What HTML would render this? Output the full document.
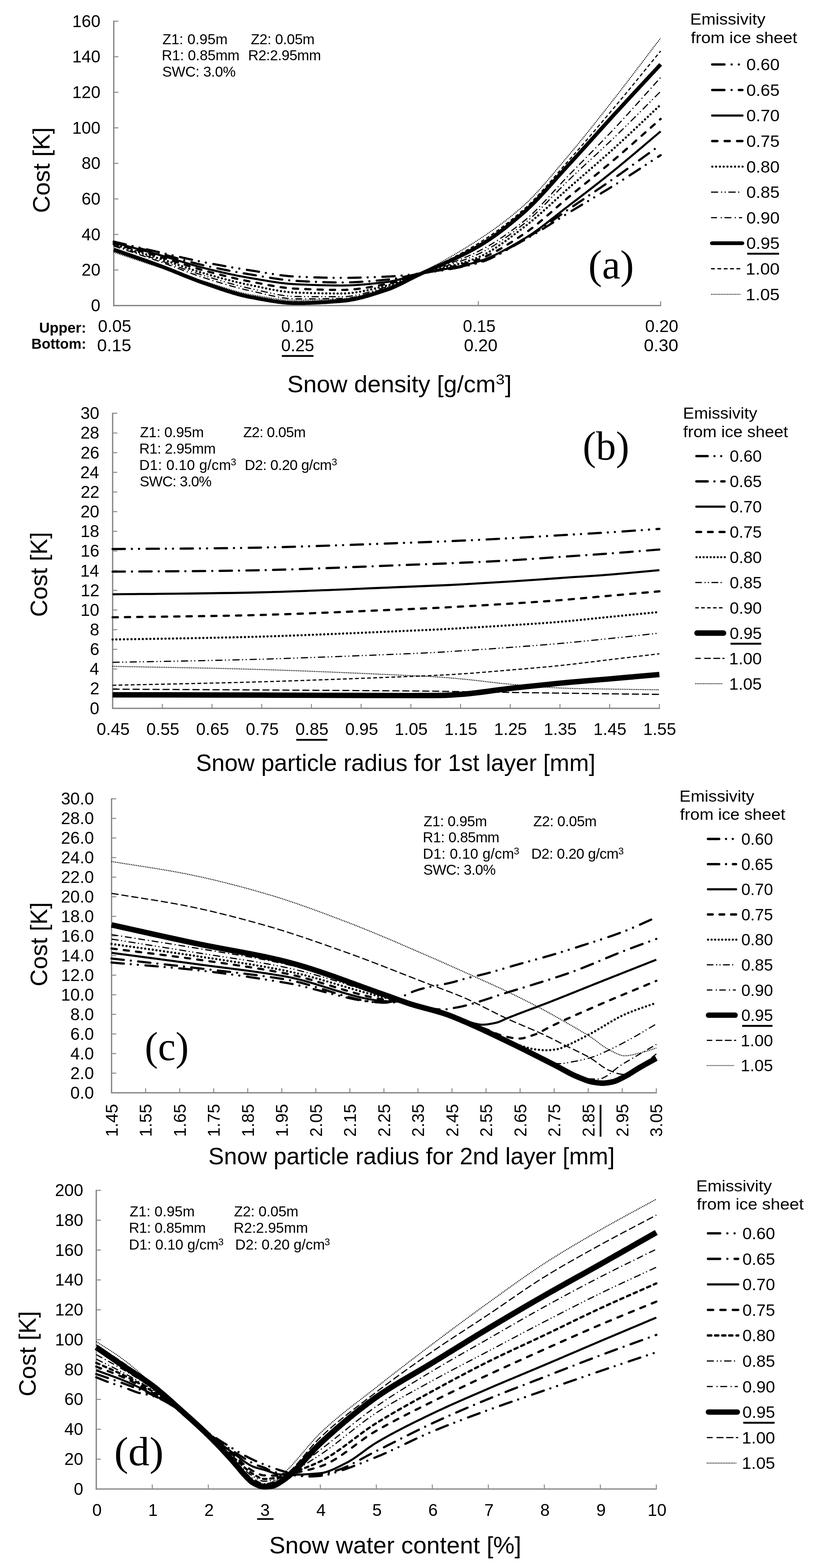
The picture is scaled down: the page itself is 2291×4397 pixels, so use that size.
<!DOCTYPE html>
<html><head><meta charset="utf-8"><title>Cost vs snow parameters</title>
<style>html,body{margin:0;padding:0;background:#fff;}svg{display:block;}</style>
</head><body>
<svg width="2291" height="4397" viewBox="0 0 2291 4397" font-family="'Liberation Sans', Arial, sans-serif" fill="#000">
<rect width="2291" height="4397" fill="#fff"/>
<line x1="319.0" y1="58.0" x2="319.0" y2="858.7" stroke="#878787" stroke-width="3.7" stroke-linecap="butt"/>
<line x1="317.2" y1="856.9" x2="1854.0" y2="856.9" stroke="#878787" stroke-width="3.7" stroke-linecap="butt"/>
<line x1="319.0" y1="856.9" x2="332.0" y2="856.9" stroke="#878787" stroke-width="2.7" stroke-linecap="butt"/>
<line x1="319.0" y1="757.2" x2="332.0" y2="757.2" stroke="#878787" stroke-width="2.7" stroke-linecap="butt"/>
<line x1="319.0" y1="657.5" x2="332.0" y2="657.5" stroke="#878787" stroke-width="2.7" stroke-linecap="butt"/>
<line x1="319.0" y1="557.8" x2="332.0" y2="557.8" stroke="#878787" stroke-width="2.7" stroke-linecap="butt"/>
<line x1="319.0" y1="458.1" x2="332.0" y2="458.1" stroke="#878787" stroke-width="2.7" stroke-linecap="butt"/>
<line x1="319.0" y1="358.5" x2="332.0" y2="358.5" stroke="#878787" stroke-width="2.7" stroke-linecap="butt"/>
<line x1="319.0" y1="258.8" x2="332.0" y2="258.8" stroke="#878787" stroke-width="2.7" stroke-linecap="butt"/>
<line x1="319.0" y1="159.1" x2="332.0" y2="159.1" stroke="#878787" stroke-width="2.7" stroke-linecap="butt"/>
<line x1="319.0" y1="59.4" x2="332.0" y2="59.4" stroke="#878787" stroke-width="2.7" stroke-linecap="butt"/>
<line x1="830.2" y1="856.9" x2="830.2" y2="844.4" stroke="#878787" stroke-width="2.7" stroke-linecap="butt"/>
<line x1="1341.3" y1="856.9" x2="1341.3" y2="844.4" stroke="#878787" stroke-width="2.7" stroke-linecap="butt"/>
<line x1="1852.5" y1="856.9" x2="1852.5" y2="844.4" stroke="#878787" stroke-width="2.7" stroke-linecap="butt"/>
<text x="255.1" y="873.1" font-size="47.5">0</text>
<text x="228.8" y="773.4" font-size="47.5">20</text>
<text x="228.8" y="673.7" font-size="47.5">40</text>
<text x="228.8" y="574.0" font-size="47.5">60</text>
<text x="228.8" y="474.3" font-size="47.5">80</text>
<text x="202.4" y="374.7" font-size="47.5">100</text>
<text x="202.4" y="275.0" font-size="47.5">120</text>
<text x="202.4" y="175.3" font-size="47.5">140</text>
<text x="202.4" y="75.6" font-size="47.5">160</text>
<text x="139.0" y="597.3" font-size="67.5" textLength="240.4" lengthAdjust="spacingAndGlyphs" transform="rotate(-90 139.0 597.3)">Cost [K]</text>
<text x="455.5" y="124.0" font-size="40.5" textLength="182.7" lengthAdjust="spacing">Z1: 0.95m</text>
<text x="703.3" y="124.0" font-size="40.5" textLength="179.0" lengthAdjust="spacing">Z2: 0.05m</text>
<text x="453.6" y="168.8" font-size="40.5" textLength="218.1" lengthAdjust="spacing">R1: 0.85mm</text>
<text x="695.8" y="168.8" font-size="40.5" textLength="204.4" lengthAdjust="spacing">R2:2.95mm</text>
<text x="455.0" y="214.8" font-size="40.5" textLength="206.1" lengthAdjust="spacing">SWC: 3.0%</text>
<text x="109.7" y="933.0" font-size="40" font-weight="bold" textLength="132.0" lengthAdjust="spacingAndGlyphs">Upper:</text>
<text x="88.1" y="978.2" font-size="40" font-weight="bold" textLength="153.6" lengthAdjust="spacingAndGlyphs">Bottom:</text>
<text x="274.8" y="930.5" font-size="47.5" textLength="93.3" lengthAdjust="spacingAndGlyphs">0.05</text>
<text x="788.6" y="930.5" font-size="47.5" textLength="89.9" lengthAdjust="spacingAndGlyphs">0.10</text>
<text x="1298.1" y="930.5" font-size="47.5" textLength="91.5" lengthAdjust="spacingAndGlyphs">0.15</text>
<text x="1809.1" y="930.5" font-size="47.5" textLength="92.9" lengthAdjust="spacingAndGlyphs">0.20</text>
<text x="272.3" y="985.0" font-size="47.5" textLength="95.8" lengthAdjust="spacingAndGlyphs">0.15</text>
<text x="788.5" y="985.0" font-size="47.5" textLength="92.5" lengthAdjust="spacingAndGlyphs">0.25</text>
<text x="1301.1" y="985.0" font-size="47.5" textLength="93.9" lengthAdjust="spacingAndGlyphs">0.20</text>
<text x="1805.5" y="985.0" font-size="47.5" textLength="96.5" lengthAdjust="spacingAndGlyphs">0.30</text>
<rect x="790.4" y="995.7" width="88.6" height="5.0" fill="#000"/>
<text x="805.5" y="1100.0" font-size="67.5" textLength="584.6" lengthAdjust="spacingAndGlyphs">Snow density [g/cm</text>
<text x="1390.2" y="1078.3" font-size="40" textLength="24.9" lengthAdjust="spacingAndGlyphs">3</text>
<text x="1416.3" y="1100.0" font-size="67.5" textLength="18.5" lengthAdjust="spacingAndGlyphs">]</text>
<text x="1649.8" y="780.6" font-size="115" font-family="'Liberation Serif', 'Times New Roman', serif" textLength="127.9" lengthAdjust="spacingAndGlyphs">(a)</text>
<text x="1935.2" y="69.0" font-size="45" textLength="211.3" lengthAdjust="spacingAndGlyphs">Emissivity</text>
<text x="1937.2" y="121.0" font-size="45" textLength="298.3" lengthAdjust="spacingAndGlyphs">from ice sheet</text>
<line x1="1997.2" y1="180.8" x2="2031.3" y2="180.8" stroke="#000" stroke-width="6.6" stroke-linecap="round"/>
<circle cx="2051.6" cy="180.8" r="3.10"/>
<circle cx="2071.8" cy="180.8" r="3.10"/>
<text x="2092.9" y="197.2" font-size="46" textLength="93.2" lengthAdjust="spacingAndGlyphs">0.60</text>
<line x1="1997.2" y1="252.4" x2="2031.3" y2="252.4" stroke="#000" stroke-width="6.6" stroke-linecap="round"/>
<circle cx="2051.6" cy="252.4" r="3.10"/>
<line x1="2072.0" y1="252.4" x2="2081.8" y2="252.4" stroke="#000" stroke-width="6.6" stroke-linecap="round"/>
<text x="2092.9" y="268.8" font-size="46" textLength="93.2" lengthAdjust="spacingAndGlyphs">0.65</text>
<line x1="1997.0" y1="324.0" x2="2082.0" y2="324.0" stroke="#000" stroke-width="6.0" stroke-linecap="round"/>
<text x="2092.9" y="340.4" font-size="46" textLength="93.2" lengthAdjust="spacingAndGlyphs">0.70</text>
<line x1="1997.2" y1="395.6" x2="2011.6" y2="395.6" stroke="#000" stroke-width="6.6" stroke-linecap="round"/>
<line x1="2032.2" y1="395.6" x2="2046.3" y2="395.6" stroke="#000" stroke-width="6.6" stroke-linecap="round"/>
<line x1="2066.9" y1="395.6" x2="2081.8" y2="395.6" stroke="#000" stroke-width="6.6" stroke-linecap="round"/>
<text x="2092.9" y="412.0" font-size="46" textLength="93.2" lengthAdjust="spacingAndGlyphs">0.75</text>
<circle cx="1997.5" cy="467.2" r="3.00"/>
<circle cx="2008.1" cy="467.2" r="3.00"/>
<circle cx="2018.7" cy="467.2" r="3.00"/>
<circle cx="2029.3" cy="467.2" r="3.00"/>
<circle cx="2039.9" cy="467.2" r="3.00"/>
<circle cx="2050.5" cy="467.2" r="3.00"/>
<circle cx="2061.1" cy="467.2" r="3.00"/>
<circle cx="2071.7" cy="467.2" r="3.00"/>
<circle cx="2082.3" cy="467.2" r="3.00"/>
<text x="2092.9" y="483.6" font-size="46" textLength="93.2" lengthAdjust="spacingAndGlyphs">0.80</text>
<line x1="1994.0" y1="538.8" x2="2013.7" y2="538.8" stroke="#000" stroke-width="3.3" stroke-linecap="butt"/>
<line x1="2021.9" y1="538.8" x2="2025.1" y2="538.8" stroke="#000" stroke-width="3.3" stroke-linecap="butt"/>
<line x1="2031.9" y1="538.8" x2="2035.1" y2="538.8" stroke="#000" stroke-width="3.3" stroke-linecap="butt"/>
<line x1="2042.5" y1="538.8" x2="2063.0" y2="538.8" stroke="#000" stroke-width="3.3" stroke-linecap="butt"/>
<line x1="2069.9" y1="538.8" x2="2073.1" y2="538.8" stroke="#000" stroke-width="3.3" stroke-linecap="butt"/>
<text x="2092.9" y="555.2" font-size="46" textLength="93.2" lengthAdjust="spacingAndGlyphs">0.85</text>
<line x1="1994.0" y1="610.4" x2="2010.5" y2="610.4" stroke="#000" stroke-width="3.3" stroke-linecap="butt"/>
<line x1="2031.5" y1="610.4" x2="2051.0" y2="610.4" stroke="#000" stroke-width="3.3" stroke-linecap="butt"/>
<line x1="2072.0" y1="610.4" x2="2081.0" y2="610.4" stroke="#000" stroke-width="3.3" stroke-linecap="butt"/>
<line x1="2020.9" y1="610.4" x2="2024.1" y2="610.4" stroke="#000" stroke-width="3.3" stroke-linecap="butt"/>
<line x1="2060.4" y1="610.4" x2="2063.6" y2="610.4" stroke="#000" stroke-width="3.3" stroke-linecap="butt"/>
<text x="2092.9" y="626.8" font-size="46" textLength="93.2" lengthAdjust="spacingAndGlyphs">0.90</text>
<line x1="1996.3" y1="682.0" x2="2081.7" y2="682.0" stroke="#000" stroke-width="10.7" stroke-linecap="round"/>
<text x="2092.9" y="698.4" font-size="46" textLength="93.2" lengthAdjust="spacingAndGlyphs">0.95</text>
<rect x="2095.3" y="708.8" width="89.3" height="5.4" fill="#000"/>
<line x1="1994.0" y1="753.6" x2="2004.5" y2="753.6" stroke="#000" stroke-width="3.6" stroke-linecap="butt"/>
<line x1="2011.8" y1="753.6" x2="2022.3" y2="753.6" stroke="#000" stroke-width="3.6" stroke-linecap="butt"/>
<line x1="2029.6" y1="753.6" x2="2040.1" y2="753.6" stroke="#000" stroke-width="3.6" stroke-linecap="butt"/>
<line x1="2047.4" y1="753.6" x2="2057.9" y2="753.6" stroke="#000" stroke-width="3.6" stroke-linecap="butt"/>
<line x1="2065.2" y1="753.6" x2="2075.7" y2="753.6" stroke="#000" stroke-width="3.6" stroke-linecap="butt"/>
<text x="2091.1" y="770.0" font-size="46" textLength="95.0" lengthAdjust="spacingAndGlyphs">1.00</text>
<line x1="1994.0" y1="825.2" x2="2076.5" y2="825.2" stroke="#000" stroke-width="2.6" stroke-dasharray="2.3 2.2"/>
<text x="2091.1" y="841.6" font-size="46" textLength="95.0" lengthAdjust="spacingAndGlyphs">1.05</text>
<path d="M319.0,707.4 L322.8,708.6 L326.7,709.9 L330.5,711.2 L334.4,712.5 L338.2,713.8 L342.1,715.0 L345.9,716.3 L349.7,717.6 L353.6,718.9 L357.4,720.2 L361.3,721.5 L365.1,722.8 L369.0,724.1 L372.8,725.3 L376.7,726.6 L380.5,727.9 L384.3,729.2 L388.2,730.5 L392.0,731.8 L395.9,733.0 L399.7,734.3 L403.6,735.6 L407.4,736.9 L411.2,738.1 L415.1,739.4 L418.9,740.7 L422.8,741.9 L426.6,743.2 L430.5,744.4 L434.3,745.7 L438.1,746.9 L442.0,748.2 L445.8,749.4 L449.7,750.7 L453.5,751.9 L457.4,753.1 L461.2,754.4 L465.0,755.6 L468.9,756.8 L472.7,758.0 L476.6,759.3 L480.4,760.5 L484.3,761.7 L488.1,762.9 L492.0,764.2 L495.8,765.4 L499.6,766.6 L503.5,767.8 L507.3,769.0 L511.2,770.2 L515.0,771.4 L518.9,772.6 L522.7,773.8 L526.5,775.0 L530.4,776.2 L534.2,777.4 L538.1,778.6 L541.9,779.7 L545.8,780.9 L549.6,782.1 L553.4,783.3 L557.3,784.4 L561.1,785.6 L565.0,786.7 L568.8,787.9 L572.7,789.0 L576.5,790.2 L580.3,791.3 L584.2,792.5 L588.0,793.7 L591.9,794.9 L595.7,796.1 L599.6,797.4 L603.4,798.6 L607.3,799.8 L611.1,801.1 L614.9,802.3 L618.8,803.6 L622.6,804.8 L626.5,806.0 L630.3,807.2 L634.2,808.4 L638.0,809.6 L641.8,810.8 L645.7,812.0 L649.5,813.1 L653.4,814.3 L657.2,815.4 L661.1,816.5 L664.9,817.5 L668.7,818.5 L672.6,819.5 L676.4,820.5 L680.3,821.4 L684.1,822.3 L688.0,823.2 L691.8,824.0 L695.6,824.8 L699.5,825.5 L703.3,826.2 L707.2,826.8 L711.0,827.5 L714.9,828.2 L718.7,828.9 L722.6,829.5 L726.4,830.2 L730.2,830.9 L734.1,831.6 L737.9,832.2 L741.8,832.9 L745.6,833.5 L749.5,834.2 L753.3,834.8 L757.1,835.4 L761.0,836.0 L764.8,836.5 L768.7,837.1 L772.5,837.6 L776.4,838.1 L780.2,838.6 L784.0,839.1 L787.9,839.5 L791.7,839.9 L795.6,840.3 L799.4,840.6 L803.3,840.9 L807.1,841.2 L810.9,841.4 L814.8,841.6 L818.6,841.7 L822.5,841.9 L826.3,841.9 L830.2,841.9 L834.0,841.9 L837.9,841.9 L841.7,841.9 L845.5,841.9 L849.4,841.8 L853.2,841.8 L857.1,841.7 L860.9,841.7 L864.8,841.6 L868.6,841.5 L872.4,841.4 L876.3,841.4 L880.1,841.3 L884.0,841.1 L887.8,841.0 L891.7,840.9 L895.5,840.8 L899.3,840.7 L903.2,840.5 L907.0,840.4 L910.9,840.2 L914.7,840.1 L918.6,839.9 L922.4,839.7 L926.3,839.6 L930.1,839.4 L933.9,839.2 L937.8,839.0 L941.6,838.8 L945.5,838.6 L949.3,838.4 L953.2,838.2 L957.0,838.0 L960.8,837.8 L964.7,837.5 L968.5,837.1 L972.4,836.7 L976.2,836.2 L980.1,835.6 L983.9,835.0 L987.7,834.3 L991.6,833.6 L995.4,832.8 L999.3,832.0 L1003.1,831.1 L1007.0,830.2 L1010.8,829.2 L1014.6,828.2 L1018.5,827.2 L1022.3,826.1 L1026.2,825.1 L1030.0,823.9 L1033.9,822.8 L1037.7,821.6 L1041.6,820.4 L1045.4,819.2 L1049.2,818.0 L1053.1,816.7 L1056.9,815.5 L1060.8,814.2 L1064.6,813.0 L1068.5,811.7 L1072.3,810.5 L1076.1,809.2 L1080.0,807.9 L1083.8,806.7 L1087.7,805.4 L1091.5,804.1 L1095.4,802.8 L1099.2,801.4 L1103.0,799.9 L1106.9,798.4 L1110.7,796.8 L1114.6,795.3 L1118.4,793.6 L1122.3,792.0 L1126.1,790.3 L1129.9,788.5 L1133.8,786.8 L1137.6,785.0 L1141.5,783.2 L1145.3,781.4 L1149.2,779.5 L1153.0,777.7 L1156.9,775.8 L1160.7,774.0 L1164.5,772.1 L1168.4,770.3 L1172.2,768.4 L1176.1,766.5 L1179.9,764.6 L1183.8,762.7 L1187.6,760.8 L1191.4,758.9 L1195.3,756.9 L1199.1,755.0 L1203.0,753.0 L1206.8,751.0 L1210.7,749.0 L1214.5,747.0 L1218.3,745.0 L1222.2,742.9 L1226.0,740.9 L1229.9,738.8 L1233.7,736.7 L1237.6,734.6 L1241.4,732.5 L1245.2,730.4 L1249.1,728.3 L1252.9,726.1 L1256.8,723.9 L1260.6,721.8 L1264.5,719.6 L1268.3,717.4 L1272.2,715.1 L1276.0,712.9 L1279.8,710.6 L1283.7,708.4 L1287.5,706.1 L1291.4,703.8 L1295.2,701.5 L1299.1,699.1 L1302.9,696.8 L1306.7,694.4 L1310.6,692.0 L1314.4,689.6 L1318.3,687.2 L1322.1,684.8 L1326.0,682.4 L1329.8,679.9 L1333.6,677.5 L1337.5,675.0 L1341.3,672.5 L1345.2,670.0 L1349.0,667.4 L1352.9,664.9 L1356.7,662.3 L1360.6,659.7 L1364.4,657.1 L1368.2,654.5 L1372.1,651.9 L1375.9,649.2 L1379.8,646.5 L1383.6,643.8 L1387.5,641.1 L1391.3,638.3 L1395.1,635.6 L1399.0,632.8 L1402.8,629.9 L1406.7,627.1 L1410.5,624.2 L1414.4,621.2 L1418.2,618.3 L1422.0,615.3 L1425.9,612.3 L1429.7,609.2 L1433.6,606.1 L1437.4,603.0 L1441.3,599.9 L1445.1,596.7 L1448.9,593.4 L1452.8,590.1 L1456.6,586.8 L1460.5,583.5 L1464.3,580.1 L1468.2,576.6 L1472.0,573.2 L1475.9,569.6 L1479.7,565.9 L1483.5,562.2 L1487.4,558.4 L1491.2,554.5 L1495.1,550.6 L1498.9,546.5 L1502.8,542.5 L1506.6,538.3 L1510.4,534.2 L1514.3,529.9 L1518.1,525.6 L1522.0,521.3 L1525.8,516.9 L1529.7,512.5 L1533.5,508.1 L1537.3,503.6 L1541.2,499.1 L1545.0,494.6 L1548.9,490.1 L1552.7,485.5 L1556.6,480.9 L1560.4,476.3 L1564.2,471.7 L1568.1,467.1 L1571.9,462.5 L1575.8,457.9 L1579.6,453.3 L1583.5,448.7 L1587.3,444.1 L1591.2,439.5 L1595.0,435.0 L1598.8,430.5 L1602.7,425.9 L1606.5,421.3 L1610.4,416.7 L1614.2,412.1 L1618.1,407.5 L1621.9,402.8 L1625.7,398.2 L1629.6,393.5 L1633.4,388.8 L1637.3,384.0 L1641.1,379.3 L1645.0,374.5 L1648.8,369.8 L1652.6,365.0 L1656.5,360.2 L1660.3,355.4 L1664.2,350.5 L1668.0,345.7 L1671.9,340.9 L1675.7,336.0 L1679.5,331.2 L1683.4,326.3 L1687.2,321.4 L1691.1,316.6 L1694.9,311.7 L1698.8,306.8 L1702.6,301.9 L1706.5,297.0 L1710.3,292.1 L1714.1,287.2 L1718.0,282.3 L1721.8,277.4 L1725.7,272.5 L1729.5,267.6 L1733.4,262.7 L1737.2,257.7 L1741.0,252.8 L1744.9,247.8 L1748.7,242.8 L1752.6,237.9 L1756.4,232.9 L1760.3,227.9 L1764.1,222.9 L1767.9,217.8 L1771.8,212.8 L1775.6,207.8 L1779.5,202.7 L1783.3,197.7 L1787.2,192.6 L1791.0,187.6 L1794.8,182.5 L1798.7,177.5 L1802.5,172.4 L1806.4,167.4 L1810.2,162.3 L1814.1,157.2 L1817.9,152.2 L1821.8,147.1 L1825.6,142.0 L1829.4,137.0 L1833.3,131.9 L1837.1,126.9 L1841.0,121.8 L1844.8,116.8 L1848.7,111.8 L1852.5,106.8" fill="none" stroke="#000" stroke-width="2.8" stroke-linecap="butt" stroke-linejoin="round" stroke-dasharray="2.6 2.4"/>
<path d="M319.0,702.4 L322.8,703.7 L326.7,705.1 L330.5,706.4 L334.4,707.8 L338.2,709.1 L342.1,710.5 L345.9,711.8 L349.7,713.2 L353.6,714.5 L357.4,715.9 L361.3,717.2 L365.1,718.6 L369.0,719.9 L372.8,721.3 L376.7,722.6 L380.5,724.0 L384.3,725.3 L388.2,726.7 L392.0,728.0 L395.9,729.4 L399.7,730.7 L403.6,732.1 L407.4,733.4 L411.2,734.8 L415.1,736.1 L418.9,737.5 L422.8,738.8 L426.6,740.2 L430.5,741.5 L434.3,742.9 L438.1,744.2 L442.0,745.6 L445.8,746.9 L449.7,748.3 L453.5,749.6 L457.4,751.0 L461.2,752.3 L465.0,753.7 L468.9,755.1 L472.7,756.5 L476.6,757.9 L480.4,759.3 L484.3,760.6 L488.1,762.0 L492.0,763.4 L495.8,764.8 L499.6,766.2 L503.5,767.6 L507.3,769.0 L511.2,770.4 L515.0,771.7 L518.9,773.1 L522.7,774.5 L526.5,775.8 L530.4,777.2 L534.2,778.5 L538.1,779.9 L541.9,781.2 L545.8,782.5 L549.6,783.8 L553.4,785.2 L557.3,786.4 L561.1,787.7 L565.0,789.0 L568.8,790.2 L572.7,791.5 L576.5,792.7 L580.3,794.0 L584.2,795.2 L588.0,796.5 L591.9,797.7 L595.7,799.0 L599.6,800.3 L603.4,801.6 L607.3,802.8 L611.1,804.1 L614.9,805.4 L618.8,806.7 L622.6,807.9 L626.5,809.2 L630.3,810.4 L634.2,811.7 L638.0,812.9 L641.8,814.1 L645.7,815.3 L649.5,816.4 L653.4,817.6 L657.2,818.7 L661.1,819.8 L664.9,820.9 L668.7,821.9 L672.6,822.9 L676.4,823.9 L680.3,824.8 L684.1,825.7 L688.0,826.6 L691.8,827.4 L695.6,828.2 L699.5,829.0 L703.3,829.7 L707.2,830.3 L711.0,831.0 L714.9,831.7 L718.7,832.4 L722.6,833.1 L726.4,833.8 L730.2,834.5 L734.1,835.2 L737.9,835.9 L741.8,836.6 L745.6,837.2 L749.5,837.9 L753.3,838.5 L757.1,839.2 L761.0,839.8 L764.8,840.4 L768.7,840.9 L772.5,841.5 L776.4,842.0 L780.2,842.5 L784.0,843.0 L787.9,843.4 L791.7,843.8 L795.6,844.2 L799.4,844.5 L803.3,844.9 L807.1,845.1 L810.9,845.4 L814.8,845.6 L818.6,845.7 L822.5,845.8 L826.3,845.9 L830.2,845.9 L834.0,845.9 L837.9,845.9 L841.7,845.9 L845.5,845.8 L849.4,845.8 L853.2,845.7 L857.1,845.7 L860.9,845.6 L864.8,845.5 L868.6,845.4 L872.4,845.3 L876.3,845.2 L880.1,845.0 L884.0,844.9 L887.8,844.8 L891.7,844.6 L895.5,844.5 L899.3,844.3 L903.2,844.1 L907.0,843.9 L910.9,843.7 L914.7,843.6 L918.6,843.4 L922.4,843.1 L926.3,842.9 L930.1,842.7 L933.9,842.5 L937.8,842.2 L941.6,842.0 L945.5,841.8 L949.3,841.5 L953.2,841.3 L957.0,841.0 L960.8,840.7 L964.7,840.4 L968.5,840.0 L972.4,839.5 L976.2,839.0 L980.1,838.4 L983.9,837.8 L987.7,837.1 L991.6,836.4 L995.4,835.6 L999.3,834.8 L1003.1,833.9 L1007.0,833.0 L1010.8,832.1 L1014.6,831.1 L1018.5,830.1 L1022.3,829.0 L1026.2,828.0 L1030.0,826.8 L1033.9,825.7 L1037.7,824.6 L1041.6,823.4 L1045.4,822.2 L1049.2,821.0 L1053.1,819.8 L1056.9,818.5 L1060.8,817.3 L1064.6,816.0 L1068.5,814.8 L1072.3,813.5 L1076.1,812.2 L1080.0,810.9 L1083.8,809.7 L1087.7,808.4 L1091.5,807.1 L1095.4,805.7 L1099.2,804.2 L1103.0,802.7 L1106.9,801.1 L1110.7,799.4 L1114.6,797.7 L1118.4,796.0 L1122.3,794.2 L1126.1,792.4 L1129.9,790.6 L1133.8,788.8 L1137.6,786.9 L1141.5,785.0 L1145.3,783.1 L1149.2,781.2 L1153.0,779.3 L1156.9,777.4 L1160.7,775.5 L1164.5,773.6 L1168.4,771.7 L1172.2,769.9 L1176.1,768.1 L1179.9,766.2 L1183.8,764.4 L1187.6,762.6 L1191.4,760.7 L1195.3,758.9 L1199.1,757.1 L1203.0,755.2 L1206.8,753.4 L1210.7,751.6 L1214.5,749.7 L1218.3,747.9 L1222.2,746.1 L1226.0,744.2 L1229.9,742.3 L1233.7,740.5 L1237.6,738.6 L1241.4,736.7 L1245.2,734.8 L1249.1,732.9 L1252.9,731.0 L1256.8,729.1 L1260.6,727.2 L1264.5,725.2 L1268.3,723.3 L1272.2,721.3 L1276.0,719.3 L1279.8,717.3 L1283.7,715.3 L1287.5,713.2 L1291.4,711.2 L1295.2,709.1 L1299.1,707.0 L1302.9,704.9 L1306.7,702.7 L1310.6,700.6 L1314.4,698.4 L1318.3,696.2 L1322.1,694.0 L1326.0,691.7 L1329.8,689.4 L1333.6,687.1 L1337.5,684.8 L1341.3,682.4 L1345.2,680.1 L1349.0,677.6 L1352.9,675.2 L1356.7,672.7 L1360.6,670.2 L1364.4,667.7 L1368.2,665.1 L1372.1,662.5 L1375.9,659.9 L1379.8,657.3 L1383.6,654.6 L1387.5,651.9 L1391.3,649.1 L1395.1,646.3 L1399.0,643.5 L1402.8,640.7 L1406.7,637.8 L1410.5,634.9 L1414.4,632.0 L1418.2,629.0 L1422.0,626.0 L1425.9,623.0 L1429.7,620.0 L1433.6,616.9 L1437.4,613.8 L1441.3,610.6 L1445.1,607.4 L1448.9,604.2 L1452.8,600.9 L1456.6,597.7 L1460.5,594.3 L1464.3,591.0 L1468.2,587.6 L1472.0,584.2 L1475.9,580.7 L1479.7,577.1 L1483.5,573.4 L1487.4,569.7 L1491.2,565.9 L1495.1,562.0 L1498.9,558.1 L1502.8,554.1 L1506.6,550.0 L1510.4,545.9 L1514.3,541.8 L1518.1,537.6 L1522.0,533.4 L1525.8,529.1 L1529.7,524.8 L1533.5,520.5 L1537.3,516.1 L1541.2,511.7 L1545.0,507.3 L1548.9,502.9 L1552.7,498.5 L1556.6,494.1 L1560.4,489.6 L1564.2,485.2 L1568.1,480.7 L1571.9,476.3 L1575.8,471.8 L1579.6,467.4 L1583.5,463.0 L1587.3,458.6 L1591.2,454.2 L1595.0,449.8 L1598.8,445.5 L1602.7,441.2 L1606.5,436.8 L1610.4,432.5 L1614.2,428.1 L1618.1,423.7 L1621.9,419.3 L1625.7,414.9 L1629.6,410.5 L1633.4,406.0 L1637.3,401.6 L1641.1,397.1 L1645.0,392.7 L1648.8,388.2 L1652.6,383.7 L1656.5,379.3 L1660.3,374.8 L1664.2,370.3 L1668.0,365.8 L1671.9,361.2 L1675.7,356.7 L1679.5,352.2 L1683.4,347.7 L1687.2,343.1 L1691.1,338.6 L1694.9,334.0 L1698.8,329.5 L1702.6,324.9 L1706.5,320.4 L1710.3,315.8 L1714.1,311.2 L1718.0,306.7 L1721.8,302.1 L1725.7,297.5 L1729.5,292.9 L1733.4,288.3 L1737.2,283.7 L1741.0,279.1 L1744.9,274.5 L1748.7,269.8 L1752.6,265.2 L1756.4,260.5 L1760.3,255.9 L1764.1,251.2 L1767.9,246.5 L1771.8,241.8 L1775.6,237.2 L1779.5,232.5 L1783.3,227.8 L1787.2,223.1 L1791.0,218.4 L1794.8,213.7 L1798.7,209.0 L1802.5,204.2 L1806.4,199.5 L1810.2,194.8 L1814.1,190.1 L1817.9,185.4 L1821.8,180.7 L1825.6,176.0 L1829.4,171.3 L1833.3,166.6 L1837.1,161.9 L1841.0,157.2 L1844.8,152.5 L1848.7,147.8 L1852.5,143.1" fill="none" stroke="#000" stroke-width="3.3" stroke-linecap="butt" stroke-linejoin="round" stroke-dasharray="10 7"/>
<path d="M319.0,699.9 L322.8,701.2 L326.7,702.6 L330.5,703.9 L334.4,705.3 L338.2,706.6 L342.1,707.9 L345.9,709.3 L349.7,710.6 L353.6,711.9 L357.4,713.2 L361.3,714.6 L365.1,715.9 L369.0,717.2 L372.8,718.5 L376.7,719.9 L380.5,721.2 L384.3,722.5 L388.2,723.9 L392.0,725.2 L395.9,726.5 L399.7,727.9 L403.6,729.2 L407.4,730.6 L411.2,731.9 L415.1,733.3 L418.9,734.7 L422.8,736.0 L426.6,737.4 L430.5,738.8 L434.3,740.2 L438.1,741.6 L442.0,743.0 L445.8,744.4 L449.7,745.8 L453.5,747.3 L457.4,748.7 L461.2,750.2 L465.0,751.7 L468.9,753.2 L472.7,754.7 L476.6,756.3 L480.4,757.8 L484.3,759.4 L488.1,760.9 L492.0,762.5 L495.8,764.1 L499.6,765.6 L503.5,767.2 L507.3,768.8 L511.2,770.4 L515.0,771.9 L518.9,773.5 L522.7,775.0 L526.5,776.6 L530.4,778.1 L534.2,779.6 L538.1,781.1 L541.9,782.6 L545.8,784.1 L549.6,785.6 L553.4,787.0 L557.3,788.5 L561.1,789.9 L565.0,791.3 L568.8,792.6 L572.7,793.9 L576.5,795.2 L580.3,796.6 L584.2,797.9 L588.0,799.2 L591.9,800.5 L595.7,801.9 L599.6,803.2 L603.4,804.5 L607.3,805.8 L611.1,807.2 L614.9,808.5 L618.8,809.8 L622.6,811.1 L626.5,812.3 L630.3,813.6 L634.2,814.9 L638.0,816.1 L641.8,817.3 L645.7,818.5 L649.5,819.7 L653.4,820.9 L657.2,822.0 L661.1,823.1 L664.9,824.2 L668.7,825.3 L672.6,826.3 L676.4,827.3 L680.3,828.2 L684.1,829.1 L688.0,830.0 L691.8,830.9 L695.6,831.7 L699.5,832.4 L703.3,833.2 L707.2,833.9 L711.0,834.6 L714.9,835.3 L718.7,836.0 L722.6,836.7 L726.4,837.5 L730.2,838.2 L734.1,838.9 L737.9,839.6 L741.8,840.3 L745.6,841.0 L749.5,841.6 L753.3,842.3 L757.1,842.9 L761.0,843.6 L764.8,844.2 L768.7,844.8 L772.5,845.3 L776.4,845.9 L780.2,846.4 L784.0,846.9 L787.9,847.3 L791.7,847.7 L795.6,848.1 L799.4,848.5 L803.3,848.8 L807.1,849.1 L810.9,849.3 L814.8,849.5 L818.6,849.7 L822.5,849.8 L826.3,849.9 L830.2,849.9 L834.0,849.9 L837.9,849.9 L841.7,849.9 L845.5,849.8 L849.4,849.8 L853.2,849.7 L857.1,849.6 L860.9,849.5 L864.8,849.4 L868.6,849.3 L872.4,849.1 L876.3,849.0 L880.1,848.8 L884.0,848.7 L887.8,848.5 L891.7,848.3 L895.5,848.1 L899.3,847.9 L903.2,847.7 L907.0,847.5 L910.9,847.3 L914.7,847.0 L918.6,846.8 L922.4,846.5 L926.3,846.3 L930.1,846.0 L933.9,845.7 L937.8,845.5 L941.6,845.2 L945.5,844.9 L949.3,844.6 L953.2,844.3 L957.0,844.0 L960.8,843.7 L964.7,843.3 L968.5,842.9 L972.4,842.4 L976.2,841.9 L980.1,841.3 L983.9,840.6 L987.7,839.9 L991.6,839.2 L995.4,838.4 L999.3,837.6 L1003.1,836.8 L1007.0,835.9 L1010.8,834.9 L1014.6,834.0 L1018.5,833.0 L1022.3,831.9 L1026.2,830.9 L1030.0,829.8 L1033.9,828.7 L1037.7,827.5 L1041.6,826.4 L1045.4,825.2 L1049.2,824.0 L1053.1,822.8 L1056.9,821.5 L1060.8,820.3 L1064.6,819.0 L1068.5,817.8 L1072.3,816.5 L1076.1,815.2 L1080.0,814.0 L1083.8,812.7 L1087.7,811.4 L1091.5,810.0 L1095.4,808.6 L1099.2,807.0 L1103.0,805.4 L1106.9,803.8 L1110.7,802.0 L1114.6,800.2 L1118.4,798.4 L1122.3,796.5 L1126.1,794.6 L1129.9,792.7 L1133.8,790.7 L1137.6,788.8 L1141.5,786.8 L1145.3,784.8 L1149.2,782.8 L1153.0,780.9 L1156.9,778.9 L1160.7,777.0 L1164.5,775.1 L1168.4,773.2 L1172.2,771.4 L1176.1,769.6 L1179.9,767.8 L1183.8,766.0 L1187.6,764.3 L1191.4,762.6 L1195.3,760.8 L1199.1,759.1 L1203.0,757.4 L1206.8,755.7 L1210.7,754.0 L1214.5,752.3 L1218.3,750.6 L1222.2,748.9 L1226.0,747.2 L1229.9,745.6 L1233.7,743.9 L1237.6,742.2 L1241.4,740.5 L1245.2,738.8 L1249.1,737.1 L1252.9,735.4 L1256.8,733.6 L1260.6,731.9 L1264.5,730.2 L1268.3,728.4 L1272.2,726.6 L1276.0,724.9 L1279.8,723.1 L1283.7,721.2 L1287.5,719.4 L1291.4,717.5 L1295.2,715.7 L1299.1,713.8 L1302.9,711.8 L1306.7,709.9 L1310.6,707.9 L1314.4,705.9 L1318.3,703.8 L1322.1,701.8 L1326.0,699.7 L1329.8,697.5 L1333.6,695.4 L1337.5,693.2 L1341.3,690.9 L1345.2,688.6 L1349.0,686.3 L1352.9,683.9 L1356.7,681.5 L1360.6,679.1 L1364.4,676.6 L1368.2,674.0 L1372.1,671.5 L1375.9,668.9 L1379.8,666.2 L1383.6,663.5 L1387.5,660.8 L1391.3,658.0 L1395.1,655.2 L1399.0,652.4 L1402.8,649.5 L1406.7,646.6 L1410.5,643.7 L1414.4,640.7 L1418.2,637.7 L1422.0,634.7 L1425.9,631.6 L1429.7,628.5 L1433.6,625.4 L1437.4,622.2 L1441.3,619.1 L1445.1,615.8 L1448.9,612.6 L1452.8,609.3 L1456.6,606.1 L1460.5,602.8 L1464.3,599.4 L1468.2,596.1 L1472.0,592.7 L1475.9,589.2 L1479.7,585.7 L1483.5,582.0 L1487.4,578.4 L1491.2,574.6 L1495.1,570.8 L1498.9,566.9 L1502.8,563.0 L1506.6,559.1 L1510.4,555.0 L1514.3,551.0 L1518.1,546.9 L1522.0,542.7 L1525.8,538.6 L1529.7,534.4 L1533.5,530.2 L1537.3,525.9 L1541.2,521.6 L1545.0,517.4 L1548.9,513.1 L1552.7,508.8 L1556.6,504.5 L1560.4,500.1 L1564.2,495.8 L1568.1,491.5 L1571.9,487.2 L1575.8,482.9 L1579.6,478.6 L1583.5,474.4 L1587.3,470.1 L1591.2,465.9 L1595.0,461.7 L1598.8,457.6 L1602.7,453.4 L1606.5,449.2 L1610.4,445.0 L1614.2,440.8 L1618.1,436.6 L1621.9,432.4 L1625.7,428.1 L1629.6,423.9 L1633.4,419.7 L1637.3,415.4 L1641.1,411.2 L1645.0,406.9 L1648.8,402.6 L1652.6,398.4 L1656.5,394.1 L1660.3,389.8 L1664.2,385.5 L1668.0,381.3 L1671.9,377.0 L1675.7,372.7 L1679.5,368.4 L1683.4,364.2 L1687.2,359.9 L1691.1,355.6 L1694.9,351.4 L1698.8,347.1 L1702.6,342.9 L1706.5,338.6 L1710.3,334.4 L1714.1,330.2 L1718.0,325.9 L1721.8,321.7 L1725.7,317.5 L1729.5,313.3 L1733.4,309.2 L1737.2,305.0 L1741.0,300.8 L1744.9,296.6 L1748.7,292.5 L1752.6,288.3 L1756.4,284.1 L1760.3,280.0 L1764.1,275.8 L1767.9,271.7 L1771.8,267.5 L1775.6,263.4 L1779.5,259.2 L1783.3,255.1 L1787.2,250.9 L1791.0,246.8 L1794.8,242.6 L1798.7,238.5 L1802.5,234.4 L1806.4,230.2 L1810.2,226.1 L1814.1,222.0 L1817.9,217.8 L1821.8,213.7 L1825.6,209.5 L1829.4,205.4 L1833.3,201.3 L1837.1,197.1 L1841.0,193.0 L1844.8,188.8 L1848.7,184.7 L1852.5,180.5" fill="none" stroke="#000" stroke-width="10.7" stroke-linecap="butt" stroke-linejoin="round"/>
<path d="M319.0,689.9 L322.8,691.2 L326.7,692.5 L330.5,693.8 L334.4,695.1 L338.2,696.4 L342.1,697.7 L345.9,699.0 L349.7,700.3 L353.6,701.6 L357.4,702.9 L361.3,704.2 L365.1,705.5 L369.0,706.7 L372.8,708.0 L376.7,709.3 L380.5,710.6 L384.3,711.9 L388.2,713.2 L392.0,714.5 L395.9,715.8 L399.7,717.1 L403.6,718.4 L407.4,719.7 L411.2,721.0 L415.1,722.3 L418.9,723.6 L422.8,725.0 L426.6,726.3 L430.5,727.6 L434.3,728.9 L438.1,730.3 L442.0,731.6 L445.8,733.0 L449.7,734.3 L453.5,735.7 L457.4,737.1 L461.2,738.4 L465.0,739.9 L468.9,741.3 L472.7,742.7 L476.6,744.1 L480.4,745.6 L484.3,747.0 L488.1,748.5 L492.0,749.9 L495.8,751.4 L499.6,752.8 L503.5,754.3 L507.3,755.7 L511.2,757.2 L515.0,758.6 L518.9,760.1 L522.7,761.5 L526.5,762.9 L530.4,764.4 L534.2,765.8 L538.1,767.2 L541.9,768.6 L545.8,769.9 L549.6,771.3 L553.4,772.6 L557.3,773.9 L561.1,775.2 L565.0,776.5 L568.8,777.8 L572.7,779.0 L576.5,780.3 L580.3,781.5 L584.2,782.7 L588.0,783.9 L591.9,785.1 L595.7,786.3 L599.6,787.5 L603.4,788.7 L607.3,789.9 L611.1,791.0 L614.9,792.2 L618.8,793.4 L622.6,794.5 L626.5,795.7 L630.3,796.8 L634.2,797.9 L638.0,799.1 L641.8,800.2 L645.7,801.2 L649.5,802.3 L653.4,803.4 L657.2,804.4 L661.1,805.5 L664.9,806.5 L668.7,807.5 L672.6,808.5 L676.4,809.5 L680.3,810.4 L684.1,811.4 L688.0,812.3 L691.8,813.2 L695.6,814.0 L699.5,814.9 L703.3,815.7 L707.2,816.6 L711.0,817.4 L714.9,818.3 L718.7,819.2 L722.6,820.1 L726.4,821.0 L730.2,821.9 L734.1,822.9 L737.9,823.8 L741.8,824.7 L745.6,825.6 L749.5,826.5 L753.3,827.4 L757.1,828.2 L761.0,829.1 L764.8,829.9 L768.7,830.7 L772.5,831.5 L776.4,832.2 L780.2,832.9 L784.0,833.6 L787.9,834.2 L791.7,834.8 L795.6,835.4 L799.4,835.9 L803.3,836.4 L807.1,836.8 L810.9,837.1 L814.8,837.4 L818.6,837.6 L822.5,837.8 L826.3,837.9 L830.2,838.0 L834.0,838.0 L837.9,838.0 L841.7,838.0 L845.5,837.9 L849.4,837.9 L853.2,837.9 L857.1,837.9 L860.9,837.9 L864.8,837.9 L868.6,837.9 L872.4,837.8 L876.3,837.8 L880.1,837.8 L884.0,837.8 L887.8,837.7 L891.7,837.7 L895.5,837.7 L899.3,837.7 L903.2,837.6 L907.0,837.6 L910.9,837.6 L914.7,837.5 L918.6,837.5 L922.4,837.4 L926.3,837.4 L930.1,837.3 L933.9,837.3 L937.8,837.2 L941.6,837.2 L945.5,837.1 L949.3,837.1 L953.2,837.0 L957.0,837.0 L960.8,836.9 L964.7,836.7 L968.5,836.5 L972.4,836.2 L976.2,835.8 L980.1,835.3 L983.9,834.8 L987.7,834.2 L991.6,833.5 L995.4,832.8 L999.3,832.1 L1003.1,831.2 L1007.0,830.4 L1010.8,829.5 L1014.6,828.5 L1018.5,827.5 L1022.3,826.5 L1026.2,825.4 L1030.0,824.3 L1033.9,823.2 L1037.7,822.1 L1041.6,820.9 L1045.4,819.7 L1049.2,818.5 L1053.1,817.3 L1056.9,816.1 L1060.8,814.9 L1064.6,813.7 L1068.5,812.5 L1072.3,811.2 L1076.1,810.0 L1080.0,808.8 L1083.8,807.6 L1087.7,806.5 L1091.5,805.2 L1095.4,803.9 L1099.2,802.5 L1103.0,801.1 L1106.9,799.6 L1110.7,798.1 L1114.6,796.5 L1118.4,794.9 L1122.3,793.2 L1126.1,791.6 L1129.9,789.9 L1133.8,788.2 L1137.6,786.5 L1141.5,784.7 L1145.3,783.0 L1149.2,781.3 L1153.0,779.6 L1156.9,777.9 L1160.7,776.3 L1164.5,774.7 L1168.4,773.1 L1172.2,771.5 L1176.1,770.0 L1179.9,768.5 L1183.8,767.0 L1187.6,765.5 L1191.4,764.0 L1195.3,762.6 L1199.1,761.2 L1203.0,759.7 L1206.8,758.3 L1210.7,756.9 L1214.5,755.5 L1218.3,754.1 L1222.2,752.8 L1226.0,751.4 L1229.9,750.0 L1233.7,748.6 L1237.6,747.2 L1241.4,745.9 L1245.2,744.5 L1249.1,743.1 L1252.9,741.7 L1256.8,740.3 L1260.6,738.9 L1264.5,737.5 L1268.3,736.0 L1272.2,734.6 L1276.0,733.1 L1279.8,731.7 L1283.7,730.2 L1287.5,728.7 L1291.4,727.1 L1295.2,725.6 L1299.1,724.0 L1302.9,722.4 L1306.7,720.8 L1310.6,719.2 L1314.4,717.5 L1318.3,715.8 L1322.1,714.0 L1326.0,712.3 L1329.8,710.5 L1333.6,708.6 L1337.5,706.8 L1341.3,704.9 L1345.2,702.9 L1349.0,700.9 L1352.9,698.9 L1356.7,696.8 L1360.6,694.7 L1364.4,692.6 L1368.2,690.4 L1372.1,688.2 L1375.9,685.9 L1379.8,683.6 L1383.6,681.2 L1387.5,678.9 L1391.3,676.4 L1395.1,674.0 L1399.0,671.5 L1402.8,669.0 L1406.7,666.4 L1410.5,663.8 L1414.4,661.2 L1418.2,658.5 L1422.0,655.8 L1425.9,653.1 L1429.7,650.3 L1433.6,647.5 L1437.4,644.7 L1441.3,641.8 L1445.1,638.9 L1448.9,636.0 L1452.8,633.0 L1456.6,630.0 L1460.5,627.0 L1464.3,624.0 L1468.2,620.9 L1472.0,617.8 L1475.9,614.6 L1479.7,611.3 L1483.5,607.9 L1487.4,604.4 L1491.2,600.9 L1495.1,597.2 L1498.9,593.5 L1502.8,589.8 L1506.6,585.9 L1510.4,582.1 L1514.3,578.1 L1518.1,574.1 L1522.0,570.1 L1525.8,566.1 L1529.7,562.0 L1533.5,557.8 L1537.3,553.7 L1541.2,549.5 L1545.0,545.3 L1548.9,541.1 L1552.7,536.9 L1556.6,532.7 L1560.4,528.5 L1564.2,524.3 L1568.1,520.1 L1571.9,516.0 L1575.8,511.8 L1579.6,507.7 L1583.5,503.6 L1587.3,499.5 L1591.2,495.5 L1595.0,491.5 L1598.8,487.6 L1602.7,483.7 L1606.5,479.7 L1610.4,475.8 L1614.2,471.9 L1618.1,468.0 L1621.9,464.1 L1625.7,460.2 L1629.6,456.3 L1633.4,452.4 L1637.3,448.5 L1641.1,444.6 L1645.0,440.7 L1648.8,436.8 L1652.6,432.9 L1656.5,429.0 L1660.3,425.1 L1664.2,421.2 L1668.0,417.3 L1671.9,413.4 L1675.7,409.5 L1679.5,405.5 L1683.4,401.6 L1687.2,397.6 L1691.1,393.7 L1694.9,389.7 L1698.8,385.7 L1702.6,381.7 L1706.5,377.7 L1710.3,373.7 L1714.1,369.6 L1718.0,365.6 L1721.8,361.5 L1725.7,357.4 L1729.5,353.3 L1733.4,349.2 L1737.2,345.1 L1741.0,340.9 L1744.9,336.8 L1748.7,332.6 L1752.6,328.4 L1756.4,324.2 L1760.3,320.0 L1764.1,315.7 L1767.9,311.5 L1771.8,307.3 L1775.6,303.0 L1779.5,298.7 L1783.3,294.5 L1787.2,290.2 L1791.0,285.9 L1794.8,281.6 L1798.7,277.3 L1802.5,273.0 L1806.4,268.7 L1810.2,264.4 L1814.1,260.2 L1817.9,255.9 L1821.8,251.6 L1825.6,247.3 L1829.4,243.0 L1833.3,238.7 L1837.1,234.4 L1841.0,230.2 L1844.8,225.9 L1848.7,221.7 L1852.5,217.4" fill="none" stroke="#000" stroke-width="3.3" stroke-linecap="butt" stroke-linejoin="round" stroke-dasharray="19 8 3 8"/>
<path d="M319.0,687.4 L322.8,688.7 L326.7,690.0 L330.5,691.2 L334.4,692.5 L338.2,693.8 L342.1,695.1 L345.9,696.3 L349.7,697.6 L353.6,698.9 L357.4,700.1 L361.3,701.4 L365.1,702.7 L369.0,703.9 L372.8,705.2 L376.7,706.5 L380.5,707.7 L384.3,709.0 L388.2,710.3 L392.0,711.5 L395.9,712.8 L399.7,714.1 L403.6,715.4 L407.4,716.6 L411.2,717.9 L415.1,719.2 L418.9,720.5 L422.8,721.7 L426.6,723.0 L430.5,724.3 L434.3,725.6 L438.1,726.9 L442.0,728.2 L445.8,729.5 L449.7,730.8 L453.5,732.1 L457.4,733.4 L461.2,734.7 L465.0,736.1 L468.9,737.4 L472.7,738.8 L476.6,740.1 L480.4,741.5 L484.3,742.8 L488.1,744.2 L492.0,745.6 L495.8,746.9 L499.6,748.3 L503.5,749.7 L507.3,751.0 L511.2,752.4 L515.0,753.7 L518.9,755.1 L522.7,756.4 L526.5,757.8 L530.4,759.1 L534.2,760.5 L538.1,761.8 L541.9,763.1 L545.8,764.4 L549.6,765.7 L553.4,766.9 L557.3,768.2 L561.1,769.4 L565.0,770.7 L568.8,771.9 L572.7,773.1 L576.5,774.3 L580.3,775.4 L584.2,776.6 L588.0,777.8 L591.9,779.0 L595.7,780.1 L599.6,781.3 L603.4,782.5 L607.3,783.6 L611.1,784.8 L614.9,785.9 L618.8,787.1 L622.6,788.2 L626.5,789.3 L630.3,790.5 L634.2,791.6 L638.0,792.7 L641.8,793.8 L645.7,794.9 L649.5,795.9 L653.4,797.0 L657.2,798.0 L661.1,799.1 L664.9,800.1 L668.7,801.1 L672.6,802.0 L676.4,803.0 L680.3,804.0 L684.1,804.9 L688.0,805.8 L691.8,806.7 L695.6,807.6 L699.5,808.4 L703.3,809.3 L707.2,810.1 L711.0,811.0 L714.9,811.8 L718.7,812.7 L722.6,813.6 L726.4,814.5 L730.2,815.4 L734.1,816.3 L737.9,817.2 L741.8,818.1 L745.6,819.0 L749.5,819.9 L753.3,820.8 L757.1,821.6 L761.0,822.5 L764.8,823.3 L768.7,824.1 L772.5,824.8 L776.4,825.6 L780.2,826.3 L784.0,827.0 L787.9,827.6 L791.7,828.2 L795.6,828.8 L799.4,829.3 L803.3,829.7 L807.1,830.2 L810.9,830.5 L814.8,830.8 L818.6,831.1 L822.5,831.3 L826.3,831.4 L830.2,831.5 L834.0,831.5 L837.9,831.5 L841.7,831.6 L845.5,831.6 L849.4,831.6 L853.2,831.6 L857.1,831.7 L860.9,831.7 L864.8,831.7 L868.6,831.7 L872.4,831.8 L876.3,831.8 L880.1,831.8 L884.0,831.8 L887.8,831.8 L891.7,831.8 L895.5,831.9 L899.3,831.9 L903.2,831.9 L907.0,831.9 L910.9,831.9 L914.7,831.9 L918.6,831.9 L922.4,831.9 L926.3,831.9 L930.1,832.0 L933.9,832.0 L937.8,832.0 L941.6,832.0 L945.5,832.0 L949.3,832.0 L953.2,832.0 L957.0,832.0 L960.8,832.0 L964.7,831.8 L968.5,831.7 L972.4,831.4 L976.2,831.1 L980.1,830.7 L983.9,830.2 L987.7,829.6 L991.6,829.0 L995.4,828.4 L999.3,827.7 L1003.1,826.9 L1007.0,826.1 L1010.8,825.2 L1014.6,824.3 L1018.5,823.4 L1022.3,822.4 L1026.2,821.4 L1030.0,820.4 L1033.9,819.3 L1037.7,818.2 L1041.6,817.1 L1045.4,816.0 L1049.2,814.9 L1053.1,813.7 L1056.9,812.6 L1060.8,811.4 L1064.6,810.3 L1068.5,809.1 L1072.3,808.0 L1076.1,806.8 L1080.0,805.7 L1083.8,804.6 L1087.7,803.5 L1091.5,802.4 L1095.4,801.1 L1099.2,799.8 L1103.0,798.5 L1106.9,797.1 L1110.7,795.7 L1114.6,794.2 L1118.4,792.7 L1122.3,791.2 L1126.1,789.6 L1129.9,788.0 L1133.8,786.4 L1137.6,784.8 L1141.5,783.2 L1145.3,781.6 L1149.2,780.1 L1153.0,778.5 L1156.9,776.9 L1160.7,775.4 L1164.5,773.9 L1168.4,772.5 L1172.2,771.1 L1176.1,769.7 L1179.9,768.3 L1183.8,767.0 L1187.6,765.7 L1191.4,764.4 L1195.3,763.1 L1199.1,761.9 L1203.0,760.6 L1206.8,759.4 L1210.7,758.2 L1214.5,756.9 L1218.3,755.7 L1222.2,754.5 L1226.0,753.4 L1229.9,752.2 L1233.7,751.0 L1237.6,749.8 L1241.4,748.6 L1245.2,747.4 L1249.1,746.2 L1252.9,745.0 L1256.8,743.8 L1260.6,742.6 L1264.5,741.4 L1268.3,740.2 L1272.2,738.9 L1276.0,737.6 L1279.8,736.4 L1283.7,735.1 L1287.5,733.7 L1291.4,732.4 L1295.2,731.0 L1299.1,729.7 L1302.9,728.2 L1306.7,726.8 L1310.6,725.3 L1314.4,723.8 L1318.3,722.3 L1322.1,720.7 L1326.0,719.1 L1329.8,717.5 L1333.6,715.8 L1337.5,714.1 L1341.3,712.4 L1345.2,710.5 L1349.0,708.7 L1352.9,706.7 L1356.7,704.7 L1360.6,702.7 L1364.4,700.6 L1368.2,698.4 L1372.1,696.2 L1375.9,694.0 L1379.8,691.7 L1383.6,689.3 L1387.5,686.9 L1391.3,684.4 L1395.1,681.9 L1399.0,679.4 L1402.8,676.8 L1406.7,674.2 L1410.5,671.6 L1414.4,668.9 L1418.2,666.2 L1422.0,663.4 L1425.9,660.6 L1429.7,657.8 L1433.6,655.0 L1437.4,652.1 L1441.3,649.2 L1445.1,646.3 L1448.9,643.3 L1452.8,640.4 L1456.6,637.4 L1460.5,634.4 L1464.3,631.4 L1468.2,628.4 L1472.0,625.3 L1475.9,622.2 L1479.7,618.9 L1483.5,615.6 L1487.4,612.3 L1491.2,608.8 L1495.1,605.3 L1498.9,601.7 L1502.8,598.1 L1506.6,594.4 L1510.4,590.7 L1514.3,586.9 L1518.1,583.1 L1522.0,579.2 L1525.8,575.3 L1529.7,571.4 L1533.5,567.5 L1537.3,563.5 L1541.2,559.5 L1545.0,555.6 L1548.9,551.6 L1552.7,547.6 L1556.6,543.6 L1560.4,539.6 L1564.2,535.7 L1568.1,531.7 L1571.9,527.8 L1575.8,523.9 L1579.6,520.0 L1583.5,516.1 L1587.3,512.3 L1591.2,508.6 L1595.0,504.9 L1598.8,501.2 L1602.7,497.5 L1606.5,493.9 L1610.4,490.2 L1614.2,486.6 L1618.1,483.0 L1621.9,479.4 L1625.7,475.8 L1629.6,472.3 L1633.4,468.7 L1637.3,465.1 L1641.1,461.6 L1645.0,458.0 L1648.8,454.4 L1652.6,450.9 L1656.5,447.3 L1660.3,443.8 L1664.2,440.2 L1668.0,436.7 L1671.9,433.1 L1675.7,429.6 L1679.5,426.0 L1683.4,422.4 L1687.2,418.8 L1691.1,415.3 L1694.9,411.7 L1698.8,408.1 L1702.6,404.4 L1706.5,400.8 L1710.3,397.2 L1714.1,393.5 L1718.0,389.8 L1721.8,386.2 L1725.7,382.5 L1729.5,378.7 L1733.4,375.0 L1737.2,371.3 L1741.0,367.5 L1744.9,363.7 L1748.7,360.0 L1752.6,356.2 L1756.4,352.4 L1760.3,348.6 L1764.1,344.8 L1767.9,341.0 L1771.8,337.1 L1775.6,333.3 L1779.5,329.5 L1783.3,325.6 L1787.2,321.8 L1791.0,317.9 L1794.8,314.1 L1798.7,310.2 L1802.5,306.3 L1806.4,302.5 L1810.2,298.6 L1814.1,294.8 L1817.9,290.9 L1821.8,287.0 L1825.6,283.2 L1829.4,279.3 L1833.3,275.5 L1837.1,271.6 L1841.0,267.8 L1844.8,263.9 L1848.7,260.1 L1852.5,256.3" fill="none" stroke="#000" stroke-width="3.3" stroke-linecap="butt" stroke-linejoin="round" stroke-dasharray="20 7 3 7 3 8"/>
<path d="M319.0,684.9 L322.8,686.1 L326.7,687.3 L330.5,688.5 L334.4,689.7 L338.2,690.9 L342.1,692.1 L345.9,693.3 L349.7,694.5 L353.6,695.7 L357.4,696.9 L361.3,698.0 L365.1,699.2 L369.0,700.4 L372.8,701.6 L376.7,702.8 L380.5,704.0 L384.3,705.2 L388.2,706.4 L392.0,707.6 L395.9,708.7 L399.7,709.9 L403.6,711.1 L407.4,712.3 L411.2,713.5 L415.1,714.8 L418.9,716.0 L422.8,717.2 L426.6,718.4 L430.5,719.6 L434.3,720.8 L438.1,722.0 L442.0,723.3 L445.8,724.5 L449.7,725.7 L453.5,727.0 L457.4,728.3 L461.2,729.5 L465.0,730.8 L468.9,732.1 L472.7,733.4 L476.6,734.7 L480.4,736.1 L484.3,737.4 L488.1,738.7 L492.0,740.1 L495.8,741.4 L499.6,742.7 L503.5,744.1 L507.3,745.4 L511.2,746.7 L515.0,748.0 L518.9,749.4 L522.7,750.7 L526.5,752.0 L530.4,753.3 L534.2,754.5 L538.1,755.8 L541.9,757.1 L545.8,758.3 L549.6,759.6 L553.4,760.8 L557.3,762.0 L561.1,763.2 L565.0,764.4 L568.8,765.5 L572.7,766.6 L576.5,767.7 L580.3,768.8 L584.2,769.9 L588.0,771.0 L591.9,772.1 L595.7,773.2 L599.6,774.3 L603.4,775.3 L607.3,776.4 L611.1,777.5 L614.9,778.5 L618.8,779.6 L622.6,780.6 L626.5,781.6 L630.3,782.7 L634.2,783.7 L638.0,784.7 L641.8,785.7 L645.7,786.6 L649.5,787.6 L653.4,788.6 L657.2,789.5 L661.1,790.4 L664.9,791.4 L668.7,792.3 L672.6,793.2 L676.4,794.0 L680.3,794.9 L684.1,795.8 L688.0,796.6 L691.8,797.4 L695.6,798.2 L699.5,799.0 L703.3,799.8 L707.2,800.5 L711.0,801.3 L714.9,802.1 L718.7,802.9 L722.6,803.7 L726.4,804.5 L730.2,805.4 L734.1,806.2 L737.9,807.0 L741.8,807.8 L745.6,808.6 L749.5,809.4 L753.3,810.1 L757.1,810.9 L761.0,811.7 L764.8,812.4 L768.7,813.1 L772.5,813.8 L776.4,814.5 L780.2,815.1 L784.0,815.8 L787.9,816.4 L791.7,816.9 L795.6,817.5 L799.4,818.0 L803.3,818.4 L807.1,818.9 L810.9,819.2 L814.8,819.6 L818.6,819.9 L822.5,820.1 L826.3,820.4 L830.2,820.5 L834.0,820.6 L837.9,820.8 L841.7,820.9 L845.5,821.0 L849.4,821.1 L853.2,821.3 L857.1,821.4 L860.9,821.5 L864.8,821.6 L868.6,821.7 L872.4,821.8 L876.3,821.9 L880.1,822.0 L884.0,822.1 L887.8,822.2 L891.7,822.3 L895.5,822.3 L899.3,822.4 L903.2,822.5 L907.0,822.6 L910.9,822.6 L914.7,822.7 L918.6,822.7 L922.4,822.8 L926.3,822.8 L930.1,822.9 L933.9,822.9 L937.8,822.9 L941.6,823.0 L945.5,823.0 L949.3,823.0 L953.2,823.0 L957.0,823.0 L960.8,823.0 L964.7,822.9 L968.5,822.8 L972.4,822.6 L976.2,822.3 L980.1,822.0 L983.9,821.6 L987.7,821.2 L991.6,820.7 L995.4,820.2 L999.3,819.6 L1003.1,819.0 L1007.0,818.4 L1010.8,817.7 L1014.6,817.0 L1018.5,816.3 L1022.3,815.5 L1026.2,814.7 L1030.0,813.9 L1033.9,813.0 L1037.7,812.2 L1041.6,811.3 L1045.4,810.4 L1049.2,809.5 L1053.1,808.5 L1056.9,807.6 L1060.8,806.7 L1064.6,805.7 L1068.5,804.8 L1072.3,803.8 L1076.1,802.9 L1080.0,802.0 L1083.8,801.0 L1087.7,800.1 L1091.5,799.1 L1095.4,798.0 L1099.2,796.9 L1103.0,795.7 L1106.9,794.4 L1110.7,793.1 L1114.6,791.8 L1118.4,790.4 L1122.3,789.0 L1126.1,787.5 L1129.9,786.1 L1133.8,784.6 L1137.6,783.1 L1141.5,781.6 L1145.3,780.2 L1149.2,778.7 L1153.0,777.3 L1156.9,775.9 L1160.7,774.5 L1164.5,773.2 L1168.4,771.9 L1172.2,770.7 L1176.1,769.4 L1179.9,768.3 L1183.8,767.1 L1187.6,766.0 L1191.4,764.9 L1195.3,763.8 L1199.1,762.8 L1203.0,761.7 L1206.8,760.7 L1210.7,759.7 L1214.5,758.7 L1218.3,757.7 L1222.2,756.7 L1226.0,755.7 L1229.9,754.8 L1233.7,753.8 L1237.6,752.8 L1241.4,751.9 L1245.2,750.9 L1249.1,750.0 L1252.9,749.0 L1256.8,748.0 L1260.6,747.0 L1264.5,746.0 L1268.3,745.0 L1272.2,744.0 L1276.0,743.0 L1279.8,741.9 L1283.7,740.8 L1287.5,739.7 L1291.4,738.6 L1295.2,737.5 L1299.1,736.3 L1302.9,735.1 L1306.7,733.9 L1310.6,732.7 L1314.4,731.4 L1318.3,730.1 L1322.1,728.7 L1326.0,727.3 L1329.8,725.9 L1333.6,724.4 L1337.5,722.9 L1341.3,721.3 L1345.2,719.7 L1349.0,718.0 L1352.9,716.2 L1356.7,714.3 L1360.6,712.3 L1364.4,710.3 L1368.2,708.1 L1372.1,706.0 L1375.9,703.7 L1379.8,701.4 L1383.6,699.0 L1387.5,696.6 L1391.3,694.1 L1395.1,691.5 L1399.0,688.9 L1402.8,686.3 L1406.7,683.6 L1410.5,680.9 L1414.4,678.2 L1418.2,675.4 L1422.0,672.6 L1425.9,669.7 L1429.7,666.9 L1433.6,664.0 L1437.4,661.1 L1441.3,658.2 L1445.1,655.3 L1448.9,652.4 L1452.8,649.5 L1456.6,646.5 L1460.5,643.6 L1464.3,640.7 L1468.2,637.8 L1472.0,634.9 L1475.9,632.0 L1479.7,628.9 L1483.5,625.9 L1487.4,622.8 L1491.2,619.6 L1495.1,616.4 L1498.9,613.2 L1502.8,610.0 L1506.6,606.7 L1510.4,603.3 L1514.3,600.0 L1518.1,596.6 L1522.0,593.2 L1525.8,589.7 L1529.7,586.3 L1533.5,582.8 L1537.3,579.3 L1541.2,575.8 L1545.0,572.3 L1548.9,568.8 L1552.7,565.3 L1556.6,561.8 L1560.4,558.3 L1564.2,554.8 L1568.1,551.3 L1571.9,547.8 L1575.8,544.3 L1579.6,540.8 L1583.5,537.4 L1587.3,533.9 L1591.2,530.5 L1595.0,527.1 L1598.8,523.8 L1602.7,520.4 L1606.5,517.0 L1610.4,513.7 L1614.2,510.3 L1618.1,507.0 L1621.9,503.7 L1625.7,500.3 L1629.6,497.0 L1633.4,493.6 L1637.3,490.3 L1641.1,487.0 L1645.0,483.6 L1648.8,480.3 L1652.6,477.0 L1656.5,473.6 L1660.3,470.3 L1664.2,466.9 L1668.0,463.6 L1671.9,460.2 L1675.7,456.8 L1679.5,453.5 L1683.4,450.1 L1687.2,446.7 L1691.1,443.3 L1694.9,439.9 L1698.8,436.5 L1702.6,433.1 L1706.5,429.7 L1710.3,426.3 L1714.1,422.8 L1718.0,419.4 L1721.8,415.9 L1725.7,412.4 L1729.5,408.9 L1733.4,405.4 L1737.2,401.9 L1741.0,398.4 L1744.9,394.8 L1748.7,391.3 L1752.6,387.7 L1756.4,384.2 L1760.3,380.6 L1764.1,377.0 L1767.9,373.4 L1771.8,369.8 L1775.6,366.2 L1779.5,362.6 L1783.3,358.9 L1787.2,355.3 L1791.0,351.7 L1794.8,348.1 L1798.7,344.4 L1802.5,340.8 L1806.4,337.2 L1810.2,333.5 L1814.1,329.9 L1817.9,326.3 L1821.8,322.6 L1825.6,319.0 L1829.4,315.4 L1833.3,311.7 L1837.1,308.1 L1841.0,304.5 L1844.8,300.9 L1848.7,297.3 L1852.5,293.7" fill="none" stroke="#000" stroke-width="6.2" stroke-linecap="round" stroke-linejoin="round" stroke-dasharray="0 10.6"/>
<path d="M319.0,682.4 L322.8,683.6 L326.7,684.7 L330.5,685.8 L334.4,686.9 L338.2,688.0 L342.1,689.2 L345.9,690.3 L349.7,691.4 L353.6,692.5 L357.4,693.6 L361.3,694.7 L365.1,695.9 L369.0,697.0 L372.8,698.1 L376.7,699.2 L380.5,700.3 L384.3,701.4 L388.2,702.6 L392.0,703.7 L395.9,704.8 L399.7,705.9 L403.6,707.0 L407.4,708.2 L411.2,709.3 L415.1,710.4 L418.9,711.5 L422.8,712.7 L426.6,713.8 L430.5,715.0 L434.3,716.1 L438.1,717.2 L442.0,718.4 L445.8,719.5 L449.7,720.7 L453.5,721.9 L457.4,723.0 L461.2,724.2 L465.0,725.4 L468.9,726.6 L472.7,727.9 L476.6,729.1 L480.4,730.3 L484.3,731.5 L488.1,732.8 L492.0,734.0 L495.8,735.2 L499.6,736.5 L503.5,737.7 L507.3,738.9 L511.2,740.2 L515.0,741.4 L518.9,742.6 L522.7,743.8 L526.5,745.1 L530.4,746.3 L534.2,747.5 L538.1,748.6 L541.9,749.8 L545.8,751.0 L549.6,752.1 L553.4,753.3 L557.3,754.4 L561.1,755.5 L565.0,756.6 L568.8,757.6 L572.7,758.7 L576.5,759.7 L580.3,760.8 L584.2,761.8 L588.0,762.8 L591.9,763.8 L595.7,764.8 L599.6,765.8 L603.4,766.8 L607.3,767.8 L611.1,768.8 L614.9,769.8 L618.8,770.8 L622.6,771.8 L626.5,772.7 L630.3,773.7 L634.2,774.6 L638.0,775.6 L641.8,776.5 L645.7,777.4 L649.5,778.3 L653.4,779.2 L657.2,780.1 L661.1,781.0 L664.9,781.9 L668.7,782.7 L672.6,783.6 L676.4,784.4 L680.3,785.2 L684.1,786.0 L688.0,786.8 L691.8,787.6 L695.6,788.3 L699.5,789.1 L703.3,789.8 L707.2,790.5 L711.0,791.3 L714.9,792.0 L718.7,792.8 L722.6,793.5 L726.4,794.3 L730.2,795.0 L734.1,795.8 L737.9,796.5 L741.8,797.3 L745.6,798.0 L749.5,798.8 L753.3,799.5 L757.1,800.2 L761.0,800.9 L764.8,801.6 L768.7,802.3 L772.5,802.9 L776.4,803.6 L780.2,804.2 L784.0,804.8 L787.9,805.3 L791.7,805.9 L795.6,806.4 L799.4,806.9 L803.3,807.3 L807.1,807.8 L810.9,808.1 L814.8,808.5 L818.6,808.8 L822.5,809.1 L826.3,809.3 L830.2,809.5 L834.0,809.7 L837.9,809.9 L841.7,810.1 L845.5,810.2 L849.4,810.4 L853.2,810.6 L857.1,810.7 L860.9,810.9 L864.8,811.0 L868.6,811.2 L872.4,811.3 L876.3,811.5 L880.1,811.6 L884.0,811.7 L887.8,811.8 L891.7,812.0 L895.5,812.1 L899.3,812.2 L903.2,812.3 L907.0,812.4 L910.9,812.5 L914.7,812.6 L918.6,812.6 L922.4,812.7 L926.3,812.8 L930.1,812.8 L933.9,812.9 L937.8,812.9 L941.6,813.0 L945.5,813.0 L949.3,813.0 L953.2,813.0 L957.0,813.0 L960.8,813.0 L964.7,813.0 L968.5,812.9 L972.4,812.7 L976.2,812.5 L980.1,812.3 L983.9,812.0 L987.7,811.7 L991.6,811.4 L995.4,811.0 L999.3,810.6 L1003.1,810.1 L1007.0,809.7 L1010.8,809.2 L1014.6,808.6 L1018.5,808.1 L1022.3,807.5 L1026.2,806.9 L1030.0,806.3 L1033.9,805.7 L1037.7,805.0 L1041.6,804.3 L1045.4,803.7 L1049.2,803.0 L1053.1,802.3 L1056.9,801.6 L1060.8,800.8 L1064.6,800.1 L1068.5,799.4 L1072.3,798.6 L1076.1,797.9 L1080.0,797.2 L1083.8,796.5 L1087.7,795.7 L1091.5,794.9 L1095.4,794.0 L1099.2,793.1 L1103.0,792.1 L1106.9,791.0 L1110.7,789.9 L1114.6,788.7 L1118.4,787.5 L1122.3,786.3 L1126.1,785.0 L1129.9,783.7 L1133.8,782.4 L1137.6,781.1 L1141.5,779.8 L1145.3,778.6 L1149.2,777.3 L1153.0,776.0 L1156.9,774.8 L1160.7,773.6 L1164.5,772.4 L1168.4,771.3 L1172.2,770.2 L1176.1,769.2 L1179.9,768.2 L1183.8,767.2 L1187.6,766.2 L1191.4,765.2 L1195.3,764.3 L1199.1,763.4 L1203.0,762.5 L1206.8,761.6 L1210.7,760.7 L1214.5,759.8 L1218.3,758.9 L1222.2,758.1 L1226.0,757.2 L1229.9,756.4 L1233.7,755.5 L1237.6,754.7 L1241.4,753.9 L1245.2,753.0 L1249.1,752.2 L1252.9,751.3 L1256.8,750.5 L1260.6,749.6 L1264.5,748.7 L1268.3,747.9 L1272.2,747.0 L1276.0,746.1 L1279.8,745.1 L1283.7,744.2 L1287.5,743.3 L1291.4,742.3 L1295.2,741.3 L1299.1,740.3 L1302.9,739.3 L1306.7,738.2 L1310.6,737.1 L1314.4,736.0 L1318.3,734.8 L1322.1,733.7 L1326.0,732.5 L1329.8,731.2 L1333.6,730.0 L1337.5,728.7 L1341.3,727.3 L1345.2,725.9 L1349.0,724.4 L1352.9,722.9 L1356.7,721.3 L1360.6,719.7 L1364.4,717.9 L1368.2,716.2 L1372.1,714.3 L1375.9,712.5 L1379.8,710.5 L1383.6,708.6 L1387.5,706.5 L1391.3,704.5 L1395.1,702.3 L1399.0,700.2 L1402.8,698.0 L1406.7,695.8 L1410.5,693.5 L1414.4,691.2 L1418.2,688.9 L1422.0,686.5 L1425.9,684.1 L1429.7,681.7 L1433.6,679.3 L1437.4,676.8 L1441.3,674.4 L1445.1,671.9 L1448.9,669.4 L1452.8,666.8 L1456.6,664.3 L1460.5,661.8 L1464.3,659.2 L1468.2,656.7 L1472.0,654.1 L1475.9,651.4 L1479.7,648.7 L1483.5,646.0 L1487.4,643.1 L1491.2,640.2 L1495.1,637.3 L1498.9,634.3 L1502.8,631.2 L1506.6,628.1 L1510.4,625.0 L1514.3,621.8 L1518.1,618.6 L1522.0,615.4 L1525.8,612.1 L1529.7,608.9 L1533.5,605.6 L1537.3,602.2 L1541.2,598.9 L1545.0,595.5 L1548.9,592.2 L1552.7,588.8 L1556.6,585.4 L1560.4,582.1 L1564.2,578.7 L1568.1,575.4 L1571.9,572.0 L1575.8,568.7 L1579.6,565.4 L1583.5,562.1 L1587.3,558.9 L1591.2,555.6 L1595.0,552.4 L1598.8,549.3 L1602.7,546.1 L1606.5,543.0 L1610.4,539.8 L1614.2,536.7 L1618.1,533.5 L1621.9,530.4 L1625.7,527.3 L1629.6,524.1 L1633.4,521.0 L1637.3,517.9 L1641.1,514.7 L1645.0,511.6 L1648.8,508.5 L1652.6,505.4 L1656.5,502.2 L1660.3,499.1 L1664.2,495.9 L1668.0,492.8 L1671.9,489.7 L1675.7,486.5 L1679.5,483.4 L1683.4,480.2 L1687.2,477.0 L1691.1,473.8 L1694.9,470.7 L1698.8,467.5 L1702.6,464.3 L1706.5,461.1 L1710.3,457.9 L1714.1,454.6 L1718.0,451.4 L1721.8,448.1 L1725.7,444.9 L1729.5,441.6 L1733.4,438.3 L1737.2,435.0 L1741.0,431.7 L1744.9,428.4 L1748.7,425.1 L1752.6,421.7 L1756.4,418.4 L1760.3,415.0 L1764.1,411.6 L1767.9,408.3 L1771.8,404.9 L1775.6,401.5 L1779.5,398.1 L1783.3,394.7 L1787.2,391.3 L1791.0,387.9 L1794.8,384.5 L1798.7,381.1 L1802.5,377.7 L1806.4,374.3 L1810.2,370.9 L1814.1,367.5 L1817.9,364.1 L1821.8,360.7 L1825.6,357.3 L1829.4,353.9 L1833.3,350.5 L1837.1,347.1 L1841.0,343.7 L1844.8,340.3 L1848.7,336.9 L1852.5,333.5" fill="none" stroke="#000" stroke-width="6.2" stroke-linecap="round" stroke-linejoin="round" stroke-dasharray="14.5 20.1"/>
<path d="M319.0,680.0 L322.8,681.0 L326.7,682.0 L330.5,683.1 L334.4,684.1 L338.2,685.2 L342.1,686.2 L345.9,687.3 L349.7,688.3 L353.6,689.3 L357.4,690.4 L361.3,691.4 L365.1,692.4 L369.0,693.5 L372.8,694.5 L376.7,695.6 L380.5,696.6 L384.3,697.6 L388.2,698.7 L392.0,699.7 L395.9,700.8 L399.7,701.8 L403.6,702.9 L407.4,703.9 L411.2,705.0 L415.1,706.0 L418.9,707.1 L422.8,708.1 L426.6,709.2 L430.5,710.3 L434.3,711.3 L438.1,712.4 L442.0,713.5 L445.8,714.6 L449.7,715.7 L453.5,716.8 L457.4,717.9 L461.2,719.0 L465.0,720.2 L468.9,721.3 L472.7,722.5 L476.6,723.6 L480.4,724.8 L484.3,726.0 L488.1,727.1 L492.0,728.3 L495.8,729.5 L499.6,730.7 L503.5,731.9 L507.3,733.1 L511.2,734.2 L515.0,735.4 L518.9,736.6 L522.7,737.7 L526.5,738.9 L530.4,740.0 L534.2,741.2 L538.1,742.3 L541.9,743.4 L545.8,744.5 L549.6,745.6 L553.4,746.7 L557.3,747.7 L561.1,748.8 L565.0,749.8 L568.8,750.8 L572.7,751.7 L576.5,752.7 L580.3,753.7 L584.2,754.6 L588.0,755.5 L591.9,756.5 L595.7,757.4 L599.6,758.3 L603.4,759.2 L607.3,760.1 L611.1,761.0 L614.9,761.9 L618.8,762.8 L622.6,763.7 L626.5,764.6 L630.3,765.4 L634.2,766.3 L638.0,767.1 L641.8,768.0 L645.7,768.8 L649.5,769.6 L653.4,770.4 L657.2,771.2 L661.1,772.0 L664.9,772.8 L668.7,773.5 L672.6,774.3 L676.4,775.0 L680.3,775.7 L684.1,776.4 L688.0,777.1 L691.8,777.8 L695.6,778.5 L699.5,779.2 L703.3,779.8 L707.2,780.4 L711.0,781.1 L714.9,781.8 L718.7,782.4 L722.6,783.1 L726.4,783.7 L730.2,784.4 L734.1,785.1 L737.9,785.7 L741.8,786.4 L745.6,787.0 L749.5,787.6 L753.3,788.3 L757.1,788.9 L761.0,789.5 L764.8,790.1 L768.7,790.7 L772.5,791.2 L776.4,791.8 L780.2,792.3 L784.0,792.8 L787.9,793.3 L791.7,793.8 L795.6,794.2 L799.4,794.7 L803.3,795.1 L807.1,795.5 L810.9,795.8 L814.8,796.1 L818.6,796.4 L822.5,796.7 L826.3,796.9 L830.2,797.1 L834.0,797.3 L837.9,797.4 L841.7,797.6 L845.5,797.8 L849.4,797.9 L853.2,798.1 L857.1,798.2 L860.9,798.4 L864.8,798.6 L868.6,798.7 L872.4,798.8 L876.3,799.0 L880.1,799.1 L884.0,799.2 L887.8,799.4 L891.7,799.5 L895.5,799.6 L899.3,799.7 L903.2,799.8 L907.0,799.9 L910.9,800.0 L914.7,800.1 L918.6,800.2 L922.4,800.2 L926.3,800.3 L930.1,800.4 L933.9,800.4 L937.8,800.5 L941.6,800.5 L945.5,800.5 L949.3,800.6 L953.2,800.6 L957.0,800.6 L960.8,800.6 L964.7,800.5 L968.5,800.5 L972.4,800.4 L976.2,800.3 L980.1,800.2 L983.9,800.0 L987.7,799.9 L991.6,799.7 L995.4,799.5 L999.3,799.2 L1003.1,799.0 L1007.0,798.7 L1010.8,798.4 L1014.6,798.2 L1018.5,797.8 L1022.3,797.5 L1026.2,797.2 L1030.0,796.8 L1033.9,796.5 L1037.7,796.1 L1041.6,795.7 L1045.4,795.3 L1049.2,794.9 L1053.1,794.5 L1056.9,794.0 L1060.8,793.6 L1064.6,793.1 L1068.5,792.7 L1072.3,792.2 L1076.1,791.8 L1080.0,791.3 L1083.8,790.8 L1087.7,790.4 L1091.5,789.8 L1095.4,789.2 L1099.2,788.4 L1103.0,787.7 L1106.9,786.8 L1110.7,785.9 L1114.6,784.9 L1118.4,784.0 L1122.3,782.9 L1126.1,781.9 L1129.9,780.8 L1133.8,779.7 L1137.6,778.6 L1141.5,777.5 L1145.3,776.4 L1149.2,775.3 L1153.0,774.2 L1156.9,773.1 L1160.7,772.1 L1164.5,771.1 L1168.4,770.2 L1172.2,769.3 L1176.1,768.4 L1179.9,767.6 L1183.8,766.8 L1187.6,765.9 L1191.4,765.2 L1195.3,764.4 L1199.1,763.6 L1203.0,762.9 L1206.8,762.1 L1210.7,761.4 L1214.5,760.7 L1218.3,759.9 L1222.2,759.2 L1226.0,758.5 L1229.9,757.8 L1233.7,757.1 L1237.6,756.4 L1241.4,755.7 L1245.2,755.0 L1249.1,754.3 L1252.9,753.6 L1256.8,752.9 L1260.6,752.2 L1264.5,751.4 L1268.3,750.7 L1272.2,750.0 L1276.0,749.2 L1279.8,748.4 L1283.7,747.6 L1287.5,746.8 L1291.4,746.0 L1295.2,745.2 L1299.1,744.3 L1302.9,743.5 L1306.7,742.6 L1310.6,741.6 L1314.4,740.7 L1318.3,739.7 L1322.1,738.7 L1326.0,737.7 L1329.8,736.6 L1333.6,735.6 L1337.5,734.4 L1341.3,733.3 L1345.2,732.1 L1349.0,730.8 L1352.9,729.5 L1356.7,728.1 L1360.6,726.7 L1364.4,725.2 L1368.2,723.6 L1372.1,722.0 L1375.9,720.3 L1379.8,718.6 L1383.6,716.9 L1387.5,715.1 L1391.3,713.3 L1395.1,711.4 L1399.0,709.5 L1402.8,707.5 L1406.7,705.5 L1410.5,703.5 L1414.4,701.4 L1418.2,699.4 L1422.0,697.3 L1425.9,695.1 L1429.7,693.0 L1433.6,690.8 L1437.4,688.6 L1441.3,686.4 L1445.1,684.1 L1448.9,681.9 L1452.8,679.6 L1456.6,677.4 L1460.5,675.1 L1464.3,672.8 L1468.2,670.6 L1472.0,668.3 L1475.9,665.9 L1479.7,663.5 L1483.5,661.0 L1487.4,658.5 L1491.2,655.9 L1495.1,653.3 L1498.9,650.6 L1502.8,647.9 L1506.6,645.1 L1510.4,642.3 L1514.3,639.5 L1518.1,636.6 L1522.0,633.7 L1525.8,630.8 L1529.7,627.9 L1533.5,624.9 L1537.3,621.9 L1541.2,618.9 L1545.0,615.9 L1548.9,612.9 L1552.7,609.9 L1556.6,606.8 L1560.4,603.8 L1564.2,600.8 L1568.1,597.7 L1571.9,594.7 L1575.8,591.7 L1579.6,588.6 L1583.5,585.6 L1587.3,582.7 L1591.2,579.7 L1595.0,576.7 L1598.8,573.8 L1602.7,570.9 L1606.5,568.0 L1610.4,565.0 L1614.2,562.1 L1618.1,559.2 L1621.9,556.2 L1625.7,553.3 L1629.6,550.3 L1633.4,547.4 L1637.3,544.4 L1641.1,541.5 L1645.0,538.5 L1648.8,535.5 L1652.6,532.6 L1656.5,529.6 L1660.3,526.6 L1664.2,523.6 L1668.0,520.6 L1671.9,517.6 L1675.7,514.6 L1679.5,511.6 L1683.4,508.5 L1687.2,505.5 L1691.1,502.5 L1694.9,499.4 L1698.8,496.4 L1702.6,493.3 L1706.5,490.3 L1710.3,487.2 L1714.1,484.1 L1718.0,481.0 L1721.8,477.9 L1725.7,474.8 L1729.5,471.7 L1733.4,468.6 L1737.2,465.4 L1741.0,462.3 L1744.9,459.1 L1748.7,455.9 L1752.6,452.7 L1756.4,449.5 L1760.3,446.3 L1764.1,443.1 L1767.9,439.9 L1771.8,436.7 L1775.6,433.4 L1779.5,430.2 L1783.3,427.0 L1787.2,423.7 L1791.0,420.5 L1794.8,417.2 L1798.7,414.0 L1802.5,410.7 L1806.4,407.4 L1810.2,404.2 L1814.1,400.9 L1817.9,397.6 L1821.8,394.4 L1825.6,391.1 L1829.4,387.9 L1833.3,384.6 L1837.1,381.4 L1841.0,378.1 L1844.8,374.9 L1848.7,371.7 L1852.5,368.4" fill="none" stroke="#000" stroke-width="5.8" stroke-linecap="butt" stroke-linejoin="round"/>
<path d="M319.0,678.5 L322.8,679.4 L326.7,680.4 L330.5,681.3 L334.4,682.3 L338.2,683.2 L342.1,684.2 L345.9,685.1 L349.7,686.1 L353.6,687.0 L357.4,688.0 L361.3,688.9 L365.1,689.9 L369.0,690.8 L372.8,691.8 L376.7,692.7 L380.5,693.7 L384.3,694.6 L388.2,695.6 L392.0,696.5 L395.9,697.5 L399.7,698.4 L403.6,699.4 L407.4,700.3 L411.2,701.3 L415.1,702.3 L418.9,703.2 L422.8,704.2 L426.6,705.2 L430.5,706.2 L434.3,707.1 L438.1,708.1 L442.0,709.1 L445.8,710.1 L449.7,711.1 L453.5,712.1 L457.4,713.1 L461.2,714.2 L465.0,715.2 L468.9,716.3 L472.7,717.4 L476.6,718.4 L480.4,719.5 L484.3,720.6 L488.1,721.7 L492.0,722.8 L495.8,723.9 L499.6,724.9 L503.5,726.0 L507.3,727.1 L511.2,728.2 L515.0,729.3 L518.9,730.4 L522.7,731.4 L526.5,732.5 L530.4,733.6 L534.2,734.6 L538.1,735.7 L541.9,736.7 L545.8,737.7 L549.6,738.7 L553.4,739.7 L557.3,740.6 L561.1,741.6 L565.0,742.5 L568.8,743.4 L572.7,744.3 L576.5,745.2 L580.3,746.0 L584.2,746.9 L588.0,747.8 L591.9,748.6 L595.7,749.4 L599.6,750.3 L603.4,751.1 L607.3,751.9 L611.1,752.7 L614.9,753.5 L618.8,754.3 L622.6,755.1 L626.5,755.8 L630.3,756.6 L634.2,757.4 L638.0,758.1 L641.8,758.9 L645.7,759.6 L649.5,760.3 L653.4,761.1 L657.2,761.8 L661.1,762.5 L664.9,763.2 L668.7,763.9 L672.6,764.6 L676.4,765.3 L680.3,765.9 L684.1,766.6 L688.0,767.3 L691.8,767.9 L695.6,768.6 L699.5,769.2 L703.3,769.8 L707.2,770.5 L711.0,771.1 L714.9,771.8 L718.7,772.4 L722.6,773.1 L726.4,773.7 L730.2,774.4 L734.1,775.0 L737.9,775.7 L741.8,776.3 L745.6,777.0 L749.5,777.6 L753.3,778.3 L757.1,778.9 L761.0,779.5 L764.8,780.1 L768.7,780.7 L772.5,781.3 L776.4,781.9 L780.2,782.4 L784.0,783.0 L787.9,783.5 L791.7,784.0 L795.6,784.5 L799.4,784.9 L803.3,785.4 L807.1,785.8 L810.9,786.1 L814.8,786.5 L818.6,786.8 L822.5,787.1 L826.3,787.4 L830.2,787.6 L834.0,787.8 L837.9,788.0 L841.7,788.3 L845.5,788.5 L849.4,788.7 L853.2,788.9 L857.1,789.1 L860.9,789.3 L864.8,789.5 L868.6,789.6 L872.4,789.8 L876.3,790.0 L880.1,790.2 L884.0,790.3 L887.8,790.5 L891.7,790.7 L895.5,790.8 L899.3,791.0 L903.2,791.1 L907.0,791.2 L910.9,791.3 L914.7,791.5 L918.6,791.6 L922.4,791.7 L926.3,791.7 L930.1,791.8 L933.9,791.9 L937.8,792.0 L941.6,792.0 L945.5,792.0 L949.3,792.1 L953.2,792.1 L957.0,792.1 L960.8,792.1 L964.7,792.1 L968.5,792.0 L972.4,792.0 L976.2,791.9 L980.1,791.8 L983.9,791.7 L987.7,791.5 L991.6,791.4 L995.4,791.2 L999.3,791.0 L1003.1,790.8 L1007.0,790.6 L1010.8,790.4 L1014.6,790.1 L1018.5,789.9 L1022.3,789.6 L1026.2,789.3 L1030.0,789.1 L1033.9,788.8 L1037.7,788.5 L1041.6,788.1 L1045.4,787.8 L1049.2,787.5 L1053.1,787.2 L1056.9,786.8 L1060.8,786.5 L1064.6,786.1 L1068.5,785.8 L1072.3,785.4 L1076.1,785.0 L1080.0,784.7 L1083.8,784.3 L1087.7,783.9 L1091.5,783.5 L1095.4,783.0 L1099.2,782.5 L1103.0,781.9 L1106.9,781.3 L1110.7,780.7 L1114.6,780.0 L1118.4,779.3 L1122.3,778.5 L1126.1,777.8 L1129.9,777.0 L1133.8,776.2 L1137.6,775.4 L1141.5,774.6 L1145.3,773.8 L1149.2,773.0 L1153.0,772.2 L1156.9,771.4 L1160.7,770.6 L1164.5,769.8 L1168.4,769.1 L1172.2,768.4 L1176.1,767.7 L1179.9,767.0 L1183.8,766.3 L1187.6,765.6 L1191.4,765.0 L1195.3,764.3 L1199.1,763.7 L1203.0,763.0 L1206.8,762.4 L1210.7,761.8 L1214.5,761.1 L1218.3,760.5 L1222.2,759.9 L1226.0,759.3 L1229.9,758.6 L1233.7,758.0 L1237.6,757.4 L1241.4,756.8 L1245.2,756.1 L1249.1,755.5 L1252.9,754.8 L1256.8,754.2 L1260.6,753.5 L1264.5,752.8 L1268.3,752.1 L1272.2,751.4 L1276.0,750.7 L1279.8,750.0 L1283.7,749.3 L1287.5,748.5 L1291.4,747.8 L1295.2,747.0 L1299.1,746.2 L1302.9,745.3 L1306.7,744.5 L1310.6,743.6 L1314.4,742.7 L1318.3,741.8 L1322.1,740.9 L1326.0,739.9 L1329.8,738.9 L1333.6,737.9 L1337.5,736.9 L1341.3,735.8 L1345.2,734.6 L1349.0,733.4 L1352.9,732.1 L1356.7,730.8 L1360.6,729.4 L1364.4,727.9 L1368.2,726.3 L1372.1,724.7 L1375.9,723.0 L1379.8,721.2 L1383.6,719.5 L1387.5,717.6 L1391.3,715.7 L1395.1,713.8 L1399.0,711.8 L1402.8,709.8 L1406.7,707.8 L1410.5,705.7 L1414.4,703.6 L1418.2,701.4 L1422.0,699.3 L1425.9,697.1 L1429.7,694.9 L1433.6,692.7 L1437.4,690.4 L1441.3,688.2 L1445.1,686.0 L1448.9,683.7 L1452.8,681.5 L1456.6,679.2 L1460.5,677.0 L1464.3,674.8 L1468.2,672.5 L1472.0,670.3 L1475.9,668.0 L1479.7,665.7 L1483.5,663.4 L1487.4,661.0 L1491.2,658.6 L1495.1,656.1 L1498.9,653.6 L1502.8,651.1 L1506.6,648.5 L1510.4,645.9 L1514.3,643.3 L1518.1,640.7 L1522.0,638.0 L1525.8,635.3 L1529.7,632.7 L1533.5,630.0 L1537.3,627.2 L1541.2,624.5 L1545.0,621.8 L1548.9,619.1 L1552.7,616.3 L1556.6,613.6 L1560.4,610.8 L1564.2,608.1 L1568.1,605.4 L1571.9,602.6 L1575.8,599.9 L1579.6,597.2 L1583.5,594.5 L1587.3,591.9 L1591.2,589.2 L1595.0,586.6 L1598.8,583.9 L1602.7,581.3 L1606.5,578.7 L1610.4,576.1 L1614.2,573.5 L1618.1,570.9 L1621.9,568.3 L1625.7,565.7 L1629.6,563.1 L1633.4,560.5 L1637.3,557.9 L1641.1,555.3 L1645.0,552.7 L1648.8,550.1 L1652.6,547.5 L1656.5,544.9 L1660.3,542.3 L1664.2,539.7 L1668.0,537.1 L1671.9,534.5 L1675.7,531.8 L1679.5,529.2 L1683.4,526.6 L1687.2,524.0 L1691.1,521.3 L1694.9,518.7 L1698.8,516.1 L1702.6,513.4 L1706.5,510.7 L1710.3,508.1 L1714.1,505.4 L1718.0,502.7 L1721.8,500.0 L1725.7,497.4 L1729.5,494.6 L1733.4,491.9 L1737.2,489.2 L1741.0,486.5 L1744.9,483.8 L1748.7,481.0 L1752.6,478.3 L1756.4,475.5 L1760.3,472.7 L1764.1,470.0 L1767.9,467.2 L1771.8,464.4 L1775.6,461.6 L1779.5,458.9 L1783.3,456.1 L1787.2,453.3 L1791.0,450.5 L1794.8,447.7 L1798.7,444.9 L1802.5,442.1 L1806.4,439.3 L1810.2,436.5 L1814.1,433.7 L1817.9,430.9 L1821.8,428.1 L1825.6,425.3 L1829.4,422.5 L1833.3,419.7 L1837.1,416.9 L1841.0,414.2 L1844.8,411.4 L1848.7,408.6 L1852.5,405.8" fill="none" stroke="#000" stroke-width="6.2" stroke-linecap="round" stroke-linejoin="round" stroke-dasharray="34.5 19.8 0 20.7"/>
<path d="M319.0,677.5 L322.8,678.4 L326.7,679.3 L330.5,680.2 L334.4,681.1 L338.2,682.0 L342.1,682.9 L345.9,683.8 L349.7,684.7 L353.6,685.6 L357.4,686.5 L361.3,687.4 L365.1,688.3 L369.0,689.2 L372.8,690.1 L376.7,691.0 L380.5,691.9 L384.3,692.9 L388.2,693.8 L392.0,694.7 L395.9,695.6 L399.7,696.5 L403.6,697.4 L407.4,698.3 L411.2,699.2 L415.1,700.1 L418.9,701.0 L422.8,701.8 L426.6,702.7 L430.5,703.6 L434.3,704.5 L438.1,705.4 L442.0,706.3 L445.8,707.1 L449.7,708.0 L453.5,708.9 L457.4,709.8 L461.2,710.7 L465.0,711.6 L468.9,712.5 L472.7,713.3 L476.6,714.2 L480.4,715.1 L484.3,716.0 L488.1,716.9 L492.0,717.8 L495.8,718.7 L499.6,719.6 L503.5,720.4 L507.3,721.3 L511.2,722.2 L515.0,723.1 L518.9,723.9 L522.7,724.8 L526.5,725.7 L530.4,726.5 L534.2,727.4 L538.1,728.2 L541.9,729.0 L545.8,729.9 L549.6,730.7 L553.4,731.5 L557.3,732.3 L561.1,733.1 L565.0,733.9 L568.8,734.6 L572.7,735.4 L576.5,736.2 L580.3,736.9 L584.2,737.7 L588.0,738.4 L591.9,739.1 L595.7,739.9 L599.6,740.6 L603.4,741.3 L607.3,742.0 L611.1,742.7 L614.9,743.4 L618.8,744.1 L622.6,744.8 L626.5,745.5 L630.3,746.2 L634.2,746.9 L638.0,747.6 L641.8,748.3 L645.7,748.9 L649.5,749.6 L653.4,750.3 L657.2,750.9 L661.1,751.6 L664.9,752.2 L668.7,752.8 L672.6,753.5 L676.4,754.1 L680.3,754.7 L684.1,755.3 L688.0,756.0 L691.8,756.6 L695.6,757.2 L699.5,757.8 L703.3,758.4 L707.2,759.0 L711.0,759.6 L714.9,760.2 L718.7,760.8 L722.6,761.5 L726.4,762.1 L730.2,762.7 L734.1,763.4 L737.9,764.0 L741.8,764.7 L745.6,765.3 L749.5,766.0 L753.3,766.6 L757.1,767.2 L761.0,767.8 L764.8,768.4 L768.7,769.0 L772.5,769.6 L776.4,770.2 L780.2,770.7 L784.0,771.3 L787.9,771.8 L791.7,772.3 L795.6,772.7 L799.4,773.2 L803.3,773.6 L807.1,774.0 L810.9,774.3 L814.8,774.7 L818.6,775.0 L822.5,775.2 L826.3,775.5 L830.2,775.7 L834.0,775.8 L837.9,776.0 L841.7,776.2 L845.5,776.3 L849.4,776.5 L853.2,776.7 L857.1,776.8 L860.9,777.0 L864.8,777.1 L868.6,777.3 L872.4,777.4 L876.3,777.5 L880.1,777.7 L884.0,777.8 L887.8,777.9 L891.7,778.1 L895.5,778.2 L899.3,778.3 L903.2,778.4 L907.0,778.5 L910.9,778.6 L914.7,778.7 L918.6,778.7 L922.4,778.8 L926.3,778.9 L930.1,778.9 L933.9,779.0 L937.8,779.0 L941.6,779.1 L945.5,779.1 L949.3,779.1 L953.2,779.1 L957.0,779.1 L960.8,779.1 L964.7,779.1 L968.5,779.1 L972.4,779.1 L976.2,779.0 L980.1,779.0 L983.9,779.0 L987.7,778.9 L991.6,778.8 L995.4,778.8 L999.3,778.7 L1003.1,778.6 L1007.0,778.5 L1010.8,778.4 L1014.6,778.3 L1018.5,778.2 L1022.3,778.1 L1026.2,778.0 L1030.0,777.8 L1033.9,777.7 L1037.7,777.6 L1041.6,777.4 L1045.4,777.3 L1049.2,777.2 L1053.1,777.0 L1056.9,776.9 L1060.8,776.7 L1064.6,776.6 L1068.5,776.4 L1072.3,776.2 L1076.1,776.1 L1080.0,775.9 L1083.8,775.7 L1087.7,775.6 L1091.5,775.4 L1095.4,775.2 L1099.2,774.9 L1103.0,774.6 L1106.9,774.4 L1110.7,774.1 L1114.6,773.7 L1118.4,773.4 L1122.3,773.0 L1126.1,772.7 L1129.9,772.3 L1133.8,771.9 L1137.6,771.5 L1141.5,771.1 L1145.3,770.6 L1149.2,770.2 L1153.0,769.8 L1156.9,769.3 L1160.7,768.9 L1164.5,768.4 L1168.4,767.9 L1172.2,767.5 L1176.1,767.0 L1179.9,766.6 L1183.8,766.1 L1187.6,765.6 L1191.4,765.1 L1195.3,764.6 L1199.1,764.1 L1203.0,763.6 L1206.8,763.1 L1210.7,762.6 L1214.5,762.1 L1218.3,761.5 L1222.2,761.0 L1226.0,760.4 L1229.9,759.8 L1233.7,759.3 L1237.6,758.7 L1241.4,758.1 L1245.2,757.4 L1249.1,756.8 L1252.9,756.2 L1256.8,755.5 L1260.6,754.9 L1264.5,754.2 L1268.3,753.5 L1272.2,752.8 L1276.0,752.1 L1279.8,751.3 L1283.7,750.6 L1287.5,749.8 L1291.4,749.0 L1295.2,748.3 L1299.1,747.4 L1302.9,746.6 L1306.7,745.8 L1310.6,744.9 L1314.4,744.0 L1318.3,743.1 L1322.1,742.2 L1326.0,741.2 L1329.8,740.3 L1333.6,739.3 L1337.5,738.3 L1341.3,737.3 L1345.2,736.2 L1349.0,735.0 L1352.9,733.8 L1356.7,732.4 L1360.6,731.0 L1364.4,729.5 L1368.2,727.9 L1372.1,726.3 L1375.9,724.6 L1379.8,722.8 L1383.6,721.0 L1387.5,719.1 L1391.3,717.2 L1395.1,715.2 L1399.0,713.2 L1402.8,711.2 L1406.7,709.1 L1410.5,707.0 L1414.4,704.8 L1418.2,702.7 L1422.0,700.5 L1425.9,698.3 L1429.7,696.0 L1433.6,693.8 L1437.4,691.6 L1441.3,689.3 L1445.1,687.1 L1448.9,684.9 L1452.8,682.7 L1456.6,680.5 L1460.5,678.3 L1464.3,676.1 L1468.2,674.0 L1472.0,671.9 L1475.9,669.7 L1479.7,667.6 L1483.5,665.4 L1487.4,663.1 L1491.2,660.9 L1495.1,658.6 L1498.9,656.3 L1502.8,654.0 L1506.6,651.7 L1510.4,649.3 L1514.3,647.0 L1518.1,644.6 L1522.0,642.2 L1525.8,639.8 L1529.7,637.4 L1533.5,635.0 L1537.3,632.6 L1541.2,630.1 L1545.0,627.7 L1548.9,625.3 L1552.7,622.8 L1556.6,620.4 L1560.4,618.0 L1564.2,615.5 L1568.1,613.1 L1571.9,610.7 L1575.8,608.3 L1579.6,605.9 L1583.5,603.5 L1587.3,601.1 L1591.2,598.7 L1595.0,596.4 L1598.8,594.1 L1602.7,591.7 L1606.5,589.4 L1610.4,587.1 L1614.2,584.8 L1618.1,582.4 L1621.9,580.1 L1625.7,577.8 L1629.6,575.5 L1633.4,573.2 L1637.3,570.9 L1641.1,568.6 L1645.0,566.3 L1648.8,564.0 L1652.6,561.7 L1656.5,559.4 L1660.3,557.1 L1664.2,554.8 L1668.0,552.5 L1671.9,550.2 L1675.7,547.9 L1679.5,545.6 L1683.4,543.3 L1687.2,541.0 L1691.1,538.6 L1694.9,536.3 L1698.8,534.0 L1702.6,531.6 L1706.5,529.3 L1710.3,526.9 L1714.1,524.5 L1718.0,522.2 L1721.8,519.8 L1725.7,517.4 L1729.5,515.0 L1733.4,512.5 L1737.2,510.1 L1741.0,507.7 L1744.9,505.2 L1748.7,502.8 L1752.6,500.3 L1756.4,497.8 L1760.3,495.4 L1764.1,492.9 L1767.9,490.4 L1771.8,487.9 L1775.6,485.4 L1779.5,482.9 L1783.3,480.4 L1787.2,477.9 L1791.0,475.4 L1794.8,472.9 L1798.7,470.4 L1802.5,467.8 L1806.4,465.3 L1810.2,462.8 L1814.1,460.3 L1817.9,457.8 L1821.8,455.3 L1825.6,452.7 L1829.4,450.2 L1833.3,447.7 L1837.1,445.2 L1841.0,442.7 L1844.8,440.2 L1848.7,437.7 L1852.5,435.2" fill="none" stroke="#000" stroke-width="6.2" stroke-linecap="round" stroke-linejoin="round" stroke-dasharray="34.5 19.5 0 20 0 21.4"/>
<line x1="315.8" y1="1157.6" x2="315.8" y2="1988.2" stroke="#878787" stroke-width="3.7" stroke-linecap="butt"/>
<line x1="314.0" y1="1986.4" x2="1850.5" y2="1986.4" stroke="#878787" stroke-width="3.7" stroke-linecap="butt"/>
<line x1="315.8" y1="1986.4" x2="328.8" y2="1986.4" stroke="#878787" stroke-width="2.7" stroke-linecap="butt"/>
<line x1="315.8" y1="1931.2" x2="328.8" y2="1931.2" stroke="#878787" stroke-width="2.7" stroke-linecap="butt"/>
<line x1="315.8" y1="1876.1" x2="328.8" y2="1876.1" stroke="#878787" stroke-width="2.7" stroke-linecap="butt"/>
<line x1="315.8" y1="1820.9" x2="328.8" y2="1820.9" stroke="#878787" stroke-width="2.7" stroke-linecap="butt"/>
<line x1="315.8" y1="1765.8" x2="328.8" y2="1765.8" stroke="#878787" stroke-width="2.7" stroke-linecap="butt"/>
<line x1="315.8" y1="1710.6" x2="328.8" y2="1710.6" stroke="#878787" stroke-width="2.7" stroke-linecap="butt"/>
<line x1="315.8" y1="1655.4" x2="328.8" y2="1655.4" stroke="#878787" stroke-width="2.7" stroke-linecap="butt"/>
<line x1="315.8" y1="1600.3" x2="328.8" y2="1600.3" stroke="#878787" stroke-width="2.7" stroke-linecap="butt"/>
<line x1="315.8" y1="1545.1" x2="328.8" y2="1545.1" stroke="#878787" stroke-width="2.7" stroke-linecap="butt"/>
<line x1="315.8" y1="1490.0" x2="328.8" y2="1490.0" stroke="#878787" stroke-width="2.7" stroke-linecap="butt"/>
<line x1="315.8" y1="1434.8" x2="328.8" y2="1434.8" stroke="#878787" stroke-width="2.7" stroke-linecap="butt"/>
<line x1="315.8" y1="1379.6" x2="328.8" y2="1379.6" stroke="#878787" stroke-width="2.7" stroke-linecap="butt"/>
<line x1="315.8" y1="1324.5" x2="328.8" y2="1324.5" stroke="#878787" stroke-width="2.7" stroke-linecap="butt"/>
<line x1="315.8" y1="1269.3" x2="328.8" y2="1269.3" stroke="#878787" stroke-width="2.7" stroke-linecap="butt"/>
<line x1="315.8" y1="1214.2" x2="328.8" y2="1214.2" stroke="#878787" stroke-width="2.7" stroke-linecap="butt"/>
<line x1="315.8" y1="1159.0" x2="328.8" y2="1159.0" stroke="#878787" stroke-width="2.7" stroke-linecap="butt"/>
<line x1="455.2" y1="1986.4" x2="455.2" y2="1973.9" stroke="#878787" stroke-width="2.7" stroke-linecap="butt"/>
<line x1="594.6" y1="1986.4" x2="594.6" y2="1973.9" stroke="#878787" stroke-width="2.7" stroke-linecap="butt"/>
<line x1="733.9" y1="1986.4" x2="733.9" y2="1973.9" stroke="#878787" stroke-width="2.7" stroke-linecap="butt"/>
<line x1="873.3" y1="1986.4" x2="873.3" y2="1973.9" stroke="#878787" stroke-width="2.7" stroke-linecap="butt"/>
<line x1="1012.7" y1="1986.4" x2="1012.7" y2="1973.9" stroke="#878787" stroke-width="2.7" stroke-linecap="butt"/>
<line x1="1152.1" y1="1986.4" x2="1152.1" y2="1973.9" stroke="#878787" stroke-width="2.7" stroke-linecap="butt"/>
<line x1="1291.5" y1="1986.4" x2="1291.5" y2="1973.9" stroke="#878787" stroke-width="2.7" stroke-linecap="butt"/>
<line x1="1430.9" y1="1986.4" x2="1430.9" y2="1973.9" stroke="#878787" stroke-width="2.7" stroke-linecap="butt"/>
<line x1="1570.2" y1="1986.4" x2="1570.2" y2="1973.9" stroke="#878787" stroke-width="2.7" stroke-linecap="butt"/>
<line x1="1709.6" y1="1986.4" x2="1709.6" y2="1973.9" stroke="#878787" stroke-width="2.7" stroke-linecap="butt"/>
<line x1="1849.0" y1="1986.4" x2="1849.0" y2="1973.9" stroke="#878787" stroke-width="2.7" stroke-linecap="butt"/>
<text x="252.0" y="2002.6" font-size="47.5">0</text>
<text x="252.5" y="1947.4" font-size="47.5">2</text>
<text x="251.6" y="1892.3" font-size="47.5">4</text>
<text x="252.3" y="1837.1" font-size="47.5">6</text>
<text x="252.0" y="1782.0" font-size="47.5">8</text>
<text x="225.7" y="1726.8" font-size="47.5">10</text>
<text x="226.2" y="1671.6" font-size="47.5">12</text>
<text x="225.2" y="1616.5" font-size="47.5">14</text>
<text x="225.9" y="1561.3" font-size="47.5">16</text>
<text x="225.7" y="1506.2" font-size="47.5">18</text>
<text x="225.7" y="1451.0" font-size="47.5">20</text>
<text x="226.2" y="1395.8" font-size="47.5">22</text>
<text x="225.2" y="1340.7" font-size="47.5">24</text>
<text x="225.9" y="1285.5" font-size="47.5">26</text>
<text x="225.7" y="1230.4" font-size="47.5">28</text>
<text x="225.7" y="1175.2" font-size="47.5">30</text>
<text x="132.0" y="1730.0" font-size="67.5" textLength="238.0" lengthAdjust="spacingAndGlyphs" transform="rotate(-90 132.0 1730.0)">Cost [K]</text>
<text x="271.1" y="2060.7" font-size="47.5">0.45</text>
<text x="410.5" y="2060.7" font-size="47.5">0.55</text>
<text x="549.9" y="2060.7" font-size="47.5">0.65</text>
<text x="689.3" y="2060.7" font-size="47.5">0.75</text>
<text x="828.6" y="2060.7" font-size="47.5">0.85</text>
<text x="968.0" y="2060.7" font-size="47.5">0.95</text>
<text x="1106.6" y="2060.7" font-size="47.5">1.05</text>
<text x="1245.9" y="2060.7" font-size="47.5">1.15</text>
<text x="1385.3" y="2060.7" font-size="47.5">1.25</text>
<text x="1524.7" y="2060.7" font-size="47.5">1.35</text>
<text x="1664.1" y="2060.7" font-size="47.5">1.45</text>
<text x="1803.5" y="2060.7" font-size="47.5">1.55</text>
<rect x="830.7" y="2072.2" width="87.3" height="5.0" fill="#000"/>
<text x="549.4" y="2161.5" font-size="67" textLength="1120.3" lengthAdjust="spacingAndGlyphs">Snow particle radius for 1st layer [mm]</text>
<text x="392.4" y="1226.2" font-size="40.5" textLength="179.3" lengthAdjust="spacing">Z1: 0.95m</text>
<text x="681.9" y="1226.2" font-size="40.5" textLength="175.5" lengthAdjust="spacing">Z2: 0.05m</text>
<text x="390.5" y="1271.5" font-size="40.5" textLength="214.4" lengthAdjust="spacing">R1: 2.95mm</text>
<text x="390.4" y="1317.7" font-size="40.5" textLength="257.3" lengthAdjust="spacing">D1:  0.10 g/cm</text>
<text x="646.9" y="1305.0" font-size="27.7">3</text>
<text x="686.3" y="1317.7" font-size="40.5" textLength="244.2" lengthAdjust="spacing">D2: 0.20 g/cm</text>
<text x="929.9" y="1305.0" font-size="27.7">3</text>
<text x="391.8" y="1363.5" font-size="40.5" textLength="201.8" lengthAdjust="spacing">SWC: 3.0%</text>
<text x="1634.0" y="1289.0" font-size="115" font-family="'Liberation Serif', 'Times New Roman', serif" textLength="130.6" lengthAdjust="spacingAndGlyphs">(b)</text>
<text x="1915.3" y="1173.6" font-size="45" textLength="208.0" lengthAdjust="spacingAndGlyphs">Emissivity</text>
<text x="1915.8" y="1225.8" font-size="45" textLength="294.1" lengthAdjust="spacingAndGlyphs">from ice sheet</text>
<line x1="1952.9" y1="1279.0" x2="1984.3" y2="1279.0" stroke="#000" stroke-width="6.6" stroke-linecap="round"/>
<circle cx="2003.5" cy="1279.0" r="3.10"/>
<circle cx="2022.4" cy="1279.0" r="3.10"/>
<text x="2046.2" y="1295.4" font-size="46" textLength="89.9" lengthAdjust="spacingAndGlyphs">0.60</text>
<line x1="1952.9" y1="1349.9" x2="1984.3" y2="1349.9" stroke="#000" stroke-width="6.6" stroke-linecap="round"/>
<circle cx="2003.5" cy="1349.9" r="3.10"/>
<line x1="2022.8" y1="1349.9" x2="2031.5" y2="1349.9" stroke="#000" stroke-width="6.6" stroke-linecap="round"/>
<text x="2046.2" y="1366.3" font-size="46" textLength="89.9" lengthAdjust="spacingAndGlyphs">0.65</text>
<line x1="1952.7" y1="1420.8" x2="2031.7" y2="1420.8" stroke="#000" stroke-width="6.0" stroke-linecap="round"/>
<text x="2046.2" y="1437.2" font-size="46" textLength="89.9" lengthAdjust="spacingAndGlyphs">0.70</text>
<line x1="1952.9" y1="1491.7" x2="1965.9" y2="1491.7" stroke="#000" stroke-width="6.6" stroke-linecap="round"/>
<line x1="1985.6" y1="1491.7" x2="1998.3" y2="1491.7" stroke="#000" stroke-width="6.6" stroke-linecap="round"/>
<line x1="2018.0" y1="1491.7" x2="2031.5" y2="1491.7" stroke="#000" stroke-width="6.6" stroke-linecap="round"/>
<text x="2046.2" y="1508.1" font-size="46" textLength="89.9" lengthAdjust="spacingAndGlyphs">0.75</text>
<circle cx="1953.2" cy="1562.6" r="3.00"/>
<circle cx="1963.1" cy="1562.6" r="3.00"/>
<circle cx="1973.0" cy="1562.6" r="3.00"/>
<circle cx="1982.9" cy="1562.6" r="3.00"/>
<circle cx="1992.8" cy="1562.6" r="3.00"/>
<circle cx="2002.7" cy="1562.6" r="3.00"/>
<circle cx="2012.6" cy="1562.6" r="3.00"/>
<circle cx="2022.5" cy="1562.6" r="3.00"/>
<circle cx="2032.4" cy="1562.6" r="3.00"/>
<text x="2046.2" y="1579.0" font-size="46" textLength="89.9" lengthAdjust="spacingAndGlyphs">0.80</text>
<line x1="1949.7" y1="1633.5" x2="1968.1" y2="1633.5" stroke="#000" stroke-width="3.3" stroke-linecap="butt"/>
<line x1="1975.7" y1="1633.5" x2="1978.9" y2="1633.5" stroke="#000" stroke-width="3.3" stroke-linecap="butt"/>
<line x1="1985.0" y1="1633.5" x2="1988.2" y2="1633.5" stroke="#000" stroke-width="3.3" stroke-linecap="butt"/>
<line x1="1995.0" y1="1633.5" x2="2014.2" y2="1633.5" stroke="#000" stroke-width="3.3" stroke-linecap="butt"/>
<line x1="2020.5" y1="1633.5" x2="2023.7" y2="1633.5" stroke="#000" stroke-width="3.3" stroke-linecap="butt"/>
<text x="2046.2" y="1649.9" font-size="46" textLength="89.9" lengthAdjust="spacingAndGlyphs">0.85</text>
<line x1="1949.7" y1="1704.4" x2="1959.5" y2="1704.4" stroke="#000" stroke-width="3.6" stroke-linecap="butt"/>
<line x1="1966.3" y1="1704.4" x2="1976.1" y2="1704.4" stroke="#000" stroke-width="3.6" stroke-linecap="butt"/>
<line x1="1983.0" y1="1704.4" x2="1992.8" y2="1704.4" stroke="#000" stroke-width="3.6" stroke-linecap="butt"/>
<line x1="1999.6" y1="1704.4" x2="2009.4" y2="1704.4" stroke="#000" stroke-width="3.6" stroke-linecap="butt"/>
<line x1="2016.2" y1="1704.4" x2="2026.0" y2="1704.4" stroke="#000" stroke-width="3.6" stroke-linecap="butt"/>
<text x="2046.2" y="1720.8" font-size="46" textLength="89.9" lengthAdjust="spacingAndGlyphs">0.90</text>
<line x1="1954.7" y1="1775.3" x2="2028.8" y2="1775.3" stroke="#000" stroke-width="15.6" stroke-linecap="round"/>
<text x="2046.2" y="1791.7" font-size="46" textLength="89.9" lengthAdjust="spacingAndGlyphs">0.95</text>
<rect x="2048.5" y="1802.4" width="86.1" height="5.4" fill="#000"/>
<line x1="1949.7" y1="1846.2" x2="1965.0" y2="1846.2" stroke="#000" stroke-width="3.3" stroke-linecap="butt"/>
<line x1="1974.9" y1="1846.2" x2="1993.3" y2="1846.2" stroke="#000" stroke-width="3.3" stroke-linecap="butt"/>
<line x1="2000.2" y1="1846.2" x2="2019.4" y2="1846.2" stroke="#000" stroke-width="3.3" stroke-linecap="butt"/>
<line x1="2025.8" y1="1846.2" x2="2031.9" y2="1846.2" stroke="#000" stroke-width="3.3" stroke-linecap="butt"/>
<text x="2044.5" y="1862.6" font-size="46" textLength="91.6" lengthAdjust="spacingAndGlyphs">1.00</text>
<line x1="1949.7" y1="1917.1" x2="2026.8" y2="1917.1" stroke="#000" stroke-width="2.6" stroke-dasharray="2.3 2.2"/>
<text x="2044.5" y="1933.5" font-size="46" textLength="91.6" lengthAdjust="spacingAndGlyphs">1.05</text>
<path d="M315.8,1868.6 C385.5,1870.1 594.6,1873.1 733.9,1877.5 C873.3,1881.8 1059.2,1890.2 1152.1,1894.6 C1245.0,1898.9 1245.0,1899.6 1291.5,1903.7 C1337.9,1907.7 1384.4,1914.6 1430.9,1918.8 C1477.3,1923.1 1523.8,1927.1 1570.2,1929.3 C1616.7,1931.6 1663.2,1931.5 1709.6,1932.3 C1756.1,1933.2 1825.8,1934.0 1849.0,1934.3" fill="none" stroke="#000" stroke-width="2.8" stroke-linecap="butt" stroke-linejoin="round" stroke-dasharray="2.6 2.4"/>
<path d="M315.8,1932.6 C385.5,1933.0 594.6,1934.0 733.9,1934.8 C873.3,1935.7 1059.2,1936.8 1152.1,1937.6 C1245.0,1938.4 1245.0,1938.8 1291.5,1939.5 C1337.9,1940.2 1384.4,1941.0 1430.9,1941.7 C1477.3,1942.4 1523.8,1943.0 1570.2,1943.7 C1616.7,1944.3 1663.2,1945.0 1709.6,1945.6 C1756.1,1946.2 1825.8,1947.0 1849.0,1947.2" fill="none" stroke="#000" stroke-width="3.3" stroke-linecap="butt" stroke-linejoin="round" stroke-dasharray="20 8"/>
<path d="M315.8,1948.3 C385.5,1948.5 594.6,1948.8 733.9,1949.2 C873.3,1949.5 1059.2,1950.9 1152.1,1950.5 C1245.0,1950.2 1245.0,1950.6 1291.5,1947.2 C1337.9,1943.9 1384.4,1935.7 1430.9,1930.4 C1477.3,1925.2 1523.8,1920.3 1570.2,1915.8 C1616.7,1911.3 1663.2,1907.7 1709.6,1903.7 C1756.1,1899.6 1825.8,1893.5 1849.0,1891.5" fill="none" stroke="#000" stroke-width="15.2" stroke-linecap="butt" stroke-linejoin="round"/>
<path d="M315.8,1921.6 C385.5,1920.0 594.6,1916.1 733.9,1911.9 C873.3,1907.8 1059.2,1900.4 1152.1,1896.8 C1245.0,1893.1 1245.0,1892.9 1291.5,1889.9 C1337.9,1886.9 1384.4,1882.7 1430.9,1878.8 C1477.3,1874.9 1523.8,1871.3 1570.2,1866.4 C1616.7,1861.6 1663.2,1855.4 1709.6,1849.9 C1756.1,1844.4 1825.8,1836.1 1849.0,1833.3" fill="none" stroke="#000" stroke-width="3.3" stroke-linecap="butt" stroke-linejoin="round" stroke-dasharray="10.5 6.5"/>
<path d="M315.8,1857.3 C385.5,1855.9 594.6,1852.6 733.9,1848.5 C873.3,1844.4 1059.2,1836.7 1152.1,1832.8 C1245.0,1828.9 1245.0,1828.0 1291.5,1825.1 C1337.9,1822.2 1384.4,1818.9 1430.9,1815.4 C1477.3,1812.0 1523.8,1808.5 1570.2,1804.4 C1616.7,1800.2 1663.2,1795.4 1709.6,1790.6 C1756.1,1785.8 1825.8,1777.9 1849.0,1775.4" fill="none" stroke="#000" stroke-width="3.3" stroke-linecap="butt" stroke-linejoin="round" stroke-dasharray="20 7 3 7 3 8"/>
<path d="M315.8,1793.3 C385.5,1792.0 594.6,1789.2 733.9,1785.1 C873.3,1780.9 1059.2,1772.4 1152.1,1768.5 C1245.0,1764.6 1245.0,1764.2 1291.5,1761.6 C1337.9,1759.1 1384.4,1756.3 1430.9,1753.3 C1477.3,1750.4 1523.8,1747.6 1570.2,1743.7 C1616.7,1739.8 1663.2,1734.5 1709.6,1729.9 C1756.1,1725.3 1825.8,1718.4 1849.0,1716.1" fill="none" stroke="#000" stroke-width="6.2" stroke-linecap="round" stroke-linejoin="round" stroke-dasharray="0 10.6"/>
<path d="M315.8,1731.0 C385.5,1729.9 594.6,1728.3 733.9,1724.4 C873.3,1720.5 1059.2,1711.7 1152.1,1707.8 C1245.0,1703.9 1245.0,1703.5 1291.5,1700.9 C1337.9,1698.4 1384.4,1695.7 1430.9,1692.7 C1477.3,1689.7 1523.8,1686.7 1570.2,1683.0 C1616.7,1679.3 1663.2,1674.7 1709.6,1670.6 C1756.1,1666.5 1825.8,1660.3 1849.0,1658.2" fill="none" stroke="#000" stroke-width="6.2" stroke-linecap="round" stroke-linejoin="round" stroke-dasharray="14.5 20.1"/>
<path d="M315.8,1666.5 C385.5,1665.6 594.6,1664.5 733.9,1661.0 C873.3,1657.4 1059.2,1648.6 1152.1,1645.0 C1245.0,1641.3 1245.0,1641.3 1291.5,1638.9 C1337.9,1636.5 1384.4,1633.6 1430.9,1630.6 C1477.3,1627.6 1523.8,1624.2 1570.2,1621.0 C1616.7,1617.7 1663.2,1615.0 1709.6,1611.3 C1756.1,1607.6 1825.8,1601.0 1849.0,1598.9" fill="none" stroke="#000" stroke-width="5.8" stroke-linecap="butt" stroke-linejoin="round"/>
<path d="M315.8,1603.0 C385.5,1602.3 594.6,1602.1 733.9,1598.9 C873.3,1595.7 1059.2,1587.2 1152.1,1583.7 C1245.0,1580.3 1245.0,1580.3 1291.5,1578.2 C1337.9,1576.1 1384.4,1574.1 1430.9,1571.3 C1477.3,1568.6 1523.8,1564.9 1570.2,1561.7 C1616.7,1558.5 1663.2,1555.5 1709.6,1552.0 C1756.1,1548.6 1825.8,1542.8 1849.0,1541.0" fill="none" stroke="#000" stroke-width="6.2" stroke-linecap="round" stroke-linejoin="round" stroke-dasharray="34.5 19.8 0 20.7"/>
<path d="M315.8,1539.6 C385.5,1538.9 594.6,1538.5 733.9,1535.5 C873.3,1532.5 1059.2,1524.9 1152.1,1521.7 C1245.0,1518.5 1245.0,1518.2 1291.5,1516.2 C1337.9,1514.1 1384.4,1511.8 1430.9,1509.3 C1477.3,1506.7 1523.8,1503.8 1570.2,1501.0 C1616.7,1498.2 1663.2,1495.7 1709.6,1492.7 C1756.1,1489.7 1825.8,1484.7 1849.0,1483.1" fill="none" stroke="#000" stroke-width="6.2" stroke-linecap="round" stroke-linejoin="round" stroke-dasharray="34.5 19.5 0 20 0 21.4"/>
<line x1="312.8" y1="2238.6" x2="312.8" y2="3066.1" stroke="#878787" stroke-width="3.7" stroke-linecap="butt"/>
<line x1="311.0" y1="3064.3" x2="1841.9" y2="3064.3" stroke="#878787" stroke-width="3.7" stroke-linecap="butt"/>
<line x1="312.8" y1="3064.3" x2="325.8" y2="3064.3" stroke="#878787" stroke-width="2.7" stroke-linecap="butt"/>
<line x1="312.8" y1="3009.3" x2="325.8" y2="3009.3" stroke="#878787" stroke-width="2.7" stroke-linecap="butt"/>
<line x1="312.8" y1="2954.4" x2="325.8" y2="2954.4" stroke="#878787" stroke-width="2.7" stroke-linecap="butt"/>
<line x1="312.8" y1="2899.4" x2="325.8" y2="2899.4" stroke="#878787" stroke-width="2.7" stroke-linecap="butt"/>
<line x1="312.8" y1="2844.5" x2="325.8" y2="2844.5" stroke="#878787" stroke-width="2.7" stroke-linecap="butt"/>
<line x1="312.8" y1="2789.5" x2="325.8" y2="2789.5" stroke="#878787" stroke-width="2.7" stroke-linecap="butt"/>
<line x1="312.8" y1="2734.6" x2="325.8" y2="2734.6" stroke="#878787" stroke-width="2.7" stroke-linecap="butt"/>
<line x1="312.8" y1="2679.6" x2="325.8" y2="2679.6" stroke="#878787" stroke-width="2.7" stroke-linecap="butt"/>
<line x1="312.8" y1="2624.7" x2="325.8" y2="2624.7" stroke="#878787" stroke-width="2.7" stroke-linecap="butt"/>
<line x1="312.8" y1="2569.7" x2="325.8" y2="2569.7" stroke="#878787" stroke-width="2.7" stroke-linecap="butt"/>
<line x1="312.8" y1="2514.8" x2="325.8" y2="2514.8" stroke="#878787" stroke-width="2.7" stroke-linecap="butt"/>
<line x1="312.8" y1="2459.8" x2="325.8" y2="2459.8" stroke="#878787" stroke-width="2.7" stroke-linecap="butt"/>
<line x1="312.8" y1="2404.9" x2="325.8" y2="2404.9" stroke="#878787" stroke-width="2.7" stroke-linecap="butt"/>
<line x1="312.8" y1="2349.9" x2="325.8" y2="2349.9" stroke="#878787" stroke-width="2.7" stroke-linecap="butt"/>
<line x1="312.8" y1="2295.0" x2="325.8" y2="2295.0" stroke="#878787" stroke-width="2.7" stroke-linecap="butt"/>
<line x1="312.8" y1="2240.0" x2="325.8" y2="2240.0" stroke="#878787" stroke-width="2.7" stroke-linecap="butt"/>
<line x1="408.3" y1="3064.3" x2="408.3" y2="3051.8" stroke="#878787" stroke-width="2.7" stroke-linecap="butt"/>
<line x1="503.8" y1="3064.3" x2="503.8" y2="3051.8" stroke="#878787" stroke-width="2.7" stroke-linecap="butt"/>
<line x1="599.2" y1="3064.3" x2="599.2" y2="3051.8" stroke="#878787" stroke-width="2.7" stroke-linecap="butt"/>
<line x1="694.7" y1="3064.3" x2="694.7" y2="3051.8" stroke="#878787" stroke-width="2.7" stroke-linecap="butt"/>
<line x1="790.2" y1="3064.3" x2="790.2" y2="3051.8" stroke="#878787" stroke-width="2.7" stroke-linecap="butt"/>
<line x1="885.6" y1="3064.3" x2="885.6" y2="3051.8" stroke="#878787" stroke-width="2.7" stroke-linecap="butt"/>
<line x1="981.1" y1="3064.3" x2="981.1" y2="3051.8" stroke="#878787" stroke-width="2.7" stroke-linecap="butt"/>
<line x1="1076.6" y1="3064.3" x2="1076.6" y2="3051.8" stroke="#878787" stroke-width="2.7" stroke-linecap="butt"/>
<line x1="1172.1" y1="3064.3" x2="1172.1" y2="3051.8" stroke="#878787" stroke-width="2.7" stroke-linecap="butt"/>
<line x1="1267.6" y1="3064.3" x2="1267.6" y2="3051.8" stroke="#878787" stroke-width="2.7" stroke-linecap="butt"/>
<line x1="1363.0" y1="3064.3" x2="1363.0" y2="3051.8" stroke="#878787" stroke-width="2.7" stroke-linecap="butt"/>
<line x1="1458.5" y1="3064.3" x2="1458.5" y2="3051.8" stroke="#878787" stroke-width="2.7" stroke-linecap="butt"/>
<line x1="1554.0" y1="3064.3" x2="1554.0" y2="3051.8" stroke="#878787" stroke-width="2.7" stroke-linecap="butt"/>
<line x1="1649.5" y1="3064.3" x2="1649.5" y2="3051.8" stroke="#878787" stroke-width="2.7" stroke-linecap="butt"/>
<line x1="1744.9" y1="3064.3" x2="1744.9" y2="3051.8" stroke="#878787" stroke-width="2.7" stroke-linecap="butt"/>
<line x1="1840.4" y1="3064.3" x2="1840.4" y2="3051.8" stroke="#878787" stroke-width="2.7" stroke-linecap="butt"/>
<text x="197.3" y="3080.5" font-size="47.5">0.0</text>
<text x="197.3" y="3025.5" font-size="47.5">2.0</text>
<text x="197.3" y="2970.6" font-size="47.5">4.0</text>
<text x="197.3" y="2915.6" font-size="47.5">6.0</text>
<text x="197.3" y="2860.7" font-size="47.5">8.0</text>
<text x="170.9" y="2805.7" font-size="47.5">10.0</text>
<text x="170.9" y="2750.8" font-size="47.5">12.0</text>
<text x="170.9" y="2695.8" font-size="47.5">14.0</text>
<text x="170.9" y="2640.9" font-size="47.5">16.0</text>
<text x="170.9" y="2585.9" font-size="47.5">18.0</text>
<text x="170.9" y="2531.0" font-size="47.5">20.0</text>
<text x="170.9" y="2476.0" font-size="47.5">22.0</text>
<text x="170.9" y="2421.1" font-size="47.5">24.0</text>
<text x="170.9" y="2366.1" font-size="47.5">26.0</text>
<text x="170.9" y="2311.2" font-size="47.5">28.0</text>
<text x="170.9" y="2256.2" font-size="47.5">30.0</text>
<text x="132.0" y="2766.0" font-size="67.5" textLength="235.8" lengthAdjust="spacingAndGlyphs" transform="rotate(-90 132.0 2766.0)">Cost [K]</text>
<text x="329.8" y="3188.0" font-size="47.5" transform="rotate(-90 329.8 3188.0)">1.45</text>
<text x="425.3" y="3188.0" font-size="47.5" transform="rotate(-90 425.3 3188.0)">1.55</text>
<text x="520.8" y="3188.0" font-size="47.5" transform="rotate(-90 520.8 3188.0)">1.65</text>
<text x="616.2" y="3188.0" font-size="47.5" transform="rotate(-90 616.2 3188.0)">1.75</text>
<text x="711.7" y="3188.0" font-size="47.5" transform="rotate(-90 711.7 3188.0)">1.85</text>
<text x="807.2" y="3188.0" font-size="47.5" transform="rotate(-90 807.2 3188.0)">1.95</text>
<text x="902.7" y="3188.0" font-size="47.5" transform="rotate(-90 902.7 3188.0)">2.05</text>
<text x="998.1" y="3188.0" font-size="47.5" transform="rotate(-90 998.1 3188.0)">2.15</text>
<text x="1093.6" y="3188.0" font-size="47.5" transform="rotate(-90 1093.6 3188.0)">2.25</text>
<text x="1189.1" y="3188.0" font-size="47.5" transform="rotate(-90 1189.1 3188.0)">2.35</text>
<text x="1284.6" y="3188.0" font-size="47.5" transform="rotate(-90 1284.6 3188.0)">2.45</text>
<text x="1380.0" y="3188.0" font-size="47.5" transform="rotate(-90 1380.0 3188.0)">2.55</text>
<text x="1475.5" y="3188.0" font-size="47.5" transform="rotate(-90 1475.5 3188.0)">2.65</text>
<text x="1571.0" y="3188.0" font-size="47.5" transform="rotate(-90 1571.0 3188.0)">2.75</text>
<text x="1666.5" y="3188.0" font-size="47.5" transform="rotate(-90 1666.5 3188.0)">2.85</text>
<text x="1761.9" y="3188.0" font-size="47.5" transform="rotate(-90 1761.9 3188.0)">2.95</text>
<text x="1857.4" y="3188.0" font-size="47.5" transform="rotate(-90 1857.4 3188.0)">3.05</text>
<rect x="1681.5" y="3098.0" width="5.0" height="89.5" fill="#000"/>
<text x="584.3" y="3265.0" font-size="67" textLength="1139.4" lengthAdjust="spacingAndGlyphs">Snow particle radius for 2nd layer [mm]</text>
<text x="1187.7" y="2317.0" font-size="40.5" textLength="178.0" lengthAdjust="spacing">Z1:  0.95m</text>
<text x="1495.2" y="2317.0" font-size="40.5" textLength="178.1" lengthAdjust="spacing">Z2: 0.05m</text>
<text x="1185.6" y="2362.3" font-size="40.5" textLength="215.0" lengthAdjust="spacing">R1: 0.85mm</text>
<text x="1185.7" y="2407.7" font-size="40.5" textLength="255.9" lengthAdjust="spacing">D1:  0.10 g/cm</text>
<text x="1440.8" y="2396.0" font-size="27.7">3</text>
<text x="1489.7" y="2407.7" font-size="40.5" textLength="245.0" lengthAdjust="spacing">D2: 0.20 g/cm</text>
<text x="1733.8" y="2396.0" font-size="27.7">3</text>
<text x="1187.0" y="2453.3" font-size="40.5" textLength="203.3" lengthAdjust="spacing">SWC: 3.0%</text>
<text x="406.0" y="2973.2" font-size="115" font-family="'Liberation Serif', 'Times New Roman', serif" textLength="123.4" lengthAdjust="spacingAndGlyphs">(c)</text>
<text x="1905.2" y="2248.0" font-size="45" textLength="210.0" lengthAdjust="spacingAndGlyphs">Emissivity</text>
<text x="1906.8" y="2299.0" font-size="45" textLength="295.2" lengthAdjust="spacingAndGlyphs">from ice sheet</text>
<line x1="1985.3" y1="2352.6" x2="2016.7" y2="2352.6" stroke="#000" stroke-width="6.6" stroke-linecap="round"/>
<circle cx="2035.9" cy="2352.6" r="3.10"/>
<circle cx="2054.8" cy="2352.6" r="3.10"/>
<text x="2078.7" y="2369.0" font-size="46" textLength="88.9" lengthAdjust="spacingAndGlyphs">0.60</text>
<line x1="1985.3" y1="2423.2" x2="2016.7" y2="2423.2" stroke="#000" stroke-width="6.6" stroke-linecap="round"/>
<circle cx="2035.9" cy="2423.2" r="3.10"/>
<line x1="2055.2" y1="2423.2" x2="2063.9" y2="2423.2" stroke="#000" stroke-width="6.6" stroke-linecap="round"/>
<text x="2078.7" y="2439.6" font-size="46" textLength="88.9" lengthAdjust="spacingAndGlyphs">0.65</text>
<line x1="1985.1" y1="2493.8" x2="2064.1" y2="2493.8" stroke="#000" stroke-width="6.0" stroke-linecap="round"/>
<text x="2078.7" y="2510.2" font-size="46" textLength="88.9" lengthAdjust="spacingAndGlyphs">0.70</text>
<line x1="1985.3" y1="2564.4" x2="1998.3" y2="2564.4" stroke="#000" stroke-width="6.6" stroke-linecap="round"/>
<line x1="2018.0" y1="2564.4" x2="2030.7" y2="2564.4" stroke="#000" stroke-width="6.6" stroke-linecap="round"/>
<line x1="2050.4" y1="2564.4" x2="2063.9" y2="2564.4" stroke="#000" stroke-width="6.6" stroke-linecap="round"/>
<text x="2078.7" y="2580.8" font-size="46" textLength="88.9" lengthAdjust="spacingAndGlyphs">0.75</text>
<circle cx="1985.6" cy="2635.0" r="3.00"/>
<circle cx="1995.5" cy="2635.0" r="3.00"/>
<circle cx="2005.4" cy="2635.0" r="3.00"/>
<circle cx="2015.3" cy="2635.0" r="3.00"/>
<circle cx="2025.2" cy="2635.0" r="3.00"/>
<circle cx="2035.1" cy="2635.0" r="3.00"/>
<circle cx="2045.0" cy="2635.0" r="3.00"/>
<circle cx="2054.9" cy="2635.0" r="3.00"/>
<circle cx="2064.8" cy="2635.0" r="3.00"/>
<text x="2078.7" y="2651.4" font-size="46" textLength="88.9" lengthAdjust="spacingAndGlyphs">0.80</text>
<line x1="1982.1" y1="2705.6" x2="2000.5" y2="2705.6" stroke="#000" stroke-width="3.3" stroke-linecap="butt"/>
<line x1="2008.1" y1="2705.6" x2="2011.3" y2="2705.6" stroke="#000" stroke-width="3.3" stroke-linecap="butt"/>
<line x1="2017.4" y1="2705.6" x2="2020.6" y2="2705.6" stroke="#000" stroke-width="3.3" stroke-linecap="butt"/>
<line x1="2027.4" y1="2705.6" x2="2046.6" y2="2705.6" stroke="#000" stroke-width="3.3" stroke-linecap="butt"/>
<line x1="2052.9" y1="2705.6" x2="2056.1" y2="2705.6" stroke="#000" stroke-width="3.3" stroke-linecap="butt"/>
<text x="2078.7" y="2722.0" font-size="46" textLength="88.9" lengthAdjust="spacingAndGlyphs">0.85</text>
<line x1="1982.1" y1="2776.2" x2="1997.5" y2="2776.2" stroke="#000" stroke-width="3.3" stroke-linecap="butt"/>
<line x1="2017.1" y1="2776.2" x2="2035.3" y2="2776.2" stroke="#000" stroke-width="3.3" stroke-linecap="butt"/>
<line x1="2055.0" y1="2776.2" x2="2063.4" y2="2776.2" stroke="#000" stroke-width="3.3" stroke-linecap="butt"/>
<line x1="2007.1" y1="2776.2" x2="2010.3" y2="2776.2" stroke="#000" stroke-width="3.3" stroke-linecap="butt"/>
<line x1="2044.0" y1="2776.2" x2="2047.2" y2="2776.2" stroke="#000" stroke-width="3.3" stroke-linecap="butt"/>
<text x="2078.7" y="2792.6" font-size="46" textLength="88.9" lengthAdjust="spacingAndGlyphs">0.90</text>
<line x1="1986.8" y1="2846.8" x2="2061.4" y2="2846.8" stroke="#000" stroke-width="15.1" stroke-linecap="round"/>
<text x="2078.7" y="2863.2" font-size="46" textLength="88.9" lengthAdjust="spacingAndGlyphs">0.95</text>
<rect x="2081.0" y="2874.1" width="85.2" height="5.4" fill="#000"/>
<line x1="1982.1" y1="2917.4" x2="1997.4" y2="2917.4" stroke="#000" stroke-width="3.3" stroke-linecap="butt"/>
<line x1="2007.3" y1="2917.4" x2="2025.7" y2="2917.4" stroke="#000" stroke-width="3.3" stroke-linecap="butt"/>
<line x1="2032.6" y1="2917.4" x2="2051.8" y2="2917.4" stroke="#000" stroke-width="3.3" stroke-linecap="butt"/>
<line x1="2058.2" y1="2917.4" x2="2064.3" y2="2917.4" stroke="#000" stroke-width="3.3" stroke-linecap="butt"/>
<text x="2077.0" y="2933.8" font-size="46" textLength="90.6" lengthAdjust="spacingAndGlyphs">1.00</text>
<line x1="1982.1" y1="2988.0" x2="2059.2" y2="2988.0" stroke="#000" stroke-width="2.6" stroke-dasharray="2.3 2.2"/>
<text x="2077.0" y="3004.4" font-size="46" textLength="90.6" lengthAdjust="spacingAndGlyphs">1.05</text>
<path d="M312.8,2415.9 L315.9,2416.4 L318.9,2416.9 L322.0,2417.4 L325.0,2417.9 L328.1,2418.4 L331.2,2418.9 L334.2,2419.3 L337.3,2419.8 L340.4,2420.3 L343.4,2420.8 L346.5,2421.3 L349.5,2421.8 L352.6,2422.3 L355.7,2422.7 L358.7,2423.2 L361.8,2423.7 L364.8,2424.2 L367.9,2424.7 L371.0,2425.1 L374.0,2425.6 L377.1,2426.1 L380.1,2426.6 L383.2,2427.0 L386.3,2427.5 L389.3,2428.0 L392.4,2428.5 L395.5,2428.9 L398.5,2429.4 L401.6,2429.9 L404.6,2430.4 L407.7,2430.8 L410.8,2431.3 L413.8,2431.8 L416.9,2432.3 L419.9,2432.8 L423.0,2433.3 L426.1,2433.7 L429.1,2434.2 L432.2,2434.7 L435.3,2435.2 L438.3,2435.7 L441.4,2436.2 L444.4,2436.7 L447.5,2437.2 L450.6,2437.7 L453.6,2438.2 L456.7,2438.7 L459.7,2439.2 L462.8,2439.8 L465.9,2440.3 L468.9,2440.8 L472.0,2441.3 L475.1,2441.9 L478.1,2442.4 L481.2,2442.9 L484.2,2443.5 L487.3,2444.0 L490.4,2444.6 L493.4,2445.1 L496.5,2445.7 L499.5,2446.3 L502.6,2446.8 L505.7,2447.4 L508.7,2448.0 L511.8,2448.6 L514.8,2449.2 L517.9,2449.8 L521.0,2450.4 L524.0,2451.0 L527.1,2451.6 L530.2,2452.2 L533.2,2452.8 L536.3,2453.5 L539.3,2454.1 L542.4,2454.7 L545.5,2455.4 L548.5,2456.0 L551.6,2456.7 L554.6,2457.3 L557.7,2458.0 L560.8,2458.7 L563.8,2459.3 L566.9,2460.0 L570.0,2460.7 L573.0,2461.4 L576.1,2462.1 L579.1,2462.8 L582.2,2463.5 L585.3,2464.2 L588.3,2464.9 L591.4,2465.6 L594.4,2466.3 L597.5,2467.0 L600.6,2467.7 L603.6,2468.5 L606.7,2469.2 L609.7,2469.9 L612.8,2470.7 L615.9,2471.4 L618.9,2472.2 L622.0,2472.9 L625.1,2473.7 L628.1,2474.5 L631.2,2475.2 L634.2,2476.0 L637.3,2476.8 L640.4,2477.5 L643.4,2478.3 L646.5,2479.1 L649.5,2479.9 L652.6,2480.7 L655.7,2481.5 L658.7,2482.3 L661.8,2483.1 L664.9,2483.9 L667.9,2484.7 L671.0,2485.5 L674.0,2486.3 L677.1,2487.1 L680.2,2488.0 L683.2,2488.8 L686.3,2489.6 L689.3,2490.5 L692.4,2491.3 L695.5,2492.1 L698.5,2493.0 L701.6,2493.8 L704.6,2494.7 L707.7,2495.5 L710.8,2496.4 L713.8,2497.2 L716.9,2498.1 L720.0,2499.0 L723.0,2499.8 L726.1,2500.7 L729.1,2501.6 L732.2,2502.5 L735.3,2503.3 L738.3,2504.2 L741.4,2505.1 L744.4,2506.0 L747.5,2506.9 L750.6,2507.8 L753.6,2508.7 L756.7,2509.6 L759.8,2510.5 L762.8,2511.4 L765.9,2512.4 L768.9,2513.3 L772.0,2514.2 L775.1,2515.2 L778.1,2516.2 L781.2,2517.1 L784.2,2518.1 L787.3,2519.1 L790.4,2520.0 L793.4,2521.0 L796.5,2522.0 L799.6,2523.0 L802.6,2524.0 L805.7,2525.0 L808.7,2526.0 L811.8,2527.1 L814.9,2528.1 L817.9,2529.1 L821.0,2530.1 L824.0,2531.2 L827.1,2532.2 L830.2,2533.3 L833.2,2534.3 L836.3,2535.4 L839.3,2536.4 L842.4,2537.5 L845.5,2538.6 L848.5,2539.7 L851.6,2540.7 L854.7,2541.8 L857.7,2542.9 L860.8,2544.0 L863.8,2545.1 L866.9,2546.2 L870.0,2547.3 L873.0,2548.4 L876.1,2549.5 L879.1,2550.6 L882.2,2551.7 L885.3,2552.8 L888.3,2554.0 L891.4,2555.1 L894.5,2556.2 L897.5,2557.3 L900.6,2558.5 L903.6,2559.6 L906.7,2560.7 L909.8,2561.9 L912.8,2563.0 L915.9,2564.2 L918.9,2565.3 L922.0,2566.5 L925.1,2567.6 L928.1,2568.8 L931.2,2569.9 L934.2,2571.1 L937.3,2572.2 L940.4,2573.4 L943.4,2574.5 L946.5,2575.7 L949.6,2576.8 L952.6,2578.0 L955.7,2579.2 L958.7,2580.3 L961.8,2581.5 L964.9,2582.6 L967.9,2583.8 L971.0,2585.0 L974.0,2586.1 L977.1,2587.3 L980.2,2588.5 L983.2,2589.7 L986.3,2590.9 L989.4,2592.0 L992.4,2593.2 L995.5,2594.4 L998.5,2595.6 L1001.6,2596.8 L1004.7,2598.1 L1007.7,2599.3 L1010.8,2600.5 L1013.8,2601.7 L1016.9,2602.9 L1020.0,2604.2 L1023.0,2605.4 L1026.1,2606.7 L1029.1,2607.9 L1032.2,2609.1 L1035.3,2610.4 L1038.3,2611.6 L1041.4,2612.9 L1044.5,2614.2 L1047.5,2615.4 L1050.6,2616.7 L1053.6,2618.0 L1056.7,2619.2 L1059.8,2620.5 L1062.8,2621.8 L1065.9,2623.1 L1068.9,2624.3 L1072.0,2625.6 L1075.1,2626.9 L1078.1,2628.2 L1081.2,2629.5 L1084.3,2630.8 L1087.3,2632.1 L1090.4,2633.4 L1093.4,2634.7 L1096.5,2636.0 L1099.6,2637.3 L1102.6,2638.6 L1105.7,2639.9 L1108.7,2641.2 L1111.8,2642.5 L1114.9,2643.8 L1117.9,2645.1 L1121.0,2646.5 L1124.1,2647.8 L1127.1,2649.1 L1130.2,2650.4 L1133.2,2651.7 L1136.3,2653.0 L1139.4,2654.4 L1142.4,2655.7 L1145.5,2657.0 L1148.5,2658.3 L1151.6,2659.6 L1154.7,2661.0 L1157.7,2662.3 L1160.8,2663.6 L1163.8,2664.9 L1166.9,2666.3 L1170.0,2667.6 L1173.0,2668.9 L1176.1,2670.2 L1179.2,2671.6 L1182.2,2672.9 L1185.3,2674.2 L1188.3,2675.5 L1191.4,2676.8 L1194.5,2678.2 L1197.5,2679.5 L1200.6,2680.8 L1203.6,2682.1 L1206.7,2683.5 L1209.8,2684.8 L1212.8,2686.1 L1215.9,2687.5 L1219.0,2688.8 L1222.0,2690.2 L1225.1,2691.5 L1228.1,2692.9 L1231.2,2694.2 L1234.3,2695.6 L1237.3,2696.9 L1240.4,2698.3 L1243.4,2699.6 L1246.5,2701.0 L1249.6,2702.4 L1252.6,2703.7 L1255.7,2705.1 L1258.7,2706.5 L1261.8,2707.8 L1264.9,2709.2 L1267.9,2710.6 L1271.0,2711.9 L1274.1,2713.3 L1277.1,2714.7 L1280.2,2716.1 L1283.2,2717.4 L1286.3,2718.8 L1289.4,2720.2 L1292.4,2721.6 L1295.5,2722.9 L1298.5,2724.3 L1301.6,2725.7 L1304.7,2727.1 L1307.7,2728.4 L1310.8,2729.8 L1313.9,2731.2 L1316.9,2732.5 L1320.0,2733.9 L1323.0,2735.3 L1326.1,2736.6 L1329.2,2738.0 L1332.2,2739.4 L1335.3,2740.7 L1338.3,2742.1 L1341.4,2743.5 L1344.5,2744.9 L1347.5,2746.2 L1350.6,2747.6 L1353.6,2749.0 L1356.7,2750.4 L1359.8,2751.7 L1362.8,2753.1 L1365.9,2754.5 L1369.0,2755.9 L1372.0,2757.3 L1375.1,2758.7 L1378.1,2760.0 L1381.2,2761.4 L1384.3,2762.8 L1387.3,2764.3 L1390.4,2765.7 L1393.4,2767.1 L1396.5,2768.5 L1399.6,2769.9 L1402.6,2771.3 L1405.7,2772.8 L1408.8,2774.2 L1411.8,2775.6 L1414.9,2777.1 L1417.9,2778.5 L1421.0,2780.0 L1424.1,2781.4 L1427.1,2782.9 L1430.2,2784.4 L1433.2,2785.8 L1436.3,2787.3 L1439.4,2788.8 L1442.4,2790.3 L1445.5,2791.8 L1448.6,2793.3 L1451.6,2794.8 L1454.7,2796.3 L1457.7,2797.8 L1460.8,2799.3 L1463.9,2800.8 L1466.9,2802.3 L1470.0,2803.8 L1473.0,2805.4 L1476.1,2806.9 L1479.2,2808.4 L1482.2,2810.0 L1485.3,2811.5 L1488.3,2813.1 L1491.4,2814.7 L1494.5,2816.2 L1497.5,2817.8 L1500.6,2819.4 L1503.7,2821.0 L1506.7,2822.6 L1509.8,2824.2 L1512.8,2825.8 L1515.9,2827.4 L1519.0,2829.1 L1522.0,2830.7 L1525.1,2832.3 L1528.1,2834.0 L1531.2,2835.7 L1534.3,2837.3 L1537.3,2839.0 L1540.4,2840.7 L1543.5,2842.4 L1546.5,2844.1 L1549.6,2845.8 L1552.6,2847.5 L1555.7,2849.3 L1558.8,2851.0 L1561.8,2852.7 L1564.9,2854.5 L1567.9,2856.2 L1571.0,2857.9 L1574.1,2859.7 L1577.1,2861.4 L1580.2,2863.2 L1583.2,2864.9 L1586.3,2866.7 L1589.4,2868.4 L1592.4,2870.2 L1595.5,2871.9 L1598.6,2873.7 L1601.6,2875.4 L1604.7,2877.2 L1607.7,2878.9 L1610.8,2880.7 L1613.9,2882.4 L1616.9,2884.2 L1620.0,2886.0 L1623.0,2887.8 L1626.1,2889.5 L1629.2,2891.3 L1632.2,2893.2 L1635.3,2895.0 L1638.4,2896.8 L1641.4,2898.7 L1644.5,2900.6 L1647.5,2902.4 L1650.6,2904.4 L1653.7,2906.3 L1656.7,2908.3 L1659.8,2910.4 L1662.8,2912.5 L1665.9,2914.7 L1669.0,2916.9 L1672.0,2919.2 L1675.1,2921.5 L1678.1,2923.8 L1681.2,2926.1 L1684.3,2928.4 L1687.3,2930.6 L1690.4,2932.8 L1693.5,2934.9 L1696.5,2937.0 L1699.6,2938.9 L1702.6,2940.8 L1705.7,2942.5 L1708.8,2944.2 L1711.8,2945.7 L1714.9,2947.2 L1717.9,2948.8 L1721.0,2950.4 L1724.1,2952.0 L1727.1,2953.5 L1730.2,2954.9 L1733.3,2956.3 L1736.3,2957.5 L1739.4,2958.6 L1742.4,2959.5 L1745.5,2960.1 L1748.6,2960.6 L1751.6,2960.7 L1754.7,2960.6 L1757.7,2960.4 L1760.8,2960.1 L1763.9,2959.7 L1766.9,2959.2 L1770.0,2958.6 L1773.1,2958.0 L1776.1,2957.3 L1779.2,2956.5 L1782.2,2955.8 L1785.3,2955.0 L1788.4,2954.3 L1791.4,2953.6 L1794.5,2952.9 L1797.5,2952.1 L1800.6,2951.3 L1803.7,2950.5 L1806.7,2949.6 L1809.8,2948.7 L1812.8,2947.8 L1815.9,2946.8 L1819.0,2945.8 L1822.0,2944.8 L1825.1,2943.8 L1828.2,2942.8 L1831.2,2941.9 L1834.3,2940.9 L1837.3,2939.9 L1840.4,2939.0" fill="none" stroke="#000" stroke-width="2.8" stroke-linecap="butt" stroke-linejoin="round" stroke-dasharray="2.6 2.4"/>
<path d="M312.8,2505.1 L315.9,2505.7 L318.9,2506.2 L322.0,2506.7 L325.0,2507.2 L328.1,2507.7 L331.2,2508.2 L334.2,2508.7 L337.3,2509.2 L340.4,2509.7 L343.4,2510.2 L346.5,2510.6 L349.5,2511.1 L352.6,2511.6 L355.7,2512.1 L358.7,2512.6 L361.8,2513.1 L364.8,2513.6 L367.9,2514.0 L371.0,2514.5 L374.0,2515.0 L377.1,2515.5 L380.1,2516.0 L383.2,2516.4 L386.3,2516.9 L389.3,2517.4 L392.4,2517.9 L395.5,2518.4 L398.5,2518.8 L401.6,2519.3 L404.6,2519.8 L407.7,2520.3 L410.8,2520.8 L413.8,2521.3 L416.9,2521.7 L419.9,2522.2 L423.0,2522.7 L426.1,2523.2 L429.1,2523.7 L432.2,2524.2 L435.3,2524.7 L438.3,2525.2 L441.4,2525.7 L444.4,2526.2 L447.5,2526.7 L450.6,2527.2 L453.6,2527.7 L456.7,2528.2 L459.7,2528.8 L462.8,2529.3 L465.9,2529.8 L468.9,2530.3 L472.0,2530.9 L475.1,2531.4 L478.1,2531.9 L481.2,2532.5 L484.2,2533.0 L487.3,2533.6 L490.4,2534.1 L493.4,2534.7 L496.5,2535.3 L499.5,2535.8 L502.6,2536.4 L505.7,2537.0 L508.7,2537.6 L511.8,2538.1 L514.8,2538.7 L517.9,2539.3 L521.0,2539.9 L524.0,2540.6 L527.1,2541.2 L530.2,2541.8 L533.2,2542.4 L536.3,2543.1 L539.3,2543.7 L542.4,2544.3 L545.5,2545.0 L548.5,2545.6 L551.6,2546.3 L554.6,2546.9 L557.7,2547.6 L560.8,2548.3 L563.8,2548.9 L566.9,2549.6 L570.0,2550.3 L573.0,2551.0 L576.1,2551.7 L579.1,2552.4 L582.2,2553.1 L585.3,2553.8 L588.3,2554.5 L591.4,2555.2 L594.4,2555.9 L597.5,2556.7 L600.6,2557.4 L603.6,2558.1 L606.7,2558.8 L609.7,2559.6 L612.8,2560.3 L615.9,2561.1 L618.9,2561.8 L622.0,2562.6 L625.1,2563.3 L628.1,2564.1 L631.2,2564.9 L634.2,2565.6 L637.3,2566.4 L640.4,2567.2 L643.4,2567.9 L646.5,2568.7 L649.5,2569.5 L652.6,2570.3 L655.7,2571.1 L658.7,2571.9 L661.8,2572.7 L664.9,2573.5 L667.9,2574.3 L671.0,2575.1 L674.0,2575.9 L677.1,2576.7 L680.2,2577.5 L683.2,2578.4 L686.3,2579.2 L689.3,2580.0 L692.4,2580.8 L695.5,2581.7 L698.5,2582.5 L701.6,2583.3 L704.6,2584.2 L707.7,2585.0 L710.8,2585.9 L713.8,2586.7 L716.9,2587.6 L720.0,2588.4 L723.0,2589.3 L726.1,2590.1 L729.1,2591.0 L732.2,2591.8 L735.3,2592.7 L738.3,2593.6 L741.4,2594.4 L744.4,2595.3 L747.5,2596.2 L750.6,2597.1 L753.6,2597.9 L756.7,2598.8 L759.8,2599.7 L762.8,2600.6 L765.9,2601.5 L768.9,2602.4 L772.0,2603.4 L775.1,2604.3 L778.1,2605.2 L781.2,2606.1 L784.2,2607.1 L787.3,2608.0 L790.4,2609.0 L793.4,2609.9 L796.5,2610.9 L799.6,2611.8 L802.6,2612.8 L805.7,2613.8 L808.7,2614.7 L811.8,2615.7 L814.9,2616.7 L817.9,2617.7 L821.0,2618.7 L824.0,2619.7 L827.1,2620.7 L830.2,2621.7 L833.2,2622.7 L836.3,2623.7 L839.3,2624.7 L842.4,2625.8 L845.5,2626.8 L848.5,2627.8 L851.6,2628.8 L854.7,2629.9 L857.7,2630.9 L860.8,2632.0 L863.8,2633.0 L866.9,2634.0 L870.0,2635.1 L873.0,2636.1 L876.1,2637.2 L879.1,2638.3 L882.2,2639.3 L885.3,2640.4 L888.3,2641.4 L891.4,2642.5 L894.5,2643.6 L897.5,2644.6 L900.6,2645.7 L903.6,2646.8 L906.7,2647.9 L909.8,2648.9 L912.8,2650.0 L915.9,2651.1 L918.9,2652.2 L922.0,2653.3 L925.1,2654.3 L928.1,2655.4 L931.2,2656.5 L934.2,2657.6 L937.3,2658.7 L940.4,2659.8 L943.4,2660.9 L946.5,2662.0 L949.6,2663.0 L952.6,2664.1 L955.7,2665.2 L958.7,2666.3 L961.8,2667.4 L964.9,2668.5 L967.9,2669.6 L971.0,2670.7 L974.0,2671.8 L977.1,2672.9 L980.2,2674.0 L983.2,2675.1 L986.3,2676.2 L989.4,2677.3 L992.4,2678.4 L995.5,2679.6 L998.5,2680.7 L1001.6,2681.8 L1004.7,2683.0 L1007.7,2684.1 L1010.8,2685.2 L1013.8,2686.4 L1016.9,2687.5 L1020.0,2688.7 L1023.0,2689.8 L1026.1,2691.0 L1029.1,2692.1 L1032.2,2693.3 L1035.3,2694.5 L1038.3,2695.6 L1041.4,2696.8 L1044.5,2698.0 L1047.5,2699.1 L1050.6,2700.3 L1053.6,2701.5 L1056.7,2702.7 L1059.8,2703.9 L1062.8,2705.0 L1065.9,2706.2 L1068.9,2707.4 L1072.0,2708.6 L1075.1,2709.8 L1078.1,2711.0 L1081.2,2712.2 L1084.3,2713.4 L1087.3,2714.6 L1090.4,2715.8 L1093.4,2717.0 L1096.5,2718.2 L1099.6,2719.4 L1102.6,2720.6 L1105.7,2721.8 L1108.7,2723.0 L1111.8,2724.2 L1114.9,2725.4 L1117.9,2726.6 L1121.0,2727.8 L1124.1,2729.0 L1127.1,2730.2 L1130.2,2731.4 L1133.2,2732.6 L1136.3,2733.8 L1139.4,2735.0 L1142.4,2736.2 L1145.5,2737.4 L1148.5,2738.6 L1151.6,2739.8 L1154.7,2741.0 L1157.7,2742.2 L1160.8,2743.4 L1163.8,2744.6 L1166.9,2745.8 L1170.0,2747.0 L1173.0,2748.2 L1176.1,2749.3 L1179.2,2750.5 L1182.2,2751.7 L1185.3,2752.9 L1188.3,2754.1 L1191.4,2755.3 L1194.5,2756.5 L1197.5,2757.6 L1200.6,2758.8 L1203.6,2760.0 L1206.7,2761.1 L1209.8,2762.3 L1212.8,2763.4 L1215.9,2764.6 L1219.0,2765.7 L1222.0,2766.8 L1225.1,2768.0 L1228.1,2769.1 L1231.2,2770.3 L1234.3,2771.4 L1237.3,2772.5 L1240.4,2773.7 L1243.4,2774.8 L1246.5,2776.0 L1249.6,2777.1 L1252.6,2778.3 L1255.7,2779.4 L1258.7,2780.6 L1261.8,2781.8 L1264.9,2783.0 L1267.9,2784.2 L1271.0,2785.4 L1274.1,2786.6 L1277.1,2787.8 L1280.2,2789.0 L1283.2,2790.2 L1286.3,2791.5 L1289.4,2792.7 L1292.4,2794.0 L1295.5,2795.3 L1298.5,2796.6 L1301.6,2797.9 L1304.7,2799.3 L1307.7,2800.6 L1310.8,2802.0 L1313.9,2803.4 L1316.9,2804.8 L1320.0,2806.2 L1323.0,2807.7 L1326.1,2809.1 L1329.2,2810.6 L1332.2,2812.1 L1335.3,2813.6 L1338.3,2815.1 L1341.4,2816.6 L1344.5,2818.1 L1347.5,2819.6 L1350.6,2821.2 L1353.6,2822.7 L1356.7,2824.2 L1359.8,2825.8 L1362.8,2827.4 L1365.9,2828.9 L1369.0,2830.5 L1372.0,2832.0 L1375.1,2833.6 L1378.1,2835.1 L1381.2,2836.7 L1384.3,2838.2 L1387.3,2839.8 L1390.4,2841.3 L1393.4,2842.8 L1396.5,2844.4 L1399.6,2845.9 L1402.6,2847.4 L1405.7,2848.9 L1408.8,2850.3 L1411.8,2851.8 L1414.9,2853.3 L1417.9,2854.7 L1421.0,2856.1 L1424.1,2857.5 L1427.1,2858.9 L1430.2,2860.3 L1433.2,2861.7 L1436.3,2863.0 L1439.4,2864.4 L1442.4,2865.7 L1445.5,2867.0 L1448.6,2868.4 L1451.6,2869.7 L1454.7,2871.0 L1457.7,2872.3 L1460.8,2873.6 L1463.9,2874.9 L1466.9,2876.2 L1470.0,2877.5 L1473.0,2878.8 L1476.1,2880.1 L1479.2,2881.4 L1482.2,2882.7 L1485.3,2884.0 L1488.3,2885.3 L1491.4,2886.6 L1494.5,2887.9 L1497.5,2889.2 L1500.6,2890.6 L1503.7,2891.9 L1506.7,2893.3 L1509.8,2894.6 L1512.8,2896.0 L1515.9,2897.4 L1519.0,2898.8 L1522.0,2900.2 L1525.1,2901.7 L1528.1,2903.1 L1531.2,2904.6 L1534.3,2906.1 L1537.3,2907.6 L1540.4,2909.1 L1543.5,2910.6 L1546.5,2912.1 L1549.6,2913.6 L1552.6,2915.2 L1555.7,2916.7 L1558.8,2918.2 L1561.8,2919.8 L1564.9,2921.3 L1567.9,2922.9 L1571.0,2924.4 L1574.1,2926.0 L1577.1,2927.5 L1580.2,2929.1 L1583.2,2930.6 L1586.3,2932.1 L1589.4,2933.7 L1592.4,2935.2 L1595.5,2936.7 L1598.6,2938.2 L1601.6,2939.6 L1604.7,2941.1 L1607.7,2942.6 L1610.8,2944.0 L1613.9,2945.5 L1616.9,2947.0 L1620.0,2948.5 L1623.0,2950.0 L1626.1,2951.5 L1629.2,2953.0 L1632.2,2954.5 L1635.3,2956.0 L1638.4,2957.6 L1641.4,2959.2 L1644.5,2960.8 L1647.5,2962.5 L1650.6,2964.2 L1653.7,2965.9 L1656.7,2967.7 L1659.8,2969.6 L1662.8,2971.6 L1665.9,2973.8 L1669.0,2975.9 L1672.0,2978.1 L1675.1,2980.4 L1678.1,2982.6 L1681.2,2984.9 L1684.3,2987.1 L1687.3,2989.3 L1690.4,2991.4 L1693.5,2993.4 L1696.5,2995.4 L1699.6,2997.2 L1702.6,2998.9 L1705.7,3000.4 L1708.8,3001.8 L1711.8,3003.0 L1714.9,3004.2 L1717.9,3005.3 L1721.0,3006.5 L1724.1,3007.7 L1727.1,3008.8 L1730.2,3009.8 L1733.3,3010.6 L1736.3,3011.4 L1739.4,3012.0 L1742.4,3012.4 L1745.5,3012.6 L1748.6,3012.6 L1751.6,3012.3 L1754.7,3011.7 L1757.7,3010.9 L1760.8,3009.9 L1763.9,3008.7 L1766.9,3007.3 L1770.0,3005.8 L1773.1,3004.2 L1776.1,3002.5 L1779.2,3000.7 L1782.2,2998.9 L1785.3,2997.1 L1788.4,2995.3 L1791.4,2993.6 L1794.5,2991.8 L1797.5,2989.9 L1800.6,2987.9 L1803.7,2985.7 L1806.7,2983.4 L1809.8,2981.0 L1812.8,2978.5 L1815.9,2975.9 L1819.0,2973.3 L1822.0,2970.7 L1825.1,2968.1 L1828.2,2965.4 L1831.2,2962.8 L1834.3,2960.2 L1837.3,2957.7 L1840.4,2955.2" fill="none" stroke="#000" stroke-width="3.3" stroke-linecap="butt" stroke-linejoin="round" stroke-dasharray="20 8"/>
<path d="M312.8,2593.6 L315.9,2594.3 L318.9,2595.0 L322.0,2595.6 L325.0,2596.3 L328.1,2597.0 L331.2,2597.7 L334.2,2598.3 L337.3,2599.0 L340.4,2599.7 L343.4,2600.4 L346.5,2601.1 L349.5,2601.7 L352.6,2602.4 L355.7,2603.1 L358.7,2603.8 L361.8,2604.5 L364.8,2605.1 L367.9,2605.8 L371.0,2606.5 L374.0,2607.2 L377.1,2607.9 L380.1,2608.5 L383.2,2609.2 L386.3,2609.9 L389.3,2610.6 L392.4,2611.3 L395.5,2611.9 L398.5,2612.6 L401.6,2613.3 L404.6,2614.0 L407.7,2614.7 L410.8,2615.4 L413.8,2616.0 L416.9,2616.7 L419.9,2617.4 L423.0,2618.1 L426.1,2618.8 L429.1,2619.4 L432.2,2620.1 L435.3,2620.8 L438.3,2621.5 L441.4,2622.2 L444.4,2622.8 L447.5,2623.5 L450.6,2624.2 L453.6,2624.9 L456.7,2625.5 L459.7,2626.2 L462.8,2626.9 L465.9,2627.6 L468.9,2628.2 L472.0,2628.9 L475.1,2629.6 L478.1,2630.2 L481.2,2630.9 L484.2,2631.6 L487.3,2632.3 L490.4,2632.9 L493.4,2633.6 L496.5,2634.3 L499.5,2634.9 L502.6,2635.6 L505.7,2636.2 L508.7,2636.9 L511.8,2637.6 L514.8,2638.2 L517.9,2638.9 L521.0,2639.5 L524.0,2640.2 L527.1,2640.9 L530.2,2641.5 L533.2,2642.2 L536.3,2642.8 L539.3,2643.5 L542.4,2644.1 L545.5,2644.8 L548.5,2645.4 L551.6,2646.1 L554.6,2646.7 L557.7,2647.3 L560.8,2648.0 L563.8,2648.6 L566.9,2649.2 L570.0,2649.8 L573.0,2650.4 L576.1,2651.0 L579.1,2651.7 L582.2,2652.3 L585.3,2652.9 L588.3,2653.5 L591.4,2654.0 L594.4,2654.6 L597.5,2655.2 L600.6,2655.8 L603.6,2656.4 L606.7,2657.0 L609.7,2657.5 L612.8,2658.1 L615.9,2658.7 L618.9,2659.3 L622.0,2659.8 L625.1,2660.4 L628.1,2661.0 L631.2,2661.6 L634.2,2662.1 L637.3,2662.7 L640.4,2663.3 L643.4,2663.8 L646.5,2664.4 L649.5,2665.0 L652.6,2665.5 L655.7,2666.1 L658.7,2666.7 L661.8,2667.2 L664.9,2667.8 L667.9,2668.4 L671.0,2668.9 L674.0,2669.5 L677.1,2670.1 L680.2,2670.7 L683.2,2671.2 L686.3,2671.8 L689.3,2672.4 L692.4,2673.0 L695.5,2673.6 L698.5,2674.1 L701.6,2674.7 L704.6,2675.3 L707.7,2675.9 L710.8,2676.5 L713.8,2677.1 L716.9,2677.7 L720.0,2678.4 L723.0,2679.0 L726.1,2679.6 L729.1,2680.2 L732.2,2680.8 L735.3,2681.5 L738.3,2682.1 L741.4,2682.7 L744.4,2683.4 L747.5,2684.0 L750.6,2684.7 L753.6,2685.4 L756.7,2686.0 L759.8,2686.7 L762.8,2687.4 L765.9,2688.1 L768.9,2688.8 L772.0,2689.5 L775.1,2690.2 L778.1,2690.9 L781.2,2691.6 L784.2,2692.3 L787.3,2693.1 L790.4,2693.8 L793.4,2694.5 L796.5,2695.3 L799.6,2696.1 L802.6,2696.8 L805.7,2697.6 L808.7,2698.4 L811.8,2699.2 L814.9,2700.0 L817.9,2700.9 L821.0,2701.7 L824.0,2702.5 L827.1,2703.4 L830.2,2704.3 L833.2,2705.1 L836.3,2706.0 L839.3,2706.9 L842.4,2707.8 L845.5,2708.7 L848.5,2709.6 L851.6,2710.5 L854.7,2711.5 L857.7,2712.4 L860.8,2713.3 L863.8,2714.3 L866.9,2715.3 L870.0,2716.2 L873.0,2717.2 L876.1,2718.2 L879.1,2719.2 L882.2,2720.2 L885.3,2721.2 L888.3,2722.2 L891.4,2723.2 L894.5,2724.2 L897.5,2725.2 L900.6,2726.2 L903.6,2727.3 L906.7,2728.3 L909.8,2729.4 L912.8,2730.4 L915.9,2731.5 L918.9,2732.5 L922.0,2733.6 L925.1,2734.6 L928.1,2735.7 L931.2,2736.8 L934.2,2737.9 L937.3,2738.9 L940.4,2740.0 L943.4,2741.1 L946.5,2742.2 L949.6,2743.3 L952.6,2744.4 L955.7,2745.5 L958.7,2746.6 L961.8,2747.7 L964.9,2748.8 L967.9,2749.9 L971.0,2751.0 L974.0,2752.1 L977.1,2753.2 L980.2,2754.4 L983.2,2755.5 L986.3,2756.6 L989.4,2757.7 L992.4,2758.8 L995.5,2759.9 L998.5,2761.1 L1001.6,2762.2 L1004.7,2763.3 L1007.7,2764.4 L1010.8,2765.5 L1013.8,2766.6 L1016.9,2767.7 L1020.0,2768.9 L1023.0,2770.0 L1026.1,2771.1 L1029.1,2772.2 L1032.2,2773.3 L1035.3,2774.4 L1038.3,2775.5 L1041.4,2776.6 L1044.5,2777.7 L1047.5,2778.8 L1050.6,2779.9 L1053.6,2781.0 L1056.7,2782.1 L1059.8,2783.2 L1062.8,2784.3 L1065.9,2785.3 L1068.9,2786.4 L1072.0,2787.5 L1075.1,2788.6 L1078.1,2789.6 L1081.2,2790.7 L1084.3,2791.8 L1087.3,2792.8 L1090.4,2793.9 L1093.4,2795.0 L1096.5,2796.1 L1099.6,2797.3 L1102.6,2798.4 L1105.7,2799.5 L1108.7,2800.6 L1111.8,2801.7 L1114.9,2802.9 L1117.9,2804.0 L1121.0,2805.1 L1124.1,2806.2 L1127.1,2807.3 L1130.2,2808.4 L1133.2,2809.4 L1136.3,2810.5 L1139.4,2811.5 L1142.4,2812.6 L1145.5,2813.6 L1148.5,2814.6 L1151.6,2815.6 L1154.7,2816.5 L1157.7,2817.5 L1160.8,2818.4 L1163.8,2819.3 L1166.9,2820.2 L1170.0,2821.0 L1173.0,2821.9 L1176.1,2822.8 L1179.2,2823.6 L1182.2,2824.4 L1185.3,2825.3 L1188.3,2826.1 L1191.4,2826.9 L1194.5,2827.7 L1197.5,2828.5 L1200.6,2829.3 L1203.6,2830.2 L1206.7,2831.0 L1209.8,2831.8 L1212.8,2832.6 L1215.9,2833.5 L1219.0,2834.3 L1222.0,2835.2 L1225.1,2836.1 L1228.1,2837.0 L1231.2,2837.9 L1234.3,2838.8 L1237.3,2839.7 L1240.4,2840.7 L1243.4,2841.6 L1246.5,2842.6 L1249.6,2843.7 L1252.6,2844.7 L1255.7,2845.8 L1258.7,2846.9 L1261.8,2848.1 L1264.9,2849.2 L1267.9,2850.4 L1271.0,2851.6 L1274.1,2852.9 L1277.1,2854.1 L1280.2,2855.4 L1283.2,2856.6 L1286.3,2857.9 L1289.4,2859.2 L1292.4,2860.5 L1295.5,2861.8 L1298.5,2863.1 L1301.6,2864.4 L1304.7,2865.7 L1307.7,2867.0 L1310.8,2868.3 L1313.9,2869.7 L1316.9,2871.0 L1320.0,2872.4 L1323.0,2873.7 L1326.1,2875.1 L1329.2,2876.4 L1332.2,2877.8 L1335.3,2879.2 L1338.3,2880.6 L1341.4,2882.0 L1344.5,2883.4 L1347.5,2884.8 L1350.6,2886.2 L1353.6,2887.6 L1356.7,2889.0 L1359.8,2890.4 L1362.8,2891.9 L1365.9,2893.3 L1369.0,2894.7 L1372.0,2896.2 L1375.1,2897.6 L1378.1,2899.1 L1381.2,2900.5 L1384.3,2902.0 L1387.3,2903.4 L1390.4,2904.9 L1393.4,2906.3 L1396.5,2907.8 L1399.6,2909.3 L1402.6,2910.7 L1405.7,2912.2 L1408.8,2913.7 L1411.8,2915.1 L1414.9,2916.6 L1417.9,2918.1 L1421.0,2919.6 L1424.1,2921.0 L1427.1,2922.5 L1430.2,2924.0 L1433.2,2925.5 L1436.3,2926.9 L1439.4,2928.4 L1442.4,2929.9 L1445.5,2931.4 L1448.6,2932.9 L1451.6,2934.4 L1454.7,2935.9 L1457.7,2937.5 L1460.8,2939.0 L1463.9,2940.5 L1466.9,2942.0 L1470.0,2943.5 L1473.0,2945.1 L1476.1,2946.6 L1479.2,2948.1 L1482.2,2949.7 L1485.3,2951.2 L1488.3,2952.7 L1491.4,2954.3 L1494.5,2955.8 L1497.5,2957.4 L1500.6,2958.9 L1503.7,2960.5 L1506.7,2962.0 L1509.8,2963.6 L1512.8,2965.1 L1515.9,2966.7 L1519.0,2968.2 L1522.0,2969.8 L1525.1,2971.3 L1528.1,2972.9 L1531.2,2974.4 L1534.3,2976.0 L1537.3,2977.5 L1540.4,2979.1 L1543.5,2980.7 L1546.5,2982.2 L1549.6,2983.8 L1552.6,2985.3 L1555.7,2986.9 L1558.8,2988.5 L1561.8,2990.1 L1564.9,2991.7 L1567.9,2993.4 L1571.0,2995.0 L1574.1,2996.7 L1577.1,2998.4 L1580.2,3000.1 L1583.2,3001.8 L1586.3,3003.4 L1589.4,3005.1 L1592.4,3006.7 L1595.5,3008.3 L1598.6,3009.9 L1601.6,3011.5 L1604.7,3013.0 L1607.7,3014.5 L1610.8,3015.9 L1613.9,3017.3 L1616.9,3018.6 L1620.0,3019.8 L1623.0,3021.1 L1626.1,3022.3 L1629.2,3023.6 L1632.2,3024.8 L1635.3,3026.1 L1638.4,3027.3 L1641.4,3028.4 L1644.5,3029.5 L1647.5,3030.6 L1650.6,3031.6 L1653.7,3032.4 L1656.7,3033.2 L1659.8,3033.9 L1662.8,3034.5 L1665.9,3034.9 L1669.0,3035.4 L1672.0,3035.8 L1675.1,3036.3 L1678.1,3036.6 L1681.2,3036.9 L1684.3,3037.2 L1687.3,3037.3 L1690.4,3037.4 L1693.5,3037.3 L1696.5,3037.1 L1699.6,3036.8 L1702.6,3036.4 L1705.7,3036.0 L1708.8,3035.5 L1711.8,3034.9 L1714.9,3034.3 L1717.9,3033.7 L1721.0,3032.9 L1724.1,3032.0 L1727.1,3030.8 L1730.2,3029.6 L1733.3,3028.2 L1736.3,3026.7 L1739.4,3025.2 L1742.4,3023.7 L1745.5,3022.1 L1748.6,3020.5 L1751.6,3019.0 L1754.7,3017.4 L1757.7,3015.7 L1760.8,3014.0 L1763.9,3012.2 L1766.9,3010.3 L1770.0,3008.4 L1773.1,3006.4 L1776.1,3004.5 L1779.2,3002.5 L1782.2,3000.6 L1785.3,2998.7 L1788.4,2996.8 L1791.4,2995.0 L1794.5,2993.2 L1797.5,2991.4 L1800.6,2989.7 L1803.7,2988.0 L1806.7,2986.2 L1809.8,2984.5 L1812.8,2982.8 L1815.9,2981.1 L1819.0,2979.4 L1822.0,2977.7 L1825.1,2976.1 L1828.2,2974.4 L1831.2,2972.7 L1834.3,2971.0 L1837.3,2969.3 L1840.4,2967.6" fill="none" stroke="#000" stroke-width="15.5" stroke-linecap="butt" stroke-linejoin="round"/>
<path d="M312.8,2620.8 L315.9,2621.3 L318.9,2621.8 L322.0,2622.3 L325.0,2622.8 L328.1,2623.3 L331.2,2623.7 L334.2,2624.2 L337.3,2624.7 L340.4,2625.2 L343.4,2625.7 L346.5,2626.2 L349.5,2626.6 L352.6,2627.1 L355.7,2627.6 L358.7,2628.1 L361.8,2628.6 L364.8,2629.0 L367.9,2629.5 L371.0,2630.0 L374.0,2630.5 L377.1,2631.0 L380.1,2631.4 L383.2,2631.9 L386.3,2632.4 L389.3,2632.9 L392.4,2633.4 L395.5,2633.8 L398.5,2634.3 L401.6,2634.8 L404.6,2635.3 L407.7,2635.7 L410.8,2636.2 L413.8,2636.7 L416.9,2637.2 L419.9,2637.7 L423.0,2638.1 L426.1,2638.6 L429.1,2639.1 L432.2,2639.6 L435.3,2640.1 L438.3,2640.6 L441.4,2641.0 L444.4,2641.5 L447.5,2642.0 L450.6,2642.5 L453.6,2643.0 L456.7,2643.5 L459.7,2643.9 L462.8,2644.4 L465.9,2644.9 L468.9,2645.4 L472.0,2645.9 L475.1,2646.4 L478.1,2646.9 L481.2,2647.4 L484.2,2647.8 L487.3,2648.3 L490.4,2648.8 L493.4,2649.3 L496.5,2649.8 L499.5,2650.3 L502.6,2650.8 L505.7,2651.3 L508.7,2651.8 L511.8,2652.3 L514.8,2652.8 L517.9,2653.3 L521.0,2653.8 L524.0,2654.3 L527.1,2654.8 L530.2,2655.3 L533.2,2655.8 L536.3,2656.4 L539.3,2656.9 L542.4,2657.4 L545.5,2657.9 L548.5,2658.4 L551.6,2658.9 L554.6,2659.4 L557.7,2660.0 L560.8,2660.5 L563.8,2661.0 L566.9,2661.5 L570.0,2662.0 L573.0,2662.5 L576.1,2663.0 L579.1,2663.5 L582.2,2664.0 L585.3,2664.5 L588.3,2665.0 L591.4,2665.5 L594.4,2666.0 L597.5,2666.5 L600.6,2667.0 L603.6,2667.5 L606.7,2668.0 L609.7,2668.5 L612.8,2669.0 L615.9,2669.5 L618.9,2670.0 L622.0,2670.5 L625.1,2671.0 L628.1,2671.5 L631.2,2672.0 L634.2,2672.5 L637.3,2673.0 L640.4,2673.5 L643.4,2674.0 L646.5,2674.5 L649.5,2675.0 L652.6,2675.5 L655.7,2676.0 L658.7,2676.6 L661.8,2677.1 L664.9,2677.6 L667.9,2678.1 L671.0,2678.6 L674.0,2679.1 L677.1,2679.7 L680.2,2680.2 L683.2,2680.7 L686.3,2681.2 L689.3,2681.8 L692.4,2682.3 L695.5,2682.9 L698.5,2683.4 L701.6,2683.9 L704.6,2684.5 L707.7,2685.0 L710.8,2685.6 L713.8,2686.1 L716.9,2686.7 L720.0,2687.3 L723.0,2687.8 L726.1,2688.4 L729.1,2689.0 L732.2,2689.6 L735.3,2690.1 L738.3,2690.7 L741.4,2691.3 L744.4,2691.9 L747.5,2692.5 L750.6,2693.1 L753.6,2693.7 L756.7,2694.3 L759.8,2695.0 L762.8,2695.6 L765.9,2696.2 L768.9,2696.8 L772.0,2697.5 L775.1,2698.1 L778.1,2698.8 L781.2,2699.4 L784.2,2700.1 L787.3,2700.8 L790.4,2701.4 L793.4,2702.1 L796.5,2702.8 L799.6,2703.5 L802.6,2704.2 L805.7,2704.9 L808.7,2705.6 L811.8,2706.3 L814.9,2707.1 L817.9,2707.8 L821.0,2708.6 L824.0,2709.4 L827.1,2710.1 L830.2,2710.9 L833.2,2711.7 L836.3,2712.5 L839.3,2713.3 L842.4,2714.1 L845.5,2715.0 L848.5,2715.8 L851.6,2716.6 L854.7,2717.5 L857.7,2718.4 L860.8,2719.2 L863.8,2720.1 L866.9,2721.0 L870.0,2721.9 L873.0,2722.8 L876.1,2723.7 L879.1,2724.6 L882.2,2725.5 L885.3,2726.4 L888.3,2727.3 L891.4,2728.2 L894.5,2729.2 L897.5,2730.1 L900.6,2731.1 L903.6,2732.0 L906.7,2733.0 L909.8,2733.9 L912.8,2734.9 L915.9,2735.9 L918.9,2736.9 L922.0,2737.8 L925.1,2738.8 L928.1,2739.8 L931.2,2740.8 L934.2,2741.8 L937.3,2742.8 L940.4,2743.8 L943.4,2744.8 L946.5,2745.9 L949.6,2746.9 L952.6,2747.9 L955.7,2748.9 L958.7,2749.9 L961.8,2751.0 L964.9,2752.0 L967.9,2753.0 L971.0,2754.1 L974.0,2755.1 L977.1,2756.1 L980.2,2757.2 L983.2,2758.2 L986.3,2759.3 L989.4,2760.3 L992.4,2761.3 L995.5,2762.4 L998.5,2763.4 L1001.6,2764.5 L1004.7,2765.5 L1007.7,2766.6 L1010.8,2767.6 L1013.8,2768.7 L1016.9,2769.7 L1020.0,2770.8 L1023.0,2771.8 L1026.1,2772.9 L1029.1,2773.9 L1032.2,2775.0 L1035.3,2776.0 L1038.3,2777.1 L1041.4,2778.1 L1044.5,2779.1 L1047.5,2780.2 L1050.6,2781.2 L1053.6,2782.3 L1056.7,2783.3 L1059.8,2784.3 L1062.8,2785.4 L1065.9,2786.4 L1068.9,2787.4 L1072.0,2788.4 L1075.1,2789.4 L1078.1,2790.5 L1081.2,2791.5 L1084.3,2792.5 L1087.3,2793.6 L1090.4,2794.6 L1093.4,2795.7 L1096.5,2796.7 L1099.6,2797.8 L1102.6,2798.9 L1105.7,2800.0 L1108.7,2801.0 L1111.8,2802.1 L1114.9,2803.2 L1117.9,2804.2 L1121.0,2805.3 L1124.1,2806.4 L1127.1,2807.4 L1130.2,2808.4 L1133.2,2809.4 L1136.3,2810.4 L1139.4,2811.4 L1142.4,2812.4 L1145.5,2813.4 L1148.5,2814.4 L1151.6,2815.4 L1154.7,2816.4 L1157.7,2817.3 L1160.8,2818.3 L1163.8,2819.2 L1166.9,2820.1 L1170.0,2821.0 L1173.0,2821.9 L1176.1,2822.8 L1179.2,2823.6 L1182.2,2824.5 L1185.3,2825.3 L1188.3,2826.1 L1191.4,2826.9 L1194.5,2827.7 L1197.5,2828.5 L1200.6,2829.3 L1203.6,2830.1 L1206.7,2830.9 L1209.8,2831.8 L1212.8,2832.7 L1215.9,2833.5 L1219.0,2834.4 L1222.0,2835.3 L1225.1,2836.1 L1228.1,2837.0 L1231.2,2837.9 L1234.3,2838.8 L1237.3,2839.7 L1240.4,2840.7 L1243.4,2841.6 L1246.5,2842.6 L1249.6,2843.7 L1252.6,2844.7 L1255.7,2845.8 L1258.7,2847.0 L1261.8,2848.1 L1264.9,2849.3 L1267.9,2850.5 L1271.0,2851.7 L1274.1,2852.9 L1277.1,2854.2 L1280.2,2855.4 L1283.2,2856.7 L1286.3,2857.9 L1289.4,2859.2 L1292.4,2860.4 L1295.5,2861.7 L1298.5,2863.0 L1301.6,2864.3 L1304.7,2865.6 L1307.7,2867.0 L1310.8,2868.3 L1313.9,2869.7 L1316.9,2871.0 L1320.0,2872.4 L1323.0,2873.7 L1326.1,2875.1 L1329.2,2876.4 L1332.2,2877.8 L1335.3,2879.2 L1338.3,2880.6 L1341.4,2882.0 L1344.5,2883.4 L1347.5,2884.8 L1350.6,2886.2 L1353.6,2887.6 L1356.7,2889.0 L1359.8,2890.4 L1362.8,2891.9 L1365.9,2893.3 L1369.0,2894.7 L1372.0,2896.2 L1375.1,2897.6 L1378.1,2899.1 L1381.2,2900.5 L1384.3,2902.0 L1387.3,2903.4 L1390.4,2904.9 L1393.4,2906.4 L1396.5,2907.8 L1399.6,2909.3 L1402.6,2910.7 L1405.7,2912.2 L1408.8,2913.7 L1411.8,2915.1 L1414.9,2916.6 L1417.9,2918.1 L1421.0,2919.5 L1424.1,2921.0 L1427.1,2922.5 L1430.2,2924.0 L1433.2,2925.5 L1436.3,2926.9 L1439.4,2928.4 L1442.4,2929.9 L1445.5,2931.4 L1448.6,2932.9 L1451.6,2934.4 L1454.7,2935.9 L1457.7,2937.5 L1460.8,2939.0 L1463.9,2940.5 L1466.9,2942.0 L1470.0,2943.5 L1473.0,2945.1 L1476.1,2946.6 L1479.2,2948.1 L1482.2,2949.7 L1485.3,2951.2 L1488.3,2952.7 L1491.4,2954.3 L1494.5,2955.8 L1497.5,2957.4 L1500.6,2958.9 L1503.7,2960.5 L1506.7,2962.0 L1509.8,2963.6 L1512.8,2965.1 L1515.9,2966.7 L1519.0,2968.2 L1522.0,2969.7 L1525.1,2971.3 L1528.1,2972.8 L1531.2,2974.4 L1534.3,2975.9 L1537.3,2977.5 L1540.4,2979.0 L1543.5,2980.6 L1546.5,2982.1 L1549.6,2983.7 L1552.6,2985.3 L1555.7,2986.9 L1558.8,2988.5 L1561.8,2990.2 L1564.9,2991.9 L1567.9,2993.6 L1571.0,2995.3 L1574.1,2997.0 L1577.1,2998.7 L1580.2,3000.3 L1583.2,3002.0 L1586.3,3003.6 L1589.4,3005.2 L1592.4,3006.7 L1595.5,3008.3 L1598.6,3010.0 L1601.6,3011.8 L1604.7,3013.6 L1607.7,3015.4 L1610.8,3017.1 L1613.9,3018.7 L1616.9,3020.2 L1620.0,3021.5 L1623.0,3022.6 L1626.1,3023.4 L1629.2,3024.0 L1632.2,3024.2 L1635.3,3024.4 L1638.4,3024.6 L1641.4,3024.8 L1644.5,3025.0 L1647.5,3025.1 L1650.6,3025.2 L1653.7,3025.4 L1656.7,3025.5 L1659.8,3025.6 L1662.8,3025.7 L1665.9,3025.7 L1669.0,3025.8 L1672.0,3025.8 L1675.1,3025.8 L1678.1,3025.8 L1681.2,3025.5 L1684.3,3025.0 L1687.3,3024.1 L1690.4,3023.0 L1693.5,3021.6 L1696.5,3020.0 L1699.6,3018.2 L1702.6,3016.3 L1705.7,3014.2 L1708.8,3012.0 L1711.8,3009.7 L1714.9,3007.3 L1717.9,3004.8 L1721.0,3002.4 L1724.1,2999.9 L1727.1,2997.4 L1730.2,2995.0 L1733.3,2992.6 L1736.3,2990.4 L1739.4,2988.2 L1742.4,2986.2 L1745.5,2984.3 L1748.6,2982.5 L1751.6,2980.6 L1754.7,2978.8 L1757.7,2977.0 L1760.8,2975.2 L1763.9,2973.4 L1766.9,2971.6 L1770.0,2969.8 L1773.1,2968.0 L1776.1,2966.2 L1779.2,2964.4 L1782.2,2962.7 L1785.3,2960.9 L1788.4,2959.1 L1791.4,2957.3 L1794.5,2955.5 L1797.5,2953.7 L1800.6,2952.0 L1803.7,2950.2 L1806.7,2948.4 L1809.8,2946.6 L1812.8,2944.9 L1815.9,2943.1 L1819.0,2941.3 L1822.0,2939.5 L1825.1,2937.8 L1828.2,2936.0 L1831.2,2934.2 L1834.3,2932.4 L1837.3,2930.6 L1840.4,2928.8" fill="none" stroke="#000" stroke-width="3.3" stroke-linecap="butt" stroke-linejoin="round" stroke-dasharray="19 8 3 8"/>
<path d="M312.8,2633.5 L315.9,2634.0 L318.9,2634.4 L322.0,2634.9 L325.0,2635.4 L328.1,2635.9 L331.2,2636.4 L334.2,2636.9 L337.3,2637.4 L340.4,2637.9 L343.4,2638.3 L346.5,2638.8 L349.5,2639.3 L352.6,2639.8 L355.7,2640.3 L358.7,2640.8 L361.8,2641.3 L364.8,2641.7 L367.9,2642.2 L371.0,2642.7 L374.0,2643.2 L377.1,2643.7 L380.1,2644.2 L383.2,2644.7 L386.3,2645.1 L389.3,2645.6 L392.4,2646.1 L395.5,2646.6 L398.5,2647.1 L401.6,2647.6 L404.6,2648.1 L407.7,2648.5 L410.8,2649.0 L413.8,2649.5 L416.9,2650.0 L419.9,2650.5 L423.0,2651.0 L426.1,2651.5 L429.1,2651.9 L432.2,2652.4 L435.3,2652.9 L438.3,2653.4 L441.4,2653.9 L444.4,2654.4 L447.5,2654.9 L450.6,2655.3 L453.6,2655.8 L456.7,2656.3 L459.7,2656.8 L462.8,2657.3 L465.9,2657.8 L468.9,2658.3 L472.0,2658.8 L475.1,2659.2 L478.1,2659.7 L481.2,2660.2 L484.2,2660.7 L487.3,2661.2 L490.4,2661.7 L493.4,2662.2 L496.5,2662.7 L499.5,2663.2 L502.6,2663.7 L505.7,2664.1 L508.7,2664.6 L511.8,2665.1 L514.8,2665.6 L517.9,2666.1 L521.0,2666.6 L524.0,2667.1 L527.1,2667.6 L530.2,2668.1 L533.2,2668.6 L536.3,2669.1 L539.3,2669.6 L542.4,2670.1 L545.5,2670.6 L548.5,2671.1 L551.6,2671.6 L554.6,2672.0 L557.7,2672.5 L560.8,2673.0 L563.8,2673.5 L566.9,2674.0 L570.0,2674.5 L573.0,2675.0 L576.1,2675.4 L579.1,2675.9 L582.2,2676.4 L585.3,2676.9 L588.3,2677.3 L591.4,2677.8 L594.4,2678.3 L597.5,2678.7 L600.6,2679.2 L603.6,2679.7 L606.7,2680.1 L609.7,2680.6 L612.8,2681.1 L615.9,2681.5 L618.9,2682.0 L622.0,2682.4 L625.1,2682.9 L628.1,2683.4 L631.2,2683.8 L634.2,2684.3 L637.3,2684.8 L640.4,2685.2 L643.4,2685.7 L646.5,2686.1 L649.5,2686.6 L652.6,2687.1 L655.7,2687.5 L658.7,2688.0 L661.8,2688.5 L664.9,2688.9 L667.9,2689.4 L671.0,2689.9 L674.0,2690.4 L677.1,2690.8 L680.2,2691.3 L683.2,2691.8 L686.3,2692.3 L689.3,2692.7 L692.4,2693.2 L695.5,2693.7 L698.5,2694.2 L701.6,2694.7 L704.6,2695.2 L707.7,2695.7 L710.8,2696.2 L713.8,2696.7 L716.9,2697.2 L720.0,2697.7 L723.0,2698.2 L726.1,2698.8 L729.1,2699.3 L732.2,2699.8 L735.3,2700.3 L738.3,2700.9 L741.4,2701.4 L744.4,2702.0 L747.5,2702.5 L750.6,2703.0 L753.6,2703.6 L756.7,2704.2 L759.8,2704.7 L762.8,2705.3 L765.9,2705.9 L768.9,2706.5 L772.0,2707.0 L775.1,2707.6 L778.1,2708.2 L781.2,2708.8 L784.2,2709.4 L787.3,2710.0 L790.4,2710.7 L793.4,2711.3 L796.5,2711.9 L799.6,2712.6 L802.6,2713.2 L805.7,2713.9 L808.7,2714.5 L811.8,2715.2 L814.9,2715.9 L817.9,2716.6 L821.0,2717.3 L824.0,2718.0 L827.1,2718.7 L830.2,2719.5 L833.2,2720.2 L836.3,2721.0 L839.3,2721.7 L842.4,2722.5 L845.5,2723.3 L848.5,2724.1 L851.6,2724.8 L854.7,2725.6 L857.7,2726.5 L860.8,2727.3 L863.8,2728.1 L866.9,2728.9 L870.0,2729.8 L873.0,2730.6 L876.1,2731.4 L879.1,2732.3 L882.2,2733.2 L885.3,2734.0 L888.3,2734.9 L891.4,2735.8 L894.5,2736.7 L897.5,2737.6 L900.6,2738.5 L903.6,2739.3 L906.7,2740.3 L909.8,2741.2 L912.8,2742.1 L915.9,2743.0 L918.9,2743.9 L922.0,2744.8 L925.1,2745.8 L928.1,2746.7 L931.2,2747.6 L934.2,2748.6 L937.3,2749.5 L940.4,2750.5 L943.4,2751.4 L946.5,2752.4 L949.6,2753.3 L952.6,2754.3 L955.7,2755.2 L958.7,2756.2 L961.8,2757.2 L964.9,2758.1 L967.9,2759.1 L971.0,2760.1 L974.0,2761.0 L977.1,2762.0 L980.2,2763.0 L983.2,2763.9 L986.3,2764.9 L989.4,2765.9 L992.4,2766.8 L995.5,2767.8 L998.5,2768.8 L1001.6,2769.7 L1004.7,2770.7 L1007.7,2771.7 L1010.8,2772.6 L1013.8,2773.6 L1016.9,2774.6 L1020.0,2775.5 L1023.0,2776.5 L1026.1,2777.4 L1029.1,2778.4 L1032.2,2779.3 L1035.3,2780.3 L1038.3,2781.2 L1041.4,2782.2 L1044.5,2783.1 L1047.5,2784.1 L1050.6,2785.0 L1053.6,2785.9 L1056.7,2786.9 L1059.8,2787.8 L1062.8,2788.7 L1065.9,2789.6 L1068.9,2790.6 L1072.0,2791.5 L1075.1,2792.4 L1078.1,2793.3 L1081.2,2794.2 L1084.3,2795.1 L1087.3,2795.9 L1090.4,2796.8 L1093.4,2797.7 L1096.5,2798.6 L1099.6,2799.5 L1102.6,2800.4 L1105.7,2801.3 L1108.7,2802.2 L1111.8,2803.1 L1114.9,2804.0 L1117.9,2804.9 L1121.0,2805.8 L1124.1,2806.7 L1127.1,2807.6 L1130.2,2808.5 L1133.2,2809.5 L1136.3,2810.4 L1139.4,2811.3 L1142.4,2812.3 L1145.5,2813.3 L1148.5,2814.3 L1151.6,2815.3 L1154.7,2816.3 L1157.7,2817.2 L1160.8,2818.2 L1163.8,2819.2 L1166.9,2820.1 L1170.0,2821.0 L1173.0,2821.9 L1176.1,2822.8 L1179.2,2823.6 L1182.2,2824.5 L1185.3,2825.3 L1188.3,2826.1 L1191.4,2826.9 L1194.5,2827.7 L1197.5,2828.5 L1200.6,2829.3 L1203.6,2830.1 L1206.7,2830.9 L1209.8,2831.8 L1212.8,2832.7 L1215.9,2833.5 L1219.0,2834.4 L1222.0,2835.3 L1225.1,2836.1 L1228.1,2837.0 L1231.2,2837.9 L1234.3,2838.8 L1237.3,2839.7 L1240.4,2840.7 L1243.4,2841.6 L1246.5,2842.6 L1249.6,2843.7 L1252.6,2844.7 L1255.7,2845.8 L1258.7,2847.0 L1261.8,2848.1 L1264.9,2849.3 L1267.9,2850.5 L1271.0,2851.7 L1274.1,2852.9 L1277.1,2854.2 L1280.2,2855.4 L1283.2,2856.7 L1286.3,2857.9 L1289.4,2859.2 L1292.4,2860.4 L1295.5,2861.7 L1298.5,2863.0 L1301.6,2864.3 L1304.7,2865.6 L1307.7,2867.0 L1310.8,2868.3 L1313.9,2869.7 L1316.9,2871.0 L1320.0,2872.4 L1323.0,2873.7 L1326.1,2875.1 L1329.2,2876.4 L1332.2,2877.8 L1335.3,2879.2 L1338.3,2880.6 L1341.4,2882.0 L1344.5,2883.4 L1347.5,2884.8 L1350.6,2886.2 L1353.6,2887.6 L1356.7,2889.0 L1359.8,2890.4 L1362.8,2891.9 L1365.9,2893.3 L1369.0,2894.7 L1372.0,2896.2 L1375.1,2897.6 L1378.1,2899.1 L1381.2,2900.5 L1384.3,2902.0 L1387.3,2903.4 L1390.4,2904.9 L1393.4,2906.4 L1396.5,2907.8 L1399.6,2909.3 L1402.6,2910.7 L1405.7,2912.2 L1408.8,2913.7 L1411.8,2915.1 L1414.9,2916.6 L1417.9,2918.1 L1421.0,2919.5 L1424.1,2921.0 L1427.1,2922.5 L1430.2,2924.0 L1433.2,2925.5 L1436.3,2926.9 L1439.4,2928.4 L1442.4,2929.9 L1445.5,2931.4 L1448.6,2932.9 L1451.6,2934.4 L1454.7,2935.9 L1457.7,2937.5 L1460.8,2939.0 L1463.9,2940.5 L1466.9,2942.0 L1470.0,2943.5 L1473.0,2945.1 L1476.1,2946.6 L1479.2,2948.1 L1482.2,2949.7 L1485.3,2951.3 L1488.3,2953.0 L1491.4,2954.6 L1494.5,2956.3 L1497.5,2957.9 L1500.6,2959.5 L1503.7,2961.1 L1506.7,2962.6 L1509.8,2964.0 L1512.8,2965.4 L1515.9,2966.6 L1519.0,2967.9 L1522.0,2969.2 L1525.1,2970.5 L1528.1,2971.8 L1531.2,2973.1 L1534.3,2974.4 L1537.3,2975.7 L1540.4,2976.9 L1543.5,2978.0 L1546.5,2979.1 L1549.6,2980.0 L1552.6,2980.8 L1555.7,2981.5 L1558.8,2982.1 L1561.8,2982.5 L1564.9,2982.7 L1567.9,2982.7 L1571.0,2982.6 L1574.1,2982.4 L1577.1,2982.1 L1580.2,2981.8 L1583.2,2981.4 L1586.3,2980.9 L1589.4,2980.4 L1592.4,2979.9 L1595.5,2979.3 L1598.6,2978.8 L1601.6,2978.2 L1604.7,2977.6 L1607.7,2977.0 L1610.8,2976.5 L1613.9,2975.9 L1616.9,2975.3 L1620.0,2974.8 L1623.0,2974.1 L1626.1,2973.5 L1629.2,2972.8 L1632.2,2972.2 L1635.3,2971.5 L1638.4,2970.7 L1641.4,2970.0 L1644.5,2969.2 L1647.5,2968.4 L1650.6,2967.5 L1653.7,2966.7 L1656.7,2965.8 L1659.8,2964.8 L1662.8,2963.8 L1665.9,2962.8 L1669.0,2961.6 L1672.0,2960.4 L1675.1,2959.2 L1678.1,2957.9 L1681.2,2956.6 L1684.3,2955.3 L1687.3,2953.9 L1690.4,2952.5 L1693.5,2951.1 L1696.5,2949.7 L1699.6,2948.3 L1702.6,2946.8 L1705.7,2945.4 L1708.8,2944.0 L1711.8,2942.5 L1714.9,2941.1 L1717.9,2939.6 L1721.0,2938.1 L1724.1,2936.6 L1727.1,2935.1 L1730.2,2933.6 L1733.3,2932.0 L1736.3,2930.4 L1739.4,2928.9 L1742.4,2927.3 L1745.5,2925.6 L1748.6,2924.0 L1751.6,2922.4 L1754.7,2920.7 L1757.7,2919.1 L1760.8,2917.4 L1763.9,2915.7 L1766.9,2914.1 L1770.0,2912.4 L1773.1,2910.7 L1776.1,2909.0 L1779.2,2907.3 L1782.2,2905.6 L1785.3,2903.9 L1788.4,2902.1 L1791.4,2900.3 L1794.5,2898.6 L1797.5,2896.8 L1800.6,2895.0 L1803.7,2893.2 L1806.7,2891.4 L1809.8,2889.5 L1812.8,2887.7 L1815.9,2885.9 L1819.0,2884.1 L1822.0,2882.3 L1825.1,2880.4 L1828.2,2878.6 L1831.2,2876.8 L1834.3,2875.0 L1837.3,2873.2 L1840.4,2871.4" fill="none" stroke="#000" stroke-width="3.3" stroke-linecap="butt" stroke-linejoin="round" stroke-dasharray="20 7 3 7 3 8"/>
<path d="M312.8,2646.9 L315.9,2647.4 L318.9,2647.8 L322.0,2648.2 L325.0,2648.7 L328.1,2649.1 L331.2,2649.5 L334.2,2650.0 L337.3,2650.4 L340.4,2650.9 L343.4,2651.3 L346.5,2651.7 L349.5,2652.1 L352.6,2652.6 L355.7,2653.0 L358.7,2653.4 L361.8,2653.9 L364.8,2654.3 L367.9,2654.7 L371.0,2655.2 L374.0,2655.6 L377.1,2656.0 L380.1,2656.4 L383.2,2656.9 L386.3,2657.3 L389.3,2657.7 L392.4,2658.2 L395.5,2658.6 L398.5,2659.0 L401.6,2659.5 L404.6,2659.9 L407.7,2660.3 L410.8,2660.7 L413.8,2661.2 L416.9,2661.6 L419.9,2662.0 L423.0,2662.5 L426.1,2662.9 L429.1,2663.3 L432.2,2663.8 L435.3,2664.2 L438.3,2664.6 L441.4,2665.0 L444.4,2665.5 L447.5,2665.9 L450.6,2666.3 L453.6,2666.8 L456.7,2667.2 L459.7,2667.7 L462.8,2668.1 L465.9,2668.5 L468.9,2669.0 L472.0,2669.4 L475.1,2669.8 L478.1,2670.3 L481.2,2670.7 L484.2,2671.2 L487.3,2671.6 L490.4,2672.1 L493.4,2672.5 L496.5,2672.9 L499.5,2673.4 L502.6,2673.8 L505.7,2674.3 L508.7,2674.7 L511.8,2675.2 L514.8,2675.6 L517.9,2676.1 L521.0,2676.5 L524.0,2677.0 L527.1,2677.5 L530.2,2677.9 L533.2,2678.4 L536.3,2678.8 L539.3,2679.3 L542.4,2679.8 L545.5,2680.2 L548.5,2680.7 L551.6,2681.2 L554.6,2681.6 L557.7,2682.1 L560.8,2682.6 L563.8,2683.0 L566.9,2683.5 L570.0,2683.9 L573.0,2684.4 L576.1,2684.9 L579.1,2685.3 L582.2,2685.8 L585.3,2686.3 L588.3,2686.7 L591.4,2687.2 L594.4,2687.6 L597.5,2688.1 L600.6,2688.5 L603.6,2689.0 L606.7,2689.5 L609.7,2689.9 L612.8,2690.4 L615.9,2690.8 L618.9,2691.3 L622.0,2691.8 L625.1,2692.2 L628.1,2692.7 L631.2,2693.1 L634.2,2693.6 L637.3,2694.1 L640.4,2694.5 L643.4,2695.0 L646.5,2695.5 L649.5,2695.9 L652.6,2696.4 L655.7,2696.9 L658.7,2697.3 L661.8,2697.8 L664.9,2698.3 L667.9,2698.8 L671.0,2699.2 L674.0,2699.7 L677.1,2700.2 L680.2,2700.7 L683.2,2701.2 L686.3,2701.7 L689.3,2702.2 L692.4,2702.6 L695.5,2703.1 L698.5,2703.6 L701.6,2704.1 L704.6,2704.6 L707.7,2705.1 L710.8,2705.6 L713.8,2706.2 L716.9,2706.7 L720.0,2707.2 L723.0,2707.7 L726.1,2708.2 L729.1,2708.8 L732.2,2709.3 L735.3,2709.8 L738.3,2710.4 L741.4,2710.9 L744.4,2711.4 L747.5,2712.0 L750.6,2712.5 L753.6,2713.1 L756.7,2713.6 L759.8,2714.2 L762.8,2714.8 L765.9,2715.3 L768.9,2715.9 L772.0,2716.5 L775.1,2717.1 L778.1,2717.7 L781.2,2718.3 L784.2,2718.9 L787.3,2719.5 L790.4,2720.1 L793.4,2720.7 L796.5,2721.3 L799.6,2721.9 L802.6,2722.5 L805.7,2723.2 L808.7,2723.8 L811.8,2724.5 L814.9,2725.2 L817.9,2725.8 L821.0,2726.5 L824.0,2727.2 L827.1,2727.9 L830.2,2728.7 L833.2,2729.4 L836.3,2730.1 L839.3,2730.9 L842.4,2731.6 L845.5,2732.4 L848.5,2733.2 L851.6,2734.0 L854.7,2734.7 L857.7,2735.5 L860.8,2736.3 L863.8,2737.1 L866.9,2738.0 L870.0,2738.8 L873.0,2739.6 L876.1,2740.4 L879.1,2741.3 L882.2,2742.1 L885.3,2743.0 L888.3,2743.8 L891.4,2744.7 L894.5,2745.6 L897.5,2746.4 L900.6,2747.3 L903.6,2748.2 L906.7,2749.1 L909.8,2750.0 L912.8,2750.8 L915.9,2751.7 L918.9,2752.6 L922.0,2753.5 L925.1,2754.4 L928.1,2755.3 L931.2,2756.2 L934.2,2757.1 L937.3,2758.0 L940.4,2759.0 L943.4,2759.9 L946.5,2760.8 L949.6,2761.7 L952.6,2762.6 L955.7,2763.5 L958.7,2764.4 L961.8,2765.3 L964.9,2766.2 L967.9,2767.1 L971.0,2768.1 L974.0,2769.0 L977.1,2769.9 L980.2,2770.8 L983.2,2771.7 L986.3,2772.6 L989.4,2773.5 L992.4,2774.4 L995.5,2775.3 L998.5,2776.1 L1001.6,2777.0 L1004.7,2777.9 L1007.7,2778.8 L1010.8,2779.7 L1013.8,2780.5 L1016.9,2781.4 L1020.0,2782.3 L1023.0,2783.1 L1026.1,2784.0 L1029.1,2784.8 L1032.2,2785.7 L1035.3,2786.5 L1038.3,2787.3 L1041.4,2788.1 L1044.5,2789.0 L1047.5,2789.8 L1050.6,2790.6 L1053.6,2791.4 L1056.7,2792.2 L1059.8,2792.9 L1062.8,2793.7 L1065.9,2794.5 L1068.9,2795.2 L1072.0,2796.0 L1075.1,2796.7 L1078.1,2797.5 L1081.2,2798.2 L1084.3,2798.9 L1087.3,2799.6 L1090.4,2800.2 L1093.4,2800.9 L1096.5,2801.5 L1099.6,2802.1 L1102.6,2802.7 L1105.7,2803.4 L1108.7,2804.0 L1111.8,2804.6 L1114.9,2805.2 L1117.9,2805.9 L1121.0,2806.6 L1124.1,2807.3 L1127.1,2808.0 L1130.2,2808.7 L1133.2,2809.5 L1136.3,2810.3 L1139.4,2811.2 L1142.4,2812.1 L1145.5,2813.0 L1148.5,2814.0 L1151.6,2815.0 L1154.7,2816.1 L1157.7,2817.1 L1160.8,2818.1 L1163.8,2819.1 L1166.9,2820.1 L1170.0,2821.0 L1173.0,2821.9 L1176.1,2822.8 L1179.2,2823.6 L1182.2,2824.5 L1185.3,2825.3 L1188.3,2826.1 L1191.4,2826.9 L1194.5,2827.7 L1197.5,2828.5 L1200.6,2829.3 L1203.6,2830.1 L1206.7,2830.9 L1209.8,2831.8 L1212.8,2832.7 L1215.9,2833.5 L1219.0,2834.4 L1222.0,2835.3 L1225.1,2836.1 L1228.1,2837.0 L1231.2,2837.9 L1234.3,2838.8 L1237.3,2839.7 L1240.4,2840.7 L1243.4,2841.6 L1246.5,2842.6 L1249.6,2843.7 L1252.6,2844.7 L1255.7,2845.8 L1258.7,2847.0 L1261.8,2848.1 L1264.9,2849.3 L1267.9,2850.5 L1271.0,2851.7 L1274.1,2852.9 L1277.1,2854.2 L1280.2,2855.4 L1283.2,2856.7 L1286.3,2857.9 L1289.4,2859.2 L1292.4,2860.4 L1295.5,2861.7 L1298.5,2863.0 L1301.6,2864.3 L1304.7,2865.6 L1307.7,2867.0 L1310.8,2868.3 L1313.9,2869.7 L1316.9,2871.0 L1320.0,2872.4 L1323.0,2873.7 L1326.1,2875.1 L1329.2,2876.4 L1332.2,2877.8 L1335.3,2879.2 L1338.3,2880.6 L1341.4,2882.0 L1344.5,2883.4 L1347.5,2884.8 L1350.6,2886.2 L1353.6,2887.6 L1356.7,2889.0 L1359.8,2890.4 L1362.8,2891.9 L1365.9,2893.3 L1369.0,2894.8 L1372.0,2896.3 L1375.1,2897.8 L1378.1,2899.3 L1381.2,2900.8 L1384.3,2902.2 L1387.3,2903.7 L1390.4,2905.2 L1393.4,2906.6 L1396.5,2908.0 L1399.6,2909.4 L1402.6,2910.7 L1405.7,2912.0 L1408.8,2913.2 L1411.8,2914.5 L1414.9,2915.8 L1417.9,2917.0 L1421.0,2918.2 L1424.1,2919.5 L1427.1,2920.6 L1430.2,2921.8 L1433.2,2923.0 L1436.3,2924.1 L1439.4,2925.2 L1442.4,2926.3 L1445.5,2927.4 L1448.6,2928.4 L1451.6,2929.5 L1454.7,2930.5 L1457.7,2931.4 L1460.8,2932.4 L1463.9,2933.4 L1466.9,2934.4 L1470.0,2935.4 L1473.0,2936.4 L1476.1,2937.3 L1479.2,2938.2 L1482.2,2939.1 L1485.3,2939.8 L1488.3,2940.5 L1491.4,2941.2 L1494.5,2941.7 L1497.5,2942.1 L1500.6,2942.6 L1503.7,2943.0 L1506.7,2943.3 L1509.8,2943.7 L1512.8,2944.0 L1515.9,2944.3 L1519.0,2944.6 L1522.0,2944.8 L1525.1,2945.0 L1528.1,2945.0 L1531.2,2945.0 L1534.3,2945.0 L1537.3,2944.9 L1540.4,2944.7 L1543.5,2944.5 L1546.5,2944.2 L1549.6,2943.9 L1552.6,2943.5 L1555.7,2943.1 L1558.8,2942.7 L1561.8,2942.3 L1564.9,2941.8 L1567.9,2941.0 L1571.0,2940.0 L1574.1,2938.8 L1577.1,2937.4 L1580.2,2936.0 L1583.2,2934.6 L1586.3,2933.2 L1589.4,2931.8 L1592.4,2930.5 L1595.5,2929.1 L1598.6,2927.7 L1601.6,2926.3 L1604.7,2924.9 L1607.7,2923.4 L1610.8,2921.9 L1613.9,2920.4 L1616.9,2918.9 L1620.0,2917.4 L1623.0,2915.8 L1626.1,2914.3 L1629.2,2912.7 L1632.2,2911.1 L1635.3,2909.5 L1638.4,2907.9 L1641.4,2906.3 L1644.5,2904.7 L1647.5,2903.1 L1650.6,2901.5 L1653.7,2899.9 L1656.7,2898.3 L1659.8,2896.6 L1662.8,2895.0 L1665.9,2893.3 L1669.0,2891.6 L1672.0,2889.8 L1675.1,2888.0 L1678.1,2886.2 L1681.2,2884.4 L1684.3,2882.6 L1687.3,2880.7 L1690.4,2878.9 L1693.5,2877.0 L1696.5,2875.2 L1699.6,2873.3 L1702.6,2871.5 L1705.7,2869.6 L1708.8,2867.8 L1711.8,2866.0 L1714.9,2864.2 L1717.9,2862.4 L1721.0,2860.6 L1724.1,2858.9 L1727.1,2857.1 L1730.2,2855.5 L1733.3,2853.8 L1736.3,2852.2 L1739.4,2850.6 L1742.4,2849.1 L1745.5,2847.6 L1748.6,2846.1 L1751.6,2844.8 L1754.7,2843.4 L1757.7,2842.1 L1760.8,2840.8 L1763.9,2839.6 L1766.9,2838.3 L1770.0,2837.1 L1773.1,2835.9 L1776.1,2834.8 L1779.2,2833.6 L1782.2,2832.5 L1785.3,2831.4 L1788.4,2830.3 L1791.4,2829.2 L1794.5,2828.1 L1797.5,2827.0 L1800.6,2826.0 L1803.7,2824.9 L1806.7,2823.9 L1809.8,2822.8 L1812.8,2821.8 L1815.9,2820.7 L1819.0,2819.7 L1822.0,2818.6 L1825.1,2817.5 L1828.2,2816.5 L1831.2,2815.4 L1834.3,2814.3 L1837.3,2813.2 L1840.4,2812.1" fill="none" stroke="#000" stroke-width="6.2" stroke-linecap="round" stroke-linejoin="round" stroke-dasharray="0 10.6"/>
<path d="M312.8,2659.8 L315.9,2660.2 L318.9,2660.6 L322.0,2661.0 L325.0,2661.4 L328.1,2661.8 L331.2,2662.2 L334.2,2662.6 L337.3,2663.0 L340.4,2663.3 L343.4,2663.7 L346.5,2664.1 L349.5,2664.5 L352.6,2664.9 L355.7,2665.3 L358.7,2665.6 L361.8,2666.0 L364.8,2666.4 L367.9,2666.8 L371.0,2667.2 L374.0,2667.5 L377.1,2667.9 L380.1,2668.3 L383.2,2668.7 L386.3,2669.1 L389.3,2669.4 L392.4,2669.8 L395.5,2670.2 L398.5,2670.6 L401.6,2671.0 L404.6,2671.3 L407.7,2671.7 L410.8,2672.1 L413.8,2672.5 L416.9,2672.9 L419.9,2673.2 L423.0,2673.6 L426.1,2674.0 L429.1,2674.4 L432.2,2674.8 L435.3,2675.2 L438.3,2675.5 L441.4,2675.9 L444.4,2676.3 L447.5,2676.7 L450.6,2677.1 L453.6,2677.5 L456.7,2677.9 L459.7,2678.2 L462.8,2678.6 L465.9,2679.0 L468.9,2679.4 L472.0,2679.8 L475.1,2680.2 L478.1,2680.6 L481.2,2681.0 L484.2,2681.4 L487.3,2681.8 L490.4,2682.2 L493.4,2682.6 L496.5,2683.0 L499.5,2683.4 L502.6,2683.8 L505.7,2684.2 L508.7,2684.6 L511.8,2685.0 L514.8,2685.4 L517.9,2685.8 L521.0,2686.3 L524.0,2686.7 L527.1,2687.1 L530.2,2687.5 L533.2,2687.9 L536.3,2688.3 L539.3,2688.8 L542.4,2689.2 L545.5,2689.6 L548.5,2690.1 L551.6,2690.5 L554.6,2690.9 L557.7,2691.4 L560.8,2691.8 L563.8,2692.2 L566.9,2692.6 L570.0,2693.1 L573.0,2693.5 L576.1,2693.9 L579.1,2694.4 L582.2,2694.8 L585.3,2695.2 L588.3,2695.7 L591.4,2696.1 L594.4,2696.5 L597.5,2697.0 L600.6,2697.4 L603.6,2697.8 L606.7,2698.3 L609.7,2698.7 L612.8,2699.1 L615.9,2699.6 L618.9,2700.0 L622.0,2700.5 L625.1,2700.9 L628.1,2701.3 L631.2,2701.8 L634.2,2702.2 L637.3,2702.7 L640.4,2703.1 L643.4,2703.6 L646.5,2704.0 L649.5,2704.5 L652.6,2704.9 L655.7,2705.4 L658.7,2705.8 L661.8,2706.3 L664.9,2706.7 L667.9,2707.2 L671.0,2707.6 L674.0,2708.1 L677.1,2708.6 L680.2,2709.0 L683.2,2709.5 L686.3,2710.0 L689.3,2710.5 L692.4,2710.9 L695.5,2711.4 L698.5,2711.9 L701.6,2712.4 L704.6,2712.9 L707.7,2713.4 L710.8,2713.9 L713.8,2714.4 L716.9,2714.8 L720.0,2715.4 L723.0,2715.9 L726.1,2716.4 L729.1,2716.9 L732.2,2717.4 L735.3,2717.9 L738.3,2718.4 L741.4,2718.9 L744.4,2719.5 L747.5,2720.0 L750.6,2720.5 L753.6,2721.1 L756.7,2721.6 L759.8,2722.2 L762.8,2722.7 L765.9,2723.3 L768.9,2723.8 L772.0,2724.4 L775.1,2724.9 L778.1,2725.5 L781.2,2726.1 L784.2,2726.7 L787.3,2727.2 L790.4,2727.8 L793.4,2728.4 L796.5,2729.0 L799.6,2729.6 L802.6,2730.2 L805.7,2730.8 L808.7,2731.5 L811.8,2732.1 L814.9,2732.8 L817.9,2733.5 L821.0,2734.2 L824.0,2734.9 L827.1,2735.6 L830.2,2736.4 L833.2,2737.1 L836.3,2737.9 L839.3,2738.7 L842.4,2739.4 L845.5,2740.2 L848.5,2741.1 L851.6,2741.9 L854.7,2742.7 L857.7,2743.5 L860.8,2744.4 L863.8,2745.3 L866.9,2746.1 L870.0,2747.0 L873.0,2747.9 L876.1,2748.8 L879.1,2749.7 L882.2,2750.6 L885.3,2751.5 L888.3,2752.4 L891.4,2753.3 L894.5,2754.2 L897.5,2755.1 L900.6,2756.1 L903.6,2757.0 L906.7,2757.9 L909.8,2758.9 L912.8,2759.8 L915.9,2760.8 L918.9,2761.7 L922.0,2762.7 L925.1,2763.6 L928.1,2764.5 L931.2,2765.5 L934.2,2766.4 L937.3,2767.4 L940.4,2768.3 L943.4,2769.3 L946.5,2770.2 L949.6,2771.2 L952.6,2772.1 L955.7,2773.0 L958.7,2774.0 L961.8,2774.9 L964.9,2775.8 L967.9,2776.7 L971.0,2777.6 L974.0,2778.5 L977.1,2779.4 L980.2,2780.3 L983.2,2781.2 L986.3,2782.1 L989.4,2782.9 L992.4,2783.8 L995.5,2784.7 L998.5,2785.5 L1001.6,2786.3 L1004.7,2787.2 L1007.7,2788.0 L1010.8,2788.8 L1013.8,2789.6 L1016.9,2790.4 L1020.0,2791.1 L1023.0,2791.9 L1026.1,2792.6 L1029.1,2793.4 L1032.2,2794.1 L1035.3,2794.8 L1038.3,2795.5 L1041.4,2796.2 L1044.5,2796.9 L1047.5,2797.5 L1050.6,2798.1 L1053.6,2798.8 L1056.7,2799.4 L1059.8,2799.9 L1062.8,2800.5 L1065.9,2801.1 L1068.9,2801.6 L1072.0,2802.1 L1075.1,2802.6 L1078.1,2803.1 L1081.2,2803.5 L1084.3,2803.9 L1087.3,2804.3 L1090.4,2804.7 L1093.4,2805.0 L1096.5,2805.3 L1099.6,2805.6 L1102.6,2805.9 L1105.7,2806.2 L1108.7,2806.5 L1111.8,2806.8 L1114.9,2807.1 L1117.9,2807.4 L1121.0,2807.8 L1124.1,2808.2 L1127.1,2808.6 L1130.2,2809.0 L1133.2,2809.5 L1136.3,2810.1 L1139.4,2810.8 L1142.4,2811.7 L1145.5,2812.6 L1148.5,2813.6 L1151.6,2814.6 L1154.7,2815.7 L1157.7,2816.8 L1160.8,2817.9 L1163.8,2819.0 L1166.9,2820.0 L1170.0,2821.0 L1173.0,2821.9 L1176.1,2822.8 L1179.2,2823.6 L1182.2,2824.5 L1185.3,2825.3 L1188.3,2826.1 L1191.4,2826.9 L1194.5,2827.7 L1197.5,2828.5 L1200.6,2829.3 L1203.6,2830.1 L1206.7,2830.9 L1209.8,2831.8 L1212.8,2832.7 L1215.9,2833.5 L1219.0,2834.4 L1222.0,2835.3 L1225.1,2836.1 L1228.1,2837.0 L1231.2,2837.9 L1234.3,2838.8 L1237.3,2839.7 L1240.4,2840.7 L1243.4,2841.6 L1246.5,2842.6 L1249.6,2843.7 L1252.6,2844.7 L1255.7,2845.9 L1258.7,2847.0 L1261.8,2848.2 L1264.9,2849.4 L1267.9,2850.6 L1271.0,2851.8 L1274.1,2853.1 L1277.1,2854.3 L1280.2,2855.5 L1283.2,2856.7 L1286.3,2857.9 L1289.4,2859.1 L1292.4,2860.3 L1295.5,2861.5 L1298.5,2862.6 L1301.6,2863.8 L1304.7,2865.0 L1307.7,2866.1 L1310.8,2867.3 L1313.9,2868.5 L1316.9,2869.6 L1320.0,2870.8 L1323.0,2871.9 L1326.1,2873.1 L1329.2,2874.2 L1332.2,2875.3 L1335.3,2876.4 L1338.3,2877.5 L1341.4,2878.5 L1344.5,2879.6 L1347.5,2880.6 L1350.6,2881.7 L1353.6,2882.7 L1356.7,2883.8 L1359.8,2884.9 L1362.8,2886.0 L1365.9,2887.2 L1369.0,2888.4 L1372.0,2889.7 L1375.1,2891.1 L1378.1,2892.4 L1381.2,2893.8 L1384.3,2895.2 L1387.3,2896.5 L1390.4,2897.9 L1393.4,2899.2 L1396.5,2900.4 L1399.6,2901.5 L1402.6,2902.6 L1405.7,2903.6 L1408.8,2904.4 L1411.8,2905.2 L1414.9,2905.9 L1417.9,2906.6 L1421.0,2907.3 L1424.1,2908.0 L1427.1,2908.7 L1430.2,2909.3 L1433.2,2910.0 L1436.3,2910.5 L1439.4,2911.0 L1442.4,2911.4 L1445.5,2911.8 L1448.6,2912.1 L1451.6,2912.3 L1454.7,2912.3 L1457.7,2912.3 L1460.8,2912.1 L1463.9,2911.7 L1466.9,2911.2 L1470.0,2910.6 L1473.0,2909.8 L1476.1,2909.0 L1479.2,2908.0 L1482.2,2907.1 L1485.3,2906.1 L1488.3,2905.0 L1491.4,2904.0 L1494.5,2902.9 L1497.5,2901.9 L1500.6,2900.8 L1503.7,2899.6 L1506.7,2898.2 L1509.8,2896.8 L1512.8,2895.3 L1515.9,2893.7 L1519.0,2892.1 L1522.0,2890.5 L1525.1,2888.8 L1528.1,2887.1 L1531.2,2885.4 L1534.3,2883.7 L1537.3,2882.0 L1540.4,2880.4 L1543.5,2878.9 L1546.5,2877.4 L1549.6,2875.9 L1552.6,2874.5 L1555.7,2873.0 L1558.8,2871.6 L1561.8,2870.2 L1564.9,2868.7 L1567.9,2867.3 L1571.0,2865.9 L1574.1,2864.5 L1577.1,2863.1 L1580.2,2861.7 L1583.2,2860.3 L1586.3,2858.9 L1589.4,2857.5 L1592.4,2856.1 L1595.5,2854.8 L1598.6,2853.4 L1601.6,2852.0 L1604.7,2850.7 L1607.7,2849.3 L1610.8,2847.9 L1613.9,2846.6 L1616.9,2845.2 L1620.0,2843.9 L1623.0,2842.5 L1626.1,2841.2 L1629.2,2839.8 L1632.2,2838.5 L1635.3,2837.1 L1638.4,2835.8 L1641.4,2834.5 L1644.5,2833.1 L1647.5,2831.8 L1650.6,2830.4 L1653.7,2829.1 L1656.7,2827.8 L1659.8,2826.5 L1662.8,2825.1 L1665.9,2823.8 L1669.0,2822.5 L1672.0,2821.1 L1675.1,2819.8 L1678.1,2818.5 L1681.2,2817.2 L1684.3,2815.9 L1687.3,2814.5 L1690.4,2813.2 L1693.5,2811.9 L1696.5,2810.6 L1699.6,2809.3 L1702.6,2808.0 L1705.7,2806.7 L1708.8,2805.4 L1711.8,2804.1 L1714.9,2802.8 L1717.9,2801.5 L1721.0,2800.2 L1724.1,2799.0 L1727.1,2797.7 L1730.2,2796.4 L1733.3,2795.1 L1736.3,2793.8 L1739.4,2792.5 L1742.4,2791.3 L1745.5,2790.0 L1748.6,2788.7 L1751.6,2787.4 L1754.7,2786.2 L1757.7,2784.9 L1760.8,2783.6 L1763.9,2782.4 L1766.9,2781.1 L1770.0,2779.8 L1773.1,2778.5 L1776.1,2777.3 L1779.2,2776.0 L1782.2,2774.7 L1785.3,2773.5 L1788.4,2772.2 L1791.4,2770.9 L1794.5,2769.7 L1797.5,2768.4 L1800.6,2767.1 L1803.7,2765.8 L1806.7,2764.6 L1809.8,2763.3 L1812.8,2762.0 L1815.9,2760.7 L1819.0,2759.5 L1822.0,2758.2 L1825.1,2756.9 L1828.2,2755.6 L1831.2,2754.4 L1834.3,2753.1 L1837.3,2751.8 L1840.4,2750.5" fill="none" stroke="#000" stroke-width="6.2" stroke-linecap="round" stroke-linejoin="round" stroke-dasharray="14.5 20.1"/>
<path d="M312.8,2671.9 L315.9,2672.3 L318.9,2672.7 L322.0,2673.2 L325.0,2673.6 L328.1,2674.0 L331.2,2674.4 L334.2,2674.8 L337.3,2675.2 L340.4,2675.6 L343.4,2676.0 L346.5,2676.4 L349.5,2676.8 L352.6,2677.2 L355.7,2677.6 L358.7,2678.0 L361.8,2678.4 L364.8,2678.8 L367.9,2679.2 L371.0,2679.6 L374.0,2680.0 L377.1,2680.4 L380.1,2680.8 L383.2,2681.2 L386.3,2681.7 L389.3,2682.1 L392.4,2682.5 L395.5,2682.9 L398.5,2683.3 L401.6,2683.7 L404.6,2684.1 L407.7,2684.5 L410.8,2684.9 L413.8,2685.3 L416.9,2685.7 L419.9,2686.1 L423.0,2686.5 L426.1,2686.9 L429.1,2687.3 L432.2,2687.7 L435.3,2688.1 L438.3,2688.5 L441.4,2688.9 L444.4,2689.3 L447.5,2689.7 L450.6,2690.1 L453.6,2690.6 L456.7,2691.0 L459.7,2691.4 L462.8,2691.8 L465.9,2692.2 L468.9,2692.6 L472.0,2693.0 L475.1,2693.4 L478.1,2693.8 L481.2,2694.2 L484.2,2694.6 L487.3,2695.0 L490.4,2695.4 L493.4,2695.8 L496.5,2696.3 L499.5,2696.7 L502.6,2697.1 L505.7,2697.5 L508.7,2697.9 L511.8,2698.3 L514.8,2698.7 L517.9,2699.1 L521.0,2699.5 L524.0,2699.9 L527.1,2700.4 L530.2,2700.8 L533.2,2701.2 L536.3,2701.6 L539.3,2702.0 L542.4,2702.4 L545.5,2702.8 L548.5,2703.3 L551.6,2703.7 L554.6,2704.1 L557.7,2704.5 L560.8,2704.9 L563.8,2705.3 L566.9,2705.7 L570.0,2706.1 L573.0,2706.5 L576.1,2706.9 L579.1,2707.3 L582.2,2707.7 L585.3,2708.1 L588.3,2708.5 L591.4,2708.9 L594.4,2709.3 L597.5,2709.7 L600.6,2710.1 L603.6,2710.5 L606.7,2710.9 L609.7,2711.2 L612.8,2711.6 L615.9,2712.0 L618.9,2712.4 L622.0,2712.8 L625.1,2713.2 L628.1,2713.6 L631.2,2713.9 L634.2,2714.3 L637.3,2714.7 L640.4,2715.1 L643.4,2715.5 L646.5,2715.9 L649.5,2716.3 L652.6,2716.7 L655.7,2717.1 L658.7,2717.4 L661.8,2717.8 L664.9,2718.2 L667.9,2718.6 L671.0,2719.0 L674.0,2719.4 L677.1,2719.8 L680.2,2720.2 L683.2,2720.6 L686.3,2721.0 L689.3,2721.4 L692.4,2721.8 L695.5,2722.2 L698.5,2722.7 L701.6,2723.1 L704.6,2723.5 L707.7,2723.9 L710.8,2724.3 L713.8,2724.8 L716.9,2725.2 L720.0,2725.6 L723.0,2726.0 L726.1,2726.5 L729.1,2726.9 L732.2,2727.4 L735.3,2727.8 L738.3,2728.3 L741.4,2728.7 L744.4,2729.2 L747.5,2729.6 L750.6,2730.1 L753.6,2730.6 L756.7,2731.0 L759.8,2731.5 L762.8,2732.0 L765.9,2732.5 L768.9,2733.0 L772.0,2733.5 L775.1,2734.0 L778.1,2734.5 L781.2,2735.0 L784.2,2735.5 L787.3,2736.0 L790.4,2736.5 L793.4,2737.0 L796.5,2737.6 L799.6,2738.1 L802.6,2738.7 L805.7,2739.2 L808.7,2739.8 L811.8,2740.5 L814.9,2741.1 L817.9,2741.7 L821.0,2742.4 L824.0,2743.1 L827.1,2743.8 L830.2,2744.5 L833.2,2745.3 L836.3,2746.0 L839.3,2746.8 L842.4,2747.6 L845.5,2748.4 L848.5,2749.2 L851.6,2750.0 L854.7,2750.9 L857.7,2751.7 L860.8,2752.6 L863.8,2753.4 L866.9,2754.3 L870.0,2755.2 L873.0,2756.1 L876.1,2757.0 L879.1,2757.9 L882.2,2758.9 L885.3,2759.8 L888.3,2760.7 L891.4,2761.7 L894.5,2762.6 L897.5,2763.6 L900.6,2764.5 L903.6,2765.5 L906.7,2766.5 L909.8,2767.4 L912.8,2768.4 L915.9,2769.4 L918.9,2770.3 L922.0,2771.3 L925.1,2772.3 L928.1,2773.2 L931.2,2774.2 L934.2,2775.1 L937.3,2776.1 L940.4,2777.1 L943.4,2778.0 L946.5,2779.0 L949.6,2779.9 L952.6,2780.8 L955.7,2781.8 L958.7,2782.7 L961.8,2783.6 L964.9,2784.5 L967.9,2785.4 L971.0,2786.3 L974.0,2787.2 L977.1,2788.0 L980.2,2788.9 L983.2,2789.8 L986.3,2790.6 L989.4,2791.4 L992.4,2792.2 L995.5,2793.0 L998.5,2793.8 L1001.6,2794.6 L1004.7,2795.3 L1007.7,2796.1 L1010.8,2796.8 L1013.8,2797.5 L1016.9,2798.2 L1020.0,2798.8 L1023.0,2799.5 L1026.1,2800.1 L1029.1,2800.7 L1032.2,2801.3 L1035.3,2801.9 L1038.3,2802.4 L1041.4,2802.9 L1044.5,2803.4 L1047.5,2803.9 L1050.6,2804.4 L1053.6,2804.8 L1056.7,2805.2 L1059.8,2805.6 L1062.8,2805.9 L1065.9,2806.3 L1068.9,2806.6 L1072.0,2806.8 L1075.1,2807.1 L1078.1,2807.3 L1081.2,2807.5 L1084.3,2807.7 L1087.3,2807.8 L1090.4,2807.9 L1093.4,2808.0 L1096.5,2808.1 L1099.6,2808.2 L1102.6,2808.3 L1105.7,2808.4 L1108.7,2808.5 L1111.8,2808.6 L1114.9,2808.7 L1117.9,2808.8 L1121.0,2808.9 L1124.1,2809.0 L1127.1,2809.2 L1130.2,2809.4 L1133.2,2809.6 L1136.3,2809.9 L1139.4,2810.4 L1142.4,2811.1 L1145.5,2812.0 L1148.5,2813.0 L1151.6,2814.1 L1154.7,2815.3 L1157.7,2816.5 L1160.8,2817.7 L1163.8,2818.8 L1166.9,2820.0 L1170.0,2821.0 L1173.0,2821.9 L1176.1,2822.8 L1179.2,2823.6 L1182.2,2824.5 L1185.3,2825.3 L1188.3,2826.1 L1191.4,2826.9 L1194.5,2827.7 L1197.5,2828.5 L1200.6,2829.3 L1203.6,2830.1 L1206.7,2830.9 L1209.8,2831.8 L1212.8,2832.7 L1215.9,2833.5 L1219.0,2834.4 L1222.0,2835.3 L1225.1,2836.2 L1228.1,2837.1 L1231.2,2838.0 L1234.3,2838.9 L1237.3,2839.8 L1240.4,2840.8 L1243.4,2841.7 L1246.5,2842.7 L1249.6,2843.6 L1252.6,2844.7 L1255.7,2845.7 L1258.7,2846.8 L1261.8,2847.9 L1264.9,2849.0 L1267.9,2850.1 L1271.0,2851.2 L1274.1,2852.3 L1277.1,2853.4 L1280.2,2854.5 L1283.2,2855.6 L1286.3,2856.7 L1289.4,2857.7 L1292.4,2858.7 L1295.5,2859.7 L1298.5,2860.6 L1301.6,2861.4 L1304.7,2862.3 L1307.7,2863.2 L1310.8,2864.2 L1313.9,2865.1 L1316.9,2866.1 L1320.0,2867.0 L1323.0,2867.9 L1326.1,2868.8 L1329.2,2869.7 L1332.2,2870.4 L1335.3,2871.1 L1338.3,2871.8 L1341.4,2872.3 L1344.5,2872.8 L1347.5,2873.1 L1350.6,2873.3 L1353.6,2873.3 L1356.7,2873.3 L1359.8,2873.1 L1362.8,2872.9 L1365.9,2872.6 L1369.0,2872.2 L1372.0,2871.7 L1375.1,2871.2 L1378.1,2870.6 L1381.2,2870.0 L1384.3,2869.4 L1387.3,2868.8 L1390.4,2868.1 L1393.4,2867.4 L1396.5,2866.5 L1399.6,2865.4 L1402.6,2864.2 L1405.7,2862.9 L1408.8,2861.5 L1411.8,2860.0 L1414.9,2858.6 L1417.9,2857.2 L1421.0,2855.8 L1424.1,2854.6 L1427.1,2853.4 L1430.2,2852.2 L1433.2,2851.0 L1436.3,2849.8 L1439.4,2848.6 L1442.4,2847.4 L1445.5,2846.2 L1448.6,2845.0 L1451.6,2843.8 L1454.7,2842.7 L1457.7,2841.5 L1460.8,2840.3 L1463.9,2839.2 L1466.9,2838.0 L1470.0,2836.9 L1473.0,2835.7 L1476.1,2834.6 L1479.2,2833.4 L1482.2,2832.3 L1485.3,2831.1 L1488.3,2830.0 L1491.4,2828.8 L1494.5,2827.7 L1497.5,2826.5 L1500.6,2825.4 L1503.7,2824.2 L1506.7,2823.1 L1509.8,2821.9 L1512.8,2820.8 L1515.9,2819.6 L1519.0,2818.5 L1522.0,2817.3 L1525.1,2816.1 L1528.1,2815.0 L1531.2,2813.8 L1534.3,2812.6 L1537.3,2811.4 L1540.4,2810.3 L1543.5,2809.1 L1546.5,2807.9 L1549.6,2806.7 L1552.6,2805.5 L1555.7,2804.3 L1558.8,2803.1 L1561.8,2801.9 L1564.9,2800.7 L1567.9,2799.4 L1571.0,2798.2 L1574.1,2797.0 L1577.1,2795.8 L1580.2,2794.6 L1583.2,2793.4 L1586.3,2792.1 L1589.4,2790.9 L1592.4,2789.7 L1595.5,2788.5 L1598.6,2787.2 L1601.6,2786.0 L1604.7,2784.8 L1607.7,2783.5 L1610.8,2782.3 L1613.9,2781.1 L1616.9,2779.8 L1620.0,2778.6 L1623.0,2777.4 L1626.1,2776.1 L1629.2,2774.9 L1632.2,2773.7 L1635.3,2772.5 L1638.4,2771.2 L1641.4,2770.0 L1644.5,2768.8 L1647.5,2767.5 L1650.6,2766.3 L1653.7,2765.1 L1656.7,2763.9 L1659.8,2762.6 L1662.8,2761.4 L1665.9,2760.2 L1669.0,2759.0 L1672.0,2757.8 L1675.1,2756.5 L1678.1,2755.3 L1681.2,2754.1 L1684.3,2752.9 L1687.3,2751.7 L1690.4,2750.5 L1693.5,2749.2 L1696.5,2748.0 L1699.6,2746.8 L1702.6,2745.6 L1705.7,2744.4 L1708.8,2743.2 L1711.8,2742.0 L1714.9,2740.8 L1717.9,2739.5 L1721.0,2738.3 L1724.1,2737.1 L1727.1,2735.9 L1730.2,2734.7 L1733.3,2733.5 L1736.3,2732.3 L1739.4,2731.1 L1742.4,2729.9 L1745.5,2728.7 L1748.6,2727.4 L1751.6,2726.2 L1754.7,2725.0 L1757.7,2723.8 L1760.8,2722.6 L1763.9,2721.4 L1766.9,2720.2 L1770.0,2719.0 L1773.1,2717.8 L1776.1,2716.6 L1779.2,2715.4 L1782.2,2714.1 L1785.3,2712.9 L1788.4,2711.7 L1791.4,2710.5 L1794.5,2709.3 L1797.5,2708.1 L1800.6,2706.9 L1803.7,2705.7 L1806.7,2704.5 L1809.8,2703.3 L1812.8,2702.1 L1815.9,2700.8 L1819.0,2699.6 L1822.0,2698.4 L1825.1,2697.2 L1828.2,2696.0 L1831.2,2694.8 L1834.3,2693.6 L1837.3,2692.4 L1840.4,2691.2" fill="none" stroke="#000" stroke-width="5.8" stroke-linecap="butt" stroke-linejoin="round"/>
<path d="M312.8,2687.9 L315.9,2688.2 L318.9,2688.6 L322.0,2688.9 L325.0,2689.2 L328.1,2689.6 L331.2,2689.9 L334.2,2690.3 L337.3,2690.6 L340.4,2690.9 L343.4,2691.3 L346.5,2691.6 L349.5,2692.0 L352.6,2692.3 L355.7,2692.6 L358.7,2693.0 L361.8,2693.3 L364.8,2693.6 L367.9,2694.0 L371.0,2694.3 L374.0,2694.6 L377.1,2695.0 L380.1,2695.3 L383.2,2695.7 L386.3,2696.0 L389.3,2696.3 L392.4,2696.7 L395.5,2697.0 L398.5,2697.3 L401.6,2697.7 L404.6,2698.0 L407.7,2698.3 L410.8,2698.7 L413.8,2699.0 L416.9,2699.4 L419.9,2699.7 L423.0,2700.0 L426.1,2700.4 L429.1,2700.7 L432.2,2701.0 L435.3,2701.4 L438.3,2701.7 L441.4,2702.1 L444.4,2702.4 L447.5,2702.7 L450.6,2703.1 L453.6,2703.4 L456.7,2703.7 L459.7,2704.1 L462.8,2704.4 L465.9,2704.8 L468.9,2705.1 L472.0,2705.5 L475.1,2705.8 L478.1,2706.1 L481.2,2706.5 L484.2,2706.8 L487.3,2707.2 L490.4,2707.5 L493.4,2707.9 L496.5,2708.2 L499.5,2708.6 L502.6,2708.9 L505.7,2709.3 L508.7,2709.6 L511.8,2710.0 L514.8,2710.3 L517.9,2710.7 L521.0,2711.0 L524.0,2711.4 L527.1,2711.8 L530.2,2712.1 L533.2,2712.5 L536.3,2712.8 L539.3,2713.2 L542.4,2713.6 L545.5,2713.9 L548.5,2714.3 L551.6,2714.6 L554.6,2715.0 L557.7,2715.4 L560.8,2715.7 L563.8,2716.1 L566.9,2716.5 L570.0,2716.8 L573.0,2717.2 L576.1,2717.5 L579.1,2717.9 L582.2,2718.2 L585.3,2718.6 L588.3,2718.9 L591.4,2719.3 L594.4,2719.7 L597.5,2720.0 L600.6,2720.4 L603.6,2720.7 L606.7,2721.1 L609.7,2721.4 L612.8,2721.8 L615.9,2722.1 L618.9,2722.5 L622.0,2722.8 L625.1,2723.2 L628.1,2723.5 L631.2,2723.9 L634.2,2724.2 L637.3,2724.6 L640.4,2724.9 L643.4,2725.3 L646.5,2725.7 L649.5,2726.0 L652.6,2726.4 L655.7,2726.7 L658.7,2727.1 L661.8,2727.5 L664.9,2727.8 L667.9,2728.2 L671.0,2728.6 L674.0,2728.9 L677.1,2729.3 L680.2,2729.7 L683.2,2730.0 L686.3,2730.4 L689.3,2730.8 L692.4,2731.2 L695.5,2731.6 L698.5,2731.9 L701.6,2732.3 L704.6,2732.7 L707.7,2733.1 L710.8,2733.5 L713.8,2733.9 L716.9,2734.3 L720.0,2734.7 L723.0,2735.1 L726.1,2735.5 L729.1,2735.9 L732.2,2736.3 L735.3,2736.8 L738.3,2737.2 L741.4,2737.6 L744.4,2738.0 L747.5,2738.5 L750.6,2738.9 L753.6,2739.3 L756.7,2739.8 L759.8,2740.2 L762.8,2740.7 L765.9,2741.1 L768.9,2741.6 L772.0,2742.0 L775.1,2742.5 L778.1,2743.0 L781.2,2743.4 L784.2,2743.9 L787.3,2744.4 L790.4,2744.9 L793.4,2745.4 L796.5,2745.9 L799.6,2746.4 L802.6,2746.9 L805.7,2747.4 L808.7,2748.0 L811.8,2748.6 L814.9,2749.2 L817.9,2749.8 L821.0,2750.4 L824.0,2751.1 L827.1,2751.8 L830.2,2752.5 L833.2,2753.2 L836.3,2754.0 L839.3,2754.7 L842.4,2755.5 L845.5,2756.3 L848.5,2757.1 L851.6,2757.9 L854.7,2758.8 L857.7,2759.6 L860.8,2760.5 L863.8,2761.3 L866.9,2762.2 L870.0,2763.1 L873.0,2764.0 L876.1,2764.9 L879.1,2765.8 L882.2,2766.8 L885.3,2767.7 L888.3,2768.6 L891.4,2769.6 L894.5,2770.5 L897.5,2771.5 L900.6,2772.5 L903.6,2773.4 L906.7,2774.4 L909.8,2775.3 L912.8,2776.3 L915.9,2777.3 L918.9,2778.2 L922.0,2779.2 L925.1,2780.2 L928.1,2781.1 L931.2,2782.1 L934.2,2783.0 L937.3,2784.0 L940.4,2784.9 L943.4,2785.9 L946.5,2786.8 L949.6,2787.7 L952.6,2788.7 L955.7,2789.6 L958.7,2790.5 L961.8,2791.4 L964.9,2792.2 L967.9,2793.1 L971.0,2794.0 L974.0,2794.8 L977.1,2795.6 L980.2,2796.5 L983.2,2797.3 L986.3,2798.1 L989.4,2798.8 L992.4,2799.6 L995.5,2800.3 L998.5,2801.0 L1001.6,2801.8 L1004.7,2802.4 L1007.7,2803.1 L1010.8,2803.8 L1013.8,2804.4 L1016.9,2805.0 L1020.0,2805.6 L1023.0,2806.1 L1026.1,2806.7 L1029.1,2807.2 L1032.2,2807.7 L1035.3,2808.1 L1038.3,2808.6 L1041.4,2809.0 L1044.5,2809.3 L1047.5,2809.7 L1050.6,2810.0 L1053.6,2810.3 L1056.7,2810.6 L1059.8,2810.8 L1062.8,2811.0 L1065.9,2811.2 L1068.9,2811.3 L1072.0,2811.4 L1075.1,2811.5 L1078.1,2811.5 L1081.2,2811.5 L1084.3,2811.5 L1087.3,2811.4 L1090.4,2811.3 L1093.4,2811.2 L1096.5,2811.1 L1099.6,2810.9 L1102.6,2810.8 L1105.7,2810.6 L1108.7,2810.5 L1111.8,2810.3 L1114.9,2810.2 L1117.9,2810.0 L1121.0,2809.9 L1124.1,2809.8 L1127.1,2809.7 L1130.2,2809.7 L1133.2,2809.7 L1136.3,2809.8 L1139.4,2810.2 L1142.4,2810.9 L1145.5,2811.8 L1148.5,2812.8 L1151.6,2814.0 L1154.7,2815.3 L1157.7,2816.6 L1160.8,2817.9 L1163.8,2819.1 L1166.9,2820.2 L1170.0,2821.1 L1173.0,2821.8 L1176.1,2822.5 L1179.2,2823.1 L1182.2,2823.7 L1185.3,2824.2 L1188.3,2824.8 L1191.4,2825.3 L1194.5,2825.8 L1197.5,2826.3 L1200.6,2826.7 L1203.6,2827.1 L1206.7,2827.5 L1209.8,2827.9 L1212.8,2828.3 L1215.9,2828.7 L1219.0,2829.2 L1222.0,2829.6 L1225.1,2830.0 L1228.1,2830.3 L1231.2,2830.6 L1234.3,2830.8 L1237.3,2831.0 L1240.4,2831.0 L1243.4,2830.9 L1246.5,2830.8 L1249.6,2830.5 L1252.6,2830.1 L1255.7,2829.7 L1258.7,2829.2 L1261.8,2828.6 L1264.9,2828.1 L1267.9,2827.5 L1271.0,2826.9 L1274.1,2826.3 L1277.1,2825.8 L1280.2,2825.3 L1283.2,2824.7 L1286.3,2824.1 L1289.4,2823.5 L1292.4,2822.8 L1295.5,2822.2 L1298.5,2821.5 L1301.6,2820.8 L1304.7,2820.0 L1307.7,2819.3 L1310.8,2818.5 L1313.9,2817.7 L1316.9,2816.9 L1320.0,2816.1 L1323.0,2815.2 L1326.1,2814.3 L1329.2,2813.3 L1332.2,2812.4 L1335.3,2811.4 L1338.3,2810.4 L1341.4,2809.5 L1344.5,2808.5 L1347.5,2807.5 L1350.6,2806.6 L1353.6,2805.6 L1356.7,2804.6 L1359.8,2803.6 L1362.8,2802.6 L1365.9,2801.6 L1369.0,2800.6 L1372.0,2799.6 L1375.1,2798.6 L1378.1,2797.5 L1381.2,2796.5 L1384.3,2795.5 L1387.3,2794.5 L1390.4,2793.4 L1393.4,2792.4 L1396.5,2791.4 L1399.6,2790.4 L1402.6,2789.4 L1405.7,2788.4 L1408.8,2787.4 L1411.8,2786.5 L1414.9,2785.5 L1417.9,2784.5 L1421.0,2783.6 L1424.1,2782.6 L1427.1,2781.7 L1430.2,2780.8 L1433.2,2779.8 L1436.3,2778.9 L1439.4,2778.0 L1442.4,2777.0 L1445.5,2776.1 L1448.6,2775.2 L1451.6,2774.3 L1454.7,2773.4 L1457.7,2772.4 L1460.8,2771.5 L1463.9,2770.6 L1466.9,2769.7 L1470.0,2768.7 L1473.0,2767.8 L1476.1,2766.9 L1479.2,2765.9 L1482.2,2765.0 L1485.3,2764.0 L1488.3,2763.1 L1491.4,2762.1 L1494.5,2761.1 L1497.5,2760.2 L1500.6,2759.2 L1503.7,2758.3 L1506.7,2757.3 L1509.8,2756.4 L1512.8,2755.4 L1515.9,2754.5 L1519.0,2753.5 L1522.0,2752.6 L1525.1,2751.6 L1528.1,2750.6 L1531.2,2749.7 L1534.3,2748.7 L1537.3,2747.8 L1540.4,2746.8 L1543.5,2745.8 L1546.5,2744.8 L1549.6,2743.9 L1552.6,2742.9 L1555.7,2741.9 L1558.8,2740.9 L1561.8,2739.9 L1564.9,2738.9 L1567.9,2737.9 L1571.0,2736.9 L1574.1,2735.9 L1577.1,2734.8 L1580.2,2733.8 L1583.2,2732.8 L1586.3,2731.7 L1589.4,2730.7 L1592.4,2729.6 L1595.5,2728.5 L1598.6,2727.5 L1601.6,2726.4 L1604.7,2725.3 L1607.7,2724.2 L1610.8,2723.0 L1613.9,2721.9 L1616.9,2720.7 L1620.0,2719.6 L1623.0,2718.4 L1626.1,2717.2 L1629.2,2716.0 L1632.2,2714.8 L1635.3,2713.6 L1638.4,2712.4 L1641.4,2711.2 L1644.5,2709.9 L1647.5,2708.7 L1650.6,2707.4 L1653.7,2706.2 L1656.7,2704.9 L1659.8,2703.7 L1662.8,2702.4 L1665.9,2701.1 L1669.0,2699.9 L1672.0,2698.6 L1675.1,2697.3 L1678.1,2696.0 L1681.2,2694.7 L1684.3,2693.4 L1687.3,2692.2 L1690.4,2690.9 L1693.5,2689.6 L1696.5,2688.3 L1699.6,2687.0 L1702.6,2685.7 L1705.7,2684.5 L1708.8,2683.2 L1711.8,2681.9 L1714.9,2680.6 L1717.9,2679.4 L1721.0,2678.1 L1724.1,2676.9 L1727.1,2675.6 L1730.2,2674.4 L1733.3,2673.1 L1736.3,2671.9 L1739.4,2670.7 L1742.4,2669.5 L1745.5,2668.3 L1748.6,2667.1 L1751.6,2665.9 L1754.7,2664.7 L1757.7,2663.5 L1760.8,2662.4 L1763.9,2661.2 L1766.9,2660.1 L1770.0,2658.9 L1773.1,2657.8 L1776.1,2656.6 L1779.2,2655.5 L1782.2,2654.3 L1785.3,2653.2 L1788.4,2652.1 L1791.4,2650.9 L1794.5,2649.8 L1797.5,2648.7 L1800.6,2647.6 L1803.7,2646.4 L1806.7,2645.3 L1809.8,2644.2 L1812.8,2643.1 L1815.9,2641.9 L1819.0,2640.8 L1822.0,2639.7 L1825.1,2638.6 L1828.2,2637.4 L1831.2,2636.3 L1834.3,2635.2 L1837.3,2634.1 L1840.4,2632.9" fill="none" stroke="#000" stroke-width="6.2" stroke-linecap="round" stroke-linejoin="round" stroke-dasharray="34.5 19.8 0 20.7"/>
<path d="M312.8,2699.1 L315.9,2699.4 L318.9,2699.7 L322.0,2699.9 L325.0,2700.2 L328.1,2700.5 L331.2,2700.7 L334.2,2701.0 L337.3,2701.3 L340.4,2701.5 L343.4,2701.8 L346.5,2702.0 L349.5,2702.3 L352.6,2702.6 L355.7,2702.8 L358.7,2703.1 L361.8,2703.3 L364.8,2703.6 L367.9,2703.8 L371.0,2704.1 L374.0,2704.3 L377.1,2704.6 L380.1,2704.9 L383.2,2705.1 L386.3,2705.4 L389.3,2705.6 L392.4,2705.9 L395.5,2706.1 L398.5,2706.4 L401.6,2706.6 L404.6,2706.9 L407.7,2707.1 L410.8,2707.4 L413.8,2707.6 L416.9,2707.9 L419.9,2708.1 L423.0,2708.4 L426.1,2708.6 L429.1,2708.9 L432.2,2709.2 L435.3,2709.4 L438.3,2709.7 L441.4,2709.9 L444.4,2710.2 L447.5,2710.5 L450.6,2710.7 L453.6,2711.0 L456.7,2711.2 L459.7,2711.5 L462.8,2711.8 L465.9,2712.0 L468.9,2712.3 L472.0,2712.6 L475.1,2712.9 L478.1,2713.1 L481.2,2713.4 L484.2,2713.7 L487.3,2714.0 L490.4,2714.3 L493.4,2714.5 L496.5,2714.8 L499.5,2715.1 L502.6,2715.4 L505.7,2715.7 L508.7,2716.0 L511.8,2716.3 L514.8,2716.6 L517.9,2716.9 L521.0,2717.2 L524.0,2717.5 L527.1,2717.8 L530.2,2718.1 L533.2,2718.4 L536.3,2718.8 L539.3,2719.1 L542.4,2719.4 L545.5,2719.7 L548.5,2720.1 L551.6,2720.4 L554.6,2720.7 L557.7,2721.1 L560.8,2721.4 L563.8,2721.8 L566.9,2722.1 L570.0,2722.5 L573.0,2722.8 L576.1,2723.2 L579.1,2723.6 L582.2,2723.9 L585.3,2724.3 L588.3,2724.7 L591.4,2725.0 L594.4,2725.4 L597.5,2725.8 L600.6,2726.2 L603.6,2726.6 L606.7,2726.9 L609.7,2727.3 L612.8,2727.7 L615.9,2728.1 L618.9,2728.5 L622.0,2728.9 L625.1,2729.3 L628.1,2729.7 L631.2,2730.1 L634.2,2730.5 L637.3,2731.0 L640.4,2731.4 L643.4,2731.8 L646.5,2732.2 L649.5,2732.6 L652.6,2733.1 L655.7,2733.5 L658.7,2733.9 L661.8,2734.4 L664.9,2734.8 L667.9,2735.2 L671.0,2735.7 L674.0,2736.1 L677.1,2736.5 L680.2,2737.0 L683.2,2737.4 L686.3,2737.9 L689.3,2738.3 L692.4,2738.8 L695.5,2739.3 L698.5,2739.7 L701.6,2740.2 L704.6,2740.6 L707.7,2741.1 L710.8,2741.6 L713.8,2742.0 L716.9,2742.5 L720.0,2743.0 L723.0,2743.4 L726.1,2743.9 L729.1,2744.4 L732.2,2744.9 L735.3,2745.3 L738.3,2745.8 L741.4,2746.3 L744.4,2746.8 L747.5,2747.3 L750.6,2747.8 L753.6,2748.2 L756.7,2748.7 L759.8,2749.2 L762.8,2749.7 L765.9,2750.2 L768.9,2750.7 L772.0,2751.2 L775.1,2751.7 L778.1,2752.2 L781.2,2752.7 L784.2,2753.2 L787.3,2753.7 L790.4,2754.2 L793.4,2754.7 L796.5,2755.2 L799.6,2755.7 L802.6,2756.2 L805.7,2756.8 L808.7,2757.3 L811.8,2757.9 L814.9,2758.5 L817.9,2759.0 L821.0,2759.7 L824.0,2760.3 L827.1,2760.9 L830.2,2761.6 L833.2,2762.2 L836.3,2762.9 L839.3,2763.6 L842.4,2764.3 L845.5,2765.0 L848.5,2765.7 L851.6,2766.5 L854.7,2767.2 L857.7,2768.0 L860.8,2768.7 L863.8,2769.5 L866.9,2770.3 L870.0,2771.0 L873.0,2771.8 L876.1,2772.6 L879.1,2773.4 L882.2,2774.2 L885.3,2775.0 L888.3,2775.8 L891.4,2776.6 L894.5,2777.5 L897.5,2778.3 L900.6,2779.1 L903.6,2779.9 L906.7,2780.7 L909.8,2781.5 L912.8,2782.4 L915.9,2783.2 L918.9,2784.0 L922.0,2784.8 L925.1,2785.6 L928.1,2786.4 L931.2,2787.2 L934.2,2788.0 L937.3,2788.8 L940.4,2789.6 L943.4,2790.4 L946.5,2791.2 L949.6,2791.9 L952.6,2792.7 L955.7,2793.5 L958.7,2794.2 L961.8,2795.0 L964.9,2795.7 L967.9,2796.4 L971.0,2797.1 L974.0,2797.8 L977.1,2798.5 L980.2,2799.2 L983.2,2799.8 L986.3,2800.5 L989.4,2801.1 L992.4,2801.8 L995.5,2802.4 L998.5,2803.0 L1001.6,2803.5 L1004.7,2804.1 L1007.7,2804.7 L1010.8,2805.2 L1013.8,2805.7 L1016.9,2806.2 L1020.0,2806.7 L1023.0,2807.1 L1026.1,2807.6 L1029.1,2808.0 L1032.2,2808.4 L1035.3,2808.8 L1038.3,2809.1 L1041.4,2809.4 L1044.5,2809.7 L1047.5,2810.0 L1050.6,2810.3 L1053.6,2810.5 L1056.7,2810.7 L1059.8,2810.9 L1062.8,2811.1 L1065.9,2811.2 L1068.9,2811.3 L1072.0,2811.4 L1075.1,2811.5 L1078.1,2811.5 L1081.2,2811.5 L1084.3,2811.3 L1087.3,2810.9 L1090.4,2810.4 L1093.4,2809.8 L1096.5,2809.0 L1099.6,2808.2 L1102.6,2807.3 L1105.7,2806.3 L1108.7,2805.3 L1111.8,2804.3 L1114.9,2803.2 L1117.9,2802.0 L1121.0,2800.5 L1124.1,2798.7 L1127.1,2796.7 L1130.2,2794.7 L1133.2,2792.7 L1136.3,2790.7 L1139.4,2788.9 L1142.4,2787.3 L1145.5,2785.9 L1148.5,2784.6 L1151.6,2783.3 L1154.7,2782.1 L1157.7,2780.9 L1160.8,2779.7 L1163.8,2778.6 L1166.9,2777.6 L1170.0,2776.6 L1173.0,2775.6 L1176.1,2774.6 L1179.2,2773.7 L1182.2,2772.9 L1185.3,2772.1 L1188.3,2771.3 L1191.4,2770.5 L1194.5,2769.8 L1197.5,2769.1 L1200.6,2768.4 L1203.6,2767.7 L1206.7,2767.1 L1209.8,2766.5 L1212.8,2765.9 L1215.9,2765.3 L1219.0,2764.7 L1222.0,2764.1 L1225.1,2763.5 L1228.1,2763.0 L1231.2,2762.4 L1234.3,2761.8 L1237.3,2761.3 L1240.4,2760.7 L1243.4,2760.1 L1246.5,2759.5 L1249.6,2758.9 L1252.6,2758.2 L1255.7,2757.6 L1258.7,2756.9 L1261.8,2756.2 L1264.9,2755.5 L1267.9,2754.8 L1271.0,2754.0 L1274.1,2753.2 L1277.1,2752.3 L1280.2,2751.4 L1283.2,2750.5 L1286.3,2749.6 L1289.4,2748.7 L1292.4,2747.7 L1295.5,2746.8 L1298.5,2745.9 L1301.6,2745.0 L1304.7,2744.2 L1307.7,2743.4 L1310.8,2742.6 L1313.9,2741.9 L1316.9,2741.1 L1320.0,2740.4 L1323.0,2739.6 L1326.1,2738.9 L1329.2,2738.2 L1332.2,2737.5 L1335.3,2736.8 L1338.3,2736.1 L1341.4,2735.4 L1344.5,2734.7 L1347.5,2734.0 L1350.6,2733.3 L1353.6,2732.5 L1356.7,2731.8 L1359.8,2731.0 L1362.8,2730.2 L1365.9,2729.4 L1369.0,2728.6 L1372.0,2727.8 L1375.1,2727.0 L1378.1,2726.1 L1381.2,2725.3 L1384.3,2724.4 L1387.3,2723.5 L1390.4,2722.6 L1393.4,2721.8 L1396.5,2720.9 L1399.6,2720.0 L1402.6,2719.1 L1405.7,2718.2 L1408.8,2717.3 L1411.8,2716.3 L1414.9,2715.4 L1417.9,2714.5 L1421.0,2713.6 L1424.1,2712.7 L1427.1,2711.8 L1430.2,2710.9 L1433.2,2710.0 L1436.3,2709.1 L1439.4,2708.2 L1442.4,2707.3 L1445.5,2706.4 L1448.6,2705.6 L1451.6,2704.7 L1454.7,2703.8 L1457.7,2703.0 L1460.8,2702.1 L1463.9,2701.3 L1466.9,2700.4 L1470.0,2699.6 L1473.0,2698.7 L1476.1,2697.9 L1479.2,2697.1 L1482.2,2696.2 L1485.3,2695.4 L1488.3,2694.5 L1491.4,2693.7 L1494.5,2692.9 L1497.5,2692.0 L1500.6,2691.2 L1503.7,2690.3 L1506.7,2689.5 L1509.8,2688.7 L1512.8,2687.8 L1515.9,2687.0 L1519.0,2686.1 L1522.0,2685.2 L1525.1,2684.4 L1528.1,2683.5 L1531.2,2682.6 L1534.3,2681.8 L1537.3,2680.9 L1540.4,2680.0 L1543.5,2679.1 L1546.5,2678.2 L1549.6,2677.3 L1552.6,2676.4 L1555.7,2675.5 L1558.8,2674.5 L1561.8,2673.6 L1564.9,2672.7 L1567.9,2671.8 L1571.0,2670.8 L1574.1,2669.9 L1577.1,2669.0 L1580.2,2668.0 L1583.2,2667.1 L1586.3,2666.1 L1589.4,2665.2 L1592.4,2664.2 L1595.5,2663.2 L1598.6,2662.3 L1601.6,2661.3 L1604.7,2660.3 L1607.7,2659.4 L1610.8,2658.4 L1613.9,2657.4 L1616.9,2656.5 L1620.0,2655.5 L1623.0,2654.5 L1626.1,2653.5 L1629.2,2652.5 L1632.2,2651.5 L1635.3,2650.6 L1638.4,2649.6 L1641.4,2648.6 L1644.5,2647.6 L1647.5,2646.6 L1650.6,2645.7 L1653.7,2644.7 L1656.7,2643.7 L1659.8,2642.7 L1662.8,2641.8 L1665.9,2640.8 L1669.0,2639.8 L1672.0,2638.8 L1675.1,2637.8 L1678.1,2636.8 L1681.2,2635.8 L1684.3,2634.8 L1687.3,2633.8 L1690.4,2632.8 L1693.5,2631.8 L1696.5,2630.8 L1699.6,2629.8 L1702.6,2628.7 L1705.7,2627.7 L1708.8,2626.7 L1711.8,2625.6 L1714.9,2624.6 L1717.9,2623.5 L1721.0,2622.4 L1724.1,2621.3 L1727.1,2620.2 L1730.2,2619.1 L1733.3,2618.0 L1736.3,2616.9 L1739.4,2615.8 L1742.4,2614.6 L1745.5,2613.5 L1748.6,2612.3 L1751.6,2611.1 L1754.7,2609.9 L1757.7,2608.7 L1760.8,2607.4 L1763.9,2606.1 L1766.9,2604.9 L1770.0,2603.6 L1773.1,2602.3 L1776.1,2601.0 L1779.2,2599.6 L1782.2,2598.3 L1785.3,2597.0 L1788.4,2595.6 L1791.4,2594.3 L1794.5,2592.9 L1797.5,2591.5 L1800.6,2590.2 L1803.7,2588.8 L1806.7,2587.4 L1809.8,2586.0 L1812.8,2584.7 L1815.9,2583.3 L1819.0,2581.9 L1822.0,2580.5 L1825.1,2579.2 L1828.2,2577.8 L1831.2,2576.5 L1834.3,2575.1 L1837.3,2573.8 L1840.4,2572.5" fill="none" stroke="#000" stroke-width="6.2" stroke-linecap="round" stroke-linejoin="round" stroke-dasharray="34.5 19.5 0 20 0 21.4"/>
<line x1="270.0" y1="3336.6" x2="270.0" y2="4177.3" stroke="#878787" stroke-width="3.7" stroke-linecap="butt"/>
<line x1="268.2" y1="4175.5" x2="1841.9" y2="4175.5" stroke="#878787" stroke-width="3.7" stroke-linecap="butt"/>
<line x1="270.0" y1="4175.5" x2="283.0" y2="4175.5" stroke="#878787" stroke-width="2.7" stroke-linecap="butt"/>
<line x1="270.0" y1="4091.8" x2="283.0" y2="4091.8" stroke="#878787" stroke-width="2.7" stroke-linecap="butt"/>
<line x1="270.0" y1="4008.0" x2="283.0" y2="4008.0" stroke="#878787" stroke-width="2.7" stroke-linecap="butt"/>
<line x1="270.0" y1="3924.2" x2="283.0" y2="3924.2" stroke="#878787" stroke-width="2.7" stroke-linecap="butt"/>
<line x1="270.0" y1="3840.5" x2="283.0" y2="3840.5" stroke="#878787" stroke-width="2.7" stroke-linecap="butt"/>
<line x1="270.0" y1="3756.8" x2="283.0" y2="3756.8" stroke="#878787" stroke-width="2.7" stroke-linecap="butt"/>
<line x1="270.0" y1="3673.0" x2="283.0" y2="3673.0" stroke="#878787" stroke-width="2.7" stroke-linecap="butt"/>
<line x1="270.0" y1="3589.2" x2="283.0" y2="3589.2" stroke="#878787" stroke-width="2.7" stroke-linecap="butt"/>
<line x1="270.0" y1="3505.5" x2="283.0" y2="3505.5" stroke="#878787" stroke-width="2.7" stroke-linecap="butt"/>
<line x1="270.0" y1="3421.8" x2="283.0" y2="3421.8" stroke="#878787" stroke-width="2.7" stroke-linecap="butt"/>
<line x1="270.0" y1="3338.0" x2="283.0" y2="3338.0" stroke="#878787" stroke-width="2.7" stroke-linecap="butt"/>
<line x1="427.0" y1="4175.5" x2="427.0" y2="4163.0" stroke="#878787" stroke-width="2.7" stroke-linecap="butt"/>
<line x1="584.1" y1="4175.5" x2="584.1" y2="4163.0" stroke="#878787" stroke-width="2.7" stroke-linecap="butt"/>
<line x1="741.1" y1="4175.5" x2="741.1" y2="4163.0" stroke="#878787" stroke-width="2.7" stroke-linecap="butt"/>
<line x1="898.2" y1="4175.5" x2="898.2" y2="4163.0" stroke="#878787" stroke-width="2.7" stroke-linecap="butt"/>
<line x1="1055.2" y1="4175.5" x2="1055.2" y2="4163.0" stroke="#878787" stroke-width="2.7" stroke-linecap="butt"/>
<line x1="1212.2" y1="4175.5" x2="1212.2" y2="4163.0" stroke="#878787" stroke-width="2.7" stroke-linecap="butt"/>
<line x1="1369.3" y1="4175.5" x2="1369.3" y2="4163.0" stroke="#878787" stroke-width="2.7" stroke-linecap="butt"/>
<line x1="1526.3" y1="4175.5" x2="1526.3" y2="4163.0" stroke="#878787" stroke-width="2.7" stroke-linecap="butt"/>
<line x1="1683.4" y1="4175.5" x2="1683.4" y2="4163.0" stroke="#878787" stroke-width="2.7" stroke-linecap="butt"/>
<line x1="1840.4" y1="4175.5" x2="1840.4" y2="4163.0" stroke="#878787" stroke-width="2.7" stroke-linecap="butt"/>
<text x="206.9" y="4191.7" font-size="47.5">0</text>
<text x="180.6" y="4107.9" font-size="47.5">20</text>
<text x="180.6" y="4024.2" font-size="47.5">40</text>
<text x="180.6" y="3940.4" font-size="47.5">60</text>
<text x="180.6" y="3856.7" font-size="47.5">80</text>
<text x="154.2" y="3772.9" font-size="47.5">100</text>
<text x="154.2" y="3689.2" font-size="47.5">120</text>
<text x="154.2" y="3605.4" font-size="47.5">140</text>
<text x="154.2" y="3521.7" font-size="47.5">160</text>
<text x="154.2" y="3437.9" font-size="47.5">180</text>
<text x="154.2" y="3354.2" font-size="47.5">200</text>
<text x="100.1" y="3916.1" font-size="67.5" textLength="239.7" lengthAdjust="spacingAndGlyphs" transform="rotate(-90 100.1 3916.1)">Cost [K]</text>
<text x="272.0" y="4250.5" font-size="47.5" text-anchor="middle">0</text>
<text x="429.0" y="4250.5" font-size="47.5" text-anchor="middle">1</text>
<text x="586.1" y="4250.5" font-size="47.5" text-anchor="middle">2</text>
<text x="743.1" y="4250.5" font-size="47.5" text-anchor="middle">3</text>
<text x="900.2" y="4250.5" font-size="47.5" text-anchor="middle">4</text>
<text x="1057.2" y="4250.5" font-size="47.5" text-anchor="middle">5</text>
<text x="1214.2" y="4250.5" font-size="47.5" text-anchor="middle">6</text>
<text x="1371.3" y="4250.5" font-size="47.5" text-anchor="middle">7</text>
<text x="1528.3" y="4250.5" font-size="47.5" text-anchor="middle">8</text>
<text x="1685.4" y="4250.5" font-size="47.5" text-anchor="middle">9</text>
<text x="1842.4" y="4250.5" font-size="47.5" text-anchor="middle">10</text>
<rect x="721.0" y="4257.3" width="46.0" height="4.6" fill="#000"/>
<text x="754.9" y="4355.6" font-size="67.5" textLength="706.7" lengthAdjust="spacingAndGlyphs">Snow water content [%]</text>
<text x="363.4" y="3411.1" font-size="40.5" textLength="182.7" lengthAdjust="spacing">Z1: 0.95m</text>
<text x="656.2" y="3411.1" font-size="40.5" textLength="180.5" lengthAdjust="spacing">Z2: 0.05m</text>
<text x="361.4" y="3457.2" font-size="40.5" textLength="215.9" lengthAdjust="spacing">R1: 0.85mm</text>
<text x="655.1" y="3457.2" font-size="40.5" textLength="208.6" lengthAdjust="spacing">R2:2.95mm</text>
<text x="361.4" y="3503.9" font-size="40.5" textLength="251.5" lengthAdjust="spacing">D1: 0.10 g/cm</text>
<text x="611.8" y="3492.0" font-size="27.7">3</text>
<text x="659.6" y="3503.9" font-size="40.5" textLength="251.3" lengthAdjust="spacing">D2: 0.20 g/cm</text>
<text x="909.9" y="3492.0" font-size="27.7">3</text>
<text x="320.2" y="4109.0" font-size="115" font-family="'Liberation Serif', 'Times New Roman', serif" textLength="138.6" lengthAdjust="spacingAndGlyphs">(d)</text>
<text x="1952.2" y="3341.0" font-size="45" textLength="212.3" lengthAdjust="spacingAndGlyphs">Emissivity</text>
<text x="1953.8" y="3392.0" font-size="45" textLength="300.1" lengthAdjust="spacingAndGlyphs">from ice sheet</text>
<line x1="1985.3" y1="3458.5" x2="2019.4" y2="3458.5" stroke="#000" stroke-width="6.6" stroke-linecap="round"/>
<circle cx="2039.7" cy="3458.5" r="3.10"/>
<circle cx="2059.9" cy="3458.5" r="3.10"/>
<text x="2081.9" y="3474.9" font-size="46" textLength="91.5" lengthAdjust="spacingAndGlyphs">0.60</text>
<line x1="1985.3" y1="3530.1" x2="2019.4" y2="3530.1" stroke="#000" stroke-width="6.6" stroke-linecap="round"/>
<circle cx="2039.7" cy="3530.1" r="3.10"/>
<line x1="2060.1" y1="3530.1" x2="2069.9" y2="3530.1" stroke="#000" stroke-width="6.6" stroke-linecap="round"/>
<text x="2081.9" y="3546.5" font-size="46" textLength="91.5" lengthAdjust="spacingAndGlyphs">0.65</text>
<line x1="1985.1" y1="3601.7" x2="2070.1" y2="3601.7" stroke="#000" stroke-width="6.0" stroke-linecap="round"/>
<text x="2081.9" y="3618.1" font-size="46" textLength="91.5" lengthAdjust="spacingAndGlyphs">0.70</text>
<line x1="1985.3" y1="3673.3" x2="1999.7" y2="3673.3" stroke="#000" stroke-width="6.6" stroke-linecap="round"/>
<line x1="2020.3" y1="3673.3" x2="2034.4" y2="3673.3" stroke="#000" stroke-width="6.6" stroke-linecap="round"/>
<line x1="2055.0" y1="3673.3" x2="2069.9" y2="3673.3" stroke="#000" stroke-width="6.6" stroke-linecap="round"/>
<text x="2081.9" y="3689.7" font-size="46" textLength="91.5" lengthAdjust="spacingAndGlyphs">0.75</text>
<line x1="1985.3" y1="3744.9" x2="1994.5" y2="3744.9" stroke="#000" stroke-width="6.8" stroke-linecap="round"/>
<line x1="2005.5" y1="3744.9" x2="2014.1" y2="3744.9" stroke="#000" stroke-width="6.8" stroke-linecap="round"/>
<line x1="2025.5" y1="3744.9" x2="2033.9" y2="3744.9" stroke="#000" stroke-width="6.8" stroke-linecap="round"/>
<line x1="2045.1" y1="3744.9" x2="2053.5" y2="3744.9" stroke="#000" stroke-width="6.8" stroke-linecap="round"/>
<line x1="2065.6" y1="3744.9" x2="2069.9" y2="3744.9" stroke="#000" stroke-width="6.8" stroke-linecap="round"/>
<text x="2081.9" y="3761.3" font-size="46" textLength="91.5" lengthAdjust="spacingAndGlyphs">0.80</text>
<line x1="1982.1" y1="3816.5" x2="2001.8" y2="3816.5" stroke="#000" stroke-width="3.3" stroke-linecap="butt"/>
<line x1="2010.0" y1="3816.5" x2="2013.2" y2="3816.5" stroke="#000" stroke-width="3.3" stroke-linecap="butt"/>
<line x1="2020.0" y1="3816.5" x2="2023.2" y2="3816.5" stroke="#000" stroke-width="3.3" stroke-linecap="butt"/>
<line x1="2030.6" y1="3816.5" x2="2051.1" y2="3816.5" stroke="#000" stroke-width="3.3" stroke-linecap="butt"/>
<line x1="2058.0" y1="3816.5" x2="2061.2" y2="3816.5" stroke="#000" stroke-width="3.3" stroke-linecap="butt"/>
<text x="2081.9" y="3832.9" font-size="46" textLength="91.5" lengthAdjust="spacingAndGlyphs">0.85</text>
<line x1="1982.1" y1="3888.1" x2="1998.6" y2="3888.1" stroke="#000" stroke-width="3.3" stroke-linecap="butt"/>
<line x1="2019.6" y1="3888.1" x2="2039.1" y2="3888.1" stroke="#000" stroke-width="3.3" stroke-linecap="butt"/>
<line x1="2060.1" y1="3888.1" x2="2069.1" y2="3888.1" stroke="#000" stroke-width="3.3" stroke-linecap="butt"/>
<line x1="2009.0" y1="3888.1" x2="2012.2" y2="3888.1" stroke="#000" stroke-width="3.3" stroke-linecap="butt"/>
<line x1="2048.5" y1="3888.1" x2="2051.7" y2="3888.1" stroke="#000" stroke-width="3.3" stroke-linecap="butt"/>
<text x="2081.9" y="3904.5" font-size="46" textLength="91.5" lengthAdjust="spacingAndGlyphs">0.90</text>
<line x1="1986.6" y1="3959.7" x2="2067.5" y2="3959.7" stroke="#000" stroke-width="15.1" stroke-linecap="round"/>
<text x="2081.9" y="3976.1" font-size="46" textLength="91.5" lengthAdjust="spacingAndGlyphs">0.95</text>
<rect x="2084.3" y="3987.0" width="87.7" height="5.4" fill="#000"/>
<line x1="1982.1" y1="4031.3" x2="1998.5" y2="4031.3" stroke="#000" stroke-width="3.3" stroke-linecap="butt"/>
<line x1="2009.1" y1="4031.3" x2="2028.8" y2="4031.3" stroke="#000" stroke-width="3.3" stroke-linecap="butt"/>
<line x1="2036.2" y1="4031.3" x2="2056.7" y2="4031.3" stroke="#000" stroke-width="3.3" stroke-linecap="butt"/>
<line x1="2063.6" y1="4031.3" x2="2070.1" y2="4031.3" stroke="#000" stroke-width="3.3" stroke-linecap="butt"/>
<text x="2080.2" y="4047.7" font-size="46" textLength="93.3" lengthAdjust="spacingAndGlyphs">1.00</text>
<line x1="1982.1" y1="4102.9" x2="2064.6" y2="4102.9" stroke="#000" stroke-width="2.6" stroke-dasharray="2.3 2.2"/>
<text x="2080.2" y="4119.3" font-size="46" textLength="93.3" lengthAdjust="spacingAndGlyphs">1.05</text>
<path d="M270.0,3762.2 L273.1,3764.3 L276.3,3766.3 L279.4,3768.3 L282.6,3770.3 L285.7,3772.3 L288.9,3774.3 L292.0,3776.3 L295.2,3778.3 L298.3,3780.3 L301.5,3782.3 L304.6,3784.3 L307.8,3786.3 L310.9,3788.3 L314.1,3790.4 L317.2,3792.4 L320.4,3794.5 L323.5,3796.6 L326.6,3798.7 L329.8,3800.9 L332.9,3803.0 L336.1,3805.2 L339.2,3807.5 L342.4,3809.8 L345.5,3812.1 L348.7,3814.4 L351.8,3816.8 L355.0,3819.3 L358.1,3821.7 L361.3,3824.2 L364.4,3826.7 L367.6,3829.3 L370.7,3831.9 L373.9,3834.5 L377.0,3837.1 L380.1,3839.7 L383.3,3842.4 L386.4,3845.1 L389.6,3847.8 L392.7,3850.5 L395.9,3853.2 L399.0,3855.9 L402.2,3858.7 L405.3,3861.4 L408.5,3864.2 L411.6,3867.0 L414.8,3869.7 L417.9,3872.5 L421.1,3875.3 L424.2,3878.0 L427.4,3880.8 L430.5,3883.6 L433.6,3886.4 L436.8,3889.2 L439.9,3892.1 L443.1,3894.9 L446.2,3897.8 L449.4,3900.7 L452.5,3903.6 L455.7,3906.5 L458.8,3909.4 L462.0,3912.3 L465.1,3915.2 L468.3,3918.2 L471.4,3921.1 L474.6,3924.1 L477.7,3927.1 L480.9,3930.0 L484.0,3933.0 L487.1,3936.0 L490.3,3939.0 L493.4,3942.0 L496.6,3945.0 L499.7,3948.0 L502.9,3951.0 L506.0,3954.0 L509.2,3957.0 L512.3,3960.1 L515.5,3963.1 L518.6,3966.1 L521.8,3969.1 L524.9,3972.2 L528.1,3975.2 L531.2,3978.3 L534.4,3981.4 L537.5,3984.4 L540.7,3987.5 L543.8,3990.6 L546.9,3993.7 L550.1,3996.8 L553.2,3999.9 L556.4,4003.1 L559.5,4006.2 L562.7,4009.3 L565.8,4012.5 L569.0,4015.7 L572.1,4018.8 L575.3,4022.0 L578.4,4025.2 L581.6,4028.5 L584.7,4031.7 L587.9,4035.0 L591.0,4038.3 L594.2,4041.7 L597.3,4045.1 L600.4,4048.6 L603.6,4052.1 L606.7,4055.6 L609.9,4059.1 L613.0,4062.7 L616.2,4066.2 L619.3,4069.8 L622.5,4073.3 L625.6,4076.8 L628.8,4080.4 L631.9,4083.8 L635.1,4087.3 L638.2,4090.7 L641.4,4094.0 L644.5,4097.3 L647.7,4100.5 L650.8,4103.7 L653.9,4106.8 L657.1,4109.8 L660.2,4112.7 L663.4,4115.5 L666.5,4118.3 L669.7,4121.1 L672.8,4124.0 L676.0,4126.8 L679.1,4129.6 L682.3,4132.3 L685.4,4135.0 L688.6,4137.6 L691.7,4140.1 L694.9,4142.4 L698.0,4144.6 L701.2,4146.6 L704.3,4148.5 L707.4,4150.2 L710.6,4151.6 L713.7,4153.0 L716.9,4154.4 L720.0,4155.8 L723.2,4157.1 L726.3,4158.3 L729.5,4159.3 L732.6,4160.2 L735.8,4160.8 L738.9,4161.2 L742.1,4161.2 L745.2,4161.0 L748.4,4160.5 L751.5,4159.8 L754.7,4158.8 L757.8,4157.7 L760.9,4156.5 L764.1,4155.1 L767.2,4153.7 L770.4,4152.2 L773.5,4150.7 L776.7,4148.9 L779.8,4146.7 L783.0,4144.1 L786.1,4141.3 L789.3,4138.3 L792.4,4135.2 L795.6,4132.0 L798.7,4128.8 L801.9,4125.6 L805.0,4122.5 L808.2,4119.4 L811.3,4116.2 L814.4,4113.0 L817.6,4109.6 L820.7,4106.2 L823.9,4102.7 L827.0,4099.2 L830.2,4095.6 L833.3,4092.0 L836.5,4088.4 L839.6,4084.7 L842.8,4081.0 L845.9,4077.3 L849.1,4073.5 L852.2,4069.8 L855.4,4066.1 L858.5,4062.4 L861.7,4058.6 L864.8,4055.0 L867.9,4051.3 L871.1,4047.7 L874.2,4044.1 L877.4,4040.5 L880.5,4037.0 L883.7,4033.6 L886.8,4030.2 L890.0,4026.9 L893.1,4023.7 L896.3,4020.6 L899.4,4017.5 L902.6,4014.5 L905.7,4011.6 L908.9,4008.6 L912.0,4005.8 L915.2,4002.9 L918.3,4000.1 L921.4,3997.2 L924.6,3994.5 L927.7,3991.7 L930.9,3989.0 L934.0,3986.2 L937.2,3983.5 L940.3,3980.9 L943.5,3978.2 L946.6,3975.6 L949.8,3973.0 L952.9,3970.4 L956.1,3967.8 L959.2,3965.3 L962.4,3962.7 L965.5,3960.2 L968.7,3957.7 L971.8,3955.2 L974.9,3952.7 L978.1,3950.2 L981.2,3947.7 L984.4,3945.2 L987.5,3942.8 L990.7,3940.3 L993.8,3937.9 L997.0,3935.5 L1000.1,3933.0 L1003.3,3930.6 L1006.4,3928.2 L1009.6,3925.8 L1012.7,3923.3 L1015.9,3920.9 L1019.0,3918.5 L1022.2,3916.1 L1025.3,3913.6 L1028.4,3911.2 L1031.6,3908.8 L1034.7,3906.3 L1037.9,3903.9 L1041.0,3901.5 L1044.2,3899.0 L1047.3,3896.5 L1050.5,3894.1 L1053.6,3891.6 L1056.8,3889.1 L1059.9,3886.6 L1063.1,3884.1 L1066.2,3881.6 L1069.4,3879.1 L1072.5,3876.7 L1075.7,3874.2 L1078.8,3871.7 L1082.0,3869.2 L1085.1,3866.8 L1088.2,3864.3 L1091.4,3861.9 L1094.5,3859.4 L1097.7,3857.0 L1100.8,3854.5 L1104.0,3852.1 L1107.1,3849.6 L1110.3,3847.2 L1113.4,3844.7 L1116.6,3842.3 L1119.7,3839.9 L1122.9,3837.4 L1126.0,3835.0 L1129.2,3832.6 L1132.3,3830.2 L1135.5,3827.7 L1138.6,3825.3 L1141.7,3822.9 L1144.9,3820.5 L1148.0,3818.1 L1151.2,3815.7 L1154.3,3813.3 L1157.5,3810.9 L1160.6,3808.5 L1163.8,3806.1 L1166.9,3803.7 L1170.1,3801.3 L1173.2,3798.9 L1176.4,3796.5 L1179.5,3794.1 L1182.7,3791.7 L1185.8,3789.3 L1189.0,3786.9 L1192.1,3784.5 L1195.2,3782.2 L1198.4,3779.8 L1201.5,3777.4 L1204.7,3775.0 L1207.8,3772.6 L1211.0,3770.3 L1214.1,3767.9 L1217.3,3765.5 L1220.4,3763.1 L1223.6,3760.8 L1226.7,3758.4 L1229.9,3756.0 L1233.0,3753.7 L1236.2,3751.3 L1239.3,3749.0 L1242.5,3746.6 L1245.6,3744.2 L1248.7,3741.9 L1251.9,3739.5 L1255.0,3737.2 L1258.2,3734.8 L1261.3,3732.5 L1264.5,3730.1 L1267.6,3727.8 L1270.8,3725.5 L1273.9,3723.1 L1277.1,3720.8 L1280.2,3718.4 L1283.4,3716.1 L1286.5,3713.8 L1289.7,3711.4 L1292.8,3709.1 L1296.0,3706.8 L1299.1,3704.5 L1302.2,3702.2 L1305.4,3699.8 L1308.5,3697.5 L1311.7,3695.2 L1314.8,3692.9 L1318.0,3690.6 L1321.1,3688.3 L1324.3,3686.0 L1327.4,3683.7 L1330.6,3681.4 L1333.7,3679.1 L1336.9,3676.8 L1340.0,3674.5 L1343.2,3672.2 L1346.3,3669.9 L1349.5,3667.6 L1352.6,3665.4 L1355.7,3663.1 L1358.9,3660.8 L1362.0,3658.5 L1365.2,3656.3 L1368.3,3654.0 L1371.5,3651.7 L1374.6,3649.5 L1377.8,3647.2 L1380.9,3644.9 L1384.1,3642.7 L1387.2,3640.4 L1390.4,3638.1 L1393.5,3635.8 L1396.7,3633.6 L1399.8,3631.3 L1403.0,3629.0 L1406.1,3626.7 L1409.2,3624.5 L1412.4,3622.2 L1415.5,3619.9 L1418.7,3617.7 L1421.8,3615.4 L1425.0,3613.1 L1428.1,3610.9 L1431.3,3608.6 L1434.4,3606.4 L1437.6,3604.1 L1440.7,3601.9 L1443.9,3599.6 L1447.0,3597.4 L1450.2,3595.1 L1453.3,3592.9 L1456.5,3590.7 L1459.6,3588.5 L1462.7,3586.3 L1465.9,3584.1 L1469.0,3581.9 L1472.2,3579.7 L1475.3,3577.5 L1478.5,3575.3 L1481.6,3573.1 L1484.8,3570.9 L1487.9,3568.8 L1491.1,3566.6 L1494.2,3564.5 L1497.4,3562.4 L1500.5,3560.2 L1503.7,3558.1 L1506.8,3556.0 L1510.0,3553.9 L1513.1,3551.8 L1516.2,3549.8 L1519.4,3547.7 L1522.5,3545.6 L1525.7,3543.6 L1528.8,3541.6 L1532.0,3539.5 L1535.1,3537.5 L1538.3,3535.5 L1541.4,3533.5 L1544.6,3531.5 L1547.7,3529.5 L1550.9,3527.6 L1554.0,3525.6 L1557.2,3523.6 L1560.3,3521.7 L1563.5,3519.7 L1566.6,3517.8 L1569.7,3515.8 L1572.9,3513.9 L1576.0,3512.0 L1579.2,3510.1 L1582.3,3508.2 L1585.5,3506.2 L1588.6,3504.3 L1591.8,3502.5 L1594.9,3500.6 L1598.1,3498.7 L1601.2,3496.8 L1604.4,3494.9 L1607.5,3493.1 L1610.7,3491.2 L1613.8,3489.3 L1617.0,3487.5 L1620.1,3485.6 L1623.3,3483.8 L1626.4,3481.9 L1629.5,3480.1 L1632.7,3478.2 L1635.8,3476.4 L1639.0,3474.6 L1642.1,3472.7 L1645.3,3470.9 L1648.4,3469.1 L1651.6,3467.3 L1654.7,3465.4 L1657.9,3463.6 L1661.0,3461.8 L1664.2,3460.0 L1667.3,3458.2 L1670.5,3456.4 L1673.6,3454.6 L1676.8,3452.8 L1679.9,3451.0 L1683.0,3449.1 L1686.2,3447.3 L1689.3,3445.6 L1692.5,3443.8 L1695.6,3442.0 L1698.8,3440.2 L1701.9,3438.4 L1705.1,3436.7 L1708.2,3434.9 L1711.4,3433.1 L1714.5,3431.4 L1717.7,3429.6 L1720.8,3427.9 L1724.0,3426.1 L1727.1,3424.4 L1730.3,3422.7 L1733.4,3420.9 L1736.5,3419.2 L1739.7,3417.5 L1742.8,3415.7 L1746.0,3414.0 L1749.1,3412.3 L1752.3,3410.6 L1755.4,3408.9 L1758.6,3407.2 L1761.7,3405.4 L1764.9,3403.7 L1768.0,3402.0 L1771.2,3400.3 L1774.3,3398.6 L1777.5,3396.9 L1780.6,3395.2 L1783.8,3393.5 L1786.9,3391.8 L1790.0,3390.1 L1793.2,3388.4 L1796.3,3386.7 L1799.5,3385.0 L1802.6,3383.3 L1805.8,3381.6 L1808.9,3379.9 L1812.1,3378.2 L1815.2,3376.5 L1818.4,3374.7 L1821.5,3373.0 L1824.7,3371.3 L1827.8,3369.6 L1831.0,3367.9 L1834.1,3366.2 L1837.3,3364.4 L1840.4,3362.7" fill="none" stroke="#000" stroke-width="2.8" stroke-linecap="butt" stroke-linejoin="round" stroke-dasharray="2.6 2.4"/>
<path d="M270.0,3771.4 L273.1,3773.5 L276.3,3775.6 L279.4,3777.7 L282.6,3779.8 L285.7,3781.8 L288.9,3783.9 L292.0,3786.0 L295.2,3788.0 L298.3,3790.1 L301.5,3792.2 L304.6,3794.3 L307.8,3796.3 L310.9,3798.4 L314.1,3800.5 L317.2,3802.6 L320.4,3804.7 L323.5,3806.8 L326.6,3808.9 L329.8,3811.0 L332.9,3813.1 L336.1,3815.2 L339.2,3817.4 L342.4,3819.5 L345.5,3821.7 L348.7,3823.9 L351.8,3826.0 L355.0,3828.2 L358.1,3830.4 L361.3,3832.5 L364.4,3834.7 L367.6,3836.8 L370.7,3839.0 L373.9,3841.2 L377.0,3843.3 L380.1,3845.5 L383.3,3847.7 L386.4,3849.9 L389.6,3852.1 L392.7,3854.3 L395.9,3856.6 L399.0,3858.9 L402.2,3861.2 L405.3,3863.5 L408.5,3865.8 L411.6,3868.2 L414.8,3870.6 L417.9,3873.0 L421.1,3875.5 L424.2,3878.0 L427.4,3880.5 L430.5,3883.1 L433.6,3885.8 L436.8,3888.4 L439.9,3891.2 L443.1,3894.0 L446.2,3896.8 L449.4,3899.6 L452.5,3902.5 L455.7,3905.4 L458.8,3908.4 L462.0,3911.3 L465.1,3914.3 L468.3,3917.3 L471.4,3920.4 L474.6,3923.4 L477.7,3926.5 L480.9,3929.5 L484.0,3932.6 L487.1,3935.7 L490.3,3938.8 L493.4,3941.8 L496.6,3944.9 L499.7,3948.0 L502.9,3951.0 L506.0,3954.0 L509.2,3957.1 L512.3,3960.1 L515.5,3963.1 L518.6,3966.0 L521.8,3969.0 L524.9,3972.0 L528.1,3974.9 L531.2,3977.9 L534.4,3980.9 L537.5,3983.8 L540.7,3986.8 L543.8,3989.8 L546.9,3992.8 L550.1,3995.8 L553.2,3998.8 L556.4,4001.8 L559.5,4004.8 L562.7,4007.8 L565.8,4010.9 L569.0,4013.9 L572.1,4017.0 L575.3,4020.1 L578.4,4023.3 L581.6,4026.4 L584.7,4029.6 L587.9,4032.8 L591.0,4036.1 L594.2,4039.4 L597.3,4042.7 L600.4,4046.1 L603.6,4049.5 L606.7,4052.9 L609.9,4056.4 L613.0,4059.9 L616.2,4063.3 L619.3,4066.8 L622.5,4070.3 L625.6,4073.8 L628.8,4077.3 L631.9,4080.7 L635.1,4084.2 L638.2,4087.6 L641.4,4091.0 L644.5,4094.3 L647.7,4097.6 L650.8,4100.9 L653.9,4104.1 L657.1,4107.3 L660.2,4110.4 L663.4,4113.4 L666.5,4116.6 L669.7,4119.7 L672.8,4123.0 L676.0,4126.3 L679.1,4129.5 L682.3,4132.7 L685.4,4135.9 L688.6,4138.9 L691.7,4141.8 L694.9,4144.6 L698.0,4147.2 L701.2,4149.5 L704.3,4151.6 L707.4,4153.4 L710.6,4155.0 L713.7,4156.4 L716.9,4157.8 L720.0,4159.2 L723.2,4160.5 L726.3,4161.7 L729.5,4162.7 L732.6,4163.6 L735.8,4164.2 L738.9,4164.5 L742.1,4164.6 L745.2,4164.4 L748.4,4164.0 L751.5,4163.4 L754.7,4162.6 L757.8,4161.6 L760.9,4160.6 L764.1,4159.5 L767.2,4158.3 L770.4,4157.1 L773.5,4155.8 L776.7,4154.4 L779.8,4152.6 L783.0,4150.6 L786.1,4148.4 L789.3,4146.0 L792.4,4143.5 L795.6,4140.9 L798.7,4138.1 L801.9,4135.4 L805.0,4132.6 L808.2,4129.9 L811.3,4127.1 L814.4,4124.2 L817.6,4121.2 L820.7,4118.1 L823.9,4114.8 L827.0,4111.5 L830.2,4108.1 L833.3,4104.6 L836.5,4101.1 L839.6,4097.4 L842.8,4093.8 L845.9,4090.1 L849.1,4086.4 L852.2,4082.6 L855.4,4078.8 L858.5,4075.1 L861.7,4071.3 L864.8,4067.5 L867.9,4063.8 L871.1,4060.1 L874.2,4056.5 L877.4,4052.9 L880.5,4049.3 L883.7,4045.9 L886.8,4042.5 L890.0,4039.2 L893.1,4035.9 L896.3,4032.8 L899.4,4029.8 L902.6,4026.9 L905.7,4024.0 L908.9,4021.1 L912.0,4018.2 L915.2,4015.3 L918.3,4012.5 L921.4,4009.7 L924.6,4007.0 L927.7,4004.2 L930.9,4001.5 L934.0,3998.8 L937.2,3996.1 L940.3,3993.4 L943.5,3990.8 L946.6,3988.1 L949.8,3985.5 L952.9,3982.9 L956.1,3980.3 L959.2,3977.8 L962.4,3975.2 L965.5,3972.7 L968.7,3970.2 L971.8,3967.7 L974.9,3965.2 L978.1,3962.7 L981.2,3960.2 L984.4,3957.8 L987.5,3955.3 L990.7,3952.9 L993.8,3950.4 L997.0,3948.0 L1000.1,3945.6 L1003.3,3943.2 L1006.4,3940.8 L1009.6,3938.4 L1012.7,3936.0 L1015.9,3933.6 L1019.0,3931.2 L1022.2,3928.8 L1025.3,3926.4 L1028.4,3924.0 L1031.6,3921.7 L1034.7,3919.3 L1037.9,3916.9 L1041.0,3914.5 L1044.2,3912.1 L1047.3,3909.7 L1050.5,3907.3 L1053.6,3904.9 L1056.8,3902.5 L1059.9,3900.1 L1063.1,3897.7 L1066.2,3895.4 L1069.4,3893.0 L1072.5,3890.6 L1075.7,3888.2 L1078.8,3885.9 L1082.0,3883.5 L1085.1,3881.2 L1088.2,3878.8 L1091.4,3876.5 L1094.5,3874.2 L1097.7,3871.8 L1100.8,3869.5 L1104.0,3867.2 L1107.1,3864.9 L1110.3,3862.6 L1113.4,3860.3 L1116.6,3858.0 L1119.7,3855.7 L1122.9,3853.4 L1126.0,3851.1 L1129.2,3848.8 L1132.3,3846.6 L1135.5,3844.3 L1138.6,3842.0 L1141.7,3839.8 L1144.9,3837.5 L1148.0,3835.3 L1151.2,3833.0 L1154.3,3830.8 L1157.5,3828.6 L1160.6,3826.3 L1163.8,3824.1 L1166.9,3821.9 L1170.1,3819.7 L1173.2,3817.4 L1176.4,3815.2 L1179.5,3813.0 L1182.7,3810.8 L1185.8,3808.6 L1189.0,3806.4 L1192.1,3804.2 L1195.2,3802.0 L1198.4,3799.8 L1201.5,3797.7 L1204.7,3795.5 L1207.8,3793.3 L1211.0,3791.1 L1214.1,3788.9 L1217.3,3786.8 L1220.4,3784.6 L1223.6,3782.5 L1226.7,3780.3 L1229.9,3778.2 L1233.0,3776.1 L1236.2,3773.9 L1239.3,3771.8 L1242.5,3769.7 L1245.6,3767.6 L1248.7,3765.5 L1251.9,3763.4 L1255.0,3761.3 L1258.2,3759.2 L1261.3,3757.2 L1264.5,3755.1 L1267.6,3753.0 L1270.8,3750.9 L1273.9,3748.9 L1277.1,3746.8 L1280.2,3744.7 L1283.4,3742.7 L1286.5,3740.6 L1289.7,3738.6 L1292.8,3736.5 L1296.0,3734.5 L1299.1,3732.4 L1302.2,3730.4 L1305.4,3728.3 L1308.5,3726.3 L1311.7,3724.2 L1314.8,3722.2 L1318.0,3720.1 L1321.1,3718.1 L1324.3,3716.0 L1327.4,3714.0 L1330.6,3711.9 L1333.7,3709.8 L1336.9,3707.8 L1340.0,3705.7 L1343.2,3703.7 L1346.3,3701.6 L1349.5,3699.5 L1352.6,3697.5 L1355.7,3695.4 L1358.9,3693.3 L1362.0,3691.2 L1365.2,3689.1 L1368.3,3687.0 L1371.5,3684.9 L1374.6,3682.8 L1377.8,3680.7 L1380.9,3678.6 L1384.1,3676.5 L1387.2,3674.3 L1390.4,3672.2 L1393.5,3670.0 L1396.7,3667.9 L1399.8,3665.7 L1403.0,3663.6 L1406.1,3661.4 L1409.2,3659.3 L1412.4,3657.1 L1415.5,3654.9 L1418.7,3652.8 L1421.8,3650.6 L1425.0,3648.4 L1428.1,3646.2 L1431.3,3644.1 L1434.4,3641.9 L1437.6,3639.7 L1440.7,3637.6 L1443.9,3635.4 L1447.0,3633.2 L1450.2,3631.1 L1453.3,3628.9 L1456.5,3626.8 L1459.6,3624.6 L1462.7,3622.5 L1465.9,3620.3 L1469.0,3618.2 L1472.2,3616.1 L1475.3,3614.0 L1478.5,3611.8 L1481.6,3609.7 L1484.8,3607.6 L1487.9,3605.5 L1491.1,3603.5 L1494.2,3601.4 L1497.4,3599.3 L1500.5,3597.3 L1503.7,3595.2 L1506.8,3593.2 L1510.0,3591.2 L1513.1,3589.2 L1516.2,3587.2 L1519.4,3585.2 L1522.5,3583.2 L1525.7,3581.3 L1528.8,3579.3 L1532.0,3577.4 L1535.1,3575.5 L1538.3,3573.5 L1541.4,3571.6 L1544.6,3569.7 L1547.7,3567.8 L1550.9,3565.9 L1554.0,3564.1 L1557.2,3562.2 L1560.3,3560.3 L1563.5,3558.5 L1566.6,3556.6 L1569.7,3554.8 L1572.9,3552.9 L1576.0,3551.1 L1579.2,3549.2 L1582.3,3547.4 L1585.5,3545.6 L1588.6,3543.8 L1591.8,3542.0 L1594.9,3540.2 L1598.1,3538.4 L1601.2,3536.6 L1604.4,3534.8 L1607.5,3533.0 L1610.7,3531.2 L1613.8,3529.5 L1617.0,3527.7 L1620.1,3525.9 L1623.3,3524.2 L1626.4,3522.4 L1629.5,3520.6 L1632.7,3518.9 L1635.8,3517.1 L1639.0,3515.4 L1642.1,3513.6 L1645.3,3511.9 L1648.4,3510.1 L1651.6,3508.4 L1654.7,3506.6 L1657.9,3504.9 L1661.0,3503.2 L1664.2,3501.4 L1667.3,3499.7 L1670.5,3498.0 L1673.6,3496.2 L1676.8,3494.5 L1679.9,3492.8 L1683.0,3491.0 L1686.2,3489.3 L1689.3,3487.6 L1692.5,3485.8 L1695.6,3484.1 L1698.8,3482.4 L1701.9,3480.7 L1705.1,3479.0 L1708.2,3477.3 L1711.4,3475.6 L1714.5,3473.9 L1717.7,3472.2 L1720.8,3470.5 L1724.0,3468.8 L1727.1,3467.2 L1730.3,3465.5 L1733.4,3463.8 L1736.5,3462.1 L1739.7,3460.5 L1742.8,3458.8 L1746.0,3457.1 L1749.1,3455.5 L1752.3,3453.8 L1755.4,3452.2 L1758.6,3450.5 L1761.7,3448.9 L1764.9,3447.2 L1768.0,3445.6 L1771.2,3443.9 L1774.3,3442.3 L1777.5,3440.6 L1780.6,3439.0 L1783.8,3437.3 L1786.9,3435.7 L1790.0,3434.0 L1793.2,3432.4 L1796.3,3430.7 L1799.5,3429.1 L1802.6,3427.4 L1805.8,3425.8 L1808.9,3424.1 L1812.1,3422.5 L1815.2,3420.8 L1818.4,3419.1 L1821.5,3417.5 L1824.7,3415.8 L1827.8,3414.2 L1831.0,3412.5 L1834.1,3410.8 L1837.3,3409.2 L1840.4,3407.5" fill="none" stroke="#000" stroke-width="3.3" stroke-linecap="butt" stroke-linejoin="round" stroke-dasharray="20 8"/>
<path d="M270.0,3778.1 L273.1,3780.3 L276.3,3782.4 L279.4,3784.6 L282.6,3786.8 L285.7,3788.9 L288.9,3791.1 L292.0,3793.3 L295.2,3795.5 L298.3,3797.6 L301.5,3799.8 L304.6,3802.0 L307.8,3804.1 L310.9,3806.3 L314.1,3808.5 L317.2,3810.6 L320.4,3812.8 L323.5,3815.0 L326.6,3817.1 L329.8,3819.3 L332.9,3821.5 L336.1,3823.6 L339.2,3825.8 L342.4,3827.9 L345.5,3830.1 L348.7,3832.2 L351.8,3834.4 L355.0,3836.5 L358.1,3838.6 L361.3,3840.7 L364.4,3842.7 L367.6,3844.8 L370.7,3846.9 L373.9,3848.9 L377.0,3850.9 L380.1,3853.0 L383.3,3855.0 L386.4,3857.1 L389.6,3859.2 L392.7,3861.2 L395.9,3863.3 L399.0,3865.4 L402.2,3867.6 L405.3,3869.7 L408.5,3871.9 L411.6,3874.1 L414.8,3876.3 L417.9,3878.6 L421.1,3880.8 L424.2,3883.2 L427.4,3885.5 L430.5,3888.0 L433.6,3890.4 L436.8,3892.9 L439.9,3895.4 L443.1,3898.0 L446.2,3900.6 L449.4,3903.2 L452.5,3905.8 L455.7,3908.5 L458.8,3911.2 L462.0,3913.9 L465.1,3916.7 L468.3,3919.4 L471.4,3922.2 L474.6,3925.0 L477.7,3927.8 L480.9,3930.6 L484.0,3933.4 L487.1,3936.2 L490.3,3939.1 L493.4,3941.9 L496.6,3944.7 L499.7,3947.6 L502.9,3950.4 L506.0,3953.2 L509.2,3956.1 L512.3,3958.9 L515.5,3961.7 L518.6,3964.5 L521.8,3967.3 L524.9,3970.1 L528.1,3972.9 L531.2,3975.7 L534.4,3978.5 L537.5,3981.4 L540.7,3984.2 L543.8,3987.1 L546.9,3989.9 L550.1,3992.8 L553.2,3995.7 L556.4,3998.5 L559.5,4001.4 L562.7,4004.4 L565.8,4007.3 L569.0,4010.3 L572.1,4013.2 L575.3,4016.2 L578.4,4019.3 L581.6,4022.3 L584.7,4025.4 L587.9,4028.5 L591.0,4031.6 L594.2,4034.7 L597.3,4037.9 L600.4,4041.1 L603.6,4044.3 L606.7,4047.5 L609.9,4050.7 L613.0,4054.0 L616.2,4057.3 L619.3,4060.6 L622.5,4063.9 L625.6,4067.3 L628.8,4070.7 L631.9,4074.0 L635.1,4077.4 L638.2,4080.9 L641.4,4084.3 L644.5,4087.9 L647.7,4091.4 L650.8,4095.0 L653.9,4098.6 L657.1,4102.2 L660.2,4105.8 L663.4,4109.4 L666.5,4113.1 L669.7,4116.9 L672.8,4120.7 L676.0,4124.5 L679.1,4128.2 L682.3,4131.9 L685.4,4135.3 L688.6,4138.6 L691.7,4141.9 L694.9,4145.3 L698.0,4148.5 L701.2,4151.5 L704.3,4154.3 L707.4,4156.6 L710.6,4158.4 L713.7,4160.0 L716.9,4161.7 L720.0,4163.2 L723.2,4164.7 L726.3,4166.0 L729.5,4167.1 L732.6,4168.1 L735.8,4168.7 L738.9,4169.1 L742.1,4169.2 L745.2,4169.1 L748.4,4168.9 L751.5,4168.6 L754.7,4168.3 L757.8,4167.8 L760.9,4167.3 L764.1,4166.8 L767.2,4166.1 L770.4,4165.0 L773.5,4163.5 L776.7,4161.8 L779.8,4159.9 L783.0,4157.9 L786.1,4155.9 L789.3,4153.9 L792.4,4151.9 L795.6,4149.7 L798.7,4147.4 L801.9,4145.1 L805.0,4142.6 L808.2,4140.1 L811.3,4137.5 L814.4,4134.8 L817.6,4132.0 L820.7,4129.2 L823.9,4126.2 L827.0,4123.2 L830.2,4120.1 L833.3,4116.9 L836.5,4113.6 L839.6,4110.3 L842.8,4106.9 L845.9,4103.5 L849.1,4100.1 L852.2,4096.6 L855.4,4093.1 L858.5,4089.6 L861.7,4086.1 L864.8,4082.6 L867.9,4079.1 L871.1,4075.6 L874.2,4072.2 L877.4,4068.8 L880.5,4065.4 L883.7,4062.1 L886.8,4058.8 L890.0,4055.6 L893.1,4052.4 L896.3,4049.4 L899.4,4046.4 L902.6,4043.5 L905.7,4040.6 L908.9,4037.7 L912.0,4034.8 L915.2,4031.9 L918.3,4029.1 L921.4,4026.2 L924.6,4023.4 L927.7,4020.6 L930.9,4017.7 L934.0,4014.9 L937.2,4012.2 L940.3,4009.4 L943.5,4006.6 L946.6,4003.9 L949.8,4001.1 L952.9,3998.4 L956.1,3995.7 L959.2,3993.0 L962.4,3990.3 L965.5,3987.7 L968.7,3985.0 L971.8,3982.4 L974.9,3979.7 L978.1,3977.1 L981.2,3974.5 L984.4,3972.0 L987.5,3969.4 L990.7,3966.8 L993.8,3964.3 L997.0,3961.8 L1000.1,3959.3 L1003.3,3956.8 L1006.4,3954.3 L1009.6,3951.8 L1012.7,3949.4 L1015.9,3947.0 L1019.0,3944.5 L1022.2,3942.2 L1025.3,3939.8 L1028.4,3937.4 L1031.6,3935.1 L1034.7,3932.7 L1037.9,3930.4 L1041.0,3928.1 L1044.2,3925.8 L1047.3,3923.6 L1050.5,3921.3 L1053.6,3919.1 L1056.8,3916.9 L1059.9,3914.7 L1063.1,3912.5 L1066.2,3910.4 L1069.4,3908.2 L1072.5,3906.1 L1075.7,3904.0 L1078.8,3902.0 L1082.0,3899.9 L1085.1,3897.9 L1088.2,3895.8 L1091.4,3893.8 L1094.5,3891.9 L1097.7,3889.9 L1100.8,3887.9 L1104.0,3886.0 L1107.1,3884.0 L1110.3,3882.1 L1113.4,3880.2 L1116.6,3878.3 L1119.7,3876.4 L1122.9,3874.5 L1126.0,3872.6 L1129.2,3870.7 L1132.3,3868.9 L1135.5,3867.0 L1138.6,3865.2 L1141.7,3863.3 L1144.9,3861.5 L1148.0,3859.6 L1151.2,3857.8 L1154.3,3856.0 L1157.5,3854.1 L1160.6,3852.3 L1163.8,3850.4 L1166.9,3848.6 L1170.1,3846.8 L1173.2,3844.9 L1176.4,3843.1 L1179.5,3841.2 L1182.7,3839.4 L1185.8,3837.5 L1189.0,3835.7 L1192.1,3833.8 L1195.2,3831.9 L1198.4,3830.0 L1201.5,3828.2 L1204.7,3826.3 L1207.8,3824.3 L1211.0,3822.4 L1214.1,3820.5 L1217.3,3818.6 L1220.4,3816.6 L1223.6,3814.7 L1226.7,3812.8 L1229.9,3810.8 L1233.0,3808.9 L1236.2,3806.9 L1239.3,3805.0 L1242.5,3803.1 L1245.6,3801.1 L1248.7,3799.2 L1251.9,3797.2 L1255.0,3795.3 L1258.2,3793.3 L1261.3,3791.4 L1264.5,3789.5 L1267.6,3787.5 L1270.8,3785.6 L1273.9,3783.6 L1277.1,3781.7 L1280.2,3779.7 L1283.4,3777.8 L1286.5,3775.9 L1289.7,3773.9 L1292.8,3772.0 L1296.0,3770.0 L1299.1,3768.1 L1302.2,3766.2 L1305.4,3764.2 L1308.5,3762.3 L1311.7,3760.3 L1314.8,3758.4 L1318.0,3756.5 L1321.1,3754.6 L1324.3,3752.6 L1327.4,3750.7 L1330.6,3748.8 L1333.7,3746.9 L1336.9,3744.9 L1340.0,3743.0 L1343.2,3741.1 L1346.3,3739.2 L1349.5,3737.3 L1352.6,3735.4 L1355.7,3733.5 L1358.9,3731.6 L1362.0,3729.7 L1365.2,3727.8 L1368.3,3725.9 L1371.5,3724.0 L1374.6,3722.1 L1377.8,3720.3 L1380.9,3718.4 L1384.1,3716.5 L1387.2,3714.6 L1390.4,3712.7 L1393.5,3710.9 L1396.7,3709.0 L1399.8,3707.1 L1403.0,3705.2 L1406.1,3703.4 L1409.2,3701.5 L1412.4,3699.6 L1415.5,3697.8 L1418.7,3695.9 L1421.8,3694.0 L1425.0,3692.2 L1428.1,3690.3 L1431.3,3688.5 L1434.4,3686.6 L1437.6,3684.8 L1440.7,3682.9 L1443.9,3681.1 L1447.0,3679.2 L1450.2,3677.4 L1453.3,3675.5 L1456.5,3673.7 L1459.6,3671.8 L1462.7,3670.0 L1465.9,3668.2 L1469.0,3666.3 L1472.2,3664.5 L1475.3,3662.7 L1478.5,3660.8 L1481.6,3659.0 L1484.8,3657.2 L1487.9,3655.4 L1491.1,3653.5 L1494.2,3651.7 L1497.4,3649.9 L1500.5,3648.1 L1503.7,3646.2 L1506.8,3644.4 L1510.0,3642.6 L1513.1,3640.8 L1516.2,3639.0 L1519.4,3637.2 L1522.5,3635.4 L1525.7,3633.6 L1528.8,3631.8 L1532.0,3630.0 L1535.1,3628.2 L1538.3,3626.4 L1541.4,3624.6 L1544.6,3622.8 L1547.7,3621.0 L1550.9,3619.3 L1554.0,3617.5 L1557.2,3615.7 L1560.3,3613.9 L1563.5,3612.2 L1566.6,3610.4 L1569.7,3608.6 L1572.9,3606.9 L1576.0,3605.1 L1579.2,3603.4 L1582.3,3601.6 L1585.5,3599.8 L1588.6,3598.1 L1591.8,3596.3 L1594.9,3594.6 L1598.1,3592.8 L1601.2,3591.1 L1604.4,3589.3 L1607.5,3587.6 L1610.7,3585.8 L1613.8,3584.1 L1617.0,3582.3 L1620.1,3580.6 L1623.3,3578.8 L1626.4,3577.1 L1629.5,3575.4 L1632.7,3573.6 L1635.8,3571.9 L1639.0,3570.1 L1642.1,3568.4 L1645.3,3566.6 L1648.4,3564.8 L1651.6,3563.1 L1654.7,3561.3 L1657.9,3559.6 L1661.0,3557.8 L1664.2,3556.1 L1667.3,3554.3 L1670.5,3552.5 L1673.6,3550.8 L1676.8,3549.0 L1679.9,3547.2 L1683.0,3545.5 L1686.2,3543.7 L1689.3,3541.9 L1692.5,3540.1 L1695.6,3538.4 L1698.8,3536.6 L1701.9,3534.8 L1705.1,3533.0 L1708.2,3531.2 L1711.4,3529.4 L1714.5,3527.7 L1717.7,3525.9 L1720.8,3524.1 L1724.0,3522.3 L1727.1,3520.5 L1730.3,3518.7 L1733.4,3517.0 L1736.5,3515.2 L1739.7,3513.4 L1742.8,3511.6 L1746.0,3509.8 L1749.1,3508.0 L1752.3,3506.2 L1755.4,3504.4 L1758.6,3502.6 L1761.7,3500.9 L1764.9,3499.1 L1768.0,3497.3 L1771.2,3495.5 L1774.3,3493.7 L1777.5,3491.9 L1780.6,3490.1 L1783.8,3488.3 L1786.9,3486.5 L1790.0,3484.7 L1793.2,3482.9 L1796.3,3481.1 L1799.5,3479.4 L1802.6,3477.6 L1805.8,3475.8 L1808.9,3474.0 L1812.1,3472.2 L1815.2,3470.4 L1818.4,3468.6 L1821.5,3466.8 L1824.7,3465.0 L1827.8,3463.2 L1831.0,3461.5 L1834.1,3459.7 L1837.3,3457.9 L1840.4,3456.1" fill="none" stroke="#000" stroke-width="16" stroke-linecap="butt" stroke-linejoin="round"/>
<path d="M270.0,3798.6 L273.1,3800.4 L276.3,3802.1 L279.4,3803.9 L282.6,3805.6 L285.7,3807.3 L288.9,3809.1 L292.0,3810.8 L295.2,3812.5 L298.3,3814.2 L301.5,3816.0 L304.6,3817.7 L307.8,3819.4 L310.9,3821.2 L314.1,3822.9 L317.2,3824.6 L320.4,3826.4 L323.5,3828.2 L326.6,3829.9 L329.8,3831.7 L332.9,3833.5 L336.1,3835.3 L339.2,3837.1 L342.4,3839.0 L345.5,3840.8 L348.7,3842.7 L351.8,3844.6 L355.0,3846.5 L358.1,3848.4 L361.3,3850.3 L364.4,3852.2 L367.6,3854.1 L370.7,3856.0 L373.9,3857.9 L377.0,3859.9 L380.1,3861.9 L383.3,3863.8 L386.4,3865.8 L389.6,3867.8 L392.7,3869.8 L395.9,3871.8 L399.0,3873.9 L402.2,3875.9 L405.3,3878.0 L408.5,3880.1 L411.6,3882.2 L414.8,3884.3 L417.9,3886.5 L421.1,3888.7 L424.2,3890.9 L427.4,3893.1 L430.5,3895.3 L433.6,3897.6 L436.8,3899.9 L439.9,3902.2 L443.1,3904.5 L446.2,3906.9 L449.4,3909.3 L452.5,3911.7 L455.7,3914.1 L458.8,3916.5 L462.0,3919.0 L465.1,3921.5 L468.3,3924.0 L471.4,3926.5 L474.6,3929.0 L477.7,3931.6 L480.9,3934.1 L484.0,3936.7 L487.1,3939.3 L490.3,3941.9 L493.4,3944.5 L496.6,3947.1 L499.7,3949.7 L502.9,3952.3 L506.0,3954.9 L509.2,3957.6 L512.3,3960.2 L515.5,3962.8 L518.6,3965.5 L521.8,3968.1 L524.9,3970.8 L528.1,3973.5 L531.2,3976.2 L534.4,3978.9 L537.5,3981.6 L540.7,3984.4 L543.8,3987.1 L546.9,3989.9 L550.1,3992.7 L553.2,3995.5 L556.4,3998.3 L559.5,4001.1 L562.7,4004.0 L565.8,4006.8 L569.0,4009.7 L572.1,4012.7 L575.3,4015.6 L578.4,4018.5 L581.6,4021.5 L584.7,4024.5 L587.9,4027.6 L591.0,4030.7 L594.2,4033.8 L597.3,4037.0 L600.4,4040.3 L603.6,4043.6 L606.7,4046.9 L609.9,4050.2 L613.0,4053.6 L616.2,4057.0 L619.3,4060.4 L622.5,4063.8 L625.6,4067.1 L628.8,4070.5 L631.9,4073.9 L635.1,4077.3 L638.2,4080.6 L641.4,4083.9 L644.5,4087.2 L647.7,4090.4 L650.8,4093.6 L653.9,4096.8 L657.1,4099.9 L660.2,4102.9 L663.4,4105.9 L666.5,4108.9 L669.7,4111.9 L672.8,4115.0 L676.0,4118.0 L679.1,4121.1 L682.3,4124.1 L685.4,4127.1 L688.6,4130.0 L691.7,4132.8 L694.9,4135.5 L698.0,4138.0 L701.2,4140.5 L704.3,4142.7 L707.4,4144.8 L710.6,4146.7 L713.7,4148.6 L716.9,4150.6 L720.0,4152.5 L723.2,4154.4 L726.3,4156.1 L729.5,4157.6 L732.6,4158.8 L735.8,4159.8 L738.9,4160.3 L742.1,4160.4 L745.2,4160.3 L748.4,4160.0 L751.5,4159.6 L754.7,4159.0 L757.8,4158.4 L760.9,4157.7 L764.1,4156.9 L767.2,4156.0 L770.4,4155.2 L773.5,4154.3 L776.7,4153.1 L779.8,4151.7 L783.0,4150.0 L786.1,4148.1 L789.3,4146.1 L792.4,4143.9 L795.6,4141.7 L798.7,4139.4 L801.9,4137.1 L805.0,4134.9 L808.2,4132.7 L811.3,4130.6 L814.4,4128.5 L817.6,4126.3 L820.7,4124.1 L823.9,4121.9 L827.0,4119.7 L830.2,4117.4 L833.3,4115.1 L836.5,4112.8 L839.6,4110.5 L842.8,4108.1 L845.9,4105.8 L849.1,4103.4 L852.2,4101.0 L855.4,4098.6 L858.5,4096.2 L861.7,4093.8 L864.8,4091.4 L867.9,4089.0 L871.1,4086.6 L874.2,4084.1 L877.4,4081.7 L880.5,4079.3 L883.7,4076.9 L886.8,4074.4 L890.0,4072.0 L893.1,4069.6 L896.3,4067.2 L899.4,4064.8 L902.6,4062.4 L905.7,4060.0 L908.9,4057.6 L912.0,4055.2 L915.2,4052.7 L918.3,4050.3 L921.4,4047.8 L924.6,4045.3 L927.7,4042.8 L930.9,4040.3 L934.0,4037.8 L937.2,4035.3 L940.3,4032.8 L943.5,4030.3 L946.6,4027.8 L949.8,4025.3 L952.9,4022.7 L956.1,4020.2 L959.2,4017.7 L962.4,4015.1 L965.5,4012.6 L968.7,4010.1 L971.8,4007.6 L974.9,4005.0 L978.1,4002.5 L981.2,4000.0 L984.4,3997.5 L987.5,3995.0 L990.7,3992.5 L993.8,3990.0 L997.0,3987.5 L1000.1,3985.0 L1003.3,3982.6 L1006.4,3980.1 L1009.6,3977.7 L1012.7,3975.3 L1015.9,3972.8 L1019.0,3970.4 L1022.2,3968.0 L1025.3,3965.7 L1028.4,3963.3 L1031.6,3960.9 L1034.7,3958.6 L1037.9,3956.3 L1041.0,3954.0 L1044.2,3951.7 L1047.3,3949.5 L1050.5,3947.2 L1053.6,3945.0 L1056.8,3942.8 L1059.9,3940.7 L1063.1,3938.5 L1066.2,3936.3 L1069.4,3934.2 L1072.5,3932.1 L1075.7,3929.9 L1078.8,3927.8 L1082.0,3925.7 L1085.1,3923.6 L1088.2,3921.6 L1091.4,3919.5 L1094.5,3917.4 L1097.7,3915.4 L1100.8,3913.3 L1104.0,3911.3 L1107.1,3909.3 L1110.3,3907.3 L1113.4,3905.2 L1116.6,3903.2 L1119.7,3901.3 L1122.9,3899.3 L1126.0,3897.3 L1129.2,3895.3 L1132.3,3893.3 L1135.5,3891.4 L1138.6,3889.4 L1141.7,3887.5 L1144.9,3885.5 L1148.0,3883.6 L1151.2,3881.7 L1154.3,3879.7 L1157.5,3877.8 L1160.6,3875.9 L1163.8,3874.0 L1166.9,3872.1 L1170.1,3870.1 L1173.2,3868.2 L1176.4,3866.3 L1179.5,3864.4 L1182.7,3862.5 L1185.8,3860.6 L1189.0,3858.7 L1192.1,3856.8 L1195.2,3854.9 L1198.4,3853.0 L1201.5,3851.1 L1204.7,3849.2 L1207.8,3847.3 L1211.0,3845.4 L1214.1,3843.6 L1217.3,3841.7 L1220.4,3839.8 L1223.6,3837.9 L1226.7,3836.0 L1229.9,3834.2 L1233.0,3832.3 L1236.2,3830.4 L1239.3,3828.6 L1242.5,3826.7 L1245.6,3824.9 L1248.7,3823.1 L1251.9,3821.2 L1255.0,3819.4 L1258.2,3817.6 L1261.3,3815.8 L1264.5,3813.9 L1267.6,3812.1 L1270.8,3810.3 L1273.9,3808.5 L1277.1,3806.7 L1280.2,3804.9 L1283.4,3803.1 L1286.5,3801.3 L1289.7,3799.5 L1292.8,3797.7 L1296.0,3795.9 L1299.1,3794.1 L1302.2,3792.3 L1305.4,3790.6 L1308.5,3788.8 L1311.7,3787.0 L1314.8,3785.2 L1318.0,3783.4 L1321.1,3781.6 L1324.3,3779.9 L1327.4,3778.1 L1330.6,3776.3 L1333.7,3774.5 L1336.9,3772.7 L1340.0,3770.9 L1343.2,3769.1 L1346.3,3767.3 L1349.5,3765.6 L1352.6,3763.8 L1355.7,3762.0 L1358.9,3760.2 L1362.0,3758.4 L1365.2,3756.6 L1368.3,3754.8 L1371.5,3753.0 L1374.6,3751.2 L1377.8,3749.4 L1380.9,3747.6 L1384.1,3745.7 L1387.2,3743.9 L1390.4,3742.1 L1393.5,3740.3 L1396.7,3738.5 L1399.8,3736.7 L1403.0,3734.9 L1406.1,3733.0 L1409.2,3731.2 L1412.4,3729.4 L1415.5,3727.6 L1418.7,3725.8 L1421.8,3724.0 L1425.0,3722.1 L1428.1,3720.3 L1431.3,3718.5 L1434.4,3716.7 L1437.6,3714.9 L1440.7,3713.1 L1443.9,3711.3 L1447.0,3709.5 L1450.2,3707.6 L1453.3,3705.8 L1456.5,3704.0 L1459.6,3702.2 L1462.7,3700.4 L1465.9,3698.6 L1469.0,3696.8 L1472.2,3695.0 L1475.3,3693.2 L1478.5,3691.4 L1481.6,3689.7 L1484.8,3687.9 L1487.9,3686.1 L1491.1,3684.3 L1494.2,3682.5 L1497.4,3680.8 L1500.5,3679.0 L1503.7,3677.2 L1506.8,3675.5 L1510.0,3673.7 L1513.1,3672.0 L1516.2,3670.2 L1519.4,3668.5 L1522.5,3666.7 L1525.7,3665.0 L1528.8,3663.2 L1532.0,3661.5 L1535.1,3659.8 L1538.3,3658.0 L1541.4,3656.3 L1544.6,3654.6 L1547.7,3652.9 L1550.9,3651.2 L1554.0,3649.4 L1557.2,3647.7 L1560.3,3646.0 L1563.5,3644.3 L1566.6,3642.6 L1569.7,3640.9 L1572.9,3639.2 L1576.0,3637.5 L1579.2,3635.8 L1582.3,3634.1 L1585.5,3632.4 L1588.6,3630.7 L1591.8,3629.0 L1594.9,3627.3 L1598.1,3625.6 L1601.2,3623.9 L1604.4,3622.3 L1607.5,3620.6 L1610.7,3618.9 L1613.8,3617.2 L1617.0,3615.6 L1620.1,3613.9 L1623.3,3612.2 L1626.4,3610.6 L1629.5,3608.9 L1632.7,3607.2 L1635.8,3605.6 L1639.0,3603.9 L1642.1,3602.3 L1645.3,3600.6 L1648.4,3599.0 L1651.6,3597.3 L1654.7,3595.7 L1657.9,3594.1 L1661.0,3592.4 L1664.2,3590.8 L1667.3,3589.2 L1670.5,3587.5 L1673.6,3585.9 L1676.8,3584.3 L1679.9,3582.7 L1683.0,3581.0 L1686.2,3579.4 L1689.3,3577.8 L1692.5,3576.2 L1695.6,3574.6 L1698.8,3573.0 L1701.9,3571.4 L1705.1,3569.8 L1708.2,3568.2 L1711.4,3566.6 L1714.5,3565.1 L1717.7,3563.5 L1720.8,3561.9 L1724.0,3560.3 L1727.1,3558.8 L1730.3,3557.2 L1733.4,3555.6 L1736.5,3554.1 L1739.7,3552.5 L1742.8,3551.0 L1746.0,3549.4 L1749.1,3547.9 L1752.3,3546.3 L1755.4,3544.8 L1758.6,3543.2 L1761.7,3541.7 L1764.9,3540.1 L1768.0,3538.6 L1771.2,3537.0 L1774.3,3535.5 L1777.5,3533.9 L1780.6,3532.4 L1783.8,3530.8 L1786.9,3529.3 L1790.0,3527.8 L1793.2,3526.2 L1796.3,3524.7 L1799.5,3523.1 L1802.6,3521.6 L1805.8,3520.1 L1808.9,3518.5 L1812.1,3517.0 L1815.2,3515.4 L1818.4,3513.9 L1821.5,3512.3 L1824.7,3510.8 L1827.8,3509.2 L1831.0,3507.7 L1834.1,3506.1 L1837.3,3504.5 L1840.4,3503.0" fill="none" stroke="#000" stroke-width="3.3" stroke-linecap="butt" stroke-linejoin="round" stroke-dasharray="19 8 3 8"/>
<path d="M270.0,3811.2 L273.1,3812.8 L276.3,3814.4 L279.4,3815.9 L282.6,3817.5 L285.7,3819.1 L288.9,3820.6 L292.0,3822.2 L295.2,3823.7 L298.3,3825.3 L301.5,3826.9 L304.6,3828.4 L307.8,3830.0 L310.9,3831.5 L314.1,3833.1 L317.2,3834.7 L320.4,3836.3 L323.5,3837.9 L326.6,3839.5 L329.8,3841.1 L332.9,3842.7 L336.1,3844.3 L339.2,3846.0 L342.4,3847.7 L345.5,3849.4 L348.7,3851.1 L351.8,3852.8 L355.0,3854.5 L358.1,3856.2 L361.3,3857.9 L364.4,3859.7 L367.6,3861.4 L370.7,3863.2 L373.9,3865.0 L377.0,3866.7 L380.1,3868.5 L383.3,3870.3 L386.4,3872.1 L389.6,3874.0 L392.7,3875.8 L395.9,3877.7 L399.0,3879.5 L402.2,3881.4 L405.3,3883.3 L408.5,3885.3 L411.6,3887.2 L414.8,3889.2 L417.9,3891.2 L421.1,3893.2 L424.2,3895.2 L427.4,3897.2 L430.5,3899.3 L433.6,3901.4 L436.8,3903.5 L439.9,3905.7 L443.1,3907.8 L446.2,3910.0 L449.4,3912.3 L452.5,3914.5 L455.7,3916.7 L458.8,3919.0 L462.0,3921.3 L465.1,3923.6 L468.3,3926.0 L471.4,3928.3 L474.6,3930.7 L477.7,3933.1 L480.9,3935.5 L484.0,3937.9 L487.1,3940.3 L490.3,3942.8 L493.4,3945.2 L496.6,3947.7 L499.7,3950.2 L502.9,3952.7 L506.0,3955.2 L509.2,3957.7 L512.3,3960.2 L515.5,3962.8 L518.6,3965.3 L521.8,3967.9 L524.9,3970.5 L528.1,3973.2 L531.2,3975.8 L534.4,3978.5 L537.5,3981.2 L540.7,3983.9 L543.8,3986.7 L546.9,3989.4 L550.1,3992.2 L553.2,3995.0 L556.4,3997.8 L559.5,4000.6 L562.7,4003.5 L565.8,4006.3 L569.0,4009.2 L572.1,4012.1 L575.3,4015.0 L578.4,4017.8 L581.6,4020.7 L584.7,4023.7 L587.9,4026.6 L591.0,4029.6 L594.2,4032.6 L597.3,4035.7 L600.4,4038.8 L603.6,4041.9 L606.7,4045.0 L609.9,4048.2 L613.0,4051.4 L616.2,4054.6 L619.3,4057.8 L622.5,4060.9 L625.6,4064.1 L628.8,4067.3 L631.9,4070.5 L635.1,4073.7 L638.2,4076.8 L641.4,4079.9 L644.5,4083.0 L647.7,4086.1 L650.8,4089.1 L653.9,4092.1 L657.1,4095.1 L660.2,4098.0 L663.4,4100.8 L666.5,4103.7 L669.7,4106.7 L672.8,4109.6 L676.0,4112.6 L679.1,4115.5 L682.3,4118.4 L685.4,4121.3 L688.6,4124.1 L691.7,4126.9 L694.9,4129.5 L698.0,4132.0 L701.2,4134.3 L704.3,4136.5 L707.4,4138.6 L710.6,4140.4 L713.7,4142.3 L716.9,4144.2 L720.0,4146.0 L723.2,4147.8 L726.3,4149.5 L729.5,4151.0 L732.6,4152.2 L735.8,4153.1 L738.9,4153.6 L742.1,4153.7 L745.2,4153.6 L748.4,4153.4 L751.5,4153.1 L754.7,4152.6 L757.8,4152.1 L760.9,4151.5 L764.1,4150.9 L767.2,4150.3 L770.4,4149.6 L773.5,4148.9 L776.7,4148.0 L779.8,4147.0 L783.0,4145.7 L786.1,4144.4 L789.3,4142.9 L792.4,4141.3 L795.6,4139.7 L798.7,4138.0 L801.9,4136.3 L805.0,4134.7 L808.2,4133.0 L811.3,4131.4 L814.4,4129.8 L817.6,4128.2 L820.7,4126.5 L823.9,4124.8 L827.0,4123.0 L830.2,4121.3 L833.3,4119.5 L836.5,4117.7 L839.6,4115.9 L842.8,4114.1 L845.9,4112.2 L849.1,4110.3 L852.2,4108.4 L855.4,4106.5 L858.5,4104.6 L861.7,4102.6 L864.8,4100.7 L867.9,4098.7 L871.1,4096.7 L874.2,4094.7 L877.4,4092.7 L880.5,4090.7 L883.7,4088.6 L886.8,4086.6 L890.0,4084.6 L893.1,4082.5 L896.3,4080.4 L899.4,4078.4 L902.6,4076.3 L905.7,4074.1 L908.9,4072.0 L912.0,4069.8 L915.2,4067.5 L918.3,4065.3 L921.4,4063.0 L924.6,4060.7 L927.7,4058.4 L930.9,4056.0 L934.0,4053.7 L937.2,4051.3 L940.3,4048.9 L943.5,4046.5 L946.6,4044.0 L949.8,4041.6 L952.9,4039.1 L956.1,4036.7 L959.2,4034.2 L962.4,4031.7 L965.5,4029.2 L968.7,4026.7 L971.8,4024.2 L974.9,4021.8 L978.1,4019.3 L981.2,4016.8 L984.4,4014.3 L987.5,4011.8 L990.7,4009.3 L993.8,4006.8 L997.0,4004.4 L1000.1,4001.9 L1003.3,3999.4 L1006.4,3997.0 L1009.6,3994.6 L1012.7,3992.2 L1015.9,3989.8 L1019.0,3987.4 L1022.2,3985.1 L1025.3,3982.7 L1028.4,3980.4 L1031.6,3978.2 L1034.7,3975.9 L1037.9,3973.7 L1041.0,3971.5 L1044.2,3969.3 L1047.3,3967.1 L1050.5,3965.0 L1053.6,3963.0 L1056.8,3960.9 L1059.9,3958.9 L1063.1,3956.9 L1066.2,3954.9 L1069.4,3952.9 L1072.5,3950.9 L1075.7,3949.0 L1078.8,3947.1 L1082.0,3945.1 L1085.1,3943.2 L1088.2,3941.3 L1091.4,3939.4 L1094.5,3937.5 L1097.7,3935.7 L1100.8,3933.8 L1104.0,3932.0 L1107.1,3930.1 L1110.3,3928.3 L1113.4,3926.5 L1116.6,3924.7 L1119.7,3922.9 L1122.9,3921.1 L1126.0,3919.3 L1129.2,3917.5 L1132.3,3915.8 L1135.5,3914.0 L1138.6,3912.3 L1141.7,3910.5 L1144.9,3908.8 L1148.0,3907.0 L1151.2,3905.3 L1154.3,3903.5 L1157.5,3901.8 L1160.6,3900.1 L1163.8,3898.4 L1166.9,3896.6 L1170.1,3894.9 L1173.2,3893.2 L1176.4,3891.5 L1179.5,3889.8 L1182.7,3888.1 L1185.8,3886.4 L1189.0,3884.6 L1192.1,3882.9 L1195.2,3881.2 L1198.4,3879.5 L1201.5,3877.8 L1204.7,3876.0 L1207.8,3874.3 L1211.0,3872.6 L1214.1,3870.9 L1217.3,3869.1 L1220.4,3867.4 L1223.6,3865.7 L1226.7,3864.0 L1229.9,3862.3 L1233.0,3860.6 L1236.2,3858.9 L1239.3,3857.2 L1242.5,3855.5 L1245.6,3853.8 L1248.7,3852.2 L1251.9,3850.5 L1255.0,3848.8 L1258.2,3847.1 L1261.3,3845.5 L1264.5,3843.8 L1267.6,3842.1 L1270.8,3840.5 L1273.9,3838.8 L1277.1,3837.2 L1280.2,3835.5 L1283.4,3833.9 L1286.5,3832.2 L1289.7,3830.6 L1292.8,3828.9 L1296.0,3827.3 L1299.1,3825.6 L1302.2,3824.0 L1305.4,3822.4 L1308.5,3820.7 L1311.7,3819.1 L1314.8,3817.4 L1318.0,3815.8 L1321.1,3814.2 L1324.3,3812.5 L1327.4,3810.9 L1330.6,3809.2 L1333.7,3807.6 L1336.9,3806.0 L1340.0,3804.3 L1343.2,3802.7 L1346.3,3801.0 L1349.5,3799.4 L1352.6,3797.7 L1355.7,3796.1 L1358.9,3794.5 L1362.0,3792.8 L1365.2,3791.1 L1368.3,3789.5 L1371.5,3787.8 L1374.6,3786.2 L1377.8,3784.5 L1380.9,3782.9 L1384.1,3781.2 L1387.2,3779.5 L1390.4,3777.9 L1393.5,3776.2 L1396.7,3774.5 L1399.8,3772.9 L1403.0,3771.2 L1406.1,3769.6 L1409.2,3767.9 L1412.4,3766.2 L1415.5,3764.6 L1418.7,3762.9 L1421.8,3761.2 L1425.0,3759.6 L1428.1,3757.9 L1431.3,3756.3 L1434.4,3754.6 L1437.6,3752.9 L1440.7,3751.3 L1443.9,3749.6 L1447.0,3747.9 L1450.2,3746.3 L1453.3,3744.6 L1456.5,3743.0 L1459.6,3741.3 L1462.7,3739.7 L1465.9,3738.0 L1469.0,3736.4 L1472.2,3734.7 L1475.3,3733.0 L1478.5,3731.4 L1481.6,3729.7 L1484.8,3728.1 L1487.9,3726.5 L1491.1,3724.8 L1494.2,3723.2 L1497.4,3721.5 L1500.5,3719.9 L1503.7,3718.2 L1506.8,3716.6 L1510.0,3715.0 L1513.1,3713.3 L1516.2,3711.7 L1519.4,3710.1 L1522.5,3708.4 L1525.7,3706.8 L1528.8,3705.2 L1532.0,3703.6 L1535.1,3702.0 L1538.3,3700.3 L1541.4,3698.7 L1544.6,3697.1 L1547.7,3695.5 L1550.9,3693.8 L1554.0,3692.2 L1557.2,3690.6 L1560.3,3689.0 L1563.5,3687.3 L1566.6,3685.7 L1569.7,3684.1 L1572.9,3682.5 L1576.0,3680.9 L1579.2,3679.3 L1582.3,3677.6 L1585.5,3676.0 L1588.6,3674.4 L1591.8,3672.8 L1594.9,3671.2 L1598.1,3669.6 L1601.2,3668.0 L1604.4,3666.4 L1607.5,3664.8 L1610.7,3663.2 L1613.8,3661.6 L1617.0,3660.0 L1620.1,3658.4 L1623.3,3656.8 L1626.4,3655.2 L1629.5,3653.6 L1632.7,3652.0 L1635.8,3650.4 L1639.0,3648.9 L1642.1,3647.3 L1645.3,3645.7 L1648.4,3644.1 L1651.6,3642.6 L1654.7,3641.0 L1657.9,3639.4 L1661.0,3637.9 L1664.2,3636.3 L1667.3,3634.8 L1670.5,3633.2 L1673.6,3631.7 L1676.8,3630.2 L1679.9,3628.6 L1683.0,3627.1 L1686.2,3625.6 L1689.3,3624.0 L1692.5,3622.5 L1695.6,3621.0 L1698.8,3619.5 L1701.9,3618.0 L1705.1,3616.5 L1708.2,3615.0 L1711.4,3613.5 L1714.5,3612.0 L1717.7,3610.5 L1720.8,3609.0 L1724.0,3607.6 L1727.1,3606.1 L1730.3,3604.6 L1733.4,3603.1 L1736.5,3601.7 L1739.7,3600.2 L1742.8,3598.7 L1746.0,3597.3 L1749.1,3595.8 L1752.3,3594.4 L1755.4,3592.9 L1758.6,3591.4 L1761.7,3590.0 L1764.9,3588.5 L1768.0,3587.1 L1771.2,3585.6 L1774.3,3584.2 L1777.5,3582.7 L1780.6,3581.3 L1783.8,3579.8 L1786.9,3578.4 L1790.0,3576.9 L1793.2,3575.5 L1796.3,3574.0 L1799.5,3572.6 L1802.6,3571.1 L1805.8,3569.7 L1808.9,3568.2 L1812.1,3566.8 L1815.2,3565.3 L1818.4,3563.9 L1821.5,3562.4 L1824.7,3561.0 L1827.8,3559.5 L1831.0,3558.1 L1834.1,3556.6 L1837.3,3555.1 L1840.4,3553.7" fill="none" stroke="#000" stroke-width="3.3" stroke-linecap="butt" stroke-linejoin="round" stroke-dasharray="20 7 3 7 3 8"/>
<path d="M270.0,3821.7 L273.1,3823.1 L276.3,3824.5 L279.4,3825.9 L282.6,3827.3 L285.7,3828.7 L288.9,3830.1 L292.0,3831.4 L295.2,3832.8 L298.3,3834.2 L301.5,3835.6 L304.6,3836.9 L307.8,3838.3 L310.9,3839.7 L314.1,3841.1 L317.2,3842.5 L320.4,3843.9 L323.5,3845.4 L326.6,3846.8 L329.8,3848.2 L332.9,3849.7 L336.1,3851.2 L339.2,3852.7 L342.4,3854.2 L345.5,3855.8 L348.7,3857.3 L351.8,3858.9 L355.0,3860.5 L358.1,3862.1 L361.3,3863.8 L364.4,3865.4 L367.6,3867.1 L370.7,3868.7 L373.9,3870.4 L377.0,3872.1 L380.1,3873.9 L383.3,3875.6 L386.4,3877.3 L389.6,3879.1 L392.7,3880.9 L395.9,3882.7 L399.0,3884.5 L402.2,3886.3 L405.3,3888.1 L408.5,3890.0 L411.6,3891.9 L414.8,3893.7 L417.9,3895.6 L421.1,3897.5 L424.2,3899.5 L427.4,3901.4 L430.5,3903.4 L433.6,3905.3 L436.8,3907.3 L439.9,3909.3 L443.1,3911.4 L446.2,3913.4 L449.4,3915.5 L452.5,3917.5 L455.7,3919.6 L458.8,3921.7 L462.0,3923.8 L465.1,3926.0 L468.3,3928.1 L471.4,3930.3 L474.6,3932.5 L477.7,3934.7 L480.9,3937.0 L484.0,3939.2 L487.1,3941.5 L490.3,3943.8 L493.4,3946.1 L496.6,3948.4 L499.7,3950.7 L502.9,3953.1 L506.0,3955.5 L509.2,3957.8 L512.3,3960.3 L515.5,3962.7 L518.6,3965.2 L521.8,3967.7 L524.9,3970.3 L528.1,3972.9 L531.2,3975.5 L534.4,3978.2 L537.5,3980.9 L540.7,3983.6 L543.8,3986.3 L546.9,3989.1 L550.1,3991.8 L553.2,3994.6 L556.4,3997.4 L559.5,4000.3 L562.7,4003.1 L565.8,4005.9 L569.0,4008.7 L572.1,4011.6 L575.3,4014.4 L578.4,4017.2 L581.6,4020.0 L584.7,4022.8 L587.9,4025.6 L591.0,4028.4 L594.2,4031.3 L597.3,4034.1 L600.4,4037.0 L603.6,4039.9 L606.7,4042.8 L609.9,4045.7 L613.0,4048.6 L616.2,4051.5 L619.3,4054.5 L622.5,4057.4 L625.6,4060.3 L628.8,4063.2 L631.9,4066.1 L635.1,4069.0 L638.2,4071.9 L641.4,4074.8 L644.5,4077.7 L647.7,4080.5 L650.8,4083.4 L653.9,4086.2 L657.1,4089.0 L660.2,4091.8 L663.4,4094.5 L666.5,4097.3 L669.7,4100.2 L672.8,4103.1 L676.0,4106.1 L679.1,4109.0 L682.3,4112.0 L685.4,4114.9 L688.6,4117.7 L691.7,4120.5 L694.9,4123.1 L698.0,4125.6 L701.2,4128.0 L704.3,4130.2 L707.4,4132.3 L710.6,4134.1 L713.7,4136.0 L716.9,4137.9 L720.0,4139.8 L723.2,4141.6 L726.3,4143.2 L729.5,4144.7 L732.6,4145.9 L735.8,4146.8 L738.9,4147.3 L742.1,4147.4 L745.2,4147.4 L748.4,4147.2 L751.5,4146.9 L754.7,4146.6 L757.8,4146.3 L760.9,4145.9 L764.1,4145.4 L767.2,4144.9 L770.4,4144.4 L773.5,4143.9 L776.7,4143.3 L779.8,4142.6 L783.0,4141.7 L786.1,4140.8 L789.3,4139.7 L792.4,4138.6 L795.6,4137.5 L798.7,4136.4 L801.9,4135.2 L805.0,4134.1 L808.2,4133.0 L811.3,4131.9 L814.4,4130.8 L817.6,4129.7 L820.7,4128.6 L823.9,4127.6 L827.0,4126.5 L830.2,4125.4 L833.3,4124.3 L836.5,4123.2 L839.6,4122.0 L842.8,4120.9 L845.9,4119.8 L849.1,4118.6 L852.2,4117.4 L855.4,4116.3 L858.5,4115.1 L861.7,4113.8 L864.8,4112.6 L867.9,4111.3 L871.1,4110.1 L874.2,4108.8 L877.4,4107.4 L880.5,4106.1 L883.7,4104.7 L886.8,4103.3 L890.0,4101.9 L893.1,4100.4 L896.3,4098.9 L899.4,4097.4 L902.6,4095.8 L905.7,4094.2 L908.9,4092.5 L912.0,4090.8 L915.2,4089.0 L918.3,4087.2 L921.4,4085.3 L924.6,4083.4 L927.7,4081.5 L930.9,4079.5 L934.0,4077.4 L937.2,4075.3 L940.3,4073.2 L943.5,4071.1 L946.6,4068.9 L949.8,4066.8 L952.9,4064.5 L956.1,4062.3 L959.2,4060.0 L962.4,4057.7 L965.5,4055.4 L968.7,4053.1 L971.8,4050.8 L974.9,4048.4 L978.1,4046.1 L981.2,4043.7 L984.4,4041.4 L987.5,4039.0 L990.7,4036.6 L993.8,4034.3 L997.0,4031.9 L1000.1,4029.5 L1003.3,4027.2 L1006.4,4024.8 L1009.6,4022.5 L1012.7,4020.1 L1015.9,4017.8 L1019.0,4015.5 L1022.2,4013.2 L1025.3,4011.0 L1028.4,4008.7 L1031.6,4006.5 L1034.7,4004.3 L1037.9,4002.2 L1041.0,4000.0 L1044.2,3997.9 L1047.3,3995.8 L1050.5,3993.8 L1053.6,3991.8 L1056.8,3989.9 L1059.9,3987.9 L1063.1,3986.0 L1066.2,3984.0 L1069.4,3982.1 L1072.5,3980.2 L1075.7,3978.3 L1078.8,3976.4 L1082.0,3974.5 L1085.1,3972.7 L1088.2,3970.8 L1091.4,3968.9 L1094.5,3967.1 L1097.7,3965.2 L1100.8,3963.4 L1104.0,3961.6 L1107.1,3959.8 L1110.3,3957.9 L1113.4,3956.1 L1116.6,3954.3 L1119.7,3952.5 L1122.9,3950.7 L1126.0,3948.9 L1129.2,3947.2 L1132.3,3945.4 L1135.5,3943.6 L1138.6,3941.8 L1141.7,3940.1 L1144.9,3938.3 L1148.0,3936.6 L1151.2,3934.8 L1154.3,3933.1 L1157.5,3931.3 L1160.6,3929.6 L1163.8,3927.8 L1166.9,3926.1 L1170.1,3924.4 L1173.2,3922.6 L1176.4,3920.9 L1179.5,3919.2 L1182.7,3917.4 L1185.8,3915.7 L1189.0,3914.0 L1192.1,3912.3 L1195.2,3910.5 L1198.4,3908.8 L1201.5,3907.1 L1204.7,3905.4 L1207.8,3903.6 L1211.0,3901.9 L1214.1,3900.2 L1217.3,3898.5 L1220.4,3896.7 L1223.6,3895.0 L1226.7,3893.3 L1229.9,3891.6 L1233.0,3889.9 L1236.2,3888.1 L1239.3,3886.4 L1242.5,3884.7 L1245.6,3883.0 L1248.7,3881.3 L1251.9,3879.6 L1255.0,3877.9 L1258.2,3876.2 L1261.3,3874.5 L1264.5,3872.8 L1267.6,3871.1 L1270.8,3869.4 L1273.9,3867.8 L1277.1,3866.1 L1280.2,3864.4 L1283.4,3862.7 L1286.5,3861.0 L1289.7,3859.4 L1292.8,3857.7 L1296.0,3856.0 L1299.1,3854.4 L1302.2,3852.7 L1305.4,3851.1 L1308.5,3849.4 L1311.7,3847.8 L1314.8,3846.1 L1318.0,3844.5 L1321.1,3842.8 L1324.3,3841.2 L1327.4,3839.6 L1330.6,3837.9 L1333.7,3836.3 L1336.9,3834.7 L1340.0,3833.1 L1343.2,3831.5 L1346.3,3829.9 L1349.5,3828.3 L1352.6,3826.7 L1355.7,3825.1 L1358.9,3823.5 L1362.0,3821.9 L1365.2,3820.3 L1368.3,3818.8 L1371.5,3817.2 L1374.6,3815.6 L1377.8,3814.1 L1380.9,3812.5 L1384.1,3811.0 L1387.2,3809.5 L1390.4,3807.9 L1393.5,3806.4 L1396.7,3804.9 L1399.8,3803.4 L1403.0,3801.9 L1406.1,3800.4 L1409.2,3798.9 L1412.4,3797.4 L1415.5,3795.9 L1418.7,3794.4 L1421.8,3792.9 L1425.0,3791.5 L1428.1,3790.0 L1431.3,3788.5 L1434.4,3787.0 L1437.6,3785.6 L1440.7,3784.1 L1443.9,3782.6 L1447.0,3781.2 L1450.2,3779.7 L1453.3,3778.3 L1456.5,3776.8 L1459.6,3775.3 L1462.7,3773.9 L1465.9,3772.4 L1469.0,3771.0 L1472.2,3769.5 L1475.3,3768.0 L1478.5,3766.6 L1481.6,3765.1 L1484.8,3763.7 L1487.9,3762.2 L1491.1,3760.7 L1494.2,3759.3 L1497.4,3757.8 L1500.5,3756.3 L1503.7,3754.9 L1506.8,3753.4 L1510.0,3751.9 L1513.1,3750.4 L1516.2,3749.0 L1519.4,3747.5 L1522.5,3746.0 L1525.7,3744.5 L1528.8,3743.0 L1532.0,3741.5 L1535.1,3740.0 L1538.3,3738.5 L1541.4,3737.0 L1544.6,3735.5 L1547.7,3733.9 L1550.9,3732.4 L1554.0,3730.9 L1557.2,3729.4 L1560.3,3727.9 L1563.5,3726.3 L1566.6,3724.8 L1569.7,3723.3 L1572.9,3721.8 L1576.0,3720.2 L1579.2,3718.7 L1582.3,3717.2 L1585.5,3715.6 L1588.6,3714.1 L1591.8,3712.6 L1594.9,3711.0 L1598.1,3709.5 L1601.2,3708.0 L1604.4,3706.5 L1607.5,3704.9 L1610.7,3703.4 L1613.8,3701.9 L1617.0,3700.4 L1620.1,3698.8 L1623.3,3697.3 L1626.4,3695.8 L1629.5,3694.3 L1632.7,3692.8 L1635.8,3691.2 L1639.0,3689.7 L1642.1,3688.2 L1645.3,3686.7 L1648.4,3685.2 L1651.6,3683.7 L1654.7,3682.2 L1657.9,3680.7 L1661.0,3679.3 L1664.2,3677.8 L1667.3,3676.3 L1670.5,3674.8 L1673.6,3673.3 L1676.8,3671.9 L1679.9,3670.4 L1683.0,3669.0 L1686.2,3667.5 L1689.3,3666.1 L1692.5,3664.6 L1695.6,3663.2 L1698.8,3661.7 L1701.9,3660.3 L1705.1,3658.9 L1708.2,3657.4 L1711.4,3656.0 L1714.5,3654.6 L1717.7,3653.2 L1720.8,3651.8 L1724.0,3650.4 L1727.1,3649.0 L1730.3,3647.5 L1733.4,3646.1 L1736.5,3644.7 L1739.7,3643.3 L1742.8,3641.9 L1746.0,3640.5 L1749.1,3639.2 L1752.3,3637.8 L1755.4,3636.4 L1758.6,3635.0 L1761.7,3633.6 L1764.9,3632.2 L1768.0,3630.8 L1771.2,3629.4 L1774.3,3628.0 L1777.5,3626.7 L1780.6,3625.3 L1783.8,3623.9 L1786.9,3622.5 L1790.0,3621.1 L1793.2,3619.7 L1796.3,3618.4 L1799.5,3617.0 L1802.6,3615.6 L1805.8,3614.2 L1808.9,3612.8 L1812.1,3611.4 L1815.2,3610.0 L1818.4,3608.6 L1821.5,3607.3 L1824.7,3605.9 L1827.8,3604.5 L1831.0,3603.1 L1834.1,3601.7 L1837.3,3600.3 L1840.4,3598.9" fill="none" stroke="#000" stroke-width="6.2" stroke-linecap="round" stroke-linejoin="round" stroke-dasharray="9.5 11"/>
<path d="M270.0,3832.1 L273.1,3833.4 L276.3,3834.6 L279.4,3835.8 L282.6,3837.1 L285.7,3838.3 L288.9,3839.5 L292.0,3840.7 L295.2,3841.9 L298.3,3843.1 L301.5,3844.3 L304.6,3845.5 L307.8,3846.7 L310.9,3847.9 L314.1,3849.1 L317.2,3850.4 L320.4,3851.6 L323.5,3852.9 L326.6,3854.1 L329.8,3855.4 L332.9,3856.7 L336.1,3858.1 L339.2,3859.4 L342.4,3860.8 L345.5,3862.2 L348.7,3863.6 L351.8,3865.1 L355.0,3866.5 L358.1,3868.0 L361.3,3869.6 L364.4,3871.1 L367.6,3872.7 L370.7,3874.3 L373.9,3875.9 L377.0,3877.5 L380.1,3879.2 L383.3,3880.8 L386.4,3882.5 L389.6,3884.2 L392.7,3885.9 L395.9,3887.7 L399.0,3889.4 L402.2,3891.2 L405.3,3892.9 L408.5,3894.7 L411.6,3896.5 L414.8,3898.3 L417.9,3900.1 L421.1,3901.9 L424.2,3903.8 L427.4,3905.6 L430.5,3907.4 L433.6,3909.3 L436.8,3911.1 L439.9,3913.0 L443.1,3914.9 L446.2,3916.8 L449.4,3918.7 L452.5,3920.6 L455.7,3922.5 L458.8,3924.4 L462.0,3926.4 L465.1,3928.3 L468.3,3930.3 L471.4,3932.3 L474.6,3934.4 L477.7,3936.4 L480.9,3938.5 L484.0,3940.5 L487.1,3942.6 L490.3,3944.8 L493.4,3946.9 L496.6,3949.1 L499.7,3951.3 L502.9,3953.5 L506.0,3955.7 L509.2,3958.0 L512.3,3960.3 L515.5,3962.6 L518.6,3965.0 L521.8,3967.5 L524.9,3970.0 L528.1,3972.6 L531.2,3975.2 L534.4,3977.8 L537.5,3980.5 L540.7,3983.2 L543.8,3985.9 L546.9,3988.7 L550.1,3991.5 L553.2,3994.3 L556.4,3997.1 L559.5,3999.9 L562.7,4002.7 L565.8,4005.5 L569.0,4008.3 L572.1,4011.0 L575.3,4013.8 L578.4,4016.5 L581.6,4019.3 L584.7,4021.9 L587.9,4024.6 L591.0,4027.3 L594.2,4030.0 L597.3,4032.6 L600.4,4035.3 L603.6,4038.0 L606.7,4040.7 L609.9,4043.3 L613.0,4046.0 L616.2,4048.7 L619.3,4051.4 L622.5,4054.0 L625.6,4056.7 L628.8,4059.4 L631.9,4062.0 L635.1,4064.7 L638.2,4067.3 L641.4,4070.0 L644.5,4072.6 L647.7,4075.2 L650.8,4077.8 L653.9,4080.4 L657.1,4083.0 L660.2,4085.6 L663.4,4088.2 L666.5,4090.9 L669.7,4093.6 L672.8,4096.4 L676.0,4099.2 L679.1,4102.0 L682.3,4104.8 L685.4,4107.6 L688.6,4110.3 L691.7,4112.9 L694.9,4115.5 L698.0,4117.8 L701.2,4120.1 L704.3,4122.2 L707.4,4124.0 L710.6,4125.7 L713.7,4127.3 L716.9,4129.0 L720.0,4130.6 L723.2,4132.2 L726.3,4133.6 L729.5,4134.9 L732.6,4135.9 L735.8,4136.7 L738.9,4137.2 L742.1,4137.4 L745.2,4137.5 L748.4,4137.6 L751.5,4137.6 L754.7,4137.7 L757.8,4137.7 L760.9,4137.8 L764.1,4137.8 L767.2,4137.8 L770.4,4137.8 L773.5,4137.8 L776.7,4137.7 L779.8,4137.5 L783.0,4137.2 L786.1,4136.9 L789.3,4136.4 L792.4,4135.9 L795.6,4135.4 L798.7,4134.9 L801.9,4134.3 L805.0,4133.8 L808.2,4133.3 L811.3,4132.8 L814.4,4132.3 L817.6,4131.7 L820.7,4131.2 L823.9,4130.6 L827.0,4130.1 L830.2,4129.5 L833.3,4128.9 L836.5,4128.3 L839.6,4127.6 L842.8,4127.0 L845.9,4126.3 L849.1,4125.6 L852.2,4124.9 L855.4,4124.2 L858.5,4123.4 L861.7,4122.7 L864.8,4121.9 L867.9,4121.1 L871.1,4120.3 L874.2,4119.4 L877.4,4118.6 L880.5,4117.7 L883.7,4116.8 L886.8,4115.8 L890.0,4114.9 L893.1,4113.9 L896.3,4112.9 L899.4,4111.8 L902.6,4110.7 L905.7,4109.5 L908.9,4108.3 L912.0,4106.9 L915.2,4105.5 L918.3,4104.0 L921.4,4102.5 L924.6,4100.8 L927.7,4099.1 L930.9,4097.4 L934.0,4095.6 L937.2,4093.7 L940.3,4091.8 L943.5,4089.9 L946.6,4087.9 L949.8,4085.8 L952.9,4083.7 L956.1,4081.6 L959.2,4079.5 L962.4,4077.3 L965.5,4075.1 L968.7,4072.8 L971.8,4070.6 L974.9,4068.3 L978.1,4066.0 L981.2,4063.7 L984.4,4061.4 L987.5,4059.0 L990.7,4056.7 L993.8,4054.3 L997.0,4052.0 L1000.1,4049.7 L1003.3,4047.3 L1006.4,4045.0 L1009.6,4042.7 L1012.7,4040.4 L1015.9,4038.1 L1019.0,4035.9 L1022.2,4033.6 L1025.3,4031.4 L1028.4,4029.2 L1031.6,4027.1 L1034.7,4024.9 L1037.9,4022.9 L1041.0,4020.8 L1044.2,4018.8 L1047.3,4016.9 L1050.5,4015.0 L1053.6,4013.1 L1056.8,4011.3 L1059.9,4009.5 L1063.1,4007.7 L1066.2,4005.9 L1069.4,4004.2 L1072.5,4002.4 L1075.7,4000.7 L1078.8,3999.0 L1082.0,3997.2 L1085.1,3995.5 L1088.2,3993.8 L1091.4,3992.1 L1094.5,3990.4 L1097.7,3988.7 L1100.8,3987.1 L1104.0,3985.4 L1107.1,3983.7 L1110.3,3982.1 L1113.4,3980.4 L1116.6,3978.8 L1119.7,3977.1 L1122.9,3975.5 L1126.0,3973.9 L1129.2,3972.3 L1132.3,3970.6 L1135.5,3969.0 L1138.6,3967.4 L1141.7,3965.8 L1144.9,3964.2 L1148.0,3962.6 L1151.2,3961.0 L1154.3,3959.5 L1157.5,3957.9 L1160.6,3956.3 L1163.8,3954.7 L1166.9,3953.1 L1170.1,3951.6 L1173.2,3950.0 L1176.4,3948.4 L1179.5,3946.8 L1182.7,3945.3 L1185.8,3943.7 L1189.0,3942.1 L1192.1,3940.6 L1195.2,3939.0 L1198.4,3937.4 L1201.5,3935.9 L1204.7,3934.3 L1207.8,3932.7 L1211.0,3931.2 L1214.1,3929.6 L1217.3,3928.0 L1220.4,3926.5 L1223.6,3924.9 L1226.7,3923.3 L1229.9,3921.8 L1233.0,3920.2 L1236.2,3918.7 L1239.3,3917.1 L1242.5,3915.6 L1245.6,3914.0 L1248.7,3912.5 L1251.9,3911.0 L1255.0,3909.4 L1258.2,3907.9 L1261.3,3906.4 L1264.5,3904.9 L1267.6,3903.3 L1270.8,3901.8 L1273.9,3900.3 L1277.1,3898.8 L1280.2,3897.3 L1283.4,3895.7 L1286.5,3894.2 L1289.7,3892.7 L1292.8,3891.2 L1296.0,3889.7 L1299.1,3888.2 L1302.2,3886.7 L1305.4,3885.2 L1308.5,3883.7 L1311.7,3882.2 L1314.8,3880.7 L1318.0,3879.2 L1321.1,3877.8 L1324.3,3876.3 L1327.4,3874.8 L1330.6,3873.3 L1333.7,3871.8 L1336.9,3870.3 L1340.0,3868.9 L1343.2,3867.4 L1346.3,3865.9 L1349.5,3864.4 L1352.6,3862.9 L1355.7,3861.5 L1358.9,3860.0 L1362.0,3858.5 L1365.2,3857.1 L1368.3,3855.6 L1371.5,3854.1 L1374.6,3852.7 L1377.8,3851.2 L1380.9,3849.7 L1384.1,3848.3 L1387.2,3846.8 L1390.4,3845.4 L1393.5,3843.9 L1396.7,3842.5 L1399.8,3841.0 L1403.0,3839.6 L1406.1,3838.1 L1409.2,3836.7 L1412.4,3835.3 L1415.5,3833.8 L1418.7,3832.4 L1421.8,3831.0 L1425.0,3829.5 L1428.1,3828.1 L1431.3,3826.7 L1434.4,3825.2 L1437.6,3823.8 L1440.7,3822.4 L1443.9,3821.0 L1447.0,3819.5 L1450.2,3818.1 L1453.3,3816.7 L1456.5,3815.3 L1459.6,3813.9 L1462.7,3812.4 L1465.9,3811.0 L1469.0,3809.6 L1472.2,3808.2 L1475.3,3806.8 L1478.5,3805.4 L1481.6,3804.0 L1484.8,3802.5 L1487.9,3801.1 L1491.1,3799.7 L1494.2,3798.3 L1497.4,3796.9 L1500.5,3795.5 L1503.7,3794.1 L1506.8,3792.7 L1510.0,3791.3 L1513.1,3789.9 L1516.2,3788.5 L1519.4,3787.1 L1522.5,3785.7 L1525.7,3784.2 L1528.8,3782.8 L1532.0,3781.4 L1535.1,3780.0 L1538.3,3778.6 L1541.4,3777.2 L1544.6,3775.8 L1547.7,3774.4 L1550.9,3773.0 L1554.0,3771.6 L1557.2,3770.2 L1560.3,3768.8 L1563.5,3767.4 L1566.6,3766.0 L1569.7,3764.6 L1572.9,3763.2 L1576.0,3761.8 L1579.2,3760.4 L1582.3,3759.0 L1585.5,3757.6 L1588.6,3756.2 L1591.8,3754.8 L1594.9,3753.4 L1598.1,3752.0 L1601.2,3750.6 L1604.4,3749.2 L1607.5,3747.8 L1610.7,3746.5 L1613.8,3745.1 L1617.0,3743.7 L1620.1,3742.3 L1623.3,3740.9 L1626.4,3739.5 L1629.5,3738.2 L1632.7,3736.8 L1635.8,3735.4 L1639.0,3734.0 L1642.1,3732.7 L1645.3,3731.3 L1648.4,3729.9 L1651.6,3728.5 L1654.7,3727.2 L1657.9,3725.8 L1661.0,3724.5 L1664.2,3723.1 L1667.3,3721.7 L1670.5,3720.4 L1673.6,3719.0 L1676.8,3717.7 L1679.9,3716.4 L1683.0,3715.0 L1686.2,3713.7 L1689.3,3712.3 L1692.5,3711.0 L1695.6,3709.7 L1698.8,3708.3 L1701.9,3707.0 L1705.1,3705.7 L1708.2,3704.4 L1711.4,3703.1 L1714.5,3701.7 L1717.7,3700.4 L1720.8,3699.1 L1724.0,3697.8 L1727.1,3696.5 L1730.3,3695.2 L1733.4,3693.9 L1736.5,3692.6 L1739.7,3691.3 L1742.8,3690.0 L1746.0,3688.7 L1749.1,3687.4 L1752.3,3686.1 L1755.4,3684.8 L1758.6,3683.5 L1761.7,3682.2 L1764.9,3680.9 L1768.0,3679.7 L1771.2,3678.4 L1774.3,3677.1 L1777.5,3675.8 L1780.6,3674.5 L1783.8,3673.2 L1786.9,3671.9 L1790.0,3670.6 L1793.2,3669.4 L1796.3,3668.1 L1799.5,3666.8 L1802.6,3665.5 L1805.8,3664.2 L1808.9,3662.9 L1812.1,3661.6 L1815.2,3660.3 L1818.4,3659.0 L1821.5,3657.7 L1824.7,3656.5 L1827.8,3655.2 L1831.0,3653.9 L1834.1,3652.6 L1837.3,3651.3 L1840.4,3650.0" fill="none" stroke="#000" stroke-width="6.2" stroke-linecap="round" stroke-linejoin="round" stroke-dasharray="14.5 20.1"/>
<path d="M270.0,3842.6 L273.1,3843.8 L276.3,3844.9 L279.4,3846.1 L282.6,3847.2 L285.7,3848.4 L288.9,3849.5 L292.0,3850.6 L295.2,3851.7 L298.3,3852.9 L301.5,3854.0 L304.6,3855.1 L307.8,3856.3 L310.9,3857.4 L314.1,3858.5 L317.2,3859.7 L320.4,3860.9 L323.5,3862.0 L326.6,3863.2 L329.8,3864.4 L332.9,3865.6 L336.1,3866.9 L339.2,3868.1 L342.4,3869.4 L345.5,3870.7 L348.7,3872.0 L351.8,3873.3 L355.0,3874.7 L358.1,3876.0 L361.3,3877.4 L364.4,3878.8 L367.6,3880.2 L370.7,3881.6 L373.9,3883.1 L377.0,3884.5 L380.1,3886.0 L383.3,3887.5 L386.4,3889.0 L389.6,3890.5 L392.7,3892.1 L395.9,3893.6 L399.0,3895.2 L402.2,3896.7 L405.3,3898.3 L408.5,3899.9 L411.6,3901.5 L414.8,3903.2 L417.9,3904.8 L421.1,3906.4 L424.2,3908.1 L427.4,3909.8 L430.5,3911.4 L433.6,3913.1 L436.8,3914.8 L439.9,3916.5 L443.1,3918.2 L446.2,3919.9 L449.4,3921.7 L452.5,3923.4 L455.7,3925.2 L458.8,3926.9 L462.0,3928.7 L465.1,3930.5 L468.3,3932.4 L471.4,3934.2 L474.6,3936.1 L477.7,3937.9 L480.9,3939.9 L484.0,3941.8 L487.1,3943.7 L490.3,3945.7 L493.4,3947.7 L496.6,3949.7 L499.7,3951.8 L502.9,3953.9 L506.0,3956.0 L509.2,3958.2 L512.3,3960.3 L515.5,3962.6 L518.6,3964.9 L521.8,3967.3 L524.9,3969.7 L528.1,3972.2 L531.2,3974.8 L534.4,3977.4 L537.5,3980.1 L540.7,3982.8 L543.8,3985.6 L546.9,3988.3 L550.1,3991.1 L553.2,3993.9 L556.4,3996.7 L559.5,3999.5 L562.7,4002.3 L565.8,4005.1 L569.0,4007.8 L572.1,4010.6 L575.3,4013.2 L578.4,4015.9 L581.6,4018.5 L584.7,4021.1 L587.9,4023.6 L591.0,4026.1 L594.2,4028.7 L597.3,4031.2 L600.4,4033.7 L603.6,4036.2 L606.7,4038.8 L609.9,4041.3 L613.0,4043.8 L616.2,4046.2 L619.3,4048.7 L622.5,4051.2 L625.6,4053.6 L628.8,4056.1 L631.9,4058.5 L635.1,4060.9 L638.2,4063.3 L641.4,4065.7 L644.5,4068.1 L647.7,4070.4 L650.8,4072.7 L653.9,4075.0 L657.1,4077.3 L660.2,4079.6 L663.4,4081.8 L666.5,4084.1 L669.7,4086.5 L672.8,4088.9 L676.0,4091.2 L679.1,4093.6 L682.3,4096.0 L685.4,4098.3 L688.6,4100.6 L691.7,4102.7 L694.9,4104.8 L698.0,4106.8 L701.2,4108.6 L704.3,4110.2 L707.4,4111.7 L710.6,4113.0 L713.7,4114.2 L716.9,4115.2 L720.0,4116.2 L723.2,4117.1 L726.3,4118.0 L729.5,4118.8 L732.6,4119.6 L735.8,4120.4 L738.9,4121.3 L742.1,4122.2 L745.2,4123.1 L748.4,4124.2 L751.5,4125.3 L754.7,4126.4 L757.8,4127.5 L760.9,4128.6 L764.1,4129.7 L767.2,4130.8 L770.4,4131.7 L773.5,4132.6 L776.7,4133.4 L779.8,4134.0 L783.0,4134.5 L786.1,4134.8 L789.3,4134.9 L792.4,4135.0 L795.6,4135.0 L798.7,4135.1 L801.9,4135.2 L805.0,4135.2 L808.2,4135.2 L811.3,4135.3 L814.4,4135.3 L817.6,4135.3 L820.7,4135.3 L823.9,4135.3 L827.0,4135.3 L830.2,4135.2 L833.3,4135.1 L836.5,4135.1 L839.6,4135.0 L842.8,4134.9 L845.9,4134.8 L849.1,4134.6 L852.2,4134.5 L855.4,4134.3 L858.5,4134.2 L861.7,4134.0 L864.8,4133.8 L867.9,4133.6 L871.1,4133.4 L874.2,4133.1 L877.4,4132.9 L880.5,4132.7 L883.7,4132.4 L886.8,4132.1 L890.0,4131.9 L893.1,4131.6 L896.3,4131.3 L899.4,4131.0 L902.6,4130.6 L905.7,4130.0 L908.9,4129.4 L912.0,4128.6 L915.2,4127.7 L918.3,4126.7 L921.4,4125.6 L924.6,4124.5 L927.7,4123.2 L930.9,4121.9 L934.0,4120.6 L937.2,4119.2 L940.3,4117.7 L943.5,4116.2 L946.6,4114.6 L949.8,4113.1 L952.9,4111.5 L956.1,4109.9 L959.2,4108.3 L962.4,4106.7 L965.5,4105.1 L968.7,4103.5 L971.8,4101.9 L974.9,4100.3 L978.1,4098.6 L981.2,4096.7 L984.4,4094.8 L987.5,4092.9 L990.7,4090.8 L993.8,4088.7 L997.0,4086.6 L1000.1,4084.4 L1003.3,4082.1 L1006.4,4079.9 L1009.6,4077.6 L1012.7,4075.3 L1015.9,4073.0 L1019.0,4070.6 L1022.2,4068.3 L1025.3,4066.0 L1028.4,4063.7 L1031.6,4061.4 L1034.7,4059.2 L1037.9,4057.0 L1041.0,4054.8 L1044.2,4052.7 L1047.3,4050.6 L1050.5,4048.6 L1053.6,4046.6 L1056.8,4044.8 L1059.9,4042.9 L1063.1,4041.1 L1066.2,4039.2 L1069.4,4037.4 L1072.5,4035.6 L1075.7,4033.8 L1078.8,4032.0 L1082.0,4030.3 L1085.1,4028.5 L1088.2,4026.8 L1091.4,4025.0 L1094.5,4023.3 L1097.7,4021.6 L1100.8,4019.9 L1104.0,4018.2 L1107.1,4016.5 L1110.3,4014.8 L1113.4,4013.2 L1116.6,4011.5 L1119.7,4009.9 L1122.9,4008.2 L1126.0,4006.6 L1129.2,4005.0 L1132.3,4003.3 L1135.5,4001.7 L1138.6,4000.1 L1141.7,3998.5 L1144.9,3997.0 L1148.0,3995.4 L1151.2,3993.8 L1154.3,3992.2 L1157.5,3990.7 L1160.6,3989.1 L1163.8,3987.5 L1166.9,3986.0 L1170.1,3984.4 L1173.2,3982.9 L1176.4,3981.4 L1179.5,3979.8 L1182.7,3978.3 L1185.8,3976.8 L1189.0,3975.2 L1192.1,3973.7 L1195.2,3972.2 L1198.4,3970.7 L1201.5,3969.2 L1204.7,3967.7 L1207.8,3966.1 L1211.0,3964.6 L1214.1,3963.1 L1217.3,3961.6 L1220.4,3960.1 L1223.6,3958.6 L1226.7,3957.2 L1229.9,3955.7 L1233.0,3954.2 L1236.2,3952.8 L1239.3,3951.3 L1242.5,3949.8 L1245.6,3948.4 L1248.7,3947.0 L1251.9,3945.5 L1255.0,3944.1 L1258.2,3942.7 L1261.3,3941.2 L1264.5,3939.8 L1267.6,3938.4 L1270.8,3937.0 L1273.9,3935.6 L1277.1,3934.2 L1280.2,3932.8 L1283.4,3931.4 L1286.5,3930.0 L1289.7,3928.6 L1292.8,3927.2 L1296.0,3925.9 L1299.1,3924.5 L1302.2,3923.1 L1305.4,3921.7 L1308.5,3920.4 L1311.7,3919.0 L1314.8,3917.6 L1318.0,3916.3 L1321.1,3914.9 L1324.3,3913.5 L1327.4,3912.2 L1330.6,3910.8 L1333.7,3909.5 L1336.9,3908.1 L1340.0,3906.7 L1343.2,3905.4 L1346.3,3904.0 L1349.5,3902.7 L1352.6,3901.3 L1355.7,3900.0 L1358.9,3898.6 L1362.0,3897.2 L1365.2,3895.9 L1368.3,3894.5 L1371.5,3893.1 L1374.6,3891.8 L1377.8,3890.4 L1380.9,3889.1 L1384.1,3887.7 L1387.2,3886.4 L1390.4,3885.0 L1393.5,3883.7 L1396.7,3882.4 L1399.8,3881.0 L1403.0,3879.7 L1406.1,3878.4 L1409.2,3877.0 L1412.4,3875.7 L1415.5,3874.4 L1418.7,3873.0 L1421.8,3871.7 L1425.0,3870.4 L1428.1,3869.1 L1431.3,3867.8 L1434.4,3866.4 L1437.6,3865.1 L1440.7,3863.8 L1443.9,3862.5 L1447.0,3861.2 L1450.2,3859.9 L1453.3,3858.5 L1456.5,3857.2 L1459.6,3855.9 L1462.7,3854.6 L1465.9,3853.3 L1469.0,3852.0 L1472.2,3850.7 L1475.3,3849.3 L1478.5,3848.0 L1481.6,3846.7 L1484.8,3845.4 L1487.9,3844.1 L1491.1,3842.8 L1494.2,3841.5 L1497.4,3840.1 L1500.5,3838.8 L1503.7,3837.5 L1506.8,3836.2 L1510.0,3834.8 L1513.1,3833.5 L1516.2,3832.2 L1519.4,3830.9 L1522.5,3829.5 L1525.7,3828.2 L1528.8,3826.9 L1532.0,3825.5 L1535.1,3824.2 L1538.3,3822.9 L1541.4,3821.5 L1544.6,3820.2 L1547.7,3818.8 L1550.9,3817.5 L1554.0,3816.2 L1557.2,3814.8 L1560.3,3813.5 L1563.5,3812.1 L1566.6,3810.8 L1569.7,3809.4 L1572.9,3808.1 L1576.0,3806.8 L1579.2,3805.4 L1582.3,3804.1 L1585.5,3802.7 L1588.6,3801.4 L1591.8,3800.0 L1594.9,3798.7 L1598.1,3797.3 L1601.2,3796.0 L1604.4,3794.6 L1607.5,3793.3 L1610.7,3791.9 L1613.8,3790.6 L1617.0,3789.3 L1620.1,3787.9 L1623.3,3786.6 L1626.4,3785.2 L1629.5,3783.9 L1632.7,3782.5 L1635.8,3781.2 L1639.0,3779.8 L1642.1,3778.5 L1645.3,3777.1 L1648.4,3775.8 L1651.6,3774.5 L1654.7,3773.1 L1657.9,3771.8 L1661.0,3770.4 L1664.2,3769.1 L1667.3,3767.8 L1670.5,3766.4 L1673.6,3765.1 L1676.8,3763.7 L1679.9,3762.4 L1683.0,3761.1 L1686.2,3759.7 L1689.3,3758.4 L1692.5,3757.1 L1695.6,3755.7 L1698.8,3754.4 L1701.9,3753.1 L1705.1,3751.7 L1708.2,3750.4 L1711.4,3749.1 L1714.5,3747.8 L1717.7,3746.4 L1720.8,3745.1 L1724.0,3743.8 L1727.1,3742.4 L1730.3,3741.1 L1733.4,3739.8 L1736.5,3738.5 L1739.7,3737.1 L1742.8,3735.8 L1746.0,3734.5 L1749.1,3733.2 L1752.3,3731.8 L1755.4,3730.5 L1758.6,3729.2 L1761.7,3727.9 L1764.9,3726.5 L1768.0,3725.2 L1771.2,3723.9 L1774.3,3722.6 L1777.5,3721.3 L1780.6,3719.9 L1783.8,3718.6 L1786.9,3717.3 L1790.0,3716.0 L1793.2,3714.6 L1796.3,3713.3 L1799.5,3712.0 L1802.6,3710.7 L1805.8,3709.3 L1808.9,3708.0 L1812.1,3706.7 L1815.2,3705.4 L1818.4,3704.0 L1821.5,3702.7 L1824.7,3701.4 L1827.8,3700.1 L1831.0,3698.8 L1834.1,3697.4 L1837.3,3696.1 L1840.4,3694.8" fill="none" stroke="#000" stroke-width="5.8" stroke-linecap="butt" stroke-linejoin="round"/>
<path d="M270.0,3853.1 L273.1,3854.2 L276.3,3855.2 L279.4,3856.3 L282.6,3857.4 L285.7,3858.5 L288.9,3859.5 L292.0,3860.6 L295.2,3861.7 L298.3,3862.7 L301.5,3863.8 L304.6,3864.9 L307.8,3865.9 L310.9,3867.0 L314.1,3868.1 L317.2,3869.1 L320.4,3870.2 L323.5,3871.3 L326.6,3872.4 L329.8,3873.5 L332.9,3874.6 L336.1,3875.8 L339.2,3876.9 L342.4,3878.0 L345.5,3879.2 L348.7,3880.3 L351.8,3881.5 L355.0,3882.7 L358.1,3883.8 L361.3,3885.0 L364.4,3886.2 L367.6,3887.3 L370.7,3888.5 L373.9,3889.7 L377.0,3890.9 L380.1,3892.1 L383.3,3893.3 L386.4,3894.5 L389.6,3895.7 L392.7,3897.0 L395.9,3898.2 L399.0,3899.5 L402.2,3900.8 L405.3,3902.1 L408.5,3903.4 L411.6,3904.8 L414.8,3906.1 L417.9,3907.5 L421.1,3908.9 L424.2,3910.4 L427.4,3911.8 L430.5,3913.3 L433.6,3914.8 L436.8,3916.4 L439.9,3917.9 L443.1,3919.5 L446.2,3921.1 L449.4,3922.8 L452.5,3924.4 L455.7,3926.1 L458.8,3927.8 L462.0,3929.5 L465.1,3931.2 L468.3,3933.0 L471.4,3934.8 L474.6,3936.6 L477.7,3938.5 L480.9,3940.3 L484.0,3942.2 L487.1,3944.1 L490.3,3946.1 L493.4,3948.0 L496.6,3950.0 L499.7,3952.1 L502.9,3954.1 L506.0,3956.2 L509.2,3958.2 L512.3,3960.4 L515.5,3962.5 L518.6,3964.8 L521.8,3967.1 L524.9,3969.5 L528.1,3972.0 L531.2,3974.5 L534.4,3977.1 L537.5,3979.8 L540.7,3982.4 L543.8,3985.2 L546.9,3987.9 L550.1,3990.6 L553.2,3993.4 L556.4,3996.2 L559.5,3998.9 L562.7,4001.7 L565.8,4004.4 L569.0,4007.1 L572.1,4009.7 L575.3,4012.3 L578.4,4014.9 L581.6,4017.4 L584.7,4019.8 L587.9,4022.2 L591.0,4024.6 L594.2,4026.9 L597.3,4029.3 L600.4,4031.7 L603.6,4034.0 L606.7,4036.4 L609.9,4038.7 L613.0,4041.0 L616.2,4043.3 L619.3,4045.6 L622.5,4047.8 L625.6,4050.1 L628.8,4052.3 L631.9,4054.5 L635.1,4056.7 L638.2,4058.9 L641.4,4061.0 L644.5,4063.2 L647.7,4065.3 L650.8,4067.4 L653.9,4069.4 L657.1,4071.5 L660.2,4073.5 L663.4,4075.5 L666.5,4077.5 L669.7,4079.5 L672.8,4081.5 L676.0,4083.6 L679.1,4085.6 L682.3,4087.6 L685.4,4089.6 L688.6,4091.5 L691.7,4093.4 L694.9,4095.3 L698.0,4097.2 L701.2,4099.0 L704.3,4100.7 L707.4,4102.4 L710.6,4104.0 L713.7,4105.6 L716.9,4107.0 L720.0,4108.4 L723.2,4109.7 L726.3,4110.8 L729.5,4111.8 L732.6,4112.8 L735.8,4113.7 L738.9,4114.8 L742.1,4116.0 L745.2,4117.5 L748.4,4119.2 L751.5,4120.9 L754.7,4122.6 L757.8,4124.0 L760.9,4125.1 L764.1,4126.1 L767.2,4127.0 L770.4,4127.9 L773.5,4128.7 L776.7,4129.5 L779.8,4130.3 L783.0,4131.0 L786.1,4131.6 L789.3,4132.2 L792.4,4132.8 L795.6,4133.3 L798.7,4133.8 L801.9,4134.2 L805.0,4134.6 L808.2,4135.0 L811.3,4135.3 L814.4,4135.7 L817.6,4136.0 L820.7,4136.4 L823.9,4136.7 L827.0,4137.0 L830.2,4137.3 L833.3,4137.5 L836.5,4137.7 L839.6,4137.9 L842.8,4138.1 L845.9,4138.2 L849.1,4138.2 L852.2,4138.2 L855.4,4138.2 L858.5,4138.1 L861.7,4138.0 L864.8,4137.9 L867.9,4137.8 L871.1,4137.6 L874.2,4137.4 L877.4,4137.2 L880.5,4136.9 L883.7,4136.7 L886.8,4136.4 L890.0,4136.1 L893.1,4135.8 L896.3,4135.5 L899.4,4135.2 L902.6,4134.8 L905.7,4134.3 L908.9,4133.7 L912.0,4133.0 L915.2,4132.3 L918.3,4131.5 L921.4,4130.6 L924.6,4129.7 L927.7,4128.8 L930.9,4127.8 L934.0,4126.8 L937.2,4125.8 L940.3,4124.8 L943.5,4123.7 L946.6,4122.7 L949.8,4121.6 L952.9,4120.5 L956.1,4119.3 L959.2,4118.1 L962.4,4116.8 L965.5,4115.5 L968.7,4114.1 L971.8,4112.7 L974.9,4111.2 L978.1,4109.7 L981.2,4108.2 L984.4,4106.7 L987.5,4105.1 L990.7,4103.5 L993.8,4101.8 L997.0,4100.2 L1000.1,4098.5 L1003.3,4096.8 L1006.4,4095.1 L1009.6,4093.4 L1012.7,4091.7 L1015.9,4090.0 L1019.0,4088.3 L1022.2,4086.6 L1025.3,4084.9 L1028.4,4083.1 L1031.6,4081.4 L1034.7,4079.7 L1037.9,4078.1 L1041.0,4076.4 L1044.2,4074.7 L1047.3,4073.1 L1050.5,4071.5 L1053.6,4069.9 L1056.8,4068.4 L1059.9,4066.8 L1063.1,4065.2 L1066.2,4063.7 L1069.4,4062.1 L1072.5,4060.5 L1075.7,4059.0 L1078.8,4057.4 L1082.0,4055.8 L1085.1,4054.2 L1088.2,4052.6 L1091.4,4051.0 L1094.5,4049.4 L1097.7,4047.8 L1100.8,4046.3 L1104.0,4044.7 L1107.1,4043.1 L1110.3,4041.5 L1113.4,4039.9 L1116.6,4038.3 L1119.7,4036.7 L1122.9,4035.1 L1126.0,4033.5 L1129.2,4031.9 L1132.3,4030.3 L1135.5,4028.7 L1138.6,4027.1 L1141.7,4025.6 L1144.9,4024.0 L1148.0,4022.4 L1151.2,4020.8 L1154.3,4019.2 L1157.5,4017.7 L1160.6,4016.1 L1163.8,4014.6 L1166.9,4013.0 L1170.1,4011.4 L1173.2,4009.9 L1176.4,4008.4 L1179.5,4006.8 L1182.7,4005.3 L1185.8,4003.8 L1189.0,4002.3 L1192.1,4000.7 L1195.2,3999.2 L1198.4,3997.7 L1201.5,3996.3 L1204.7,3994.8 L1207.8,3993.3 L1211.0,3991.8 L1214.1,3990.4 L1217.3,3988.9 L1220.4,3987.5 L1223.6,3986.0 L1226.7,3984.6 L1229.9,3983.2 L1233.0,3981.7 L1236.2,3980.3 L1239.3,3978.9 L1242.5,3977.4 L1245.6,3976.0 L1248.7,3974.6 L1251.9,3973.2 L1255.0,3971.8 L1258.2,3970.4 L1261.3,3969.0 L1264.5,3967.6 L1267.6,3966.2 L1270.8,3964.8 L1273.9,3963.5 L1277.1,3962.1 L1280.2,3960.7 L1283.4,3959.3 L1286.5,3958.0 L1289.7,3956.6 L1292.8,3955.2 L1296.0,3953.9 L1299.1,3952.5 L1302.2,3951.2 L1305.4,3949.8 L1308.5,3948.5 L1311.7,3947.1 L1314.8,3945.8 L1318.0,3944.4 L1321.1,3943.1 L1324.3,3941.8 L1327.4,3940.4 L1330.6,3939.1 L1333.7,3937.8 L1336.9,3936.5 L1340.0,3935.2 L1343.2,3933.8 L1346.3,3932.5 L1349.5,3931.2 L1352.6,3929.9 L1355.7,3928.6 L1358.9,3927.3 L1362.0,3926.0 L1365.2,3924.7 L1368.3,3923.4 L1371.5,3922.1 L1374.6,3920.8 L1377.8,3919.5 L1380.9,3918.2 L1384.1,3916.9 L1387.2,3915.7 L1390.4,3914.4 L1393.5,3913.1 L1396.7,3911.9 L1399.8,3910.6 L1403.0,3909.4 L1406.1,3908.1 L1409.2,3906.9 L1412.4,3905.6 L1415.5,3904.4 L1418.7,3903.1 L1421.8,3901.9 L1425.0,3900.7 L1428.1,3899.4 L1431.3,3898.2 L1434.4,3897.0 L1437.6,3895.7 L1440.7,3894.5 L1443.9,3893.3 L1447.0,3892.1 L1450.2,3890.9 L1453.3,3889.6 L1456.5,3888.4 L1459.6,3887.2 L1462.7,3886.0 L1465.9,3884.8 L1469.0,3883.6 L1472.2,3882.3 L1475.3,3881.1 L1478.5,3879.9 L1481.6,3878.7 L1484.8,3877.5 L1487.9,3876.3 L1491.1,3875.1 L1494.2,3873.9 L1497.4,3872.6 L1500.5,3871.4 L1503.7,3870.2 L1506.8,3869.0 L1510.0,3867.8 L1513.1,3866.6 L1516.2,3865.3 L1519.4,3864.1 L1522.5,3862.9 L1525.7,3861.7 L1528.8,3860.5 L1532.0,3859.2 L1535.1,3858.0 L1538.3,3856.8 L1541.4,3855.5 L1544.6,3854.3 L1547.7,3853.1 L1550.9,3851.9 L1554.0,3850.6 L1557.2,3849.4 L1560.3,3848.2 L1563.5,3846.9 L1566.6,3845.7 L1569.7,3844.5 L1572.9,3843.3 L1576.0,3842.0 L1579.2,3840.8 L1582.3,3839.6 L1585.5,3838.3 L1588.6,3837.1 L1591.8,3835.9 L1594.9,3834.7 L1598.1,3833.4 L1601.2,3832.2 L1604.4,3831.0 L1607.5,3829.8 L1610.7,3828.5 L1613.8,3827.3 L1617.0,3826.1 L1620.1,3824.9 L1623.3,3823.7 L1626.4,3822.5 L1629.5,3821.2 L1632.7,3820.0 L1635.8,3818.8 L1639.0,3817.6 L1642.1,3816.4 L1645.3,3815.2 L1648.4,3814.0 L1651.6,3812.8 L1654.7,3811.6 L1657.9,3810.4 L1661.0,3809.2 L1664.2,3808.0 L1667.3,3806.8 L1670.5,3805.6 L1673.6,3804.4 L1676.8,3803.2 L1679.9,3802.0 L1683.0,3800.8 L1686.2,3799.7 L1689.3,3798.5 L1692.5,3797.3 L1695.6,3796.1 L1698.8,3795.0 L1701.9,3793.8 L1705.1,3792.6 L1708.2,3791.5 L1711.4,3790.3 L1714.5,3789.1 L1717.7,3788.0 L1720.8,3786.8 L1724.0,3785.7 L1727.1,3784.5 L1730.3,3783.3 L1733.4,3782.2 L1736.5,3781.0 L1739.7,3779.9 L1742.8,3778.8 L1746.0,3777.6 L1749.1,3776.5 L1752.3,3775.3 L1755.4,3774.2 L1758.6,3773.0 L1761.7,3771.9 L1764.9,3770.7 L1768.0,3769.6 L1771.2,3768.5 L1774.3,3767.3 L1777.5,3766.2 L1780.6,3765.0 L1783.8,3763.9 L1786.9,3762.8 L1790.0,3761.6 L1793.2,3760.5 L1796.3,3759.4 L1799.5,3758.2 L1802.6,3757.1 L1805.8,3755.9 L1808.9,3754.8 L1812.1,3753.7 L1815.2,3752.5 L1818.4,3751.4 L1821.5,3750.2 L1824.7,3749.1 L1827.8,3747.9 L1831.0,3746.8 L1834.1,3745.6 L1837.3,3744.5 L1840.4,3743.3" fill="none" stroke="#000" stroke-width="6.2" stroke-linecap="round" stroke-linejoin="round" stroke-dasharray="34.5 19.8 0 20.7"/>
<path d="M270.0,3862.3 L273.1,3863.5 L276.3,3864.8 L279.4,3866.1 L282.6,3867.3 L285.7,3868.6 L288.9,3869.9 L292.0,3871.1 L295.2,3872.4 L298.3,3873.6 L301.5,3874.8 L304.6,3875.9 L307.8,3877.1 L310.9,3878.2 L314.1,3879.2 L317.2,3880.3 L320.4,3881.3 L323.5,3882.4 L326.6,3883.4 L329.8,3884.4 L332.9,3885.5 L336.1,3886.5 L339.2,3887.6 L342.4,3888.6 L345.5,3889.7 L348.7,3890.8 L351.8,3892.0 L355.0,3893.2 L358.1,3894.4 L361.3,3895.7 L364.4,3897.0 L367.6,3898.2 L370.7,3899.5 L373.9,3900.7 L377.0,3901.9 L380.1,3903.0 L383.3,3904.1 L386.4,3905.1 L389.6,3905.9 L392.7,3906.7 L395.9,3907.4 L399.0,3908.1 L402.2,3908.7 L405.3,3909.3 L408.5,3909.9 L411.6,3910.5 L414.8,3911.2 L417.9,3911.8 L421.1,3912.6 L424.2,3913.4 L427.4,3914.3 L430.5,3915.3 L433.6,3916.4 L436.8,3917.5 L439.9,3918.8 L443.1,3920.1 L446.2,3921.4 L449.4,3922.9 L452.5,3924.4 L455.7,3926.0 L458.8,3927.6 L462.0,3929.2 L465.1,3931.0 L468.3,3932.7 L471.4,3934.5 L474.6,3936.4 L477.7,3938.3 L480.9,3940.2 L484.0,3942.1 L487.1,3944.1 L490.3,3946.1 L493.4,3948.1 L496.6,3950.1 L499.7,3952.2 L502.9,3954.2 L506.0,3956.3 L509.2,3958.3 L512.3,3960.4 L515.5,3962.5 L518.6,3964.6 L521.8,3966.9 L524.9,3969.3 L528.1,3971.7 L531.2,3974.2 L534.4,3976.8 L537.5,3979.4 L540.7,3982.1 L543.8,3984.8 L546.9,3987.5 L550.1,3990.2 L553.2,3992.9 L556.4,3995.7 L559.5,3998.4 L562.7,4001.1 L565.8,4003.7 L569.0,4006.3 L572.1,4008.9 L575.3,4011.4 L578.4,4013.9 L581.6,4016.2 L584.7,4018.5 L587.9,4020.7 L591.0,4022.9 L594.2,4025.1 L597.3,4027.2 L600.4,4029.3 L603.6,4031.3 L606.7,4033.4 L609.9,4035.4 L613.0,4037.4 L616.2,4039.4 L619.3,4041.4 L622.5,4043.4 L625.6,4045.3 L628.8,4047.3 L631.9,4049.2 L635.1,4051.2 L638.2,4053.1 L641.4,4055.1 L644.5,4057.0 L647.7,4058.9 L650.8,4060.8 L653.9,4062.7 L657.1,4064.6 L660.2,4066.5 L663.4,4068.4 L666.5,4070.2 L669.7,4072.1 L672.8,4074.0 L676.0,4075.9 L679.1,4077.8 L682.3,4079.6 L685.4,4081.3 L688.6,4083.0 L691.7,4084.6 L694.9,4086.3 L698.0,4087.9 L701.2,4089.4 L704.3,4091.0 L707.4,4092.5 L710.6,4094.0 L713.7,4095.5 L716.9,4096.9 L720.0,4098.3 L723.2,4099.7 L726.3,4101.0 L729.5,4102.3 L732.6,4103.5 L735.8,4104.7 L738.9,4106.0 L742.1,4107.2 L745.2,4108.4 L748.4,4109.7 L751.5,4110.9 L754.7,4112.1 L757.8,4113.3 L760.9,4114.5 L764.1,4115.7 L767.2,4116.8 L770.4,4118.0 L773.5,4119.1 L776.7,4120.1 L779.8,4121.2 L783.0,4122.2 L786.1,4123.2 L789.3,4124.2 L792.4,4125.1 L795.6,4126.1 L798.7,4127.0 L801.9,4128.0 L805.0,4128.9 L808.2,4129.9 L811.3,4131.0 L814.4,4132.1 L817.6,4133.2 L820.7,4134.3 L823.9,4135.3 L827.0,4136.1 L830.2,4136.9 L833.3,4137.5 L836.5,4138.0 L839.6,4138.3 L842.8,4138.7 L845.9,4139.1 L849.1,4139.4 L852.2,4139.7 L855.4,4139.9 L858.5,4140.1 L861.7,4140.2 L864.8,4140.3 L867.9,4140.3 L871.1,4140.3 L874.2,4140.2 L877.4,4140.1 L880.5,4139.9 L883.7,4139.8 L886.8,4139.5 L890.0,4139.3 L893.1,4139.0 L896.3,4138.8 L899.4,4138.5 L902.6,4138.2 L905.7,4137.8 L908.9,4137.5 L912.0,4136.9 L915.2,4136.3 L918.3,4135.6 L921.4,4134.8 L924.6,4133.9 L927.7,4132.9 L930.9,4131.9 L934.0,4130.9 L937.2,4129.9 L940.3,4128.9 L943.5,4127.9 L946.6,4126.9 L949.8,4126.0 L952.9,4125.0 L956.1,4123.9 L959.2,4122.9 L962.4,4121.9 L965.5,4120.8 L968.7,4119.7 L971.8,4118.6 L974.9,4117.5 L978.1,4116.4 L981.2,4115.2 L984.4,4114.1 L987.5,4112.9 L990.7,4111.7 L993.8,4110.5 L997.0,4109.3 L1000.1,4108.1 L1003.3,4106.9 L1006.4,4105.7 L1009.6,4104.4 L1012.7,4103.2 L1015.9,4101.9 L1019.0,4100.7 L1022.2,4099.4 L1025.3,4098.1 L1028.4,4096.8 L1031.6,4095.6 L1034.7,4094.3 L1037.9,4093.0 L1041.0,4091.7 L1044.2,4090.4 L1047.3,4089.1 L1050.5,4087.8 L1053.6,4086.5 L1056.8,4085.2 L1059.9,4083.9 L1063.1,4082.6 L1066.2,4081.3 L1069.4,4079.9 L1072.5,4078.6 L1075.7,4077.2 L1078.8,4075.8 L1082.0,4074.4 L1085.1,4073.0 L1088.2,4071.5 L1091.4,4070.1 L1094.5,4068.7 L1097.7,4067.2 L1100.8,4065.8 L1104.0,4064.3 L1107.1,4062.8 L1110.3,4061.3 L1113.4,4059.9 L1116.6,4058.4 L1119.7,4056.9 L1122.9,4055.4 L1126.0,4053.9 L1129.2,4052.4 L1132.3,4050.9 L1135.5,4049.4 L1138.6,4047.9 L1141.7,4046.4 L1144.9,4044.9 L1148.0,4043.4 L1151.2,4041.9 L1154.3,4040.4 L1157.5,4038.9 L1160.6,4037.4 L1163.8,4035.9 L1166.9,4034.5 L1170.1,4033.0 L1173.2,4031.5 L1176.4,4030.1 L1179.5,4028.6 L1182.7,4027.2 L1185.8,4025.8 L1189.0,4024.4 L1192.1,4023.0 L1195.2,4021.6 L1198.4,4020.2 L1201.5,4018.8 L1204.7,4017.5 L1207.8,4016.1 L1211.0,4014.8 L1214.1,4013.5 L1217.3,4012.2 L1220.4,4010.9 L1223.6,4009.6 L1226.7,4008.3 L1229.9,4007.0 L1233.0,4005.7 L1236.2,4004.5 L1239.3,4003.2 L1242.5,4001.9 L1245.6,4000.7 L1248.7,3999.4 L1251.9,3998.2 L1255.0,3996.9 L1258.2,3995.7 L1261.3,3994.5 L1264.5,3993.2 L1267.6,3992.0 L1270.8,3990.8 L1273.9,3989.6 L1277.1,3988.4 L1280.2,3987.2 L1283.4,3986.0 L1286.5,3984.7 L1289.7,3983.5 L1292.8,3982.4 L1296.0,3981.2 L1299.1,3980.0 L1302.2,3978.8 L1305.4,3977.6 L1308.5,3976.4 L1311.7,3975.2 L1314.8,3974.1 L1318.0,3972.9 L1321.1,3971.7 L1324.3,3970.5 L1327.4,3969.4 L1330.6,3968.2 L1333.7,3967.0 L1336.9,3965.9 L1340.0,3964.7 L1343.2,3963.6 L1346.3,3962.4 L1349.5,3961.2 L1352.6,3960.1 L1355.7,3958.9 L1358.9,3957.8 L1362.0,3956.6 L1365.2,3955.5 L1368.3,3954.3 L1371.5,3953.2 L1374.6,3952.0 L1377.8,3950.9 L1380.9,3949.7 L1384.1,3948.6 L1387.2,3947.5 L1390.4,3946.4 L1393.5,3945.2 L1396.7,3944.1 L1399.8,3943.0 L1403.0,3941.9 L1406.1,3940.8 L1409.2,3939.6 L1412.4,3938.5 L1415.5,3937.4 L1418.7,3936.3 L1421.8,3935.2 L1425.0,3934.1 L1428.1,3933.0 L1431.3,3931.9 L1434.4,3930.8 L1437.6,3929.7 L1440.7,3928.7 L1443.9,3927.6 L1447.0,3926.5 L1450.2,3925.4 L1453.3,3924.3 L1456.5,3923.2 L1459.6,3922.1 L1462.7,3921.0 L1465.9,3920.0 L1469.0,3918.9 L1472.2,3917.8 L1475.3,3916.7 L1478.5,3915.6 L1481.6,3914.6 L1484.8,3913.5 L1487.9,3912.4 L1491.1,3911.3 L1494.2,3910.2 L1497.4,3909.1 L1500.5,3908.1 L1503.7,3907.0 L1506.8,3905.9 L1510.0,3904.8 L1513.1,3903.7 L1516.2,3902.6 L1519.4,3901.5 L1522.5,3900.4 L1525.7,3899.3 L1528.8,3898.2 L1532.0,3897.2 L1535.1,3896.1 L1538.3,3895.0 L1541.4,3893.9 L1544.6,3892.8 L1547.7,3891.7 L1550.9,3890.6 L1554.0,3889.5 L1557.2,3888.4 L1560.3,3887.3 L1563.5,3886.2 L1566.6,3885.1 L1569.7,3884.0 L1572.9,3882.9 L1576.0,3881.8 L1579.2,3880.7 L1582.3,3879.6 L1585.5,3878.5 L1588.6,3877.4 L1591.8,3876.3 L1594.9,3875.2 L1598.1,3874.1 L1601.2,3873.0 L1604.4,3871.9 L1607.5,3870.8 L1610.7,3869.8 L1613.8,3868.7 L1617.0,3867.6 L1620.1,3866.5 L1623.3,3865.4 L1626.4,3864.3 L1629.5,3863.2 L1632.7,3862.1 L1635.8,3861.0 L1639.0,3859.9 L1642.1,3858.8 L1645.3,3857.8 L1648.4,3856.7 L1651.6,3855.6 L1654.7,3854.5 L1657.9,3853.4 L1661.0,3852.3 L1664.2,3851.3 L1667.3,3850.2 L1670.5,3849.1 L1673.6,3848.0 L1676.8,3846.9 L1679.9,3845.9 L1683.0,3844.8 L1686.2,3843.7 L1689.3,3842.6 L1692.5,3841.6 L1695.6,3840.5 L1698.8,3839.4 L1701.9,3838.4 L1705.1,3837.3 L1708.2,3836.2 L1711.4,3835.2 L1714.5,3834.1 L1717.7,3833.1 L1720.8,3832.0 L1724.0,3830.9 L1727.1,3829.9 L1730.3,3828.8 L1733.4,3827.8 L1736.5,3826.7 L1739.7,3825.6 L1742.8,3824.6 L1746.0,3823.5 L1749.1,3822.5 L1752.3,3821.4 L1755.4,3820.4 L1758.6,3819.3 L1761.7,3818.3 L1764.9,3817.2 L1768.0,3816.1 L1771.2,3815.1 L1774.3,3814.0 L1777.5,3813.0 L1780.6,3811.9 L1783.8,3810.9 L1786.9,3809.8 L1790.0,3808.8 L1793.2,3807.7 L1796.3,3806.7 L1799.5,3805.6 L1802.6,3804.6 L1805.8,3803.5 L1808.9,3802.5 L1812.1,3801.4 L1815.2,3800.4 L1818.4,3799.3 L1821.5,3798.3 L1824.7,3797.2 L1827.8,3796.1 L1831.0,3795.1 L1834.1,3794.0 L1837.3,3793.0 L1840.4,3791.9" fill="none" stroke="#000" stroke-width="6.2" stroke-linecap="round" stroke-linejoin="round" stroke-dasharray="34.5 19.5 0 20 0 21.4"/>
</svg>
</body></html>
